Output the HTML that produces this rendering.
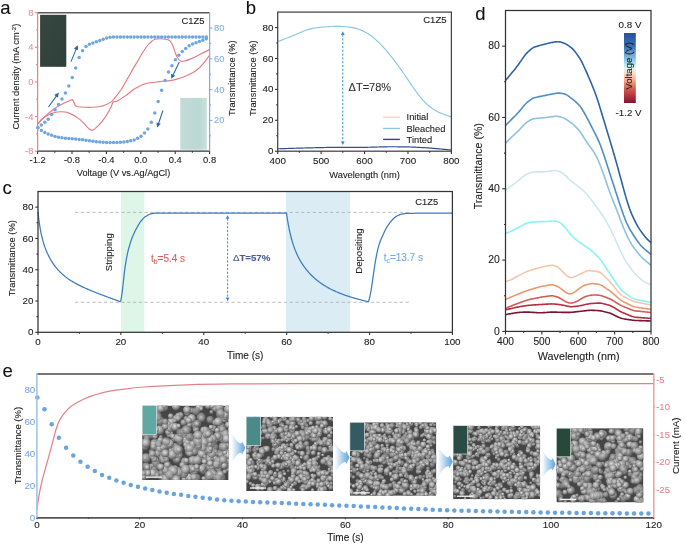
<!DOCTYPE html>
<html><head><meta charset="utf-8"><style>
html,body{margin:0;padding:0;background:#fff;}
svg{display:block;will-change:transform;}
text{font-family:"Liberation Sans",sans-serif;}
</style></head><body>
<svg width="685" height="545" viewBox="0 0 685 545" font-family="Liberation Sans, sans-serif">
<rect width="685" height="545" fill="#fff"/>
<defs><linearGradient id="ph1" x1="0" y1="0" x2="1" y2="1"><stop offset="0" stop-color="#36463f"/><stop offset="1" stop-color="#2f403c"/></linearGradient><linearGradient id="ph2" x1="0" y1="0" x2="1" y2="0"><stop offset="0" stop-color="#c2dcd8"/><stop offset="0.7" stop-color="#bcd8d4"/><stop offset="1" stop-color="#c8e0dc"/></linearGradient></defs>
<rect x="40.1" y="14.8" width="26.2" height="52" fill="url(#ph1)"/>
<rect x="180.3" y="97.9" width="26.5" height="51.8" fill="url(#ph2)"/>
<path d="M37.60,124.30 C38.70,123.10 41.35,119.73 44.20,117.10 C47.05,114.47 51.20,110.92 54.70,108.50 C58.20,106.08 62.57,103.97 65.20,102.60 C67.83,101.23 69.32,100.80 70.50,100.30 C71.68,99.80 71.78,99.40 72.30,99.60 C72.82,99.80 73.10,100.50 73.60,101.50 C74.10,102.50 74.57,104.72 75.30,105.60 C76.03,106.48 76.38,106.52 78.00,106.80 C79.62,107.08 82.53,107.22 85.00,107.30 C87.47,107.38 90.30,107.43 92.80,107.30 C95.30,107.17 97.95,106.88 100.00,106.50 C102.05,106.12 103.23,105.77 105.10,105.00 C106.97,104.23 109.52,103.17 111.20,101.90 C112.88,100.63 113.52,99.50 115.20,97.40 C116.88,95.30 119.12,92.67 121.30,89.30 C123.48,85.93 126.28,80.73 128.30,77.20 C130.32,73.67 131.72,70.97 133.40,68.10 C135.08,65.23 136.80,62.68 138.40,60.00 C140.00,57.32 141.40,54.50 143.00,52.00 C144.60,49.50 146.50,46.83 148.00,45.00 C149.50,43.17 150.83,41.97 152.00,41.00 C153.17,40.03 153.67,39.57 155.00,39.20 C156.33,38.83 158.17,38.78 160.00,38.80 C161.83,38.82 164.42,39.00 166.00,39.30 C167.58,39.60 168.58,39.98 169.50,40.60 C170.42,41.22 170.83,41.85 171.50,43.00 C172.17,44.15 172.83,45.75 173.50,47.50 C174.17,49.25 174.83,51.78 175.50,53.50 C176.17,55.22 176.75,56.62 177.50,57.80 C178.25,58.98 179.25,60.00 180.00,60.60 C180.75,61.20 181.17,61.33 182.00,61.40 C182.83,61.47 183.83,61.30 185.00,61.00 C186.17,60.70 187.33,60.27 189.00,59.60 C190.67,58.93 192.83,58.05 195.00,57.00 C197.17,55.95 199.57,54.53 202.00,53.30 C204.43,52.07 208.33,50.22 209.60,49.60" fill="none" stroke="#e47a82" stroke-width="1.15"/>
<path d="M37.60,124.30 C38.17,123.58 39.47,121.42 41.00,120.00 C42.53,118.58 44.80,116.97 46.80,115.80 C48.80,114.63 50.58,113.67 53.00,113.00 C55.42,112.33 58.60,111.78 61.30,111.80 C64.00,111.82 66.35,112.00 69.20,113.10 C72.05,114.20 75.93,116.68 78.40,118.40 C80.87,120.12 82.57,122.00 84.00,123.40 C85.43,124.80 86.08,125.82 87.00,126.80 C87.92,127.78 88.75,128.73 89.50,129.30 C90.25,129.87 90.83,130.13 91.50,130.20 C92.17,130.27 92.75,130.12 93.50,129.70 C94.25,129.28 95.08,128.52 96.00,127.70 C96.92,126.88 98.00,125.80 99.00,124.80 C100.00,123.80 100.50,123.70 102.00,121.70 C103.50,119.70 106.47,115.33 108.00,112.80 C109.53,110.27 110.33,108.30 111.20,106.50 C112.07,104.70 112.20,102.93 113.20,102.00 C114.20,101.07 115.18,101.92 117.20,100.90 C119.22,99.88 122.27,98.00 125.30,95.90 C128.33,93.80 132.12,90.33 135.40,88.30 C138.68,86.27 140.98,84.82 145.00,83.70 C149.02,82.58 155.33,82.12 159.50,81.60 C163.67,81.08 167.25,80.97 170.00,80.60 C172.75,80.23 173.67,80.03 176.00,79.40 C178.33,78.77 181.25,77.90 184.00,76.80 C186.75,75.70 190.17,74.10 192.50,72.80 C194.83,71.50 196.35,70.37 198.00,69.00 C199.65,67.63 201.07,66.07 202.40,64.60 C203.73,63.13 204.80,61.80 206.00,60.20 C207.20,58.60 209.00,55.87 209.60,55.00" fill="none" stroke="#e47a82" stroke-width="1.15"/>
<circle cx="37.90" cy="127.38" r="1.75" fill="#6ea6de"/>
<circle cx="37.90" cy="127.84" r="1.75" fill="#6ea6de"/>
<circle cx="41.34" cy="124.89" r="1.75" fill="#6ea6de"/>
<circle cx="41.34" cy="130.58" r="1.75" fill="#6ea6de"/>
<circle cx="44.77" cy="122.15" r="1.75" fill="#6ea6de"/>
<circle cx="44.77" cy="132.57" r="1.75" fill="#6ea6de"/>
<circle cx="48.21" cy="119.15" r="1.75" fill="#6ea6de"/>
<circle cx="48.21" cy="134.02" r="1.75" fill="#6ea6de"/>
<circle cx="51.65" cy="114.45" r="1.75" fill="#6ea6de"/>
<circle cx="51.65" cy="135.29" r="1.75" fill="#6ea6de"/>
<circle cx="55.08" cy="109.66" r="1.75" fill="#6ea6de"/>
<circle cx="55.08" cy="136.49" r="1.75" fill="#6ea6de"/>
<circle cx="58.52" cy="104.56" r="1.75" fill="#6ea6de"/>
<circle cx="58.52" cy="137.24" r="1.75" fill="#6ea6de"/>
<circle cx="61.96" cy="98.90" r="1.75" fill="#6ea6de"/>
<circle cx="61.96" cy="137.83" r="1.75" fill="#6ea6de"/>
<circle cx="65.40" cy="93.11" r="1.75" fill="#6ea6de"/>
<circle cx="65.40" cy="138.22" r="1.75" fill="#6ea6de"/>
<circle cx="68.83" cy="86.02" r="1.75" fill="#6ea6de"/>
<circle cx="68.83" cy="138.53" r="1.75" fill="#6ea6de"/>
<circle cx="72.27" cy="77.47" r="1.75" fill="#6ea6de"/>
<circle cx="72.27" cy="138.81" r="1.75" fill="#6ea6de"/>
<circle cx="75.71" cy="67.88" r="1.75" fill="#6ea6de"/>
<circle cx="75.71" cy="139.11" r="1.75" fill="#6ea6de"/>
<circle cx="79.14" cy="57.61" r="1.75" fill="#6ea6de"/>
<circle cx="79.14" cy="139.42" r="1.75" fill="#6ea6de"/>
<circle cx="82.58" cy="50.77" r="1.75" fill="#6ea6de"/>
<circle cx="82.58" cy="139.84" r="1.75" fill="#6ea6de"/>
<circle cx="86.02" cy="46.39" r="1.75" fill="#6ea6de"/>
<circle cx="86.02" cy="140.35" r="1.75" fill="#6ea6de"/>
<circle cx="89.45" cy="44.35" r="1.75" fill="#6ea6de"/>
<circle cx="89.45" cy="140.80" r="1.75" fill="#6ea6de"/>
<circle cx="92.89" cy="43.12" r="1.75" fill="#6ea6de"/>
<circle cx="92.89" cy="141.35" r="1.75" fill="#6ea6de"/>
<circle cx="96.33" cy="41.66" r="1.75" fill="#6ea6de"/>
<circle cx="96.33" cy="141.72" r="1.75" fill="#6ea6de"/>
<circle cx="99.77" cy="40.54" r="1.75" fill="#6ea6de"/>
<circle cx="99.77" cy="142.03" r="1.75" fill="#6ea6de"/>
<circle cx="103.20" cy="39.33" r="1.75" fill="#6ea6de"/>
<circle cx="103.20" cy="142.31" r="1.75" fill="#6ea6de"/>
<circle cx="106.64" cy="38.12" r="1.75" fill="#6ea6de"/>
<circle cx="106.64" cy="142.40" r="1.75" fill="#6ea6de"/>
<circle cx="110.08" cy="37.33" r="1.75" fill="#6ea6de"/>
<circle cx="110.08" cy="142.60" r="1.75" fill="#6ea6de"/>
<circle cx="113.51" cy="37.01" r="1.75" fill="#6ea6de"/>
<circle cx="113.51" cy="142.59" r="1.75" fill="#6ea6de"/>
<circle cx="116.95" cy="37.00" r="1.75" fill="#6ea6de"/>
<circle cx="116.95" cy="142.39" r="1.75" fill="#6ea6de"/>
<circle cx="120.39" cy="37.00" r="1.75" fill="#6ea6de"/>
<circle cx="120.39" cy="142.18" r="1.75" fill="#6ea6de"/>
<circle cx="123.82" cy="37.00" r="1.75" fill="#6ea6de"/>
<circle cx="123.82" cy="141.89" r="1.75" fill="#6ea6de"/>
<circle cx="127.26" cy="37.00" r="1.75" fill="#6ea6de"/>
<circle cx="127.26" cy="141.47" r="1.75" fill="#6ea6de"/>
<circle cx="130.70" cy="37.00" r="1.75" fill="#6ea6de"/>
<circle cx="130.70" cy="140.75" r="1.75" fill="#6ea6de"/>
<circle cx="134.14" cy="37.00" r="1.75" fill="#6ea6de"/>
<circle cx="134.14" cy="139.88" r="1.75" fill="#6ea6de"/>
<circle cx="137.57" cy="37.00" r="1.75" fill="#6ea6de"/>
<circle cx="137.57" cy="138.36" r="1.75" fill="#6ea6de"/>
<circle cx="141.01" cy="37.00" r="1.75" fill="#6ea6de"/>
<circle cx="141.01" cy="136.29" r="1.75" fill="#6ea6de"/>
<circle cx="144.45" cy="37.00" r="1.75" fill="#6ea6de"/>
<circle cx="144.45" cy="133.05" r="1.75" fill="#6ea6de"/>
<circle cx="147.88" cy="37.00" r="1.75" fill="#6ea6de"/>
<circle cx="147.88" cy="128.94" r="1.75" fill="#6ea6de"/>
<circle cx="151.32" cy="37.00" r="1.75" fill="#6ea6de"/>
<circle cx="151.32" cy="122.37" r="1.75" fill="#6ea6de"/>
<circle cx="154.76" cy="37.00" r="1.75" fill="#6ea6de"/>
<circle cx="154.76" cy="112.91" r="1.75" fill="#6ea6de"/>
<circle cx="158.19" cy="37.00" r="1.75" fill="#6ea6de"/>
<circle cx="158.19" cy="101.59" r="1.75" fill="#6ea6de"/>
<circle cx="161.63" cy="37.00" r="1.75" fill="#6ea6de"/>
<circle cx="161.63" cy="90.32" r="1.75" fill="#6ea6de"/>
<circle cx="165.07" cy="37.00" r="1.75" fill="#6ea6de"/>
<circle cx="165.07" cy="80.59" r="1.75" fill="#6ea6de"/>
<circle cx="168.51" cy="37.00" r="1.75" fill="#6ea6de"/>
<circle cx="168.51" cy="72.11" r="1.75" fill="#6ea6de"/>
<circle cx="171.94" cy="37.00" r="1.75" fill="#6ea6de"/>
<circle cx="171.94" cy="65.63" r="1.75" fill="#6ea6de"/>
<circle cx="175.38" cy="37.00" r="1.75" fill="#6ea6de"/>
<circle cx="175.38" cy="59.85" r="1.75" fill="#6ea6de"/>
<circle cx="178.82" cy="37.00" r="1.75" fill="#6ea6de"/>
<circle cx="178.82" cy="55.17" r="1.75" fill="#6ea6de"/>
<circle cx="182.25" cy="37.00" r="1.75" fill="#6ea6de"/>
<circle cx="182.25" cy="51.57" r="1.75" fill="#6ea6de"/>
<circle cx="185.69" cy="37.00" r="1.75" fill="#6ea6de"/>
<circle cx="185.69" cy="48.58" r="1.75" fill="#6ea6de"/>
<circle cx="189.13" cy="37.00" r="1.75" fill="#6ea6de"/>
<circle cx="189.13" cy="45.66" r="1.75" fill="#6ea6de"/>
<circle cx="192.56" cy="37.00" r="1.75" fill="#6ea6de"/>
<circle cx="192.56" cy="44.10" r="1.75" fill="#6ea6de"/>
<circle cx="196.00" cy="37.00" r="1.75" fill="#6ea6de"/>
<circle cx="196.00" cy="42.72" r="1.75" fill="#6ea6de"/>
<circle cx="199.44" cy="37.00" r="1.75" fill="#6ea6de"/>
<circle cx="199.44" cy="41.52" r="1.75" fill="#6ea6de"/>
<circle cx="202.88" cy="37.00" r="1.75" fill="#6ea6de"/>
<circle cx="202.88" cy="40.13" r="1.75" fill="#6ea6de"/>
<circle cx="206.31" cy="37.00" r="1.75" fill="#6ea6de"/>
<circle cx="206.31" cy="38.68" r="1.75" fill="#6ea6de"/>
<line x1="48.50" y1="107.00" x2="56.66" y2="95.59" stroke="#2a68a4" stroke-width="1.05" />
<path d="M58.80,92.60 L57.99,97.68 L54.25,95.00 Z" fill="#2a68a4"/>
<line x1="71.00" y1="61.60" x2="76.39" y2="48.60" stroke="#2a68a4" stroke-width="1.05" />
<path d="M77.80,45.20 L78.16,50.33 L73.91,48.57 Z" fill="#2a68a4"/>
<line x1="179.30" y1="62.00" x2="172.80" y2="75.49" stroke="#2a68a4" stroke-width="1.05" />
<path d="M171.20,78.80 L171.13,73.66 L175.27,75.66 Z" fill="#2a68a4"/>
<line x1="162.90" y1="110.50" x2="158.37" y2="124.01" stroke="#2a68a4" stroke-width="1.05" />
<path d="M157.20,127.50 L156.48,122.41 L160.84,123.87 Z" fill="#2a68a4"/>
<line x1="37.60" y1="12.70" x2="209.60" y2="12.70" stroke="#5a5a5a" stroke-width="1.5" />
<line x1="37.60" y1="151.20" x2="209.60" y2="151.20" stroke="#333" stroke-width="1.25" />
<line x1="37.60" y1="12.10" x2="37.60" y2="151.80" stroke="#e3848c" stroke-width="1.25" />
<line x1="209.60" y1="12.10" x2="209.60" y2="151.80" stroke="#7cb0e2" stroke-width="1.25" />
<line x1="37.60" y1="12.70" x2="34.90" y2="12.70" stroke="#e3848c" stroke-width="1.1" />
<text x="33.40" y="15.67" font-size="9.4" fill="#e8929a" stroke="#e8929a" stroke-width="0.1" text-anchor="end" >8</text>
<line x1="37.60" y1="47.33" x2="34.90" y2="47.33" stroke="#e3848c" stroke-width="1.1" />
<text x="33.40" y="50.29" font-size="9.4" fill="#e8929a" stroke="#e8929a" stroke-width="0.1" text-anchor="end" >4</text>
<line x1="37.60" y1="81.95" x2="34.90" y2="81.95" stroke="#e3848c" stroke-width="1.1" />
<text x="33.40" y="84.92" font-size="9.4" fill="#e8929a" stroke="#e8929a" stroke-width="0.1" text-anchor="end" >0</text>
<line x1="37.60" y1="116.57" x2="34.90" y2="116.57" stroke="#e3848c" stroke-width="1.1" />
<text x="33.40" y="119.54" font-size="9.4" fill="#e8929a" stroke="#e8929a" stroke-width="0.1" text-anchor="end" >-4</text>
<line x1="37.60" y1="151.20" x2="34.90" y2="151.20" stroke="#e3848c" stroke-width="1.1" />
<text x="33.40" y="154.16" font-size="9.4" fill="#e8929a" stroke="#e8929a" stroke-width="0.1" text-anchor="end" >-8</text>
<line x1="37.60" y1="30.01" x2="36.10" y2="30.01" stroke="#e3848c" stroke-width="1.1" />
<line x1="37.60" y1="64.64" x2="36.10" y2="64.64" stroke="#e3848c" stroke-width="1.1" />
<line x1="37.60" y1="99.26" x2="36.10" y2="99.26" stroke="#e3848c" stroke-width="1.1" />
<line x1="37.60" y1="133.89" x2="36.10" y2="133.89" stroke="#e3848c" stroke-width="1.1" />
<line x1="209.60" y1="120.42" x2="212.30" y2="120.42" stroke="#7cb0e2" stroke-width="1.1" />
<text x="214.00" y="123.39" font-size="9.4" fill="#84b2de" stroke="#84b2de" stroke-width="0.1" text-anchor="start" >20</text>
<line x1="209.60" y1="89.64" x2="212.30" y2="89.64" stroke="#7cb0e2" stroke-width="1.1" />
<text x="214.00" y="92.61" font-size="9.4" fill="#84b2de" stroke="#84b2de" stroke-width="0.1" text-anchor="start" >40</text>
<line x1="209.60" y1="58.86" x2="212.30" y2="58.86" stroke="#7cb0e2" stroke-width="1.1" />
<text x="214.00" y="61.83" font-size="9.4" fill="#84b2de" stroke="#84b2de" stroke-width="0.1" text-anchor="start" >60</text>
<line x1="209.60" y1="28.08" x2="212.30" y2="28.08" stroke="#7cb0e2" stroke-width="1.1" />
<text x="214.00" y="31.05" font-size="9.4" fill="#84b2de" stroke="#84b2de" stroke-width="0.1" text-anchor="start" >80</text>
<line x1="209.60" y1="135.81" x2="211.10" y2="135.81" stroke="#7cb0e2" stroke-width="1.1" />
<line x1="209.60" y1="105.03" x2="211.10" y2="105.03" stroke="#7cb0e2" stroke-width="1.1" />
<line x1="209.60" y1="74.25" x2="211.10" y2="74.25" stroke="#7cb0e2" stroke-width="1.1" />
<line x1="209.60" y1="43.47" x2="211.10" y2="43.47" stroke="#7cb0e2" stroke-width="1.1" />
<line x1="37.60" y1="151.20" x2="37.60" y2="153.90" stroke="#333" stroke-width="1.1" />
<text x="37.60" y="163.07" font-size="9.4" fill="#222" stroke="#222" stroke-width="0.1" text-anchor="middle" >-1.2</text>
<line x1="72.00" y1="151.20" x2="72.00" y2="153.90" stroke="#333" stroke-width="1.1" />
<text x="72.00" y="163.07" font-size="9.4" fill="#222" stroke="#222" stroke-width="0.1" text-anchor="middle" >-0.8</text>
<line x1="106.40" y1="151.20" x2="106.40" y2="153.90" stroke="#333" stroke-width="1.1" />
<text x="106.40" y="163.07" font-size="9.4" fill="#222" stroke="#222" stroke-width="0.1" text-anchor="middle" >-0.4</text>
<line x1="140.80" y1="151.20" x2="140.80" y2="153.90" stroke="#333" stroke-width="1.1" />
<text x="140.80" y="163.07" font-size="9.4" fill="#222" stroke="#222" stroke-width="0.1" text-anchor="middle" >0.0</text>
<line x1="175.20" y1="151.20" x2="175.20" y2="153.90" stroke="#333" stroke-width="1.1" />
<text x="175.20" y="163.07" font-size="9.4" fill="#222" stroke="#222" stroke-width="0.1" text-anchor="middle" >0.4</text>
<line x1="209.60" y1="151.20" x2="209.60" y2="153.90" stroke="#333" stroke-width="1.1" />
<text x="209.60" y="163.07" font-size="9.4" fill="#222" stroke="#222" stroke-width="0.1" text-anchor="middle" >0.8</text>
<line x1="54.80" y1="151.20" x2="54.80" y2="152.70" stroke="#333" stroke-width="1.1" />
<line x1="89.20" y1="151.20" x2="89.20" y2="152.70" stroke="#333" stroke-width="1.1" />
<line x1="123.60" y1="151.20" x2="123.60" y2="152.70" stroke="#333" stroke-width="1.1" />
<line x1="158.00" y1="151.20" x2="158.00" y2="152.70" stroke="#333" stroke-width="1.1" />
<line x1="192.40" y1="151.20" x2="192.40" y2="152.70" stroke="#333" stroke-width="1.1" />
<text x="123.50" y="175.60" font-size="9.2" fill="#222" stroke="#222" stroke-width="0.1" text-anchor="middle" >Voltage (V vs.Ag/AgCl)</text>
<text transform="translate(18.8,76.6) rotate(-90)" font-size="9.3" fill="#222" stroke="#222" stroke-width="0.1" text-anchor="middle">Current density (mA cm<tspan dy="-3.2" font-size="6.2">-2</tspan><tspan dy="3.2">)</tspan></text>
<text transform="translate(235.00,78.20) rotate(-90)" font-size="9.3" fill="#222" stroke="#222" stroke-width="0.1" text-anchor="middle">Transmittance (%)</text>
<text x="192.90" y="24.00" font-size="9.4" fill="#222" stroke="#222" stroke-width="0.1" text-anchor="middle" >C1Z5</text>
<text x="0.30" y="13.90" font-size="18.5" fill="#111" stroke="#111" stroke-width="0.1" text-anchor="start" >a</text>
<path d="M277.70,41.60 L278.70,41.22 L279.70,40.85 L280.70,40.47 L281.70,40.09 L282.70,39.72 L283.70,39.34 L284.70,38.96 L285.70,38.58 L286.70,38.20 L287.70,37.81 L288.70,37.41 L289.70,37.01 L290.70,36.61 L291.70,36.20 L292.70,35.79 L293.70,35.38 L294.70,34.96 L295.70,34.54 L296.70,34.12 L297.70,33.69 L298.70,33.25 L299.70,32.81 L300.70,32.36 L301.70,31.93 L302.70,31.50 L303.70,31.08 L304.70,30.69 L305.70,30.32 L306.70,29.97 L307.70,29.66 L308.70,29.36 L309.70,29.08 L310.70,28.82 L311.70,28.59 L312.70,28.38 L313.70,28.20 L314.70,28.04 L315.70,27.90 L316.70,27.77 L317.70,27.64 L318.70,27.52 L319.70,27.40 L320.70,27.28 L321.70,27.17 L322.70,27.06 L323.70,26.96 L324.70,26.87 L325.70,26.80 L326.70,26.74 L327.70,26.68 L328.70,26.64 L329.70,26.59 L330.70,26.55 L331.70,26.51 L332.70,26.47 L333.70,26.44 L334.70,26.41 L335.70,26.39 L336.70,26.38 L337.70,26.38 L338.70,26.39 L339.70,26.41 L340.70,26.44 L341.70,26.47 L342.70,26.51 L343.70,26.56 L344.70,26.62 L345.70,26.70 L346.70,26.79 L347.70,26.89 L348.70,27.01 L349.70,27.15 L350.70,27.31 L351.70,27.48 L352.70,27.68 L353.70,27.91 L354.70,28.15 L355.70,28.40 L356.70,28.67 L357.70,28.95 L358.70,29.26 L359.70,29.59 L360.70,29.97 L361.70,30.40 L362.70,30.86 L363.70,31.37 L364.70,31.90 L365.70,32.45 L366.70,33.01 L367.70,33.59 L368.70,34.19 L369.70,34.81 L370.70,35.49 L371.70,36.22 L372.70,37.00 L373.70,37.84 L374.70,38.72 L375.70,39.63 L376.70,40.55 L377.70,41.50 L378.70,42.45 L379.70,43.43 L380.70,44.43 L381.70,45.46 L382.70,46.50 L383.70,47.56 L384.70,48.65 L385.70,49.77 L386.70,50.91 L387.70,52.09 L388.70,53.30 L389.70,54.53 L390.70,55.78 L391.70,57.05 L392.70,58.34 L393.70,59.64 L394.70,60.96 L395.70,62.30 L396.70,63.64 L397.70,65.00 L398.70,66.37 L399.70,67.77 L400.70,69.17 L401.70,70.60 L402.70,72.04 L403.70,73.49 L404.70,74.95 L405.70,76.42 L406.70,77.90 L407.70,79.38 L408.70,80.88 L409.70,82.37 L410.70,83.86 L411.70,85.33 L412.70,86.79 L413.70,88.23 L414.70,89.65 L415.70,91.05 L416.70,92.42 L417.70,93.76 L418.70,95.06 L419.70,96.33 L420.70,97.55 L421.70,98.72 L422.70,99.86 L423.70,100.95 L424.70,102.00 L425.70,103.00 L426.70,103.96 L427.70,104.86 L428.70,105.71 L429.70,106.52 L430.70,107.29 L431.70,108.03 L432.70,108.72 L433.70,109.38 L434.70,109.99 L435.70,110.58 L436.70,111.13 L437.70,111.66 L438.70,112.15 L439.70,112.63 L440.70,113.07 L441.70,113.49 L442.70,113.89 L443.70,114.27 L444.70,114.64 L445.70,115.00 L446.70,115.35 L447.70,115.69 L448.70,116.02 L449.70,116.35 L450.70,116.67 L451.20,116.84" fill="none" stroke="#8cc6e4" stroke-width="1.15"/>
<path d="M277.70,148.80 L278.70,148.77 L279.70,148.74 L280.70,148.71 L281.70,148.67 L282.70,148.64 L283.70,148.61 L284.70,148.58 L285.70,148.55 L286.70,148.52 L287.70,148.49 L288.70,148.45 L289.70,148.42 L290.70,148.39 L291.70,148.36 L292.70,148.33 L293.70,148.30 L294.70,148.27 L295.70,148.24 L296.70,148.21 L297.70,148.18 L298.70,148.15 L299.70,148.12 L300.70,148.09 L301.70,148.07 L302.70,148.04 L303.70,148.01 L304.70,147.99 L305.70,147.96 L306.70,147.94 L307.70,147.91 L308.70,147.89 L309.70,147.86 L310.70,147.84 L311.70,147.82 L312.70,147.79 L313.70,147.77 L314.70,147.74 L315.70,147.72 L316.70,147.70 L317.70,147.67 L318.70,147.65 L319.70,147.62 L320.70,147.60 L321.70,147.57 L322.70,147.55 L323.70,147.53 L324.70,147.50 L325.70,147.48 L326.70,147.46 L327.70,147.43 L328.70,147.41 L329.70,147.39 L330.70,147.38 L331.70,147.36 L332.70,147.35 L333.70,147.35 L334.70,147.34 L335.70,147.34 L336.70,147.34 L337.70,147.34 L338.70,147.35 L339.70,147.35 L340.70,147.36 L341.70,147.36 L342.70,147.37 L343.70,147.38 L344.70,147.39 L345.70,147.39 L346.70,147.40 L347.70,147.41 L348.70,147.42 L349.70,147.42 L350.70,147.43 L351.70,147.44 L352.70,147.44 L353.70,147.45 L354.70,147.45 L355.70,147.46 L356.70,147.46 L357.70,147.46 L358.70,147.45 L359.70,147.45 L360.70,147.44 L361.70,147.42 L362.70,147.40 L363.70,147.38 L364.70,147.36 L365.70,147.34 L366.70,147.31 L367.70,147.29 L368.70,147.26 L369.70,147.23 L370.70,147.20 L371.70,147.18 L372.70,147.15 L373.70,147.12 L374.70,147.09 L375.70,147.07 L376.70,147.04 L377.70,147.01 L378.70,146.98 L379.70,146.96 L380.70,146.93 L381.70,146.90 L382.70,146.88 L383.70,146.85 L384.70,146.83 L385.70,146.81 L386.70,146.79 L387.70,146.77 L388.70,146.76 L389.70,146.75 L390.70,146.75 L391.70,146.75 L392.70,146.75 L393.70,146.75 L394.70,146.76 L395.70,146.77 L396.70,146.77 L397.70,146.78 L398.70,146.79 L399.70,146.80 L400.70,146.81 L401.70,146.82 L402.70,146.83 L403.70,146.84 L404.70,146.86 L405.70,146.87 L406.70,146.89 L407.70,146.91 L408.70,146.93 L409.70,146.96 L410.70,147.00 L411.70,147.03 L412.70,147.08 L413.70,147.12 L414.70,147.17 L415.70,147.22 L416.70,147.27 L417.70,147.33 L418.70,147.38 L419.70,147.43 L420.70,147.49 L421.70,147.54 L422.70,147.60 L423.70,147.66 L424.70,147.71 L425.70,147.77 L426.70,147.84 L427.70,147.90 L428.70,147.97 L429.70,148.04 L430.70,148.11 L431.70,148.19 L432.70,148.28 L433.70,148.36 L434.70,148.45 L435.70,148.54 L436.70,148.63 L437.70,148.72 L438.70,148.81 L439.70,148.91 L440.70,149.00 L441.70,149.09 L442.70,149.19 L443.70,149.28 L444.70,149.37 L445.70,149.47 L446.70,149.56 L447.70,149.65 L448.70,149.75 L449.70,149.84 L450.70,149.93 L451.20,149.98" fill="none" stroke="#30508f" stroke-width="1.2"/>
<line x1="342.80" y1="34.50" x2="342.80" y2="141.80" stroke="#3d8ad6" stroke-width="1.0" stroke-dasharray="2.2,1.6"/>
<path d="M342.80,31.30 L344.70,34.90 L340.90,34.90 Z" fill="#3d8ad6"/>
<path d="M342.80,145.00 L340.90,141.40 L344.70,141.40 Z" fill="#3d8ad6"/>
<text x="348.60" y="91.40" font-size="11" fill="#333" stroke="#333" stroke-width="0.1" text-anchor="start" >ΔT=78%</text>
<line x1="383.10" y1="117.20" x2="399.90" y2="117.20" stroke="#f3cbb6" stroke-width="1.2" />
<line x1="383.10" y1="128.40" x2="399.90" y2="128.40" stroke="#8cc6e4" stroke-width="1.2" />
<line x1="383.10" y1="139.40" x2="399.90" y2="139.40" stroke="#2a4a8e" stroke-width="1.4" />
<text x="406.60" y="120.30" font-size="9.3" fill="#222" stroke="#222" stroke-width="0.1" text-anchor="start" >Initial</text>
<text x="406.60" y="131.70" font-size="9.3" fill="#222" stroke="#222" stroke-width="0.1" text-anchor="start" >Bleached</text>
<text x="406.60" y="142.70" font-size="9.3" fill="#222" stroke="#222" stroke-width="0.1" text-anchor="start" >Tinted</text>
<text x="434.90" y="23.30" font-size="9.6" fill="#222" stroke="#222" stroke-width="0.1" text-anchor="middle" >C1Z5</text>
<rect x="277.7" y="12.1" width="173.7" height="139.1" fill="none" stroke="#444" stroke-width="1.25"/>
<line x1="277.70" y1="151.20" x2="275.00" y2="151.20" stroke="#333" stroke-width="1.1" />
<text x="273.40" y="154.31" font-size="9.8" fill="#222" stroke="#222" stroke-width="0.1" text-anchor="end" >0</text>
<line x1="277.70" y1="120.29" x2="275.00" y2="120.29" stroke="#333" stroke-width="1.1" />
<text x="273.40" y="123.40" font-size="9.8" fill="#222" stroke="#222" stroke-width="0.1" text-anchor="end" >20</text>
<line x1="277.70" y1="89.38" x2="275.00" y2="89.38" stroke="#333" stroke-width="1.1" />
<text x="273.40" y="92.49" font-size="9.8" fill="#222" stroke="#222" stroke-width="0.1" text-anchor="end" >40</text>
<line x1="277.70" y1="58.47" x2="275.00" y2="58.47" stroke="#333" stroke-width="1.1" />
<text x="273.40" y="61.58" font-size="9.8" fill="#222" stroke="#222" stroke-width="0.1" text-anchor="end" >60</text>
<line x1="277.70" y1="27.56" x2="275.00" y2="27.56" stroke="#333" stroke-width="1.1" />
<text x="273.40" y="30.66" font-size="9.8" fill="#222" stroke="#222" stroke-width="0.1" text-anchor="end" >80</text>
<line x1="277.70" y1="135.74" x2="276.20" y2="135.74" stroke="#333" stroke-width="1.1" />
<line x1="277.70" y1="104.83" x2="276.20" y2="104.83" stroke="#333" stroke-width="1.1" />
<line x1="277.70" y1="73.92" x2="276.20" y2="73.92" stroke="#333" stroke-width="1.1" />
<line x1="277.70" y1="43.01" x2="276.20" y2="43.01" stroke="#333" stroke-width="1.1" />
<line x1="277.70" y1="151.20" x2="277.70" y2="153.90" stroke="#333" stroke-width="1.1" />
<text x="277.70" y="163.81" font-size="9.8" fill="#222" stroke="#222" stroke-width="0.1" text-anchor="middle" >400</text>
<line x1="321.12" y1="151.20" x2="321.12" y2="153.90" stroke="#333" stroke-width="1.1" />
<text x="321.12" y="163.81" font-size="9.8" fill="#222" stroke="#222" stroke-width="0.1" text-anchor="middle" >500</text>
<line x1="364.55" y1="151.20" x2="364.55" y2="153.90" stroke="#333" stroke-width="1.1" />
<text x="364.55" y="163.81" font-size="9.8" fill="#222" stroke="#222" stroke-width="0.1" text-anchor="middle" >600</text>
<line x1="407.98" y1="151.20" x2="407.98" y2="153.90" stroke="#333" stroke-width="1.1" />
<text x="407.98" y="163.81" font-size="9.8" fill="#222" stroke="#222" stroke-width="0.1" text-anchor="middle" >700</text>
<line x1="451.40" y1="151.20" x2="451.40" y2="153.90" stroke="#333" stroke-width="1.1" />
<text x="451.40" y="163.81" font-size="9.8" fill="#222" stroke="#222" stroke-width="0.1" text-anchor="middle" >800</text>
<line x1="299.41" y1="151.20" x2="299.41" y2="152.70" stroke="#333" stroke-width="1.1" />
<line x1="342.84" y1="151.20" x2="342.84" y2="152.70" stroke="#333" stroke-width="1.1" />
<line x1="386.26" y1="151.20" x2="386.26" y2="152.70" stroke="#333" stroke-width="1.1" />
<line x1="429.69" y1="151.20" x2="429.69" y2="152.70" stroke="#333" stroke-width="1.1" />
<text x="364.60" y="178.10" font-size="9.3" fill="#222" stroke="#222" stroke-width="0.1" text-anchor="middle" >Wavelength (nm)</text>
<text transform="translate(255.60,78.20) rotate(-90)" font-size="9.3" fill="#222" stroke="#222" stroke-width="0.1" text-anchor="middle">Transmittance (%)</text>
<text x="245.80" y="14.00" font-size="18.5" fill="#111" stroke="#111" stroke-width="0.1" text-anchor="start" >b</text>
<rect x="121.0" y="191.5" width="23.3" height="140.8" fill="#ddf6e8"/>
<rect x="286.0" y="191.5" width="64.2" height="140.8" fill="#dcecf4"/>
<line x1="75.00" y1="212.40" x2="408.70" y2="212.40" stroke="#b4b4b4" stroke-width="0.9" stroke-dasharray="3.2,2.6"/>
<line x1="75.00" y1="302.30" x2="408.70" y2="302.30" stroke="#b4b4b4" stroke-width="0.9" stroke-dasharray="3.2,2.6"/>
<path d="M38.00,211.92 L38.50,216.51 L39.00,220.55 L39.50,224.12 L40.00,227.31 L40.50,230.18 L41.00,232.77 L41.50,235.13 L42.00,237.29 L42.50,239.28 L43.00,241.12 L43.50,242.84 L44.00,244.45 L44.50,245.96 L45.00,247.39 L45.50,248.74 L46.00,250.02 L46.50,251.24 L47.00,252.41 L47.50,253.53 L48.00,254.60 L48.50,255.63 L49.00,256.62 L49.50,257.57 L50.00,258.49 L50.50,259.38 L51.00,260.24 L51.50,261.07 L52.00,261.87 L52.50,262.64 L53.00,263.40 L53.50,264.13 L54.00,264.84 L54.50,265.52 L55.00,266.19 L55.50,266.84 L56.00,267.47 L56.50,268.08 L57.00,268.68 L57.50,269.26 L58.00,269.83 L58.50,270.38 L59.00,270.91 L59.50,271.43 L60.00,271.94 L60.50,272.44 L61.00,272.92 L61.50,273.40 L62.00,273.86 L62.50,274.31 L63.00,274.75 L63.50,275.18 L64.00,275.60 L64.50,276.01 L65.00,276.42 L65.50,276.81 L66.00,277.20 L66.50,277.57 L67.00,277.95 L67.50,278.31 L68.00,278.67 L68.50,279.01 L69.00,279.36 L69.50,279.69 L70.00,280.03 L70.50,280.35 L71.00,280.67 L71.50,280.98 L72.00,281.29 L72.50,281.60 L73.00,281.90 L73.50,282.19 L74.00,282.48 L74.50,282.77 L75.00,283.05 L75.50,283.33 L76.00,283.60 L76.50,283.87 L77.00,284.14 L77.50,284.40 L78.00,284.66 L78.50,284.92 L79.00,285.17 L79.50,285.43 L80.00,285.67 L80.50,285.92 L81.00,286.16 L81.50,286.40 L82.00,286.64 L82.50,286.88 L83.00,287.11 L83.50,287.34 L84.00,287.57 L84.50,287.80 L85.00,288.03 L85.50,288.25 L86.00,288.47 L86.50,288.69 L87.00,288.91 L87.50,289.13 L88.00,289.34 L88.50,289.56 L89.00,289.77 L89.50,289.98 L90.00,290.19 L90.50,290.40 L91.00,290.61 L91.50,290.82 L92.00,291.02 L92.50,291.23 L93.00,291.43 L93.50,291.63 L94.00,291.84 L94.50,292.04 L95.00,292.24 L95.50,292.43 L96.00,292.63 L96.50,292.83 L97.00,293.03 L97.50,293.22 L98.00,293.42 L98.50,293.61 L99.00,293.81 L99.50,294.00 L100.00,294.19 L100.50,294.38 L101.00,294.58 L101.50,294.77 L102.00,294.96 L102.50,295.15 L103.00,295.34 L103.50,295.53 L104.00,295.71 L104.50,295.90 L105.00,296.09 L105.50,296.28 L106.00,296.46 L106.50,296.65 L107.00,296.84 L107.50,297.02 L108.00,297.21 L108.50,297.39 L109.00,297.58 L109.50,297.76 L110.00,297.95 L110.50,298.13 L111.00,298.32 L111.50,298.50 L112.00,298.68 L112.50,298.87 L113.00,299.05 L113.50,299.23 L114.00,299.41 L114.50,299.60 L115.00,299.78 L115.50,299.96 L116.00,300.14 L116.50,300.32 L117.00,300.51 L117.50,300.69 L118.00,300.87 L118.50,301.05 L119.00,301.23 L119.50,301.41 L120.00,301.59 L120.50,301.77 L120.60,301.81" fill="none" stroke="#3b7cc0" stroke-width="1.25" stroke-linejoin="round"/>
<path d="M286.40,212.64 L286.90,216.10 L287.40,219.31 L287.90,222.30 L288.40,225.09 L288.90,227.70 L289.40,230.14 L289.90,232.43 L290.40,234.58 L290.90,236.60 L291.40,238.51 L291.90,240.32 L292.40,242.02 L292.90,243.64 L293.40,245.18 L293.90,246.64 L294.40,248.03 L294.90,249.36 L295.40,250.63 L295.90,251.85 L296.40,253.01 L296.90,254.13 L297.40,255.21 L297.90,256.25 L298.40,257.25 L298.90,258.21 L299.40,259.14 L299.90,260.04 L300.40,260.91 L300.90,261.76 L301.40,262.58 L301.90,263.38 L302.40,264.15 L302.90,264.90 L303.40,265.63 L303.90,266.34 L304.40,267.04 L304.90,267.71 L305.40,268.37 L305.90,269.02 L306.40,269.65 L306.90,270.26 L307.40,270.86 L307.90,271.45 L308.40,272.02 L308.90,272.58 L309.40,273.13 L309.90,273.67 L310.40,274.20 L310.90,274.71 L311.40,275.22 L311.90,275.71 L312.40,276.20 L312.90,276.67 L313.40,277.14 L313.90,277.60 L314.40,278.05 L314.90,278.49 L315.40,278.92 L315.90,279.34 L316.40,279.76 L316.90,280.17 L317.40,280.57 L317.90,280.96 L318.40,281.35 L318.90,281.73 L319.40,282.11 L319.90,282.47 L320.40,282.84 L320.90,283.19 L321.40,283.54 L321.90,283.88 L322.40,284.22 L322.90,284.55 L323.40,284.88 L323.90,285.20 L324.40,285.51 L324.90,285.82 L325.40,286.13 L325.90,286.43 L326.40,286.73 L326.90,287.02 L327.40,287.31 L327.90,287.59 L328.40,287.87 L328.90,288.14 L329.40,288.41 L329.90,288.67 L330.40,288.94 L330.90,289.19 L331.40,289.45 L331.90,289.70 L332.40,289.94 L332.90,290.19 L333.40,290.42 L333.90,290.66 L334.40,290.89 L334.90,291.12 L335.40,291.35 L335.90,291.57 L336.40,291.79 L336.90,292.01 L337.40,292.22 L337.90,292.43 L338.40,292.64 L338.90,292.85 L339.40,293.05 L339.90,293.25 L340.40,293.45 L340.90,293.64 L341.40,293.84 L341.90,294.03 L342.40,294.21 L342.90,294.40 L343.40,294.58 L343.90,294.76 L344.40,294.94 L344.90,295.12 L345.40,295.29 L345.90,295.47 L346.40,295.64 L346.90,295.81 L347.40,295.97 L347.90,296.14 L348.40,296.30 L348.90,296.46 L349.40,296.62 L349.90,296.78 L350.40,296.94 L350.90,297.09 L351.40,297.25 L351.90,297.40 L352.40,297.55 L352.90,297.70 L353.40,297.84 L353.90,297.99 L354.40,298.13 L354.90,298.28 L355.40,298.42 L355.90,298.56 L356.40,298.70 L356.90,298.84 L357.40,298.97 L357.90,299.11 L358.40,299.24 L358.90,299.38 L359.40,299.51 L359.90,299.64 L360.40,299.77 L360.90,299.90 L361.40,300.03 L361.90,300.15 L362.40,300.28 L362.90,300.40 L363.40,300.53 L363.90,300.65 L364.40,300.77 L364.90,300.89 L365.40,301.01 L365.90,301.13 L366.40,301.25 L366.90,301.37 L367.40,301.49 L367.90,301.60 L368.40,301.72" fill="none" stroke="#3b7cc0" stroke-width="1.25" stroke-linejoin="round"/>
<path d="M120.60,301.60 L121.10,299.01 L121.60,296.13 L122.10,292.69 L122.60,288.66 L123.10,284.20 L123.60,279.59 L124.10,275.06 L124.60,270.79 L125.10,266.94 L125.60,263.57 L126.10,260.61 L126.60,257.89 L127.10,255.33 L127.60,252.94 L128.10,250.77 L128.60,248.83 L129.10,247.04 L129.60,245.34 L130.10,243.68 L130.60,242.06 L131.10,240.51 L131.60,239.07 L132.10,237.77 L132.60,236.57 L133.10,235.42 L133.60,234.29 L134.10,233.18 L134.60,232.09 L135.10,231.05 L135.60,230.06 L136.10,229.12 L136.60,228.21 L137.10,227.31 L137.60,226.42 L138.10,225.53 L138.60,224.65 L139.10,223.80 L139.60,223.00 L140.10,222.27 L140.60,221.62 L141.10,221.01 L141.60,220.43 L142.10,219.85 L142.60,219.28 L143.10,218.71 L143.60,218.16 L144.10,217.65 L144.60,217.21 L145.10,216.84 L145.60,216.51 L146.10,216.21 L146.60,215.92 L147.10,215.63 L147.60,215.34 L148.10,215.05 L148.60,214.76 L149.10,214.49 L149.60,214.25 L150.10,214.06 L150.60,213.92 L151.10,213.81 L151.60,213.72 L152.10,213.64 L152.60,213.56 L153.10,213.48 L153.60,213.39 L154.10,213.32 L154.60,213.24 L155.10,213.18 L155.60,213.13 L156.10,213.11 L156.60,213.09 L157.10,213.08 L157.60,213.08 L158.10,213.07 L158.60,213.07 L159.10,213.06 L159.60,213.06 L160.10,213.05 L160.60,213.05 L161.10,213.04 L161.60,213.04 L162.10,213.03 L162.60,213.03 L163.10,213.02 L163.60,213.01 L164.10,213.01 L164.60,213.01 L165.10,213.00 L165.60,213.00 L166.10,213.00 L166.60,213.00 L167.10,213.00 L167.60,213.00 L168.10,213.00 L168.60,213.00 L169.10,213.00 L169.60,213.00 L170.10,213.00 L170.60,213.00 L171.10,213.01 L171.60,213.01 L172.10,213.01 L172.60,213.01 L173.10,213.01 L173.60,213.01 L174.10,213.01 L174.60,213.01 L175.10,213.01 L175.60,213.01 L176.10,213.01 L176.60,213.01 L177.10,213.01 L177.60,213.01 L178.10,213.01 L178.60,213.01 L179.10,213.01 L179.60,213.01 L180.10,213.01 L180.60,213.01 L181.10,213.01 L181.60,213.01 L182.10,213.01 L182.60,213.01 L183.10,213.01 L183.60,213.02 L184.10,213.02 L184.60,213.02 L185.10,213.02 L185.60,213.02 L186.10,213.02 L186.60,213.02 L187.10,213.02 L187.60,213.02 L188.10,213.02 L188.60,213.02 L189.10,213.02 L189.60,213.02 L190.10,213.02 L190.60,213.02 L191.10,213.02 L191.60,213.02 L192.10,213.02 L192.60,213.02 L193.10,213.02 L193.60,213.02 L194.10,213.02 L194.60,213.02 L195.10,213.02 L195.60,213.03 L196.10,213.03 L196.60,213.03 L197.10,213.03 L197.60,213.03 L198.10,213.03 L198.60,213.03 L199.10,213.03 L199.60,213.03 L200.10,213.03 L200.60,213.03 L201.10,213.03 L201.60,213.03 L202.10,213.03 L202.60,213.03 L203.10,213.03 L203.60,213.03 L204.10,213.03 L204.60,213.03 L205.10,213.03 L205.60,213.03 L206.10,213.03 L206.60,213.03 L207.10,213.03 L207.60,213.04 L208.10,213.04 L208.60,213.04 L209.10,213.04 L209.60,213.04 L210.10,213.04 L210.60,213.04 L211.10,213.04 L211.60,213.04 L212.10,213.04 L212.60,213.04 L213.10,213.04 L213.60,213.04 L214.10,213.04 L214.60,213.04 L215.10,213.04 L215.60,213.04 L216.10,213.04 L216.60,213.04 L217.10,213.04 L217.60,213.04 L218.10,213.04 L218.60,213.04 L219.10,213.04 L219.60,213.04 L220.10,213.05 L220.60,213.05 L221.10,213.05 L221.60,213.05 L222.10,213.05 L222.60,213.05 L223.10,213.05 L223.60,213.05 L224.10,213.05 L224.60,213.05 L225.10,213.05 L225.60,213.05 L226.10,213.05 L226.60,213.05 L227.10,213.05 L227.60,213.05 L228.10,213.05 L228.60,213.05 L229.10,213.05 L229.60,213.05 L230.10,213.05 L230.60,213.05 L231.10,213.05 L231.60,213.05 L232.10,213.06 L232.60,213.06 L233.10,213.06 L233.60,213.06 L234.10,213.06 L234.60,213.06 L235.10,213.06 L235.60,213.06 L236.10,213.06 L236.60,213.06 L237.10,213.06 L237.60,213.06 L238.10,213.06 L238.60,213.06 L239.10,213.06 L239.60,213.06 L240.10,213.06 L240.60,213.06 L241.10,213.06 L241.60,213.06 L242.10,213.06 L242.60,213.06 L243.10,213.06 L243.60,213.06 L244.10,213.07 L244.60,213.07 L245.10,213.07 L245.60,213.07 L246.10,213.07 L246.60,213.07 L247.10,213.07 L247.60,213.07 L248.10,213.07 L248.60,213.07 L249.10,213.07 L249.60,213.07 L250.10,213.07 L250.60,213.07 L251.10,213.07 L251.60,213.07 L252.10,213.07 L252.60,213.07 L253.10,213.07 L253.60,213.07 L254.10,213.07 L254.60,213.07 L255.10,213.07 L255.60,213.07 L256.10,213.08 L256.60,213.08 L257.10,213.08 L257.60,213.08 L258.10,213.08 L258.60,213.08 L259.10,213.08 L259.60,213.08 L260.10,213.08 L260.60,213.08 L261.10,213.08 L261.60,213.08 L262.10,213.08 L262.60,213.08 L263.10,213.08 L263.60,213.08 L264.10,213.08 L264.60,213.08 L265.10,213.08 L265.60,213.08 L266.10,213.08 L266.60,213.08 L267.10,213.08 L267.60,213.08 L268.10,213.08 L268.60,213.09 L269.10,213.09 L269.60,213.09 L270.10,213.09 L270.60,213.09 L271.10,213.09 L271.60,213.09 L272.10,213.09 L272.60,213.09 L273.10,213.09 L273.60,213.09 L274.10,213.09 L274.60,213.09 L275.10,213.09 L275.60,213.09 L276.10,213.09 L276.60,213.09 L277.10,213.09 L277.60,213.09 L278.10,213.09 L278.60,213.09 L279.10,213.09 L279.60,213.09 L280.10,213.09 L280.60,213.10 L281.10,213.10 L281.60,213.10 L282.10,213.10 L282.60,213.10 L283.10,213.10 L283.60,213.10 L284.10,213.10 L284.60,213.10 L285.10,213.10 L285.60,213.10 L286.10,213.10 L286.35,213.10" fill="none" stroke="#3b7cc0" stroke-width="1.25" stroke-linejoin="round"/>
<path d="M368.40,302.00 L368.90,300.30 L369.40,298.50 L369.90,296.49 L370.40,294.18 L370.90,291.48 L371.40,288.41 L371.90,285.06 L372.40,281.56 L372.90,278.04 L373.40,274.54 L373.90,271.10 L374.40,267.75 L374.90,264.52 L375.40,261.45 L375.90,258.57 L376.40,255.87 L376.90,253.35 L377.40,251.02 L377.90,248.93 L378.40,247.04 L378.90,245.30 L379.40,243.67 L379.90,242.18 L380.40,240.83 L380.90,239.62 L381.40,238.49 L381.90,237.39 L382.40,236.30 L382.90,235.21 L383.40,234.10 L383.90,232.99 L384.40,231.87 L384.90,230.77 L385.40,229.72 L385.90,228.75 L386.40,227.87 L386.90,227.06 L387.40,226.28 L387.90,225.52 L388.40,224.78 L388.90,224.06 L389.40,223.37 L389.90,222.71 L390.40,222.09 L390.90,221.48 L391.40,220.88 L391.90,220.30 L392.40,219.73 L392.90,219.21 L393.40,218.72 L393.90,218.27 L394.40,217.83 L394.90,217.41 L395.40,216.99 L395.90,216.61 L396.40,216.27 L396.90,215.99 L397.40,215.74 L397.90,215.51 L398.40,215.29 L398.90,215.08 L399.40,214.87 L399.90,214.66 L400.40,214.48 L400.90,214.32 L401.40,214.19 L401.90,214.08 L402.40,213.98 L402.90,213.89 L403.40,213.80 L403.90,213.71 L404.40,213.63 L404.90,213.56 L405.40,213.50 L405.90,213.47 L406.40,213.44 L406.90,213.41 L407.40,213.39 L407.90,213.37 L408.40,213.35 L408.90,213.33 L409.40,213.31 L409.90,213.30 L410.40,213.29 L410.90,213.29 L411.40,213.28 L411.90,213.28 L412.40,213.27 L412.90,213.27 L413.40,213.26 L413.90,213.26 L414.40,213.25 L414.90,213.25 L415.40,213.24 L415.90,213.24 L416.40,213.23 L416.90,213.23 L417.40,213.22 L417.90,213.22 L418.40,213.22 L418.90,213.21 L419.40,213.21 L419.90,213.20 L420.40,213.20 L420.90,213.20 L421.40,213.20 L421.90,213.20 L422.40,213.20 L422.90,213.20 L423.40,213.20 L423.90,213.20 L424.40,213.20 L424.90,213.20 L425.40,213.20 L425.90,213.20 L426.40,213.20 L426.90,213.20 L427.40,213.20 L427.90,213.20 L428.40,213.20 L428.90,213.20 L429.40,213.20 L429.90,213.20 L430.40,213.20 L430.90,213.20 L431.40,213.20 L431.90,213.20 L432.40,213.20 L432.90,213.20 L433.40,213.20 L433.90,213.20 L434.40,213.20 L434.90,213.20 L435.40,213.20 L435.90,213.20 L436.40,213.20 L436.90,213.20 L437.40,213.20 L437.90,213.20 L438.40,213.20 L438.90,213.20 L439.40,213.20 L439.90,213.20 L440.40,213.20 L440.90,213.20 L441.40,213.20 L441.90,213.20 L442.40,213.20 L442.90,213.20 L443.40,213.20 L443.90,213.20 L444.40,213.20 L444.90,213.20 L445.40,213.20 L445.90,213.20 L446.40,213.20 L446.90,213.20 L447.40,213.20 L447.90,213.20 L448.40,213.20 L448.90,213.20 L449.40,213.20 L449.90,213.20 L450.40,213.20 L450.90,213.20 L451.40,213.20 L451.90,213.20 L452.40,213.20" fill="none" stroke="#3b7cc0" stroke-width="1.25" stroke-linejoin="round"/>
<line x1="227.60" y1="218.50" x2="227.60" y2="298.00" stroke="#3d8ad6" stroke-width="1.0" stroke-dasharray="2.2,1.6"/>
<path d="M227.60,215.20 L229.50,218.80 L225.70,218.80 Z" fill="#3d8ad6"/>
<path d="M227.60,301.20 L225.70,297.60 L229.50,297.60 Z" fill="#3d8ad6"/>
<text transform="translate(111.80,252.20) rotate(-90)" font-size="9.6" fill="#222" stroke="#222" stroke-width="0.1" text-anchor="middle">Stripping</text>
<text transform="translate(362.00,251.10) rotate(-90)" font-size="9.6" fill="#222" stroke="#222" stroke-width="0.1" text-anchor="middle">Depositing</text>
<text x="151.0" y="261.6" font-size="10" fill="#d9605a" stroke="#d9605a" stroke-width="0.1">t<tspan dy="2.2" font-size="6.8">b</tspan><tspan dy="-2.2">=5.4 s</tspan></text>
<text x="232.9" y="260.9" font-size="9.7" fill="#4a5f90" stroke="#4a5f90" stroke-width="0.1"><tspan>Δ</tspan><tspan font-weight="bold">T=57%</tspan></text>
<text x="383.7" y="260.8" font-size="10" fill="#74a9e4" stroke="#74a9e4" stroke-width="0.1">t<tspan dy="2.2" font-size="6.8">c</tspan><tspan dy="-2.2">=13.7 s</tspan></text>
<text x="426.80" y="204.90" font-size="9.4" fill="#222" stroke="#222" stroke-width="0.1" text-anchor="middle" >C1Z5</text>
<rect x="38.0" y="191.5" width="414.4" height="140.8" fill="none" stroke="#333" stroke-width="1.25"/>
<line x1="38.00" y1="332.30" x2="35.30" y2="332.30" stroke="#333" stroke-width="1.1" />
<text x="33.50" y="335.41" font-size="9.8" fill="#222" stroke="#222" stroke-width="0.1" text-anchor="end" >0</text>
<line x1="38.00" y1="301.01" x2="35.30" y2="301.01" stroke="#333" stroke-width="1.1" />
<text x="33.50" y="304.12" font-size="9.8" fill="#222" stroke="#222" stroke-width="0.1" text-anchor="end" >20</text>
<line x1="38.00" y1="269.72" x2="35.30" y2="269.72" stroke="#333" stroke-width="1.1" />
<text x="33.50" y="272.83" font-size="9.8" fill="#222" stroke="#222" stroke-width="0.1" text-anchor="end" >40</text>
<line x1="38.00" y1="238.43" x2="35.30" y2="238.43" stroke="#333" stroke-width="1.1" />
<text x="33.50" y="241.54" font-size="9.8" fill="#222" stroke="#222" stroke-width="0.1" text-anchor="end" >60</text>
<line x1="38.00" y1="207.14" x2="35.30" y2="207.14" stroke="#333" stroke-width="1.1" />
<text x="33.50" y="210.25" font-size="9.8" fill="#222" stroke="#222" stroke-width="0.1" text-anchor="end" >80</text>
<line x1="38.00" y1="316.66" x2="36.50" y2="316.66" stroke="#333" stroke-width="1.1" />
<line x1="38.00" y1="285.37" x2="36.50" y2="285.37" stroke="#333" stroke-width="1.1" />
<line x1="38.00" y1="254.08" x2="36.50" y2="254.08" stroke="#333" stroke-width="1.1" />
<line x1="38.00" y1="222.79" x2="36.50" y2="222.79" stroke="#333" stroke-width="1.1" />
<line x1="38.00" y1="332.30" x2="38.00" y2="335.00" stroke="#333" stroke-width="1.1" />
<text x="38.00" y="345.41" font-size="9.8" fill="#222" stroke="#222" stroke-width="0.1" text-anchor="middle" >0</text>
<line x1="120.88" y1="332.30" x2="120.88" y2="335.00" stroke="#333" stroke-width="1.1" />
<text x="120.88" y="345.41" font-size="9.8" fill="#222" stroke="#222" stroke-width="0.1" text-anchor="middle" >20</text>
<line x1="203.76" y1="332.30" x2="203.76" y2="335.00" stroke="#333" stroke-width="1.1" />
<text x="203.76" y="345.41" font-size="9.8" fill="#222" stroke="#222" stroke-width="0.1" text-anchor="middle" >40</text>
<line x1="286.64" y1="332.30" x2="286.64" y2="335.00" stroke="#333" stroke-width="1.1" />
<text x="286.64" y="345.41" font-size="9.8" fill="#222" stroke="#222" stroke-width="0.1" text-anchor="middle" >60</text>
<line x1="369.52" y1="332.30" x2="369.52" y2="335.00" stroke="#333" stroke-width="1.1" />
<text x="369.52" y="345.41" font-size="9.8" fill="#222" stroke="#222" stroke-width="0.1" text-anchor="middle" >80</text>
<line x1="452.40" y1="332.30" x2="452.40" y2="335.00" stroke="#333" stroke-width="1.1" />
<text x="452.40" y="345.41" font-size="9.8" fill="#222" stroke="#222" stroke-width="0.1" text-anchor="middle" >100</text>
<line x1="79.44" y1="332.30" x2="79.44" y2="333.80" stroke="#333" stroke-width="1.1" />
<line x1="162.32" y1="332.30" x2="162.32" y2="333.80" stroke="#333" stroke-width="1.1" />
<line x1="245.20" y1="332.30" x2="245.20" y2="333.80" stroke="#333" stroke-width="1.1" />
<line x1="328.08" y1="332.30" x2="328.08" y2="333.80" stroke="#333" stroke-width="1.1" />
<line x1="410.96" y1="332.30" x2="410.96" y2="333.80" stroke="#333" stroke-width="1.1" />
<text x="245.20" y="359.30" font-size="10" fill="#222" stroke="#222" stroke-width="0.1" text-anchor="middle" >Time (s)</text>
<text transform="translate(14.60,258.20) rotate(-90)" font-size="9.4" fill="#222" stroke="#222" stroke-width="0.1" text-anchor="middle">Transmittance (%)</text>
<text x="2.60" y="193.90" font-size="18.5" fill="#111" stroke="#111" stroke-width="0.1" text-anchor="start" >c</text>
<path d="M505.50,314.60 L506.50,314.43 L507.50,314.26 L508.50,314.08 L509.50,313.91 L510.50,313.74 L511.50,313.57 L512.50,313.40 L513.50,313.23 L514.50,313.05 L515.50,312.89 L516.50,312.73 L517.50,312.59 L518.50,312.47 L519.50,312.38 L520.50,312.32 L521.50,312.26 L522.50,312.22 L523.50,312.17 L524.50,312.13 L525.50,312.10 L526.50,312.08 L527.50,312.08 L528.50,312.11 L529.50,312.15 L530.50,312.21 L531.50,312.28 L532.50,312.35 L533.50,312.42 L534.50,312.49 L535.50,312.56 L536.50,312.63 L537.50,312.69 L538.50,312.75 L539.50,312.79 L540.50,312.80 L541.50,312.77 L542.50,312.73 L543.50,312.66 L544.50,312.59 L545.50,312.51 L546.50,312.44 L547.50,312.36 L548.50,312.29 L549.50,312.22 L550.50,312.15 L551.50,312.11 L552.50,312.08 L553.50,312.08 L554.50,312.10 L555.50,312.13 L556.50,312.17 L557.50,312.21 L558.50,312.25 L559.50,312.28 L560.50,312.32 L561.50,312.35 L562.50,312.37 L563.50,312.39 L564.50,312.40 L565.50,312.40 L566.50,312.40 L567.50,312.40 L568.50,312.39 L569.50,312.37 L570.50,312.33 L571.50,312.26 L572.50,312.18 L573.50,312.08 L574.50,311.98 L575.50,311.87 L576.50,311.76 L577.50,311.65 L578.50,311.54 L579.50,311.42 L580.50,311.31 L581.50,311.19 L582.50,311.07 L583.50,310.96 L584.50,310.84 L585.50,310.72 L586.50,310.60 L587.50,310.50 L588.50,310.40 L589.50,310.34 L590.50,310.30 L591.50,310.31 L592.50,310.33 L593.50,310.38 L594.50,310.42 L595.50,310.47 L596.50,310.52 L597.50,310.57 L598.50,310.64 L599.50,310.74 L600.50,310.87 L601.50,311.04 L602.50,311.25 L603.50,311.48 L604.50,311.72 L605.50,311.96 L606.50,312.21 L607.50,312.46 L608.50,312.72 L609.50,313.01 L610.50,313.35 L611.50,313.75 L612.50,314.19 L613.50,314.67 L614.50,315.17 L615.50,315.67 L616.50,316.18 L617.50,316.68 L618.50,317.16 L619.50,317.62 L620.50,318.01 L621.50,318.34 L622.50,318.59 L623.50,318.79 L624.50,318.96 L625.50,319.12 L626.50,319.28 L627.50,319.43 L628.50,319.59 L629.50,319.74 L630.50,319.90 L631.50,320.04 L632.50,320.18 L633.50,320.29 L634.50,320.38 L635.50,320.44 L636.50,320.49 L637.50,320.53 L638.50,320.57 L639.50,320.60 L640.50,320.64 L641.50,320.67 L642.50,320.71 L643.50,320.74 L644.50,320.77 L645.50,320.81 L646.50,320.84 L647.50,320.88 L648.50,320.91 L649.50,320.95 L650.50,320.98 L651.00,321.00" fill="none" stroke="#7a1432" stroke-width="1.6" stroke-linejoin="round"/>
<path d="M505.50,309.80 L506.50,309.57 L507.50,309.35 L508.50,309.12 L509.50,308.89 L510.50,308.67 L511.50,308.44 L512.50,308.21 L513.50,307.99 L514.50,307.76 L515.50,307.54 L516.50,307.32 L517.50,307.11 L518.50,306.91 L519.50,306.72 L520.50,306.55 L521.50,306.38 L522.50,306.22 L523.50,306.05 L524.50,305.89 L525.50,305.74 L526.50,305.59 L527.50,305.47 L528.50,305.36 L529.50,305.27 L530.50,305.19 L531.50,305.12 L532.50,305.05 L533.50,304.98 L534.50,304.91 L535.50,304.84 L536.50,304.77 L537.50,304.70 L538.50,304.63 L539.50,304.57 L540.50,304.50 L541.50,304.44 L542.50,304.38 L543.50,304.32 L544.50,304.26 L545.50,304.20 L546.50,304.14 L547.50,304.08 L548.50,304.03 L549.50,303.97 L550.50,303.93 L551.50,303.91 L552.50,303.93 L553.50,303.98 L554.50,304.05 L555.50,304.15 L556.50,304.26 L557.50,304.37 L558.50,304.48 L559.50,304.61 L560.50,304.76 L561.50,304.94 L562.50,305.13 L563.50,305.34 L564.50,305.56 L565.50,305.78 L566.50,306.00 L567.50,306.21 L568.50,306.40 L569.50,306.56 L570.50,306.66 L571.50,306.69 L572.50,306.65 L573.50,306.57 L574.50,306.47 L575.50,306.37 L576.50,306.25 L577.50,306.13 L578.50,305.98 L579.50,305.82 L580.50,305.63 L581.50,305.43 L582.50,305.21 L583.50,305.00 L584.50,304.78 L585.50,304.56 L586.50,304.34 L587.50,304.13 L588.50,303.94 L589.50,303.77 L590.50,303.63 L591.50,303.52 L592.50,303.43 L593.50,303.36 L594.50,303.29 L595.50,303.22 L596.50,303.16 L597.50,303.10 L598.50,303.07 L599.50,303.08 L600.50,303.15 L601.50,303.29 L602.50,303.49 L603.50,303.72 L604.50,303.96 L605.50,304.21 L606.50,304.47 L607.50,304.73 L608.50,305.01 L609.50,305.33 L610.50,305.72 L611.50,306.19 L612.50,306.73 L613.50,307.32 L614.50,307.93 L615.50,308.54 L616.50,309.17 L617.50,309.78 L618.50,310.39 L619.50,310.98 L620.50,311.54 L621.50,312.05 L622.50,312.51 L623.50,312.94 L624.50,313.36 L625.50,313.77 L626.50,314.18 L627.50,314.58 L628.50,314.99 L629.50,315.39 L630.50,315.79 L631.50,316.17 L632.50,316.52 L633.50,316.81 L634.50,317.03 L635.50,317.19 L636.50,317.30 L637.50,317.38 L638.50,317.46 L639.50,317.54 L640.50,317.61 L641.50,317.69 L642.50,317.76 L643.50,317.84 L644.50,317.91 L645.50,317.99 L646.50,318.06 L647.50,318.14 L648.50,318.21 L649.50,318.29 L650.50,318.36 L651.00,318.40" fill="none" stroke="#b82c40" stroke-width="1.6" stroke-linejoin="round"/>
<path d="M505.50,308.30 L506.50,307.90 L507.50,307.50 L508.50,307.10 L509.50,306.71 L510.50,306.31 L511.50,305.91 L512.50,305.51 L513.50,305.11 L514.50,304.71 L515.50,304.32 L516.50,303.92 L517.50,303.53 L518.50,303.15 L519.50,302.78 L520.50,302.41 L521.50,302.05 L522.50,301.69 L523.50,301.34 L524.50,300.98 L525.50,300.64 L526.50,300.31 L527.50,300.01 L528.50,299.75 L529.50,299.52 L530.50,299.30 L531.50,299.09 L532.50,298.89 L533.50,298.69 L534.50,298.49 L535.50,298.29 L536.50,298.09 L537.50,297.89 L538.50,297.69 L539.50,297.50 L540.50,297.32 L541.50,297.15 L542.50,296.99 L543.50,296.83 L544.50,296.68 L545.50,296.53 L546.50,296.38 L547.50,296.23 L548.50,296.08 L549.50,295.94 L550.50,295.84 L551.50,295.79 L552.50,295.82 L553.50,295.95 L554.50,296.16 L555.50,296.42 L556.50,296.72 L557.50,297.06 L558.50,297.47 L559.50,297.95 L560.50,298.51 L561.50,299.11 L562.50,299.72 L563.50,300.33 L564.50,300.91 L565.50,301.43 L566.50,301.90 L567.50,302.32 L568.50,302.68 L569.50,302.94 L570.50,303.07 L571.50,303.03 L572.50,302.86 L573.50,302.59 L574.50,302.26 L575.50,301.89 L576.50,301.47 L577.50,300.99 L578.50,300.45 L579.50,299.87 L580.50,299.26 L581.50,298.64 L582.50,298.05 L583.50,297.50 L584.50,297.02 L585.50,296.62 L586.50,296.29 L587.50,296.01 L588.50,295.74 L589.50,295.50 L590.50,295.29 L591.50,295.14 L592.50,295.04 L593.50,295.01 L594.50,295.01 L595.50,295.04 L596.50,295.07 L597.50,295.12 L598.50,295.19 L599.50,295.30 L600.50,295.49 L601.50,295.75 L602.50,296.07 L603.50,296.42 L604.50,296.79 L605.50,297.17 L606.50,297.55 L607.50,297.93 L608.50,298.33 L609.50,298.76 L610.50,299.22 L611.50,299.74 L612.50,300.31 L613.50,300.91 L614.50,301.53 L615.50,302.14 L616.50,302.77 L617.50,303.38 L618.50,303.99 L619.50,304.58 L620.50,305.14 L621.50,305.65 L622.50,306.11 L623.50,306.54 L624.50,306.96 L625.50,307.37 L626.50,307.78 L627.50,308.18 L628.50,308.59 L629.50,308.99 L630.50,309.39 L631.50,309.78 L632.50,310.13 L633.50,310.43 L634.50,310.67 L635.50,310.84 L636.50,310.98 L637.50,311.09 L638.50,311.20 L639.50,311.30 L640.50,311.41 L641.50,311.51 L642.50,311.62 L643.50,311.72 L644.50,311.82 L645.50,311.93 L646.50,312.03 L647.50,312.14 L648.50,312.24 L649.50,312.34 L650.50,312.45 L651.00,312.50" fill="none" stroke="#d45a55" stroke-width="1.6" stroke-linejoin="round"/>
<path d="M505.50,299.50 L506.50,299.07 L507.50,298.64 L508.50,298.21 L509.50,297.78 L510.50,297.35 L511.50,296.92 L512.50,296.49 L513.50,296.06 L514.50,295.63 L515.50,295.20 L516.50,294.78 L517.50,294.36 L518.50,293.95 L519.50,293.54 L520.50,293.14 L521.50,292.75 L522.50,292.36 L523.50,291.97 L524.50,291.58 L525.50,291.19 L526.50,290.82 L527.50,290.47 L528.50,290.15 L529.50,289.84 L530.50,289.54 L531.50,289.25 L532.50,288.97 L533.50,288.68 L534.50,288.39 L535.50,288.11 L536.50,287.82 L537.50,287.54 L538.50,287.26 L539.50,286.99 L540.50,286.75 L541.50,286.53 L542.50,286.32 L543.50,286.13 L544.50,285.94 L545.50,285.76 L546.50,285.57 L547.50,285.39 L548.50,285.21 L549.50,285.04 L550.50,284.91 L551.50,284.85 L552.50,284.90 L553.50,285.06 L554.50,285.31 L555.50,285.63 L556.50,286.00 L557.50,286.43 L558.50,286.95 L559.50,287.59 L560.50,288.32 L561.50,289.12 L562.50,289.95 L563.50,290.76 L564.50,291.51 L565.50,292.19 L566.50,292.77 L567.50,293.27 L568.50,293.64 L569.50,293.84 L570.50,293.83 L571.50,293.60 L572.50,293.19 L573.50,292.67 L574.50,292.07 L575.50,291.41 L576.50,290.68 L577.50,289.91 L578.50,289.12 L579.50,288.33 L580.50,287.56 L581.50,286.85 L582.50,286.25 L583.50,285.76 L584.50,285.37 L585.50,285.06 L586.50,284.78 L587.50,284.51 L588.50,284.25 L589.50,284.02 L590.50,283.82 L591.50,283.69 L592.50,283.64 L593.50,283.67 L594.50,283.74 L595.50,283.85 L596.50,283.96 L597.50,284.10 L598.50,284.27 L599.50,284.52 L600.50,284.89 L601.50,285.37 L602.50,285.95 L603.50,286.59 L604.50,287.26 L605.50,287.93 L606.50,288.61 L607.50,289.30 L608.50,289.99 L609.50,290.71 L610.50,291.46 L611.50,292.25 L612.50,293.09 L613.50,293.94 L614.50,294.81 L615.50,295.68 L616.50,296.55 L617.50,297.42 L618.50,298.28 L619.50,299.09 L620.50,299.85 L621.50,300.53 L622.50,301.13 L623.50,301.68 L624.50,302.19 L625.50,302.70 L626.50,303.20 L627.50,303.70 L628.50,304.20 L629.50,304.70 L630.50,305.19 L631.50,305.67 L632.50,306.11 L633.50,306.48 L634.50,306.79 L635.50,307.02 L636.50,307.21 L637.50,307.37 L638.50,307.52 L639.50,307.67 L640.50,307.82 L641.50,307.97 L642.50,308.12 L643.50,308.27 L644.50,308.42 L645.50,308.57 L646.50,308.72 L647.50,308.87 L648.50,309.02 L649.50,309.17 L650.50,309.32 L651.00,309.40" fill="none" stroke="#e89a70" stroke-width="1.6" stroke-linejoin="round"/>
<path d="M505.50,281.50 L506.50,281.21 L507.50,280.91 L508.50,280.61 L509.50,280.28 L510.50,279.91 L511.50,279.47 L512.50,278.98 L513.50,278.44 L514.50,277.88 L515.50,277.31 L516.50,276.75 L517.50,276.19 L518.50,275.65 L519.50,275.12 L520.50,274.61 L521.50,274.10 L522.50,273.60 L523.50,273.10 L524.50,272.61 L525.50,272.12 L526.50,271.67 L527.50,271.25 L528.50,270.88 L529.50,270.55 L530.50,270.25 L531.50,269.95 L532.50,269.67 L533.50,269.38 L534.50,269.09 L535.50,268.81 L536.50,268.52 L537.50,268.23 L538.50,267.95 L539.50,267.68 L540.50,267.42 L541.50,267.18 L542.50,266.95 L543.50,266.72 L544.50,266.50 L545.50,266.29 L546.50,266.07 L547.50,265.85 L548.50,265.64 L549.50,265.44 L550.50,265.28 L551.50,265.20 L552.50,265.24 L553.50,265.41 L554.50,265.68 L555.50,266.03 L556.50,266.45 L557.50,266.96 L558.50,267.60 L559.50,268.41 L560.50,269.37 L561.50,270.42 L562.50,271.52 L563.50,272.59 L564.50,273.61 L565.50,274.54 L566.50,275.36 L567.50,276.09 L568.50,276.72 L569.50,277.21 L570.50,277.49 L571.50,277.54 L572.50,277.36 L573.50,277.05 L574.50,276.67 L575.50,276.25 L576.50,275.81 L577.50,275.36 L578.50,274.89 L579.50,274.41 L580.50,273.91 L581.50,273.42 L582.50,272.92 L583.50,272.43 L584.50,271.94 L585.50,271.48 L586.50,271.07 L587.50,270.76 L588.50,270.59 L589.50,270.55 L590.50,270.61 L591.50,270.72 L592.50,270.86 L593.50,271.00 L594.50,271.15 L595.50,271.30 L596.50,271.45 L597.50,271.63 L598.50,271.86 L599.50,272.21 L600.50,272.73 L601.50,273.43 L602.50,274.28 L603.50,275.22 L604.50,276.20 L605.50,277.20 L606.50,278.20 L607.50,279.21 L608.50,280.23 L609.50,281.27 L610.50,282.37 L611.50,283.52 L612.50,284.71 L613.50,285.94 L614.50,287.19 L615.50,288.44 L616.50,289.69 L617.50,290.93 L618.50,292.14 L619.50,293.28 L620.50,294.30 L621.50,295.16 L622.50,295.86 L623.50,296.46 L624.50,296.99 L625.50,297.50 L626.50,298.00 L627.50,298.50 L628.50,299.00 L629.50,299.50 L630.50,299.99 L631.50,300.47 L632.50,300.92 L633.50,301.31 L634.50,301.64 L635.50,301.91 L636.50,302.14 L637.50,302.34 L638.50,302.54 L639.50,302.74 L640.50,302.94 L641.50,303.13 L642.50,303.33 L643.50,303.53 L644.50,303.72 L645.50,303.92 L646.50,304.12 L647.50,304.31 L648.50,304.51 L649.50,304.71 L650.50,304.90 L651.00,305.00" fill="none" stroke="#f3c6ad" stroke-width="1.6" stroke-linejoin="round"/>
<path d="M505.50,233.50 L506.50,233.10 L507.50,232.70 L508.50,232.29 L509.50,231.88 L510.50,231.45 L511.50,230.99 L512.50,230.52 L513.50,230.03 L514.50,229.52 L515.50,229.02 L516.50,228.51 L517.50,228.00 L518.50,227.48 L519.50,226.95 L520.50,226.43 L521.50,225.89 L522.50,225.36 L523.50,224.83 L524.50,224.31 L525.50,223.81 L526.50,223.37 L527.50,223.00 L528.50,222.73 L529.50,222.53 L530.50,222.39 L531.50,222.27 L532.50,222.16 L533.50,222.05 L534.50,221.95 L535.50,221.86 L536.50,221.78 L537.50,221.73 L538.50,221.69 L539.50,221.67 L540.50,221.66 L541.50,221.65 L542.50,221.64 L543.50,221.62 L544.50,221.60 L545.50,221.56 L546.50,221.51 L547.50,221.45 L548.50,221.37 L549.50,221.28 L550.50,221.20 L551.50,221.11 L552.50,221.05 L553.50,221.02 L554.50,221.05 L555.50,221.18 L556.50,221.40 L557.50,221.70 L558.50,222.07 L559.50,222.54 L560.50,223.16 L561.50,223.93 L562.50,224.84 L563.50,225.85 L564.50,226.93 L565.50,228.05 L566.50,229.20 L567.50,230.40 L568.50,231.62 L569.50,232.85 L570.50,234.08 L571.50,235.27 L572.50,236.41 L573.50,237.45 L574.50,238.38 L575.50,239.23 L576.50,240.02 L577.50,240.78 L578.50,241.53 L579.50,242.27 L580.50,243.00 L581.50,243.71 L582.50,244.40 L583.50,245.08 L584.50,245.76 L585.50,246.43 L586.50,247.10 L587.50,247.78 L588.50,248.46 L589.50,249.15 L590.50,249.88 L591.50,250.67 L592.50,251.53 L593.50,252.45 L594.50,253.41 L595.50,254.40 L596.50,255.41 L597.50,256.42 L598.50,257.47 L599.50,258.59 L600.50,259.81 L601.50,261.13 L602.50,262.54 L603.50,264.00 L604.50,265.48 L605.50,266.97 L606.50,268.47 L607.50,269.97 L608.50,271.46 L609.50,272.96 L610.50,274.46 L611.50,275.96 L612.50,277.46 L613.50,278.96 L614.50,280.47 L615.50,281.97 L616.50,283.48 L617.50,284.97 L618.50,286.43 L619.50,287.82 L620.50,289.07 L621.50,290.16 L622.50,291.08 L623.50,291.88 L624.50,292.62 L625.50,293.33 L626.50,294.04 L627.50,294.74 L628.50,295.44 L629.50,296.14 L630.50,296.84 L631.50,297.50 L632.50,298.12 L633.50,298.64 L634.50,299.05 L635.50,299.37 L636.50,299.61 L637.50,299.82 L638.50,300.01 L639.50,300.21 L640.50,300.40 L641.50,300.59 L642.50,300.78 L643.50,300.97 L644.50,301.16 L645.50,301.35 L646.50,301.54 L647.50,301.73 L648.50,301.92 L649.50,302.11 L650.50,302.30 L651.00,302.40" fill="none" stroke="#8af4f4" stroke-width="1.6" stroke-linejoin="round"/>
<path d="M505.50,189.90 L506.50,189.23 L507.50,188.55 L508.50,187.88 L509.50,187.19 L510.50,186.50 L511.50,185.78 L512.50,185.05 L513.50,184.31 L514.50,183.56 L515.50,182.80 L516.50,182.04 L517.50,181.26 L518.50,180.46 L519.50,179.63 L520.50,178.79 L521.50,177.93 L522.50,177.08 L523.50,176.25 L524.50,175.48 L525.50,174.81 L526.50,174.24 L527.50,173.79 L528.50,173.40 L529.50,173.06 L530.50,172.74 L531.50,172.46 L532.50,172.22 L533.50,172.06 L534.50,171.97 L535.50,171.92 L536.50,171.90 L537.50,171.90 L538.50,171.90 L539.50,171.90 L540.50,171.90 L541.50,171.89 L542.50,171.87 L543.50,171.83 L544.50,171.77 L545.50,171.67 L546.50,171.56 L547.50,171.43 L548.50,171.29 L549.50,171.15 L550.50,171.00 L551.50,170.85 L552.50,170.70 L553.50,170.56 L554.50,170.47 L555.50,170.46 L556.50,170.58 L557.50,170.81 L558.50,171.15 L559.50,171.56 L560.50,172.02 L561.50,172.57 L562.50,173.22 L563.50,173.97 L564.50,174.81 L565.50,175.69 L566.50,176.61 L567.50,177.56 L568.50,178.52 L569.50,179.49 L570.50,180.45 L571.50,181.36 L572.50,182.21 L573.50,182.99 L574.50,183.72 L575.50,184.42 L576.50,185.11 L577.50,185.82 L578.50,186.57 L579.50,187.34 L580.50,188.15 L581.50,188.99 L582.50,189.85 L583.50,190.76 L584.50,191.74 L585.50,192.79 L586.50,193.89 L587.50,195.04 L588.50,196.22 L589.50,197.43 L590.50,198.69 L591.50,200.00 L592.50,201.35 L593.50,202.72 L594.50,204.09 L595.50,205.46 L596.50,206.82 L597.50,208.17 L598.50,209.53 L599.50,210.91 L600.50,212.32 L601.50,213.77 L602.50,215.25 L603.50,216.76 L604.50,218.33 L605.50,219.97 L606.50,221.70 L607.50,223.49 L608.50,225.35 L609.50,227.26 L610.50,229.22 L611.50,231.25 L612.50,233.34 L613.50,235.49 L614.50,237.68 L615.50,239.88 L616.50,242.11 L617.50,244.34 L618.50,246.58 L619.50,248.80 L620.50,251.00 L621.50,253.15 L622.50,255.24 L623.50,257.23 L624.50,259.10 L625.50,260.81 L626.50,262.36 L627.50,263.79 L628.50,265.17 L629.50,266.52 L630.50,267.86 L631.50,269.18 L632.50,270.49 L633.50,271.77 L634.50,273.00 L635.50,274.16 L636.50,275.24 L637.50,276.23 L638.50,277.15 L639.50,278.02 L640.50,278.86 L641.50,279.65 L642.50,280.40 L643.50,281.09 L644.50,281.74 L645.50,282.35 L646.50,282.89 L647.50,283.38 L648.50,283.83 L649.50,284.27 L650.50,284.69 L651.00,284.90" fill="none" stroke="#cfe6f1" stroke-width="1.6" stroke-linejoin="round"/>
<path d="M505.50,143.10 L506.50,142.10 L507.50,141.10 L508.50,140.11 L509.50,139.12 L510.50,138.15 L511.50,137.19 L512.50,136.26 L513.50,135.35 L514.50,134.44 L515.50,133.52 L516.50,132.60 L517.50,131.64 L518.50,130.65 L519.50,129.62 L520.50,128.54 L521.50,127.45 L522.50,126.36 L523.50,125.29 L524.50,124.27 L525.50,123.35 L526.50,122.55 L527.50,121.84 L528.50,121.21 L529.50,120.63 L530.50,120.07 L531.50,119.56 L532.50,119.13 L533.50,118.81 L534.50,118.59 L535.50,118.45 L536.50,118.35 L537.50,118.27 L538.50,118.20 L539.50,118.13 L540.50,118.05 L541.50,117.98 L542.50,117.90 L543.50,117.80 L544.50,117.70 L545.50,117.58 L546.50,117.45 L547.50,117.31 L548.50,117.17 L549.50,117.03 L550.50,116.89 L551.50,116.75 L552.50,116.62 L553.50,116.48 L554.50,116.36 L555.50,116.28 L556.50,116.27 L557.50,116.34 L558.50,116.49 L559.50,116.70 L560.50,116.95 L561.50,117.22 L562.50,117.53 L563.50,117.91 L564.50,118.37 L565.50,118.93 L566.50,119.56 L567.50,120.24 L568.50,120.94 L569.50,121.65 L570.50,122.36 L571.50,123.10 L572.50,123.89 L573.50,124.74 L574.50,125.66 L575.50,126.65 L576.50,127.68 L577.50,128.74 L578.50,129.84 L579.50,131.01 L580.50,132.29 L581.50,133.72 L582.50,135.27 L583.50,136.90 L584.50,138.55 L585.50,140.17 L586.50,141.73 L587.50,143.21 L588.50,144.63 L589.50,146.00 L590.50,147.35 L591.50,148.72 L592.50,150.11 L593.50,151.56 L594.50,153.11 L595.50,154.81 L596.50,156.68 L597.50,158.75 L598.50,161.00 L599.50,163.44 L600.50,166.00 L601.50,168.66 L602.50,171.37 L603.50,174.13 L604.50,176.97 L605.50,179.87 L606.50,182.81 L607.50,185.75 L608.50,188.66 L609.50,191.47 L610.50,194.18 L611.50,196.80 L612.50,199.35 L613.50,201.87 L614.50,204.37 L615.50,206.86 L616.50,209.36 L617.50,211.91 L618.50,214.53 L619.50,217.22 L620.50,219.92 L621.50,222.58 L622.50,225.15 L623.50,227.61 L624.50,230.00 L625.50,232.31 L626.50,234.55 L627.50,236.69 L628.50,238.72 L629.50,240.64 L630.50,242.45 L631.50,244.15 L632.50,245.74 L633.50,247.23 L634.50,248.64 L635.50,249.99 L636.50,251.29 L637.50,252.53 L638.50,253.73 L639.50,254.89 L640.50,256.01 L641.50,257.06 L642.50,258.05 L643.50,258.97 L644.50,259.84 L645.50,260.69 L646.50,261.53 L647.50,262.37 L648.50,263.21 L649.50,264.04 L650.50,264.88 L651.00,265.30" fill="none" stroke="#8dc3df" stroke-width="1.6" stroke-linejoin="round"/>
<path d="M505.50,125.60 L506.50,124.56 L507.50,123.53 L508.50,122.49 L509.50,121.46 L510.50,120.44 L511.50,119.43 L512.50,118.43 L513.50,117.44 L514.50,116.45 L515.50,115.45 L516.50,114.44 L517.50,113.38 L518.50,112.28 L519.50,111.12 L520.50,109.91 L521.50,108.67 L522.50,107.43 L523.50,106.21 L524.50,105.04 L525.50,103.96 L526.50,102.99 L527.50,102.12 L528.50,101.31 L529.50,100.55 L530.50,99.82 L531.50,99.14 L532.50,98.55 L533.50,98.07 L534.50,97.71 L535.50,97.44 L536.50,97.21 L537.50,97.00 L538.50,96.80 L539.50,96.60 L540.50,96.40 L541.50,96.20 L542.50,96.00 L543.50,95.80 L544.50,95.60 L545.50,95.40 L546.50,95.19 L547.50,94.99 L548.50,94.79 L549.50,94.59 L550.50,94.39 L551.50,94.19 L552.50,93.99 L553.50,93.80 L554.50,93.61 L555.50,93.42 L556.50,93.26 L557.50,93.13 L558.50,93.08 L559.50,93.10 L560.50,93.20 L561.50,93.36 L562.50,93.54 L563.50,93.76 L564.50,94.02 L565.50,94.37 L566.50,94.84 L567.50,95.42 L568.50,96.09 L569.50,96.81 L570.50,97.55 L571.50,98.31 L572.50,99.10 L573.50,99.92 L574.50,100.78 L575.50,101.68 L576.50,102.60 L577.50,103.54 L578.50,104.53 L579.50,105.61 L580.50,106.84 L581.50,108.25 L582.50,109.82 L583.50,111.52 L584.50,113.27 L585.50,115.08 L586.50,116.91 L587.50,118.78 L588.50,120.69 L589.50,122.62 L590.50,124.57 L591.50,126.53 L592.50,128.51 L593.50,130.49 L594.50,132.47 L595.50,134.44 L596.50,136.42 L597.50,138.45 L598.50,140.59 L599.50,142.92 L600.50,145.45 L601.50,148.17 L602.50,151.02 L603.50,153.96 L604.50,156.97 L605.50,160.03 L606.50,163.11 L607.50,166.21 L608.50,169.32 L609.50,172.44 L610.50,175.55 L611.50,178.65 L612.50,181.74 L613.50,184.80 L614.50,187.85 L615.50,190.90 L616.50,193.97 L617.50,197.05 L618.50,200.14 L619.50,203.22 L620.50,206.26 L621.50,209.24 L622.50,212.13 L623.50,214.92 L624.50,217.59 L625.50,220.14 L626.50,222.53 L627.50,224.73 L628.50,226.74 L629.50,228.59 L630.50,230.34 L631.50,232.03 L632.50,233.66 L633.50,235.24 L634.50,236.79 L635.50,238.29 L636.50,239.75 L637.50,241.17 L638.50,242.53 L639.50,243.82 L640.50,245.03 L641.50,246.13 L642.50,247.14 L643.50,248.08 L644.50,248.99 L645.50,249.87 L646.50,250.73 L647.50,251.57 L648.50,252.37 L649.50,253.15 L650.50,253.92 L651.00,254.30" fill="none" stroke="#4f8fc2" stroke-width="1.6" stroke-linejoin="round"/>
<path d="M505.50,80.50 L506.50,79.32 L507.50,78.14 L508.50,76.95 L509.50,75.76 L510.50,74.56 L511.50,73.35 L512.50,72.12 L513.50,70.88 L514.50,69.63 L515.50,68.38 L516.50,67.11 L517.50,65.80 L518.50,64.45 L519.50,63.05 L520.50,61.61 L521.50,60.14 L522.50,58.67 L523.50,57.23 L524.50,55.85 L525.50,54.57 L526.50,53.42 L527.50,52.39 L528.50,51.43 L529.50,50.53 L530.50,49.67 L531.50,48.86 L532.50,48.14 L533.50,47.56 L534.50,47.10 L535.50,46.73 L536.50,46.42 L537.50,46.13 L538.50,45.85 L539.50,45.57 L540.50,45.29 L541.50,45.01 L542.50,44.73 L543.50,44.46 L544.50,44.20 L545.50,43.94 L546.50,43.69 L547.50,43.45 L548.50,43.21 L549.50,42.97 L550.50,42.75 L551.50,42.55 L552.50,42.36 L553.50,42.19 L554.50,42.04 L555.50,41.89 L556.50,41.78 L557.50,41.71 L558.50,41.73 L559.50,41.85 L560.50,42.06 L561.50,42.34 L562.50,42.66 L563.50,43.00 L564.50,43.39 L565.50,43.84 L566.50,44.37 L567.50,45.00 L568.50,45.68 L569.50,46.41 L570.50,47.17 L571.50,47.97 L572.50,48.86 L573.50,49.86 L574.50,51.01 L575.50,52.27 L576.50,53.61 L577.50,55.00 L578.50,56.43 L579.50,57.95 L580.50,59.61 L581.50,61.44 L582.50,63.43 L583.50,65.53 L584.50,67.71 L585.50,69.92 L586.50,72.16 L587.50,74.43 L588.50,76.72 L589.50,79.04 L590.50,81.39 L591.50,83.78 L592.50,86.22 L593.50,88.74 L594.50,91.33 L595.50,93.99 L596.50,96.75 L597.50,99.65 L598.50,102.72 L599.50,105.93 L600.50,109.24 L601.50,112.58 L602.50,115.92 L603.50,119.24 L604.50,122.55 L605.50,125.85 L606.50,129.15 L607.50,132.44 L608.50,135.74 L609.50,139.05 L610.50,142.36 L611.50,145.69 L612.50,149.05 L613.50,152.45 L614.50,155.91 L615.50,159.42 L616.50,162.99 L617.50,166.60 L618.50,170.25 L619.50,173.93 L620.50,177.62 L621.50,181.30 L622.50,184.97 L623.50,188.62 L624.50,192.21 L625.50,195.73 L626.50,199.14 L627.50,202.41 L628.50,205.52 L629.50,208.43 L630.50,211.13 L631.50,213.61 L632.50,215.92 L633.50,218.11 L634.50,220.20 L635.50,222.20 L636.50,224.11 L637.50,225.92 L638.50,227.60 L639.50,229.16 L640.50,230.64 L641.50,232.05 L642.50,233.41 L643.50,234.72 L644.50,235.99 L645.50,237.20 L646.50,238.35 L647.50,239.42 L648.50,240.40 L649.50,241.31 L650.50,242.17 L651.00,242.60" fill="none" stroke="#2e62a8" stroke-width="1.6" stroke-linejoin="round"/>
<defs><linearGradient id="cb" x1="0" y1="0" x2="0" y2="1"><stop offset="0" stop-color="#27519a"/><stop offset="0.2" stop-color="#3b74b8"/><stop offset="0.35" stop-color="#7db8e0"/><stop offset="0.45" stop-color="#ace9f2"/><stop offset="0.5" stop-color="#def7f4"/><stop offset="0.58" stop-color="#f6dcc8"/><stop offset="0.68" stop-color="#f0a888"/><stop offset="0.8" stop-color="#d45a50"/><stop offset="0.92" stop-color="#b02a3a"/><stop offset="1" stop-color="#7c1530"/></linearGradient></defs>
<rect x="624.0" y="33.0" width="11.8" height="70.0" fill="url(#cb)"/>
<text transform="translate(632.40,65.90) rotate(-90)" font-size="9.6" fill="#222" stroke="#222" stroke-width="0.1" text-anchor="middle">Voltage (V)</text>
<text x="630.00" y="27.80" font-size="9.8" fill="#222" stroke="#222" stroke-width="0.1" text-anchor="middle" >0.8 V</text>
<text x="628.60" y="115.70" font-size="9.8" fill="#222" stroke="#222" stroke-width="0.1" text-anchor="middle" >-1.2 V</text>
<rect x="505.5" y="10.5" width="145.5" height="320.9" fill="none" stroke="#333" stroke-width="1.25"/>
<line x1="505.50" y1="331.40" x2="502.20" y2="331.40" stroke="#333" stroke-width="1.1" />
<text x="499.90" y="334.72" font-size="10.4" fill="#222" stroke="#222" stroke-width="0.1" text-anchor="end" >0</text>
<line x1="505.50" y1="260.09" x2="502.20" y2="260.09" stroke="#333" stroke-width="1.1" />
<text x="499.90" y="263.41" font-size="10.4" fill="#222" stroke="#222" stroke-width="0.1" text-anchor="end" >20</text>
<line x1="505.50" y1="188.78" x2="502.20" y2="188.78" stroke="#333" stroke-width="1.1" />
<text x="499.90" y="192.10" font-size="10.4" fill="#222" stroke="#222" stroke-width="0.1" text-anchor="end" >40</text>
<line x1="505.50" y1="117.47" x2="502.20" y2="117.47" stroke="#333" stroke-width="1.1" />
<text x="499.90" y="120.79" font-size="10.4" fill="#222" stroke="#222" stroke-width="0.1" text-anchor="end" >60</text>
<line x1="505.50" y1="46.16" x2="502.20" y2="46.16" stroke="#333" stroke-width="1.1" />
<text x="499.90" y="49.48" font-size="10.4" fill="#222" stroke="#222" stroke-width="0.1" text-anchor="end" >80</text>
<line x1="505.50" y1="295.74" x2="504.00" y2="295.74" stroke="#333" stroke-width="1.1" />
<line x1="505.50" y1="224.43" x2="504.00" y2="224.43" stroke="#333" stroke-width="1.1" />
<line x1="505.50" y1="153.12" x2="504.00" y2="153.12" stroke="#333" stroke-width="1.1" />
<line x1="505.50" y1="81.81" x2="504.00" y2="81.81" stroke="#333" stroke-width="1.1" />
<line x1="505.50" y1="331.40" x2="505.50" y2="334.40" stroke="#333" stroke-width="1.1" />
<text x="505.50" y="345.05" font-size="10.2" fill="#222" stroke="#222" stroke-width="0.1" text-anchor="middle" >400</text>
<line x1="541.88" y1="331.40" x2="541.88" y2="334.40" stroke="#333" stroke-width="1.1" />
<text x="541.88" y="345.05" font-size="10.2" fill="#222" stroke="#222" stroke-width="0.1" text-anchor="middle" >500</text>
<line x1="578.25" y1="331.40" x2="578.25" y2="334.40" stroke="#333" stroke-width="1.1" />
<text x="578.25" y="345.05" font-size="10.2" fill="#222" stroke="#222" stroke-width="0.1" text-anchor="middle" >600</text>
<line x1="614.62" y1="331.40" x2="614.62" y2="334.40" stroke="#333" stroke-width="1.1" />
<text x="614.62" y="345.05" font-size="10.2" fill="#222" stroke="#222" stroke-width="0.1" text-anchor="middle" >700</text>
<line x1="651.00" y1="331.40" x2="651.00" y2="334.40" stroke="#333" stroke-width="1.1" />
<text x="651.00" y="345.05" font-size="10.2" fill="#222" stroke="#222" stroke-width="0.1" text-anchor="middle" >800</text>
<line x1="523.69" y1="331.40" x2="523.69" y2="332.90" stroke="#333" stroke-width="1.1" />
<line x1="560.06" y1="331.40" x2="560.06" y2="332.90" stroke="#333" stroke-width="1.1" />
<line x1="596.44" y1="331.40" x2="596.44" y2="332.90" stroke="#333" stroke-width="1.1" />
<line x1="632.81" y1="331.40" x2="632.81" y2="332.90" stroke="#333" stroke-width="1.1" />
<text x="578.60" y="360.40" font-size="10.8" fill="#222" stroke="#222" stroke-width="0.1" text-anchor="middle" >Wavelength (nm)</text>
<text transform="translate(481.70,166.20) rotate(-90)" font-size="10.6" fill="#222" stroke="#222" stroke-width="0.1" text-anchor="middle">Transmittance (%)</text>
<text x="475.20" y="19.80" font-size="18.5" fill="#111" stroke="#111" stroke-width="0.1" text-anchor="start" >d</text>
<defs><radialGradient id="gr" cx="0.42" cy="0.38" r="0.62"><stop offset="0" stop-color="#e2e2e2"/><stop offset="0.55" stop-color="#a2a2a2"/><stop offset="1" stop-color="#5a5a5a"/></radialGradient><linearGradient id="chev" x1="0" y1="0" x2="1" y2="0"><stop offset="0" stop-color="#ffffff"/><stop offset="1" stop-color="#5aa2da"/></linearGradient></defs>
<clipPath id="clip1"><rect x="142.20" y="405.60" width="86.40" height="74.50"/></clipPath>
<g clip-path="url(#clip1)"><rect x="142.20" y="405.60" width="86.40" height="74.50" fill="#454545"/>
<circle cx="153.8" cy="468.7" r="4.1" fill="url(#gr)" opacity="0.66"/>
<circle cx="185.0" cy="439.1" r="3.8" fill="url(#gr)" opacity="0.90"/>
<circle cx="150.3" cy="407.7" r="4.3" fill="url(#gr)" opacity="0.74"/>
<circle cx="208.1" cy="405.8" r="3.2" fill="url(#gr)" opacity="0.87"/>
<circle cx="162.0" cy="476.0" r="4.5" fill="url(#gr)" opacity="0.56"/>
<circle cx="144.4" cy="445.9" r="4.6" fill="url(#gr)" opacity="0.72"/>
<circle cx="160.9" cy="437.0" r="2.1" fill="url(#gr)" opacity="0.65"/>
<circle cx="180.0" cy="442.5" r="2.7" fill="url(#gr)" opacity="0.65"/>
<circle cx="161.1" cy="439.8" r="2.8" fill="url(#gr)" opacity="0.56"/>
<circle cx="214.6" cy="447.1" r="3.8" fill="url(#gr)" opacity="0.63"/>
<circle cx="228.0" cy="469.7" r="2.3" fill="url(#gr)" opacity="0.70"/>
<circle cx="204.5" cy="458.6" r="4.6" fill="url(#gr)" opacity="0.74"/>
<circle cx="213.9" cy="455.5" r="2.8" fill="url(#gr)" opacity="0.81"/>
<circle cx="218.4" cy="468.6" r="3.4" fill="url(#gr)" opacity="0.82"/>
<circle cx="145.2" cy="423.7" r="4.2" fill="url(#gr)" opacity="0.74"/>
<circle cx="157.1" cy="446.5" r="4.0" fill="url(#gr)" opacity="0.85"/>
<circle cx="174.6" cy="438.3" r="3.4" fill="url(#gr)" opacity="0.90"/>
<circle cx="187.2" cy="434.9" r="3.4" fill="url(#gr)" opacity="0.56"/>
<circle cx="146.0" cy="458.0" r="4.8" fill="url(#gr)" opacity="0.82"/>
<circle cx="176.2" cy="418.3" r="3.4" fill="url(#gr)" opacity="0.99"/>
<circle cx="208.8" cy="445.8" r="4.4" fill="url(#gr)" opacity="0.65"/>
<circle cx="186.6" cy="476.6" r="3.6" fill="url(#gr)" opacity="0.76"/>
<circle cx="165.5" cy="446.4" r="4.7" fill="url(#gr)" opacity="0.55"/>
<circle cx="209.9" cy="466.7" r="4.5" fill="url(#gr)" opacity="0.88"/>
<circle cx="212.1" cy="444.2" r="3.6" fill="url(#gr)" opacity="0.74"/>
<circle cx="147.0" cy="470.4" r="3.6" fill="url(#gr)" opacity="0.64"/>
<circle cx="185.8" cy="441.7" r="3.0" fill="url(#gr)" opacity="0.71"/>
<circle cx="188.7" cy="452.0" r="3.7" fill="url(#gr)" opacity="0.76"/>
<circle cx="144.6" cy="422.7" r="2.5" fill="url(#gr)" opacity="0.81"/>
<circle cx="216.6" cy="465.1" r="4.2" fill="url(#gr)" opacity="0.92"/>
<circle cx="164.3" cy="468.3" r="3.9" fill="url(#gr)" opacity="0.59"/>
<circle cx="143.6" cy="406.7" r="4.1" fill="url(#gr)" opacity="0.66"/>
<circle cx="151.7" cy="452.1" r="3.0" fill="url(#gr)" opacity="0.58"/>
<circle cx="156.0" cy="444.9" r="2.5" fill="url(#gr)" opacity="0.67"/>
<circle cx="203.7" cy="439.5" r="2.9" fill="url(#gr)" opacity="0.76"/>
<circle cx="144.2" cy="434.4" r="3.2" fill="url(#gr)" opacity="0.63"/>
<circle cx="151.6" cy="472.6" r="3.4" fill="url(#gr)" opacity="0.64"/>
<circle cx="194.5" cy="466.5" r="2.1" fill="url(#gr)" opacity="0.56"/>
<circle cx="154.9" cy="459.2" r="2.4" fill="url(#gr)" opacity="0.87"/>
<circle cx="200.8" cy="446.2" r="2.6" fill="url(#gr)" opacity="0.99"/>
<circle cx="211.1" cy="444.1" r="2.6" fill="url(#gr)" opacity="0.84"/>
<circle cx="176.3" cy="448.5" r="2.9" fill="url(#gr)" opacity="0.83"/>
<circle cx="147.3" cy="427.8" r="4.7" fill="url(#gr)" opacity="0.94"/>
<circle cx="168.7" cy="469.6" r="2.9" fill="url(#gr)" opacity="0.97"/>
<circle cx="206.5" cy="436.6" r="2.7" fill="url(#gr)" opacity="0.55"/>
<circle cx="218.1" cy="408.4" r="4.3" fill="url(#gr)" opacity="0.98"/>
<circle cx="191.5" cy="418.4" r="4.4" fill="url(#gr)" opacity="0.99"/>
<circle cx="203.0" cy="443.5" r="3.1" fill="url(#gr)" opacity="0.71"/>
<circle cx="160.0" cy="455.8" r="3.2" fill="url(#gr)" opacity="0.64"/>
<circle cx="151.2" cy="455.2" r="2.8" fill="url(#gr)" opacity="0.77"/>
<circle cx="170.3" cy="470.5" r="4.5" fill="url(#gr)" opacity="0.56"/>
<circle cx="159.6" cy="430.0" r="4.8" fill="url(#gr)" opacity="0.90"/>
<circle cx="171.5" cy="421.5" r="3.9" fill="url(#gr)" opacity="0.93"/>
<circle cx="222.7" cy="431.2" r="4.5" fill="url(#gr)" opacity="0.86"/>
<circle cx="184.1" cy="479.0" r="2.7" fill="url(#gr)" opacity="0.88"/>
<circle cx="149.5" cy="418.2" r="4.6" fill="url(#gr)" opacity="0.65"/>
<circle cx="207.8" cy="450.3" r="4.4" fill="url(#gr)" opacity="0.72"/>
<circle cx="171.6" cy="427.3" r="4.4" fill="url(#gr)" opacity="0.82"/>
<circle cx="224.7" cy="471.7" r="2.4" fill="url(#gr)" opacity="0.80"/>
<circle cx="151.2" cy="408.5" r="2.2" fill="url(#gr)" opacity="0.94"/>
<circle cx="210.3" cy="467.3" r="3.0" fill="url(#gr)" opacity="0.83"/>
<circle cx="209.8" cy="433.8" r="3.6" fill="url(#gr)" opacity="0.65"/>
<circle cx="149.3" cy="425.5" r="4.5" fill="url(#gr)" opacity="0.80"/>
<circle cx="222.1" cy="439.7" r="2.8" fill="url(#gr)" opacity="0.90"/>
<circle cx="213.7" cy="406.5" r="3.9" fill="url(#gr)" opacity="0.59"/>
<circle cx="152.1" cy="471.5" r="2.1" fill="url(#gr)" opacity="0.66"/>
<circle cx="227.6" cy="437.0" r="2.3" fill="url(#gr)" opacity="0.63"/>
<circle cx="163.1" cy="461.0" r="2.3" fill="url(#gr)" opacity="0.96"/>
<circle cx="174.9" cy="477.9" r="4.5" fill="url(#gr)" opacity="0.68"/>
<circle cx="164.1" cy="441.1" r="2.3" fill="url(#gr)" opacity="0.84"/>
<circle cx="145.6" cy="406.4" r="4.8" fill="url(#gr)" opacity="0.68"/>
<circle cx="193.7" cy="439.1" r="2.9" fill="url(#gr)" opacity="0.58"/>
<circle cx="221.1" cy="477.9" r="4.7" fill="url(#gr)" opacity="0.60"/>
<circle cx="160.8" cy="451.6" r="4.7" fill="url(#gr)" opacity="0.79"/>
<circle cx="201.7" cy="454.9" r="2.7" fill="url(#gr)" opacity="0.79"/>
<circle cx="168.8" cy="424.0" r="2.2" fill="url(#gr)" opacity="0.68"/>
<circle cx="227.2" cy="439.0" r="3.8" fill="url(#gr)" opacity="0.84"/>
<circle cx="223.5" cy="434.7" r="2.9" fill="url(#gr)" opacity="0.70"/>
<circle cx="169.6" cy="468.7" r="4.5" fill="url(#gr)" opacity="0.69"/>
<circle cx="171.1" cy="446.1" r="3.6" fill="url(#gr)" opacity="0.82"/>
<circle cx="163.4" cy="407.1" r="2.7" fill="url(#gr)" opacity="0.58"/>
<circle cx="189.8" cy="410.9" r="2.2" fill="url(#gr)" opacity="0.84"/>
<circle cx="167.3" cy="464.6" r="3.4" fill="url(#gr)" opacity="0.94"/>
<circle cx="155.5" cy="443.0" r="4.2" fill="url(#gr)" opacity="0.58"/>
<circle cx="224.2" cy="418.5" r="4.2" fill="url(#gr)" opacity="0.99"/>
<circle cx="213.2" cy="429.4" r="2.3" fill="url(#gr)" opacity="0.78"/>
<circle cx="221.6" cy="427.5" r="4.5" fill="url(#gr)" opacity="0.61"/>
<circle cx="220.9" cy="408.0" r="2.9" fill="url(#gr)" opacity="0.96"/>
<circle cx="211.7" cy="473.2" r="4.4" fill="url(#gr)" opacity="0.89"/>
<circle cx="201.8" cy="418.9" r="3.2" fill="url(#gr)" opacity="0.62"/>
<circle cx="204.0" cy="455.3" r="2.7" fill="url(#gr)" opacity="0.58"/>
<circle cx="225.4" cy="465.8" r="3.5" fill="url(#gr)" opacity="0.79"/>
<circle cx="215.8" cy="439.4" r="3.1" fill="url(#gr)" opacity="0.70"/>
<circle cx="164.5" cy="407.4" r="3.8" fill="url(#gr)" opacity="0.74"/>
<circle cx="191.5" cy="410.2" r="3.0" fill="url(#gr)" opacity="0.61"/>
<circle cx="153.0" cy="424.9" r="4.3" fill="url(#gr)" opacity="0.73"/>
<circle cx="176.9" cy="451.2" r="2.7" fill="url(#gr)" opacity="0.55"/>
<circle cx="187.9" cy="442.9" r="3.8" fill="url(#gr)" opacity="0.75"/>
<circle cx="201.5" cy="460.1" r="2.7" fill="url(#gr)" opacity="0.77"/>
<circle cx="183.6" cy="422.4" r="3.2" fill="url(#gr)" opacity="0.80"/>
<circle cx="220.6" cy="474.0" r="2.8" fill="url(#gr)" opacity="0.84"/>
<circle cx="146.4" cy="410.9" r="3.4" fill="url(#gr)" opacity="0.94"/>
<circle cx="156.0" cy="462.7" r="4.5" fill="url(#gr)" opacity="0.69"/>
<circle cx="202.0" cy="468.8" r="3.0" fill="url(#gr)" opacity="0.87"/>
<circle cx="205.8" cy="449.9" r="4.4" fill="url(#gr)" opacity="0.95"/>
<circle cx="225.2" cy="448.2" r="2.5" fill="url(#gr)" opacity="0.66"/>
<circle cx="161.0" cy="448.0" r="4.1" fill="url(#gr)" opacity="0.57"/>
<circle cx="201.1" cy="459.0" r="3.0" fill="url(#gr)" opacity="0.78"/>
<circle cx="156.4" cy="460.0" r="2.1" fill="url(#gr)" opacity="0.99"/>
<circle cx="212.0" cy="452.4" r="2.7" fill="url(#gr)" opacity="0.96"/>
<circle cx="225.1" cy="416.0" r="4.2" fill="url(#gr)" opacity="0.93"/>
<circle cx="199.2" cy="457.8" r="3.2" fill="url(#gr)" opacity="0.97"/>
<circle cx="226.1" cy="434.1" r="4.2" fill="url(#gr)" opacity="0.74"/>
<circle cx="156.4" cy="429.8" r="2.4" fill="url(#gr)" opacity="0.96"/>
<circle cx="225.1" cy="414.5" r="3.7" fill="url(#gr)" opacity="0.73"/>
<circle cx="152.4" cy="427.6" r="2.7" fill="url(#gr)" opacity="0.89"/>
<circle cx="142.5" cy="419.7" r="3.2" fill="url(#gr)" opacity="0.56"/>
<circle cx="196.4" cy="450.7" r="4.3" fill="url(#gr)" opacity="0.64"/>
<circle cx="166.8" cy="446.0" r="2.8" fill="url(#gr)" opacity="0.81"/>
<circle cx="163.9" cy="456.5" r="4.2" fill="url(#gr)" opacity="0.91"/>
<circle cx="226.3" cy="446.2" r="3.4" fill="url(#gr)" opacity="0.94"/>
<circle cx="208.6" cy="448.1" r="3.1" fill="url(#gr)" opacity="0.68"/>
<circle cx="151.5" cy="465.8" r="2.3" fill="url(#gr)" opacity="0.89"/>
<circle cx="189.3" cy="477.5" r="4.1" fill="url(#gr)" opacity="0.99"/>
<circle cx="154.0" cy="442.9" r="3.6" fill="url(#gr)" opacity="0.69"/>
<circle cx="185.7" cy="432.2" r="3.5" fill="url(#gr)" opacity="0.55"/>
<circle cx="180.4" cy="439.1" r="2.9" fill="url(#gr)" opacity="0.73"/>
<circle cx="209.9" cy="456.5" r="3.4" fill="url(#gr)" opacity="0.84"/>
<circle cx="174.8" cy="420.8" r="2.0" fill="url(#gr)" opacity="0.67"/>
<circle cx="193.9" cy="471.3" r="4.3" fill="url(#gr)" opacity="0.78"/>
<circle cx="227.5" cy="440.0" r="4.3" fill="url(#gr)" opacity="0.73"/>
<circle cx="206.5" cy="479.2" r="2.9" fill="url(#gr)" opacity="0.63"/>
<circle cx="195.8" cy="445.2" r="3.0" fill="url(#gr)" opacity="0.55"/>
<circle cx="175.8" cy="437.3" r="3.1" fill="url(#gr)" opacity="0.94"/>
<circle cx="192.7" cy="460.3" r="4.5" fill="url(#gr)" opacity="0.89"/>
<circle cx="184.8" cy="461.2" r="3.8" fill="url(#gr)" opacity="0.84"/>
<circle cx="196.6" cy="435.9" r="3.8" fill="url(#gr)" opacity="0.84"/>
<circle cx="223.2" cy="463.9" r="4.4" fill="url(#gr)" opacity="0.90"/>
<circle cx="212.6" cy="450.7" r="3.0" fill="url(#gr)" opacity="0.67"/>
<circle cx="203.4" cy="470.7" r="3.5" fill="url(#gr)" opacity="0.62"/>
<circle cx="214.2" cy="441.7" r="3.3" fill="url(#gr)" opacity="0.57"/>
<circle cx="186.3" cy="461.1" r="3.2" fill="url(#gr)" opacity="0.71"/>
<circle cx="199.0" cy="407.1" r="3.4" fill="url(#gr)" opacity="0.98"/>
<circle cx="201.9" cy="435.5" r="3.9" fill="url(#gr)" opacity="0.82"/>
<circle cx="160.2" cy="421.1" r="4.5" fill="url(#gr)" opacity="0.67"/>
<circle cx="148.7" cy="467.5" r="3.5" fill="url(#gr)" opacity="0.72"/>
<circle cx="186.4" cy="460.5" r="2.5" fill="url(#gr)" opacity="0.84"/>
<circle cx="203.8" cy="466.3" r="2.8" fill="url(#gr)" opacity="0.82"/>
<circle cx="162.3" cy="447.4" r="2.5" fill="url(#gr)" opacity="0.91"/>
<circle cx="217.1" cy="430.2" r="2.6" fill="url(#gr)" opacity="0.98"/>
<circle cx="203.3" cy="468.5" r="2.1" fill="url(#gr)" opacity="0.95"/>
<circle cx="196.0" cy="429.2" r="3.2" fill="url(#gr)" opacity="0.89"/>
<circle cx="210.1" cy="419.7" r="3.8" fill="url(#gr)" opacity="0.62"/>
<circle cx="226.3" cy="438.6" r="4.6" fill="url(#gr)" opacity="0.88"/>
<circle cx="194.6" cy="425.1" r="3.5" fill="url(#gr)" opacity="0.61"/>
<circle cx="154.1" cy="458.9" r="3.0" fill="url(#gr)" opacity="0.89"/>
<circle cx="163.0" cy="459.1" r="4.0" fill="url(#gr)" opacity="0.69"/>
<circle cx="151.4" cy="435.2" r="3.4" fill="url(#gr)" opacity="0.59"/>
<circle cx="158.3" cy="409.7" r="3.7" fill="url(#gr)" opacity="0.95"/>
<circle cx="160.9" cy="408.2" r="4.0" fill="url(#gr)" opacity="0.92"/>
<circle cx="225.5" cy="451.3" r="3.0" fill="url(#gr)" opacity="0.93"/>
<circle cx="152.4" cy="457.2" r="2.3" fill="url(#gr)" opacity="0.73"/>
<circle cx="185.0" cy="433.8" r="2.5" fill="url(#gr)" opacity="0.65"/>
<circle cx="213.1" cy="440.1" r="3.6" fill="url(#gr)" opacity="0.65"/>
<circle cx="204.0" cy="430.2" r="3.7" fill="url(#gr)" opacity="0.96"/>
<circle cx="228.1" cy="409.0" r="4.2" fill="url(#gr)" opacity="0.94"/>
<circle cx="169.8" cy="434.1" r="3.6" fill="url(#gr)" opacity="0.96"/>
<circle cx="176.8" cy="471.2" r="4.1" fill="url(#gr)" opacity="0.62"/>
<circle cx="221.1" cy="406.7" r="2.4" fill="url(#gr)" opacity="0.85"/>
<circle cx="147.1" cy="433.9" r="2.4" fill="url(#gr)" opacity="0.76"/>
<circle cx="214.8" cy="473.1" r="2.1" fill="url(#gr)" opacity="0.58"/>
<circle cx="214.8" cy="408.8" r="2.8" fill="url(#gr)" opacity="0.60"/>
<circle cx="150.1" cy="407.7" r="3.8" fill="url(#gr)" opacity="0.89"/>
<circle cx="201.5" cy="468.6" r="3.9" fill="url(#gr)" opacity="0.73"/>
<circle cx="196.7" cy="477.8" r="3.8" fill="url(#gr)" opacity="0.66"/>
<circle cx="147.4" cy="475.3" r="3.7" fill="url(#gr)" opacity="0.71"/>
<circle cx="194.5" cy="447.3" r="3.5" fill="url(#gr)" opacity="0.58"/>
<circle cx="172.7" cy="436.3" r="2.6" fill="url(#gr)" opacity="0.95"/>
<circle cx="178.8" cy="454.9" r="4.0" fill="url(#gr)" opacity="0.88"/>
<circle cx="204.5" cy="461.6" r="2.7" fill="url(#gr)" opacity="0.99"/>
<circle cx="155.2" cy="474.0" r="4.4" fill="url(#gr)" opacity="0.93"/>
<circle cx="146.8" cy="412.4" r="4.3" fill="url(#gr)" opacity="0.76"/>
<circle cx="174.2" cy="479.0" r="2.1" fill="url(#gr)" opacity="0.79"/>
<circle cx="180.5" cy="415.2" r="3.1" fill="url(#gr)" opacity="0.87"/>
<circle cx="218.4" cy="407.4" r="3.5" fill="url(#gr)" opacity="0.59"/>
<circle cx="211.4" cy="412.0" r="2.1" fill="url(#gr)" opacity="0.72"/>
<circle cx="205.5" cy="428.9" r="2.4" fill="url(#gr)" opacity="0.91"/>
<circle cx="211.9" cy="469.4" r="2.9" fill="url(#gr)" opacity="0.74"/>
<circle cx="163.4" cy="447.1" r="2.9" fill="url(#gr)" opacity="0.70"/>
<circle cx="209.9" cy="476.8" r="3.6" fill="url(#gr)" opacity="0.60"/>
<circle cx="198.6" cy="439.0" r="4.8" fill="url(#gr)" opacity="0.87"/>
<circle cx="214.3" cy="457.8" r="3.5" fill="url(#gr)" opacity="0.95"/>
<circle cx="214.1" cy="427.3" r="2.4" fill="url(#gr)" opacity="0.72"/>
<circle cx="187.2" cy="412.9" r="3.0" fill="url(#gr)" opacity="0.81"/>
<circle cx="146.0" cy="466.3" r="3.8" fill="url(#gr)" opacity="0.69"/>
<circle cx="168.0" cy="431.9" r="2.9" fill="url(#gr)" opacity="0.89"/>
<circle cx="185.5" cy="444.8" r="2.4" fill="url(#gr)" opacity="0.96"/>
<circle cx="170.3" cy="430.0" r="2.2" fill="url(#gr)" opacity="0.99"/>
<circle cx="183.6" cy="473.6" r="4.6" fill="url(#gr)" opacity="0.99"/>
<circle cx="212.7" cy="474.5" r="4.6" fill="url(#gr)" opacity="0.91"/>
<circle cx="153.8" cy="444.6" r="3.6" fill="url(#gr)" opacity="1.00"/>
<circle cx="209.9" cy="458.0" r="4.1" fill="url(#gr)" opacity="0.71"/>
<circle cx="223.6" cy="453.5" r="3.1" fill="url(#gr)" opacity="0.76"/>
<circle cx="226.9" cy="445.2" r="2.5" fill="url(#gr)" opacity="0.62"/>
<circle cx="201.6" cy="447.5" r="4.5" fill="url(#gr)" opacity="0.63"/>
<circle cx="177.7" cy="459.8" r="2.1" fill="url(#gr)" opacity="0.59"/>
<circle cx="189.3" cy="425.4" r="2.3" fill="url(#gr)" opacity="0.67"/>
<circle cx="196.8" cy="444.8" r="2.2" fill="url(#gr)" opacity="0.58"/>
<circle cx="215.7" cy="453.5" r="2.5" fill="url(#gr)" opacity="0.94"/>
<circle cx="144.1" cy="433.0" r="4.4" fill="url(#gr)" opacity="0.87"/>
<circle cx="166.7" cy="472.0" r="3.7" fill="url(#gr)" opacity="0.94"/>
<circle cx="219.3" cy="437.3" r="3.9" fill="url(#gr)" opacity="0.80"/>
<circle cx="223.8" cy="465.1" r="4.0" fill="url(#gr)" opacity="0.92"/>
<circle cx="228.4" cy="424.7" r="2.6" fill="url(#gr)" opacity="0.89"/>
<circle cx="208.8" cy="443.9" r="3.4" fill="url(#gr)" opacity="0.73"/>
<circle cx="218.5" cy="464.9" r="3.6" fill="url(#gr)" opacity="0.57"/>
<circle cx="215.7" cy="439.8" r="2.5" fill="url(#gr)" opacity="0.68"/>
<circle cx="201.9" cy="406.0" r="2.3" fill="url(#gr)" opacity="0.69"/>
<circle cx="218.9" cy="461.2" r="4.7" fill="url(#gr)" opacity="0.79"/>
<circle cx="191.6" cy="446.7" r="3.5" fill="url(#gr)" opacity="0.79"/>
<circle cx="212.9" cy="476.6" r="3.1" fill="url(#gr)" opacity="0.83"/>
<circle cx="168.8" cy="428.1" r="3.4" fill="url(#gr)" opacity="0.81"/>
<circle cx="189.7" cy="478.4" r="2.5" fill="url(#gr)" opacity="0.84"/>
<circle cx="228.1" cy="460.4" r="3.6" fill="url(#gr)" opacity="0.72"/>
<circle cx="176.9" cy="475.4" r="4.5" fill="url(#gr)" opacity="0.85"/>
<circle cx="219.9" cy="474.5" r="4.4" fill="url(#gr)" opacity="0.72"/>
<circle cx="182.3" cy="464.9" r="3.0" fill="url(#gr)" opacity="0.89"/>
<circle cx="183.8" cy="430.7" r="3.3" fill="url(#gr)" opacity="0.60"/>
<circle cx="172.8" cy="436.5" r="2.1" fill="url(#gr)" opacity="0.63"/>
<circle cx="164.7" cy="469.5" r="3.7" fill="url(#gr)" opacity="0.68"/>
<circle cx="228.4" cy="424.8" r="3.4" fill="url(#gr)" opacity="0.88"/>
<circle cx="201.9" cy="437.9" r="4.2" fill="url(#gr)" opacity="0.77"/>
<circle cx="204.0" cy="442.2" r="4.7" fill="url(#gr)" opacity="0.87"/>
<circle cx="150.1" cy="415.2" r="4.7" fill="url(#gr)" opacity="0.65"/>
<circle cx="144.5" cy="424.5" r="3.3" fill="url(#gr)" opacity="0.98"/>
<circle cx="176.7" cy="459.5" r="4.3" fill="url(#gr)" opacity="0.59"/>
<circle cx="195.1" cy="479.8" r="3.5" fill="url(#gr)" opacity="0.79"/>
<circle cx="172.2" cy="476.1" r="4.7" fill="url(#gr)" opacity="0.60"/>
<circle cx="190.0" cy="436.9" r="3.9" fill="url(#gr)" opacity="0.60"/>
<circle cx="165.1" cy="426.4" r="3.3" fill="url(#gr)" opacity="0.91"/>
<circle cx="216.3" cy="464.2" r="3.9" fill="url(#gr)" opacity="0.59"/>
<circle cx="175.9" cy="455.4" r="2.8" fill="url(#gr)" opacity="0.78"/>
<circle cx="220.4" cy="414.3" r="4.4" fill="url(#gr)" opacity="0.60"/>
<circle cx="175.6" cy="473.1" r="2.6" fill="url(#gr)" opacity="0.78"/>
<circle cx="178.2" cy="471.8" r="4.8" fill="url(#gr)" opacity="0.68"/>
<circle cx="184.7" cy="472.3" r="3.5" fill="url(#gr)" opacity="0.65"/>
<circle cx="207.8" cy="430.7" r="3.4" fill="url(#gr)" opacity="0.55"/>
<circle cx="227.6" cy="454.6" r="4.6" fill="url(#gr)" opacity="0.99"/>
<circle cx="165.3" cy="445.9" r="3.2" fill="url(#gr)" opacity="0.89"/>
<circle cx="215.0" cy="422.6" r="2.8" fill="url(#gr)" opacity="0.87"/>
<circle cx="177.8" cy="415.3" r="2.5" fill="url(#gr)" opacity="0.80"/>
<circle cx="193.9" cy="477.1" r="3.5" fill="url(#gr)" opacity="0.82"/>
<circle cx="155.1" cy="436.4" r="2.8" fill="url(#gr)" opacity="0.86"/>
<circle cx="165.3" cy="421.6" r="3.0" fill="url(#gr)" opacity="0.76"/>
<circle cx="171.4" cy="450.7" r="2.5" fill="url(#gr)" opacity="0.95"/>
<circle cx="202.2" cy="445.4" r="2.2" fill="url(#gr)" opacity="0.70"/>
<circle cx="201.8" cy="453.7" r="4.3" fill="url(#gr)" opacity="0.95"/>
<circle cx="169.4" cy="442.4" r="2.9" fill="url(#gr)" opacity="0.61"/>
<circle cx="154.3" cy="424.7" r="2.2" fill="url(#gr)" opacity="0.79"/>
<circle cx="202.9" cy="447.5" r="3.9" fill="url(#gr)" opacity="0.65"/>
<circle cx="159.4" cy="447.9" r="4.5" fill="url(#gr)" opacity="0.74"/>
<circle cx="142.6" cy="407.1" r="2.9" fill="url(#gr)" opacity="0.83"/>
<circle cx="149.5" cy="422.3" r="3.9" fill="url(#gr)" opacity="0.99"/>
<circle cx="171.7" cy="450.4" r="3.5" fill="url(#gr)" opacity="0.56"/>
<circle cx="170.7" cy="416.0" r="2.7" fill="url(#gr)" opacity="0.90"/>
<circle cx="201.1" cy="408.7" r="2.2" fill="url(#gr)" opacity="0.88"/>
<circle cx="151.1" cy="429.2" r="2.8" fill="url(#gr)" opacity="0.57"/>
<circle cx="144.9" cy="416.0" r="3.1" fill="url(#gr)" opacity="0.97"/>
<circle cx="197.4" cy="423.6" r="3.9" fill="url(#gr)" opacity="0.67"/>
<circle cx="186.7" cy="429.6" r="4.7" fill="url(#gr)" opacity="0.71"/>
<circle cx="211.6" cy="453.4" r="4.4" fill="url(#gr)" opacity="0.82"/>
<circle cx="217.4" cy="435.8" r="3.9" fill="url(#gr)" opacity="0.83"/>
<circle cx="187.8" cy="447.7" r="3.5" fill="url(#gr)" opacity="0.73"/>
<circle cx="219.8" cy="452.7" r="3.5" fill="url(#gr)" opacity="0.57"/>
<circle cx="186.1" cy="418.6" r="2.6" fill="url(#gr)" opacity="0.75"/>
<circle cx="189.4" cy="424.3" r="2.8" fill="url(#gr)" opacity="0.79"/>
<circle cx="183.1" cy="435.6" r="2.3" fill="url(#gr)" opacity="0.72"/>
<circle cx="198.7" cy="446.1" r="3.5" fill="url(#gr)" opacity="0.93"/>
<circle cx="204.7" cy="456.6" r="2.1" fill="url(#gr)" opacity="0.69"/>
<circle cx="201.2" cy="417.2" r="4.6" fill="url(#gr)" opacity="0.61"/>
<circle cx="218.2" cy="421.7" r="4.4" fill="url(#gr)" opacity="0.93"/>
<circle cx="171.2" cy="471.8" r="2.4" fill="url(#gr)" opacity="0.93"/>
<circle cx="175.2" cy="438.4" r="2.3" fill="url(#gr)" opacity="0.82"/>
<circle cx="165.5" cy="455.3" r="4.2" fill="url(#gr)" opacity="0.82"/>
<circle cx="142.9" cy="476.5" r="4.6" fill="url(#gr)" opacity="0.84"/>
<circle cx="175.0" cy="447.5" r="4.5" fill="url(#gr)" opacity="0.76"/>
<circle cx="209.5" cy="450.2" r="3.2" fill="url(#gr)" opacity="0.97"/>
<circle cx="177.5" cy="450.7" r="2.1" fill="url(#gr)" opacity="0.76"/>
<circle cx="145.4" cy="458.1" r="2.0" fill="url(#gr)" opacity="0.57"/>
<circle cx="151.8" cy="416.0" r="3.4" fill="url(#gr)" opacity="0.71"/>
<circle cx="165.6" cy="478.9" r="4.5" fill="url(#gr)" opacity="0.84"/>
<circle cx="211.5" cy="466.7" r="2.7" fill="url(#gr)" opacity="0.91"/>
<circle cx="162.9" cy="447.5" r="3.0" fill="url(#gr)" opacity="0.62"/>
<circle cx="209.3" cy="473.9" r="2.9" fill="url(#gr)" opacity="0.95"/>
<circle cx="172.1" cy="454.6" r="4.8" fill="url(#gr)" opacity="0.90"/>
<circle cx="147.0" cy="438.0" r="3.1" fill="url(#gr)" opacity="0.68"/>
<circle cx="212.7" cy="438.5" r="4.0" fill="url(#gr)" opacity="0.84"/>
<circle cx="187.0" cy="409.8" r="3.9" fill="url(#gr)" opacity="0.95"/>
<circle cx="157.1" cy="453.5" r="3.4" fill="url(#gr)" opacity="0.70"/>
<circle cx="203.6" cy="478.3" r="2.1" fill="url(#gr)" opacity="0.95"/>
<circle cx="175.3" cy="467.7" r="2.5" fill="url(#gr)" opacity="0.87"/>
<circle cx="150.8" cy="430.6" r="4.7" fill="url(#gr)" opacity="0.85"/>
<circle cx="210.0" cy="440.0" r="3.3" fill="url(#gr)" opacity="0.77"/>
<circle cx="209.0" cy="459.5" r="2.5" fill="url(#gr)" opacity="0.75"/>
<circle cx="189.0" cy="448.2" r="4.6" fill="url(#gr)" opacity="0.93"/>
<circle cx="155.1" cy="433.6" r="2.3" fill="url(#gr)" opacity="0.56"/>
<circle cx="148.6" cy="419.2" r="4.1" fill="url(#gr)" opacity="0.85"/>
<circle cx="211.1" cy="427.1" r="2.4" fill="url(#gr)" opacity="0.99"/>
<circle cx="213.6" cy="476.1" r="2.1" fill="url(#gr)" opacity="0.73"/>
<circle cx="197.0" cy="460.4" r="4.6" fill="url(#gr)" opacity="0.79"/>
<circle cx="176.0" cy="406.0" r="4.3" fill="url(#gr)" opacity="0.99"/>
<circle cx="220.6" cy="454.9" r="3.0" fill="url(#gr)" opacity="0.66"/>
<circle cx="209.2" cy="475.3" r="4.7" fill="url(#gr)" opacity="0.63"/>
<circle cx="192.8" cy="443.8" r="3.2" fill="url(#gr)" opacity="0.91"/>
<circle cx="223.1" cy="459.6" r="4.0" fill="url(#gr)" opacity="0.86"/>
<circle cx="198.7" cy="445.6" r="2.7" fill="url(#gr)" opacity="0.90"/>
<circle cx="152.5" cy="453.6" r="3.1" fill="url(#gr)" opacity="0.80"/>
<circle cx="197.6" cy="441.3" r="4.7" fill="url(#gr)" opacity="0.66"/>
<circle cx="143.3" cy="476.8" r="2.9" fill="url(#gr)" opacity="0.68"/>
<circle cx="178.1" cy="449.9" r="4.8" fill="url(#gr)" opacity="0.87"/>
<circle cx="169.7" cy="445.4" r="3.3" fill="url(#gr)" opacity="0.78"/>
<circle cx="178.3" cy="418.1" r="3.1" fill="url(#gr)" opacity="0.73"/>
<circle cx="159.5" cy="466.5" r="3.0" fill="url(#gr)" opacity="0.62"/>
<circle cx="191.2" cy="468.5" r="4.2" fill="url(#gr)" opacity="0.83"/>
<circle cx="205.4" cy="430.6" r="2.4" fill="url(#gr)" opacity="0.66"/>
<circle cx="172.4" cy="426.4" r="3.3" fill="url(#gr)" opacity="0.62"/>
<circle cx="153.5" cy="424.4" r="2.6" fill="url(#gr)" opacity="0.91"/>
<circle cx="188.6" cy="420.4" r="3.2" fill="url(#gr)" opacity="0.94"/>
<circle cx="192.1" cy="446.9" r="3.1" fill="url(#gr)" opacity="0.64"/>
<circle cx="196.2" cy="411.3" r="4.2" fill="url(#gr)" opacity="0.58"/>
<circle cx="206.7" cy="434.1" r="3.9" fill="url(#gr)" opacity="0.82"/>
<circle cx="153.4" cy="445.7" r="2.2" fill="url(#gr)" opacity="0.66"/>
<circle cx="175.2" cy="426.9" r="3.9" fill="url(#gr)" opacity="0.99"/>
<circle cx="173.0" cy="468.1" r="2.6" fill="url(#gr)" opacity="0.87"/>
<circle cx="172.2" cy="445.5" r="2.2" fill="url(#gr)" opacity="0.92"/>
<circle cx="160.2" cy="440.1" r="2.8" fill="url(#gr)" opacity="0.91"/>
<circle cx="193.4" cy="451.4" r="4.1" fill="url(#gr)" opacity="0.66"/>
<circle cx="147.2" cy="467.3" r="2.9" fill="url(#gr)" opacity="0.92"/>
<circle cx="224.9" cy="452.5" r="2.3" fill="url(#gr)" opacity="0.93"/>
<circle cx="196.9" cy="423.9" r="2.6" fill="url(#gr)" opacity="0.78"/>
<circle cx="152.7" cy="473.1" r="4.0" fill="url(#gr)" opacity="0.92"/>
<circle cx="175.4" cy="474.4" r="2.4" fill="url(#gr)" opacity="0.87"/>
<circle cx="164.2" cy="405.9" r="2.3" fill="url(#gr)" opacity="0.64"/>
<circle cx="208.2" cy="433.8" r="3.3" fill="url(#gr)" opacity="0.83"/>
<circle cx="165.3" cy="453.2" r="3.9" fill="url(#gr)" opacity="0.96"/>
<circle cx="185.6" cy="469.3" r="4.7" fill="url(#gr)" opacity="0.90"/>
<circle cx="178.6" cy="425.9" r="2.3" fill="url(#gr)" opacity="0.92"/>
<circle cx="153.4" cy="447.3" r="3.3" fill="url(#gr)" opacity="0.57"/>
<circle cx="160.7" cy="466.9" r="3.5" fill="url(#gr)" opacity="0.97"/>
<circle cx="220.6" cy="412.6" r="3.9" fill="url(#gr)" opacity="0.57"/>
<circle cx="178.7" cy="438.5" r="4.7" fill="url(#gr)" opacity="0.82"/>
<circle cx="158.6" cy="443.6" r="3.5" fill="url(#gr)" opacity="0.64"/>
<circle cx="173.3" cy="471.0" r="4.7" fill="url(#gr)" opacity="0.90"/>
<circle cx="147.8" cy="473.1" r="3.3" fill="url(#gr)" opacity="0.93"/>
<circle cx="157.5" cy="416.6" r="4.5" fill="url(#gr)" opacity="0.68"/>
<circle cx="145.9" cy="442.9" r="4.8" fill="url(#gr)" opacity="0.93"/>
<circle cx="176.4" cy="479.6" r="4.2" fill="url(#gr)" opacity="0.93"/>
<circle cx="198.0" cy="435.0" r="4.5" fill="url(#gr)" opacity="0.76"/>
<circle cx="223.0" cy="446.7" r="4.5" fill="url(#gr)" opacity="0.76"/>
<circle cx="179.1" cy="449.5" r="2.9" fill="url(#gr)" opacity="0.62"/>
<circle cx="193.1" cy="469.0" r="2.8" fill="url(#gr)" opacity="0.94"/>
<circle cx="210.2" cy="463.4" r="3.2" fill="url(#gr)" opacity="1.00"/>
<circle cx="210.5" cy="448.5" r="2.3" fill="url(#gr)" opacity="0.81"/>
<circle cx="143.4" cy="472.8" r="2.9" fill="url(#gr)" opacity="0.72"/>
<circle cx="189.8" cy="453.1" r="3.6" fill="url(#gr)" opacity="0.77"/>
<circle cx="197.0" cy="468.7" r="3.2" fill="url(#gr)" opacity="0.78"/>
<circle cx="212.2" cy="405.9" r="2.4" fill="url(#gr)" opacity="0.70"/>
<circle cx="160.7" cy="472.4" r="2.4" fill="url(#gr)" opacity="0.60"/>
<circle cx="169.6" cy="443.5" r="4.3" fill="url(#gr)" opacity="1.00"/>
<circle cx="215.8" cy="451.0" r="2.1" fill="url(#gr)" opacity="0.58"/>
<circle cx="196.7" cy="466.7" r="2.7" fill="url(#gr)" opacity="0.99"/>
<circle cx="189.8" cy="448.3" r="3.7" fill="url(#gr)" opacity="0.58"/>
<circle cx="156.9" cy="475.3" r="2.7" fill="url(#gr)" opacity="0.59"/>
<circle cx="166.6" cy="459.7" r="2.7" fill="url(#gr)" opacity="0.64"/>
<circle cx="166.1" cy="441.4" r="4.1" fill="url(#gr)" opacity="0.69"/>
<circle cx="217.7" cy="478.3" r="4.3" fill="url(#gr)" opacity="0.58"/>
<circle cx="169.5" cy="474.6" r="4.4" fill="url(#gr)" opacity="0.61"/>
<circle cx="180.4" cy="432.7" r="4.1" fill="url(#gr)" opacity="0.56"/>
</g>
<rect x="142.20" y="405.60" width="14.10" height="28.90" fill="#5fa8a3" stroke="#e8eef0" stroke-width="0.6"/>
<rect x="146.00" y="476.50" width="16" height="1.3" fill="#f4f4f4"/>
<clipPath id="clip2"><rect x="246.20" y="416.80" width="86.80" height="74.20"/></clipPath>
<g clip-path="url(#clip2)"><rect x="246.20" y="416.80" width="86.80" height="74.20" fill="#454545"/>
<circle cx="329.2" cy="487.1" r="1.5" fill="url(#gr)" opacity="0.59"/>
<circle cx="318.7" cy="471.4" r="2.6" fill="url(#gr)" opacity="0.69"/>
<circle cx="298.8" cy="461.8" r="2.4" fill="url(#gr)" opacity="0.62"/>
<circle cx="283.6" cy="446.0" r="2.7" fill="url(#gr)" opacity="1.00"/>
<circle cx="328.6" cy="457.2" r="2.2" fill="url(#gr)" opacity="0.67"/>
<circle cx="249.3" cy="418.8" r="2.2" fill="url(#gr)" opacity="0.69"/>
<circle cx="279.2" cy="483.0" r="2.3" fill="url(#gr)" opacity="0.80"/>
<circle cx="266.7" cy="418.6" r="2.0" fill="url(#gr)" opacity="0.61"/>
<circle cx="290.5" cy="490.9" r="2.6" fill="url(#gr)" opacity="0.63"/>
<circle cx="323.8" cy="475.9" r="2.7" fill="url(#gr)" opacity="0.96"/>
<circle cx="312.4" cy="475.4" r="2.0" fill="url(#gr)" opacity="0.99"/>
<circle cx="329.7" cy="428.8" r="2.8" fill="url(#gr)" opacity="0.87"/>
<circle cx="286.3" cy="456.2" r="2.3" fill="url(#gr)" opacity="0.97"/>
<circle cx="289.7" cy="478.5" r="2.0" fill="url(#gr)" opacity="0.95"/>
<circle cx="324.3" cy="451.0" r="2.4" fill="url(#gr)" opacity="0.96"/>
<circle cx="309.0" cy="452.9" r="1.8" fill="url(#gr)" opacity="0.70"/>
<circle cx="306.9" cy="429.1" r="3.0" fill="url(#gr)" opacity="0.67"/>
<circle cx="325.3" cy="439.8" r="3.1" fill="url(#gr)" opacity="0.87"/>
<circle cx="290.0" cy="455.2" r="2.6" fill="url(#gr)" opacity="0.81"/>
<circle cx="273.3" cy="432.2" r="2.3" fill="url(#gr)" opacity="0.97"/>
<circle cx="300.3" cy="422.4" r="2.9" fill="url(#gr)" opacity="0.88"/>
<circle cx="325.0" cy="431.0" r="2.7" fill="url(#gr)" opacity="0.58"/>
<circle cx="302.9" cy="437.1" r="1.8" fill="url(#gr)" opacity="0.94"/>
<circle cx="255.4" cy="455.6" r="2.9" fill="url(#gr)" opacity="0.66"/>
<circle cx="264.5" cy="482.1" r="2.2" fill="url(#gr)" opacity="0.87"/>
<circle cx="249.0" cy="443.7" r="1.7" fill="url(#gr)" opacity="0.85"/>
<circle cx="253.4" cy="487.6" r="1.4" fill="url(#gr)" opacity="0.88"/>
<circle cx="248.0" cy="435.8" r="2.9" fill="url(#gr)" opacity="0.62"/>
<circle cx="262.1" cy="468.1" r="2.1" fill="url(#gr)" opacity="0.57"/>
<circle cx="332.1" cy="428.0" r="1.5" fill="url(#gr)" opacity="0.70"/>
<circle cx="299.6" cy="471.9" r="1.6" fill="url(#gr)" opacity="0.70"/>
<circle cx="248.9" cy="450.1" r="2.8" fill="url(#gr)" opacity="0.88"/>
<circle cx="324.5" cy="472.9" r="3.0" fill="url(#gr)" opacity="0.87"/>
<circle cx="287.2" cy="433.5" r="2.6" fill="url(#gr)" opacity="0.69"/>
<circle cx="255.1" cy="450.0" r="3.0" fill="url(#gr)" opacity="0.61"/>
<circle cx="297.0" cy="446.0" r="2.3" fill="url(#gr)" opacity="0.61"/>
<circle cx="329.5" cy="436.0" r="2.5" fill="url(#gr)" opacity="0.74"/>
<circle cx="247.8" cy="458.2" r="1.7" fill="url(#gr)" opacity="0.58"/>
<circle cx="249.1" cy="428.8" r="1.6" fill="url(#gr)" opacity="0.84"/>
<circle cx="290.3" cy="489.8" r="3.1" fill="url(#gr)" opacity="1.00"/>
<circle cx="266.4" cy="449.8" r="1.9" fill="url(#gr)" opacity="0.82"/>
<circle cx="300.4" cy="476.2" r="2.7" fill="url(#gr)" opacity="0.67"/>
<circle cx="282.9" cy="455.8" r="1.4" fill="url(#gr)" opacity="0.57"/>
<circle cx="281.7" cy="425.0" r="2.7" fill="url(#gr)" opacity="0.66"/>
<circle cx="254.9" cy="430.3" r="1.8" fill="url(#gr)" opacity="0.65"/>
<circle cx="291.4" cy="451.3" r="2.0" fill="url(#gr)" opacity="0.84"/>
<circle cx="264.6" cy="484.1" r="3.1" fill="url(#gr)" opacity="0.88"/>
<circle cx="283.8" cy="454.8" r="2.4" fill="url(#gr)" opacity="0.57"/>
<circle cx="282.5" cy="455.8" r="1.7" fill="url(#gr)" opacity="0.59"/>
<circle cx="315.9" cy="444.0" r="2.3" fill="url(#gr)" opacity="0.96"/>
<circle cx="299.2" cy="438.3" r="3.2" fill="url(#gr)" opacity="0.72"/>
<circle cx="247.9" cy="467.7" r="1.6" fill="url(#gr)" opacity="0.69"/>
<circle cx="319.2" cy="466.7" r="1.4" fill="url(#gr)" opacity="0.75"/>
<circle cx="281.8" cy="452.9" r="1.8" fill="url(#gr)" opacity="0.81"/>
<circle cx="252.6" cy="437.9" r="2.1" fill="url(#gr)" opacity="0.97"/>
<circle cx="252.8" cy="472.8" r="1.7" fill="url(#gr)" opacity="0.81"/>
<circle cx="280.2" cy="451.2" r="2.8" fill="url(#gr)" opacity="0.73"/>
<circle cx="256.8" cy="425.8" r="1.5" fill="url(#gr)" opacity="0.93"/>
<circle cx="301.8" cy="488.0" r="2.6" fill="url(#gr)" opacity="0.56"/>
<circle cx="303.4" cy="474.5" r="2.7" fill="url(#gr)" opacity="0.77"/>
<circle cx="277.2" cy="450.7" r="2.8" fill="url(#gr)" opacity="0.67"/>
<circle cx="291.9" cy="452.2" r="3.1" fill="url(#gr)" opacity="0.91"/>
<circle cx="327.1" cy="478.8" r="1.9" fill="url(#gr)" opacity="0.65"/>
<circle cx="288.6" cy="436.0" r="2.2" fill="url(#gr)" opacity="0.86"/>
<circle cx="325.9" cy="460.3" r="2.9" fill="url(#gr)" opacity="0.59"/>
<circle cx="277.1" cy="490.8" r="1.7" fill="url(#gr)" opacity="0.74"/>
<circle cx="252.0" cy="423.2" r="3.0" fill="url(#gr)" opacity="0.99"/>
<circle cx="302.5" cy="426.3" r="1.9" fill="url(#gr)" opacity="0.65"/>
<circle cx="304.4" cy="467.3" r="2.2" fill="url(#gr)" opacity="0.79"/>
<circle cx="255.9" cy="456.9" r="3.1" fill="url(#gr)" opacity="0.89"/>
<circle cx="254.5" cy="455.1" r="2.7" fill="url(#gr)" opacity="0.67"/>
<circle cx="323.9" cy="451.0" r="2.7" fill="url(#gr)" opacity="0.73"/>
<circle cx="332.6" cy="474.9" r="2.4" fill="url(#gr)" opacity="0.62"/>
<circle cx="284.5" cy="419.0" r="2.5" fill="url(#gr)" opacity="0.95"/>
<circle cx="261.9" cy="454.7" r="2.3" fill="url(#gr)" opacity="0.73"/>
<circle cx="307.9" cy="486.3" r="2.7" fill="url(#gr)" opacity="0.76"/>
<circle cx="329.7" cy="441.3" r="2.7" fill="url(#gr)" opacity="0.85"/>
<circle cx="312.3" cy="480.0" r="1.8" fill="url(#gr)" opacity="0.83"/>
<circle cx="281.2" cy="466.3" r="3.2" fill="url(#gr)" opacity="0.84"/>
<circle cx="247.2" cy="451.3" r="2.7" fill="url(#gr)" opacity="0.95"/>
<circle cx="302.6" cy="477.4" r="1.4" fill="url(#gr)" opacity="0.97"/>
<circle cx="309.5" cy="461.8" r="3.0" fill="url(#gr)" opacity="0.95"/>
<circle cx="254.9" cy="477.3" r="2.8" fill="url(#gr)" opacity="0.64"/>
<circle cx="310.8" cy="460.3" r="1.7" fill="url(#gr)" opacity="0.91"/>
<circle cx="258.2" cy="462.2" r="2.2" fill="url(#gr)" opacity="0.66"/>
<circle cx="295.3" cy="451.5" r="1.8" fill="url(#gr)" opacity="0.99"/>
<circle cx="252.5" cy="417.0" r="2.3" fill="url(#gr)" opacity="0.93"/>
<circle cx="303.3" cy="472.8" r="2.3" fill="url(#gr)" opacity="0.85"/>
<circle cx="275.3" cy="436.6" r="2.3" fill="url(#gr)" opacity="0.56"/>
<circle cx="253.1" cy="472.7" r="1.7" fill="url(#gr)" opacity="0.89"/>
<circle cx="314.3" cy="446.8" r="2.6" fill="url(#gr)" opacity="0.90"/>
<circle cx="321.2" cy="426.8" r="1.7" fill="url(#gr)" opacity="0.72"/>
<circle cx="286.5" cy="438.7" r="1.4" fill="url(#gr)" opacity="0.80"/>
<circle cx="330.1" cy="444.0" r="2.4" fill="url(#gr)" opacity="0.72"/>
<circle cx="284.6" cy="481.4" r="2.0" fill="url(#gr)" opacity="0.84"/>
<circle cx="288.2" cy="456.8" r="3.0" fill="url(#gr)" opacity="0.58"/>
<circle cx="317.8" cy="439.4" r="2.6" fill="url(#gr)" opacity="0.91"/>
<circle cx="302.9" cy="446.0" r="2.9" fill="url(#gr)" opacity="0.59"/>
<circle cx="301.2" cy="445.8" r="2.4" fill="url(#gr)" opacity="0.93"/>
<circle cx="315.5" cy="463.5" r="2.0" fill="url(#gr)" opacity="0.65"/>
<circle cx="285.9" cy="434.0" r="1.9" fill="url(#gr)" opacity="0.98"/>
<circle cx="255.9" cy="477.5" r="2.1" fill="url(#gr)" opacity="0.71"/>
<circle cx="273.8" cy="422.5" r="2.2" fill="url(#gr)" opacity="0.62"/>
<circle cx="284.6" cy="438.5" r="3.0" fill="url(#gr)" opacity="0.96"/>
<circle cx="284.6" cy="464.3" r="3.1" fill="url(#gr)" opacity="0.70"/>
<circle cx="254.8" cy="434.4" r="1.7" fill="url(#gr)" opacity="0.86"/>
<circle cx="278.6" cy="443.2" r="2.8" fill="url(#gr)" opacity="0.65"/>
<circle cx="316.4" cy="463.8" r="2.1" fill="url(#gr)" opacity="0.92"/>
<circle cx="275.9" cy="482.0" r="3.1" fill="url(#gr)" opacity="0.78"/>
<circle cx="306.1" cy="487.2" r="2.7" fill="url(#gr)" opacity="0.89"/>
<circle cx="321.7" cy="486.2" r="2.8" fill="url(#gr)" opacity="0.99"/>
<circle cx="271.5" cy="463.0" r="2.6" fill="url(#gr)" opacity="0.72"/>
<circle cx="280.5" cy="429.8" r="3.1" fill="url(#gr)" opacity="0.71"/>
<circle cx="287.6" cy="483.1" r="1.7" fill="url(#gr)" opacity="0.98"/>
<circle cx="257.2" cy="418.9" r="2.0" fill="url(#gr)" opacity="0.71"/>
<circle cx="325.9" cy="482.3" r="2.8" fill="url(#gr)" opacity="0.75"/>
<circle cx="293.3" cy="434.4" r="2.9" fill="url(#gr)" opacity="0.73"/>
<circle cx="270.9" cy="464.1" r="1.7" fill="url(#gr)" opacity="0.69"/>
<circle cx="326.6" cy="423.9" r="1.7" fill="url(#gr)" opacity="0.64"/>
<circle cx="268.0" cy="448.0" r="1.9" fill="url(#gr)" opacity="0.70"/>
<circle cx="267.6" cy="434.6" r="2.5" fill="url(#gr)" opacity="0.70"/>
<circle cx="278.6" cy="473.8" r="1.5" fill="url(#gr)" opacity="0.61"/>
<circle cx="320.1" cy="448.7" r="2.8" fill="url(#gr)" opacity="0.61"/>
<circle cx="291.6" cy="479.5" r="2.0" fill="url(#gr)" opacity="0.90"/>
<circle cx="299.2" cy="446.1" r="3.2" fill="url(#gr)" opacity="0.73"/>
<circle cx="287.3" cy="462.8" r="2.0" fill="url(#gr)" opacity="0.93"/>
<circle cx="298.1" cy="460.4" r="2.4" fill="url(#gr)" opacity="0.99"/>
<circle cx="332.0" cy="479.2" r="2.2" fill="url(#gr)" opacity="0.74"/>
<circle cx="291.7" cy="420.2" r="1.6" fill="url(#gr)" opacity="1.00"/>
<circle cx="257.3" cy="486.4" r="2.6" fill="url(#gr)" opacity="0.96"/>
<circle cx="252.9" cy="439.5" r="2.8" fill="url(#gr)" opacity="0.55"/>
<circle cx="255.4" cy="442.8" r="1.7" fill="url(#gr)" opacity="0.62"/>
<circle cx="304.3" cy="423.6" r="3.1" fill="url(#gr)" opacity="0.84"/>
<circle cx="250.5" cy="483.5" r="1.8" fill="url(#gr)" opacity="0.77"/>
<circle cx="294.7" cy="427.1" r="2.3" fill="url(#gr)" opacity="0.58"/>
<circle cx="263.5" cy="485.0" r="2.9" fill="url(#gr)" opacity="0.79"/>
<circle cx="305.4" cy="481.8" r="1.7" fill="url(#gr)" opacity="0.77"/>
<circle cx="257.6" cy="425.4" r="1.6" fill="url(#gr)" opacity="0.65"/>
<circle cx="250.8" cy="432.8" r="2.1" fill="url(#gr)" opacity="0.83"/>
<circle cx="320.7" cy="483.9" r="2.7" fill="url(#gr)" opacity="0.78"/>
<circle cx="325.8" cy="428.9" r="1.6" fill="url(#gr)" opacity="0.92"/>
<circle cx="300.6" cy="432.4" r="2.1" fill="url(#gr)" opacity="0.68"/>
<circle cx="283.6" cy="448.5" r="2.1" fill="url(#gr)" opacity="0.91"/>
<circle cx="316.6" cy="458.5" r="2.3" fill="url(#gr)" opacity="0.68"/>
<circle cx="312.6" cy="490.0" r="1.8" fill="url(#gr)" opacity="0.87"/>
<circle cx="306.9" cy="465.6" r="1.5" fill="url(#gr)" opacity="0.80"/>
<circle cx="263.7" cy="431.2" r="2.4" fill="url(#gr)" opacity="0.84"/>
<circle cx="300.5" cy="471.9" r="2.7" fill="url(#gr)" opacity="0.76"/>
<circle cx="250.3" cy="474.1" r="2.9" fill="url(#gr)" opacity="0.93"/>
<circle cx="298.1" cy="419.6" r="1.8" fill="url(#gr)" opacity="0.60"/>
<circle cx="301.4" cy="457.2" r="1.7" fill="url(#gr)" opacity="0.98"/>
<circle cx="331.1" cy="483.5" r="2.2" fill="url(#gr)" opacity="0.68"/>
<circle cx="264.3" cy="477.9" r="2.7" fill="url(#gr)" opacity="0.67"/>
<circle cx="324.5" cy="459.0" r="2.1" fill="url(#gr)" opacity="0.74"/>
<circle cx="308.7" cy="450.6" r="2.6" fill="url(#gr)" opacity="0.60"/>
<circle cx="307.2" cy="437.0" r="3.0" fill="url(#gr)" opacity="0.65"/>
<circle cx="275.1" cy="456.7" r="2.1" fill="url(#gr)" opacity="0.79"/>
<circle cx="326.4" cy="431.7" r="2.8" fill="url(#gr)" opacity="0.86"/>
<circle cx="314.4" cy="450.0" r="2.2" fill="url(#gr)" opacity="0.71"/>
<circle cx="287.3" cy="435.7" r="1.7" fill="url(#gr)" opacity="0.76"/>
<circle cx="262.9" cy="451.6" r="2.4" fill="url(#gr)" opacity="0.69"/>
<circle cx="261.0" cy="461.7" r="2.9" fill="url(#gr)" opacity="0.65"/>
<circle cx="299.6" cy="465.7" r="3.0" fill="url(#gr)" opacity="0.86"/>
<circle cx="272.9" cy="432.2" r="2.9" fill="url(#gr)" opacity="0.68"/>
<circle cx="247.3" cy="481.4" r="1.8" fill="url(#gr)" opacity="0.69"/>
<circle cx="273.9" cy="435.8" r="2.7" fill="url(#gr)" opacity="0.70"/>
<circle cx="284.4" cy="447.9" r="2.9" fill="url(#gr)" opacity="0.56"/>
<circle cx="296.5" cy="426.6" r="1.7" fill="url(#gr)" opacity="0.82"/>
<circle cx="278.8" cy="421.6" r="2.5" fill="url(#gr)" opacity="0.96"/>
<circle cx="302.2" cy="453.6" r="2.8" fill="url(#gr)" opacity="0.96"/>
<circle cx="259.3" cy="439.0" r="3.1" fill="url(#gr)" opacity="0.97"/>
<circle cx="263.8" cy="469.0" r="3.0" fill="url(#gr)" opacity="0.82"/>
<circle cx="307.2" cy="455.7" r="1.8" fill="url(#gr)" opacity="0.65"/>
<circle cx="251.6" cy="466.2" r="1.6" fill="url(#gr)" opacity="0.83"/>
<circle cx="280.2" cy="449.2" r="3.1" fill="url(#gr)" opacity="0.73"/>
<circle cx="287.4" cy="445.0" r="1.8" fill="url(#gr)" opacity="0.65"/>
<circle cx="292.4" cy="477.5" r="1.6" fill="url(#gr)" opacity="0.98"/>
<circle cx="304.7" cy="420.8" r="2.7" fill="url(#gr)" opacity="0.73"/>
<circle cx="290.9" cy="424.3" r="2.3" fill="url(#gr)" opacity="0.78"/>
<circle cx="314.1" cy="459.9" r="2.7" fill="url(#gr)" opacity="0.88"/>
<circle cx="265.4" cy="418.6" r="2.3" fill="url(#gr)" opacity="0.61"/>
<circle cx="258.5" cy="440.7" r="2.4" fill="url(#gr)" opacity="0.83"/>
<circle cx="302.3" cy="486.7" r="1.6" fill="url(#gr)" opacity="0.80"/>
<circle cx="253.7" cy="466.5" r="2.2" fill="url(#gr)" opacity="0.61"/>
<circle cx="273.2" cy="465.8" r="2.3" fill="url(#gr)" opacity="0.97"/>
<circle cx="277.0" cy="442.0" r="3.1" fill="url(#gr)" opacity="0.82"/>
<circle cx="255.5" cy="475.0" r="2.1" fill="url(#gr)" opacity="0.98"/>
<circle cx="301.4" cy="476.5" r="3.0" fill="url(#gr)" opacity="0.78"/>
<circle cx="330.2" cy="418.7" r="2.0" fill="url(#gr)" opacity="0.93"/>
<circle cx="246.9" cy="466.7" r="3.2" fill="url(#gr)" opacity="0.87"/>
<circle cx="321.0" cy="422.5" r="2.4" fill="url(#gr)" opacity="0.82"/>
<circle cx="284.0" cy="447.9" r="2.8" fill="url(#gr)" opacity="0.62"/>
<circle cx="250.1" cy="460.8" r="3.1" fill="url(#gr)" opacity="0.92"/>
<circle cx="304.6" cy="438.7" r="3.0" fill="url(#gr)" opacity="0.57"/>
<circle cx="267.6" cy="475.3" r="3.0" fill="url(#gr)" opacity="0.73"/>
<circle cx="325.1" cy="425.0" r="2.5" fill="url(#gr)" opacity="0.58"/>
<circle cx="266.5" cy="430.9" r="1.4" fill="url(#gr)" opacity="0.73"/>
<circle cx="289.6" cy="437.7" r="2.6" fill="url(#gr)" opacity="0.57"/>
<circle cx="291.1" cy="456.0" r="2.1" fill="url(#gr)" opacity="0.96"/>
<circle cx="257.2" cy="448.5" r="2.2" fill="url(#gr)" opacity="0.72"/>
<circle cx="330.7" cy="459.2" r="2.3" fill="url(#gr)" opacity="0.75"/>
<circle cx="284.2" cy="487.4" r="2.8" fill="url(#gr)" opacity="0.84"/>
<circle cx="260.3" cy="460.9" r="1.6" fill="url(#gr)" opacity="0.71"/>
<circle cx="248.2" cy="469.1" r="3.2" fill="url(#gr)" opacity="0.84"/>
<circle cx="295.7" cy="435.4" r="2.2" fill="url(#gr)" opacity="0.76"/>
<circle cx="282.9" cy="436.8" r="1.8" fill="url(#gr)" opacity="0.89"/>
<circle cx="328.9" cy="477.7" r="2.5" fill="url(#gr)" opacity="0.56"/>
<circle cx="272.4" cy="479.1" r="3.2" fill="url(#gr)" opacity="0.80"/>
<circle cx="295.6" cy="467.7" r="1.8" fill="url(#gr)" opacity="0.87"/>
<circle cx="277.9" cy="479.7" r="2.2" fill="url(#gr)" opacity="0.85"/>
<circle cx="294.5" cy="456.5" r="2.2" fill="url(#gr)" opacity="0.98"/>
<circle cx="311.7" cy="448.0" r="2.3" fill="url(#gr)" opacity="0.95"/>
<circle cx="311.0" cy="465.3" r="3.1" fill="url(#gr)" opacity="0.60"/>
<circle cx="298.1" cy="463.1" r="2.2" fill="url(#gr)" opacity="0.98"/>
<circle cx="330.2" cy="445.8" r="2.5" fill="url(#gr)" opacity="0.89"/>
<circle cx="306.6" cy="443.7" r="2.8" fill="url(#gr)" opacity="0.71"/>
<circle cx="259.0" cy="466.1" r="2.6" fill="url(#gr)" opacity="0.73"/>
<circle cx="289.5" cy="490.1" r="2.9" fill="url(#gr)" opacity="0.73"/>
<circle cx="325.3" cy="459.1" r="2.1" fill="url(#gr)" opacity="0.84"/>
<circle cx="314.2" cy="483.3" r="2.6" fill="url(#gr)" opacity="0.85"/>
<circle cx="281.0" cy="419.8" r="2.2" fill="url(#gr)" opacity="0.60"/>
<circle cx="328.0" cy="443.7" r="2.5" fill="url(#gr)" opacity="0.88"/>
<circle cx="261.7" cy="478.6" r="2.0" fill="url(#gr)" opacity="0.59"/>
<circle cx="298.3" cy="446.7" r="3.1" fill="url(#gr)" opacity="0.75"/>
<circle cx="254.4" cy="418.2" r="1.5" fill="url(#gr)" opacity="0.77"/>
<circle cx="308.2" cy="420.6" r="2.0" fill="url(#gr)" opacity="0.77"/>
<circle cx="324.1" cy="488.8" r="3.0" fill="url(#gr)" opacity="0.84"/>
<circle cx="296.1" cy="433.3" r="2.5" fill="url(#gr)" opacity="0.62"/>
<circle cx="272.5" cy="478.4" r="2.4" fill="url(#gr)" opacity="0.88"/>
<circle cx="286.6" cy="437.5" r="2.3" fill="url(#gr)" opacity="0.81"/>
<circle cx="267.2" cy="479.5" r="3.2" fill="url(#gr)" opacity="0.63"/>
<circle cx="267.2" cy="477.0" r="2.7" fill="url(#gr)" opacity="0.65"/>
<circle cx="297.1" cy="434.5" r="3.0" fill="url(#gr)" opacity="0.81"/>
<circle cx="290.5" cy="428.8" r="2.1" fill="url(#gr)" opacity="0.76"/>
<circle cx="277.6" cy="430.1" r="1.8" fill="url(#gr)" opacity="0.87"/>
<circle cx="326.5" cy="479.4" r="2.5" fill="url(#gr)" opacity="0.91"/>
<circle cx="257.8" cy="432.4" r="2.7" fill="url(#gr)" opacity="0.55"/>
<circle cx="253.5" cy="474.6" r="1.8" fill="url(#gr)" opacity="0.63"/>
<circle cx="280.5" cy="478.9" r="1.4" fill="url(#gr)" opacity="0.94"/>
<circle cx="272.7" cy="459.2" r="2.3" fill="url(#gr)" opacity="0.60"/>
<circle cx="329.4" cy="429.8" r="2.8" fill="url(#gr)" opacity="0.95"/>
<circle cx="285.6" cy="488.0" r="1.5" fill="url(#gr)" opacity="0.62"/>
<circle cx="288.2" cy="422.3" r="2.9" fill="url(#gr)" opacity="0.79"/>
<circle cx="315.5" cy="438.1" r="1.4" fill="url(#gr)" opacity="0.95"/>
<circle cx="264.3" cy="447.7" r="1.6" fill="url(#gr)" opacity="0.81"/>
<circle cx="286.5" cy="431.5" r="1.5" fill="url(#gr)" opacity="0.70"/>
<circle cx="314.2" cy="428.2" r="1.8" fill="url(#gr)" opacity="0.83"/>
<circle cx="301.3" cy="476.5" r="2.6" fill="url(#gr)" opacity="0.93"/>
<circle cx="259.7" cy="485.2" r="1.5" fill="url(#gr)" opacity="0.60"/>
<circle cx="255.2" cy="474.3" r="2.3" fill="url(#gr)" opacity="0.96"/>
<circle cx="330.8" cy="487.5" r="2.5" fill="url(#gr)" opacity="0.71"/>
<circle cx="329.3" cy="471.2" r="1.8" fill="url(#gr)" opacity="0.80"/>
<circle cx="248.0" cy="418.1" r="2.5" fill="url(#gr)" opacity="0.87"/>
<circle cx="320.9" cy="472.7" r="1.6" fill="url(#gr)" opacity="0.88"/>
<circle cx="331.4" cy="467.0" r="2.3" fill="url(#gr)" opacity="0.68"/>
<circle cx="251.7" cy="463.2" r="3.1" fill="url(#gr)" opacity="0.60"/>
<circle cx="317.5" cy="483.4" r="2.0" fill="url(#gr)" opacity="0.93"/>
<circle cx="259.7" cy="439.1" r="2.4" fill="url(#gr)" opacity="0.95"/>
<circle cx="292.7" cy="423.4" r="3.1" fill="url(#gr)" opacity="0.81"/>
<circle cx="313.8" cy="433.9" r="2.0" fill="url(#gr)" opacity="0.59"/>
<circle cx="262.4" cy="449.2" r="2.1" fill="url(#gr)" opacity="0.85"/>
<circle cx="318.6" cy="441.6" r="3.1" fill="url(#gr)" opacity="0.84"/>
<circle cx="276.1" cy="430.5" r="3.1" fill="url(#gr)" opacity="0.85"/>
<circle cx="249.9" cy="467.6" r="2.1" fill="url(#gr)" opacity="0.74"/>
<circle cx="312.7" cy="433.4" r="1.9" fill="url(#gr)" opacity="0.79"/>
<circle cx="324.7" cy="423.2" r="2.9" fill="url(#gr)" opacity="0.87"/>
<circle cx="261.6" cy="465.9" r="2.5" fill="url(#gr)" opacity="0.87"/>
<circle cx="292.8" cy="440.1" r="2.3" fill="url(#gr)" opacity="0.66"/>
<circle cx="285.7" cy="446.9" r="1.6" fill="url(#gr)" opacity="0.65"/>
<circle cx="276.1" cy="446.0" r="2.4" fill="url(#gr)" opacity="0.89"/>
<circle cx="268.7" cy="458.0" r="2.0" fill="url(#gr)" opacity="0.65"/>
<circle cx="258.3" cy="488.0" r="3.1" fill="url(#gr)" opacity="0.92"/>
<circle cx="261.1" cy="428.0" r="1.6" fill="url(#gr)" opacity="0.69"/>
<circle cx="283.2" cy="417.3" r="2.2" fill="url(#gr)" opacity="0.86"/>
<circle cx="318.6" cy="430.9" r="1.4" fill="url(#gr)" opacity="0.91"/>
<circle cx="279.2" cy="440.1" r="1.7" fill="url(#gr)" opacity="0.67"/>
<circle cx="269.3" cy="435.9" r="1.8" fill="url(#gr)" opacity="0.78"/>
<circle cx="316.8" cy="439.7" r="2.1" fill="url(#gr)" opacity="0.77"/>
<circle cx="319.3" cy="473.7" r="3.2" fill="url(#gr)" opacity="0.63"/>
<circle cx="316.1" cy="438.7" r="2.4" fill="url(#gr)" opacity="0.79"/>
<circle cx="296.1" cy="440.7" r="1.5" fill="url(#gr)" opacity="0.55"/>
<circle cx="326.7" cy="482.6" r="2.2" fill="url(#gr)" opacity="0.59"/>
<circle cx="318.9" cy="454.0" r="2.2" fill="url(#gr)" opacity="0.84"/>
<circle cx="259.9" cy="433.0" r="2.9" fill="url(#gr)" opacity="0.88"/>
<circle cx="331.6" cy="449.0" r="3.1" fill="url(#gr)" opacity="0.95"/>
<circle cx="290.3" cy="483.0" r="1.7" fill="url(#gr)" opacity="0.58"/>
<circle cx="316.9" cy="427.3" r="2.3" fill="url(#gr)" opacity="0.88"/>
<circle cx="305.2" cy="433.1" r="2.8" fill="url(#gr)" opacity="0.57"/>
<circle cx="295.0" cy="483.4" r="2.4" fill="url(#gr)" opacity="0.69"/>
<circle cx="332.8" cy="470.7" r="2.8" fill="url(#gr)" opacity="0.95"/>
<circle cx="327.4" cy="459.4" r="2.9" fill="url(#gr)" opacity="0.78"/>
<circle cx="268.3" cy="437.4" r="1.9" fill="url(#gr)" opacity="0.56"/>
<circle cx="300.0" cy="446.5" r="3.0" fill="url(#gr)" opacity="0.57"/>
<circle cx="314.2" cy="431.3" r="2.0" fill="url(#gr)" opacity="0.68"/>
<circle cx="329.3" cy="464.7" r="2.2" fill="url(#gr)" opacity="0.63"/>
<circle cx="250.3" cy="444.1" r="3.2" fill="url(#gr)" opacity="0.75"/>
<circle cx="304.8" cy="482.1" r="1.5" fill="url(#gr)" opacity="0.69"/>
<circle cx="282.5" cy="433.6" r="2.1" fill="url(#gr)" opacity="0.86"/>
<circle cx="257.9" cy="468.3" r="1.9" fill="url(#gr)" opacity="0.85"/>
<circle cx="261.3" cy="475.4" r="2.2" fill="url(#gr)" opacity="0.92"/>
<circle cx="330.2" cy="459.9" r="1.4" fill="url(#gr)" opacity="0.71"/>
<circle cx="330.9" cy="465.2" r="2.8" fill="url(#gr)" opacity="0.76"/>
<circle cx="327.8" cy="484.1" r="2.5" fill="url(#gr)" opacity="0.82"/>
<circle cx="255.2" cy="417.3" r="1.8" fill="url(#gr)" opacity="0.87"/>
<circle cx="319.7" cy="473.9" r="3.0" fill="url(#gr)" opacity="0.56"/>
<circle cx="248.7" cy="435.7" r="1.4" fill="url(#gr)" opacity="0.81"/>
<circle cx="326.9" cy="483.5" r="1.6" fill="url(#gr)" opacity="0.85"/>
<circle cx="304.4" cy="465.6" r="2.1" fill="url(#gr)" opacity="0.66"/>
<circle cx="323.1" cy="483.9" r="2.7" fill="url(#gr)" opacity="0.79"/>
<circle cx="249.1" cy="437.3" r="1.8" fill="url(#gr)" opacity="0.66"/>
<circle cx="265.0" cy="466.4" r="2.6" fill="url(#gr)" opacity="0.63"/>
<circle cx="324.5" cy="416.8" r="3.1" fill="url(#gr)" opacity="0.81"/>
<circle cx="302.2" cy="437.7" r="2.6" fill="url(#gr)" opacity="0.94"/>
<circle cx="264.0" cy="426.6" r="2.8" fill="url(#gr)" opacity="0.66"/>
<circle cx="255.4" cy="453.3" r="1.7" fill="url(#gr)" opacity="0.65"/>
<circle cx="270.8" cy="423.1" r="2.9" fill="url(#gr)" opacity="0.80"/>
<circle cx="302.9" cy="438.5" r="2.8" fill="url(#gr)" opacity="0.98"/>
<circle cx="333.0" cy="420.0" r="2.0" fill="url(#gr)" opacity="0.59"/>
<circle cx="287.4" cy="465.6" r="2.5" fill="url(#gr)" opacity="0.71"/>
<circle cx="329.8" cy="463.1" r="3.2" fill="url(#gr)" opacity="0.74"/>
<circle cx="302.2" cy="424.2" r="2.4" fill="url(#gr)" opacity="0.84"/>
<circle cx="266.4" cy="463.1" r="1.6" fill="url(#gr)" opacity="0.76"/>
<circle cx="298.9" cy="452.4" r="1.7" fill="url(#gr)" opacity="0.64"/>
<circle cx="278.7" cy="465.2" r="2.2" fill="url(#gr)" opacity="0.64"/>
<circle cx="275.5" cy="439.7" r="1.6" fill="url(#gr)" opacity="0.82"/>
<circle cx="287.1" cy="441.0" r="1.4" fill="url(#gr)" opacity="0.96"/>
<circle cx="250.1" cy="425.3" r="1.9" fill="url(#gr)" opacity="0.91"/>
<circle cx="327.5" cy="473.1" r="1.8" fill="url(#gr)" opacity="0.93"/>
<circle cx="249.0" cy="425.1" r="1.6" fill="url(#gr)" opacity="0.80"/>
<circle cx="297.7" cy="463.3" r="3.1" fill="url(#gr)" opacity="0.89"/>
<circle cx="310.8" cy="429.6" r="3.0" fill="url(#gr)" opacity="0.96"/>
<circle cx="318.1" cy="422.8" r="2.7" fill="url(#gr)" opacity="0.78"/>
<circle cx="292.8" cy="436.7" r="2.8" fill="url(#gr)" opacity="0.91"/>
<circle cx="313.0" cy="439.2" r="2.7" fill="url(#gr)" opacity="0.59"/>
<circle cx="305.3" cy="419.1" r="1.4" fill="url(#gr)" opacity="0.60"/>
<circle cx="302.9" cy="489.8" r="2.2" fill="url(#gr)" opacity="0.84"/>
<circle cx="297.1" cy="479.2" r="3.1" fill="url(#gr)" opacity="0.92"/>
<circle cx="275.0" cy="422.1" r="3.0" fill="url(#gr)" opacity="0.68"/>
<circle cx="312.1" cy="481.0" r="1.7" fill="url(#gr)" opacity="0.64"/>
<circle cx="282.9" cy="479.4" r="2.9" fill="url(#gr)" opacity="1.00"/>
<circle cx="269.9" cy="463.0" r="3.0" fill="url(#gr)" opacity="0.72"/>
<circle cx="297.2" cy="433.5" r="2.9" fill="url(#gr)" opacity="0.75"/>
<circle cx="288.4" cy="465.5" r="2.0" fill="url(#gr)" opacity="0.92"/>
<circle cx="286.1" cy="448.7" r="2.7" fill="url(#gr)" opacity="0.85"/>
<circle cx="307.8" cy="481.7" r="2.9" fill="url(#gr)" opacity="0.73"/>
<circle cx="302.1" cy="480.9" r="1.5" fill="url(#gr)" opacity="0.85"/>
<circle cx="292.0" cy="446.7" r="1.6" fill="url(#gr)" opacity="0.68"/>
<circle cx="311.3" cy="482.4" r="3.2" fill="url(#gr)" opacity="0.89"/>
<circle cx="322.6" cy="478.1" r="1.7" fill="url(#gr)" opacity="0.86"/>
<circle cx="321.6" cy="472.6" r="1.9" fill="url(#gr)" opacity="0.87"/>
<circle cx="280.0" cy="448.9" r="2.7" fill="url(#gr)" opacity="0.85"/>
<circle cx="258.0" cy="464.3" r="1.5" fill="url(#gr)" opacity="0.64"/>
<circle cx="317.8" cy="484.5" r="1.9" fill="url(#gr)" opacity="0.89"/>
<circle cx="262.0" cy="453.8" r="2.0" fill="url(#gr)" opacity="0.59"/>
<circle cx="283.8" cy="457.8" r="2.9" fill="url(#gr)" opacity="0.60"/>
<circle cx="271.2" cy="417.1" r="1.8" fill="url(#gr)" opacity="0.67"/>
<circle cx="317.4" cy="486.5" r="1.8" fill="url(#gr)" opacity="0.77"/>
<circle cx="291.7" cy="453.2" r="3.1" fill="url(#gr)" opacity="0.98"/>
<circle cx="249.5" cy="447.1" r="2.4" fill="url(#gr)" opacity="0.84"/>
<circle cx="292.2" cy="477.7" r="1.6" fill="url(#gr)" opacity="0.76"/>
<circle cx="318.3" cy="429.5" r="1.7" fill="url(#gr)" opacity="0.83"/>
<circle cx="258.8" cy="457.3" r="1.6" fill="url(#gr)" opacity="0.63"/>
<circle cx="275.2" cy="474.9" r="2.5" fill="url(#gr)" opacity="0.82"/>
<circle cx="300.7" cy="446.2" r="3.2" fill="url(#gr)" opacity="0.82"/>
<circle cx="300.8" cy="421.8" r="1.8" fill="url(#gr)" opacity="0.81"/>
<circle cx="329.2" cy="469.0" r="1.5" fill="url(#gr)" opacity="0.91"/>
<circle cx="264.6" cy="461.0" r="1.7" fill="url(#gr)" opacity="0.58"/>
<circle cx="313.3" cy="452.9" r="2.5" fill="url(#gr)" opacity="0.87"/>
<circle cx="297.7" cy="447.7" r="2.0" fill="url(#gr)" opacity="0.79"/>
<circle cx="267.6" cy="436.3" r="2.9" fill="url(#gr)" opacity="0.70"/>
<circle cx="308.8" cy="467.2" r="2.2" fill="url(#gr)" opacity="0.90"/>
<circle cx="274.9" cy="417.1" r="2.9" fill="url(#gr)" opacity="0.89"/>
<circle cx="310.3" cy="485.1" r="2.1" fill="url(#gr)" opacity="0.74"/>
<circle cx="299.4" cy="481.5" r="1.9" fill="url(#gr)" opacity="0.89"/>
<circle cx="329.3" cy="435.7" r="1.4" fill="url(#gr)" opacity="0.62"/>
<circle cx="302.2" cy="432.8" r="3.1" fill="url(#gr)" opacity="0.59"/>
<circle cx="323.9" cy="443.1" r="3.1" fill="url(#gr)" opacity="0.70"/>
<circle cx="255.8" cy="466.9" r="1.9" fill="url(#gr)" opacity="0.97"/>
<circle cx="317.6" cy="435.8" r="2.3" fill="url(#gr)" opacity="0.80"/>
<circle cx="313.3" cy="436.4" r="2.4" fill="url(#gr)" opacity="0.78"/>
<circle cx="297.2" cy="458.0" r="2.2" fill="url(#gr)" opacity="0.72"/>
<circle cx="280.5" cy="490.6" r="2.3" fill="url(#gr)" opacity="0.60"/>
<circle cx="280.4" cy="473.6" r="2.6" fill="url(#gr)" opacity="0.59"/>
<circle cx="282.1" cy="450.3" r="2.9" fill="url(#gr)" opacity="0.67"/>
<circle cx="325.7" cy="477.2" r="1.4" fill="url(#gr)" opacity="0.77"/>
<circle cx="292.4" cy="463.6" r="3.0" fill="url(#gr)" opacity="0.64"/>
<circle cx="318.1" cy="417.5" r="2.9" fill="url(#gr)" opacity="0.67"/>
<circle cx="248.5" cy="477.1" r="3.1" fill="url(#gr)" opacity="0.85"/>
<circle cx="313.7" cy="446.3" r="1.8" fill="url(#gr)" opacity="0.85"/>
<circle cx="316.4" cy="436.7" r="2.1" fill="url(#gr)" opacity="0.67"/>
<circle cx="269.2" cy="481.1" r="1.4" fill="url(#gr)" opacity="0.56"/>
<circle cx="262.2" cy="475.0" r="2.4" fill="url(#gr)" opacity="0.89"/>
<circle cx="306.6" cy="482.7" r="2.5" fill="url(#gr)" opacity="0.56"/>
<circle cx="255.1" cy="447.4" r="1.6" fill="url(#gr)" opacity="0.69"/>
<circle cx="270.0" cy="489.8" r="3.1" fill="url(#gr)" opacity="0.85"/>
<circle cx="282.8" cy="447.4" r="1.5" fill="url(#gr)" opacity="0.75"/>
<circle cx="258.6" cy="456.3" r="2.9" fill="url(#gr)" opacity="0.73"/>
<circle cx="307.5" cy="477.2" r="3.0" fill="url(#gr)" opacity="0.74"/>
<circle cx="266.8" cy="482.8" r="2.3" fill="url(#gr)" opacity="0.67"/>
<circle cx="305.5" cy="480.9" r="3.2" fill="url(#gr)" opacity="0.72"/>
<circle cx="269.2" cy="435.4" r="1.9" fill="url(#gr)" opacity="0.65"/>
<circle cx="326.0" cy="463.9" r="1.5" fill="url(#gr)" opacity="0.59"/>
<circle cx="262.3" cy="488.7" r="2.0" fill="url(#gr)" opacity="0.91"/>
<circle cx="265.7" cy="431.3" r="3.1" fill="url(#gr)" opacity="0.58"/>
<circle cx="289.7" cy="456.1" r="2.0" fill="url(#gr)" opacity="0.89"/>
<circle cx="320.3" cy="433.8" r="1.9" fill="url(#gr)" opacity="0.77"/>
<circle cx="287.8" cy="463.7" r="2.8" fill="url(#gr)" opacity="0.70"/>
<circle cx="327.8" cy="450.7" r="1.5" fill="url(#gr)" opacity="0.74"/>
<circle cx="292.2" cy="430.4" r="3.0" fill="url(#gr)" opacity="0.82"/>
<circle cx="291.3" cy="437.9" r="1.6" fill="url(#gr)" opacity="0.67"/>
<circle cx="301.9" cy="467.5" r="2.6" fill="url(#gr)" opacity="0.56"/>
<circle cx="313.7" cy="468.4" r="2.6" fill="url(#gr)" opacity="0.79"/>
<circle cx="320.3" cy="488.2" r="2.5" fill="url(#gr)" opacity="0.74"/>
<circle cx="293.2" cy="476.2" r="2.6" fill="url(#gr)" opacity="0.90"/>
<circle cx="273.0" cy="461.5" r="1.8" fill="url(#gr)" opacity="0.81"/>
<circle cx="247.5" cy="456.4" r="2.7" fill="url(#gr)" opacity="0.96"/>
<circle cx="288.3" cy="481.5" r="1.8" fill="url(#gr)" opacity="0.56"/>
<circle cx="294.2" cy="442.3" r="2.1" fill="url(#gr)" opacity="0.82"/>
<circle cx="311.8" cy="480.8" r="2.0" fill="url(#gr)" opacity="0.81"/>
<circle cx="300.9" cy="467.6" r="2.5" fill="url(#gr)" opacity="0.76"/>
<circle cx="316.5" cy="418.3" r="2.8" fill="url(#gr)" opacity="0.63"/>
<circle cx="262.0" cy="466.6" r="2.2" fill="url(#gr)" opacity="0.70"/>
<circle cx="253.0" cy="420.6" r="1.9" fill="url(#gr)" opacity="0.59"/>
<circle cx="306.7" cy="431.7" r="2.1" fill="url(#gr)" opacity="0.74"/>
<circle cx="307.4" cy="477.4" r="2.5" fill="url(#gr)" opacity="0.65"/>
<circle cx="258.1" cy="458.3" r="2.1" fill="url(#gr)" opacity="0.88"/>
<circle cx="264.9" cy="468.0" r="2.0" fill="url(#gr)" opacity="0.68"/>
<circle cx="261.9" cy="472.8" r="2.3" fill="url(#gr)" opacity="0.79"/>
<circle cx="318.4" cy="418.8" r="2.4" fill="url(#gr)" opacity="0.70"/>
<circle cx="267.4" cy="478.3" r="1.8" fill="url(#gr)" opacity="0.73"/>
<circle cx="283.9" cy="427.0" r="2.0" fill="url(#gr)" opacity="0.55"/>
<circle cx="289.6" cy="463.4" r="3.2" fill="url(#gr)" opacity="0.98"/>
<circle cx="275.0" cy="488.3" r="1.6" fill="url(#gr)" opacity="0.62"/>
<circle cx="292.2" cy="467.5" r="2.5" fill="url(#gr)" opacity="0.57"/>
<circle cx="281.6" cy="453.3" r="2.1" fill="url(#gr)" opacity="0.89"/>
<circle cx="310.8" cy="423.2" r="2.2" fill="url(#gr)" opacity="0.86"/>
<circle cx="314.6" cy="466.0" r="3.2" fill="url(#gr)" opacity="0.88"/>
<circle cx="280.4" cy="478.8" r="2.5" fill="url(#gr)" opacity="0.82"/>
<circle cx="297.7" cy="472.6" r="2.7" fill="url(#gr)" opacity="0.76"/>
<circle cx="314.5" cy="448.0" r="2.7" fill="url(#gr)" opacity="0.96"/>
<circle cx="292.2" cy="427.8" r="3.0" fill="url(#gr)" opacity="0.65"/>
<circle cx="264.5" cy="420.2" r="2.2" fill="url(#gr)" opacity="0.73"/>
<circle cx="317.2" cy="429.6" r="2.1" fill="url(#gr)" opacity="0.90"/>
<circle cx="248.3" cy="447.4" r="1.7" fill="url(#gr)" opacity="0.90"/>
<circle cx="272.2" cy="427.3" r="1.6" fill="url(#gr)" opacity="0.64"/>
<circle cx="307.2" cy="425.4" r="1.5" fill="url(#gr)" opacity="0.66"/>
<circle cx="249.8" cy="471.0" r="2.8" fill="url(#gr)" opacity="0.79"/>
<circle cx="275.2" cy="419.7" r="2.7" fill="url(#gr)" opacity="0.66"/>
<circle cx="293.9" cy="490.1" r="1.8" fill="url(#gr)" opacity="0.86"/>
<circle cx="284.2" cy="456.4" r="2.1" fill="url(#gr)" opacity="0.87"/>
<circle cx="291.4" cy="419.2" r="2.9" fill="url(#gr)" opacity="0.66"/>
<circle cx="276.7" cy="452.4" r="2.5" fill="url(#gr)" opacity="0.89"/>
<circle cx="256.5" cy="445.2" r="2.5" fill="url(#gr)" opacity="0.76"/>
<circle cx="267.3" cy="475.9" r="3.1" fill="url(#gr)" opacity="0.84"/>
<circle cx="292.6" cy="428.3" r="2.3" fill="url(#gr)" opacity="0.90"/>
<circle cx="273.6" cy="449.3" r="2.2" fill="url(#gr)" opacity="0.69"/>
<circle cx="299.7" cy="438.8" r="3.1" fill="url(#gr)" opacity="0.93"/>
<circle cx="272.9" cy="421.7" r="1.4" fill="url(#gr)" opacity="0.92"/>
<circle cx="282.9" cy="425.7" r="1.5" fill="url(#gr)" opacity="0.90"/>
<circle cx="264.1" cy="485.1" r="2.0" fill="url(#gr)" opacity="0.83"/>
<circle cx="276.3" cy="465.4" r="1.7" fill="url(#gr)" opacity="0.67"/>
<circle cx="256.8" cy="421.5" r="2.4" fill="url(#gr)" opacity="1.00"/>
<circle cx="246.8" cy="482.0" r="1.9" fill="url(#gr)" opacity="0.62"/>
<circle cx="248.9" cy="442.8" r="1.6" fill="url(#gr)" opacity="0.77"/>
<circle cx="286.0" cy="429.2" r="3.0" fill="url(#gr)" opacity="0.81"/>
<circle cx="312.1" cy="434.6" r="2.7" fill="url(#gr)" opacity="0.86"/>
<circle cx="313.4" cy="430.6" r="3.1" fill="url(#gr)" opacity="0.76"/>
<circle cx="253.2" cy="485.2" r="2.0" fill="url(#gr)" opacity="0.95"/>
<circle cx="264.2" cy="422.2" r="2.3" fill="url(#gr)" opacity="0.80"/>
<circle cx="304.7" cy="464.4" r="2.1" fill="url(#gr)" opacity="0.89"/>
<circle cx="290.9" cy="427.5" r="2.5" fill="url(#gr)" opacity="0.71"/>
<circle cx="293.5" cy="428.5" r="1.9" fill="url(#gr)" opacity="0.67"/>
<circle cx="303.8" cy="418.5" r="2.1" fill="url(#gr)" opacity="0.73"/>
<circle cx="322.0" cy="425.9" r="2.3" fill="url(#gr)" opacity="0.91"/>
<circle cx="281.6" cy="487.7" r="1.9" fill="url(#gr)" opacity="0.77"/>
<circle cx="272.7" cy="437.7" r="1.5" fill="url(#gr)" opacity="0.90"/>
<circle cx="303.0" cy="478.9" r="2.3" fill="url(#gr)" opacity="0.63"/>
<circle cx="303.5" cy="486.1" r="2.4" fill="url(#gr)" opacity="0.67"/>
<circle cx="291.6" cy="480.1" r="2.9" fill="url(#gr)" opacity="0.83"/>
<circle cx="310.6" cy="419.2" r="1.6" fill="url(#gr)" opacity="0.55"/>
<circle cx="285.3" cy="453.1" r="1.4" fill="url(#gr)" opacity="0.92"/>
<circle cx="293.7" cy="471.1" r="3.1" fill="url(#gr)" opacity="0.89"/>
<circle cx="311.0" cy="464.2" r="2.3" fill="url(#gr)" opacity="0.90"/>
<circle cx="314.1" cy="439.0" r="2.8" fill="url(#gr)" opacity="0.62"/>
<circle cx="292.4" cy="485.1" r="1.8" fill="url(#gr)" opacity="0.95"/>
<circle cx="288.2" cy="470.9" r="1.7" fill="url(#gr)" opacity="0.57"/>
<circle cx="268.0" cy="461.0" r="3.0" fill="url(#gr)" opacity="0.80"/>
<circle cx="291.5" cy="445.0" r="2.3" fill="url(#gr)" opacity="0.87"/>
<circle cx="321.5" cy="442.5" r="2.6" fill="url(#gr)" opacity="0.71"/>
<circle cx="268.2" cy="420.9" r="2.1" fill="url(#gr)" opacity="0.82"/>
<circle cx="290.4" cy="450.1" r="2.8" fill="url(#gr)" opacity="0.75"/>
<circle cx="306.2" cy="458.0" r="3.1" fill="url(#gr)" opacity="0.70"/>
<circle cx="284.6" cy="473.8" r="1.9" fill="url(#gr)" opacity="0.91"/>
<circle cx="274.4" cy="428.2" r="2.4" fill="url(#gr)" opacity="0.80"/>
<circle cx="272.7" cy="437.1" r="3.2" fill="url(#gr)" opacity="0.78"/>
<circle cx="307.8" cy="448.0" r="2.4" fill="url(#gr)" opacity="0.68"/>
<circle cx="260.9" cy="478.6" r="2.6" fill="url(#gr)" opacity="0.69"/>
<circle cx="281.5" cy="458.3" r="1.5" fill="url(#gr)" opacity="0.83"/>
<circle cx="332.6" cy="467.6" r="2.2" fill="url(#gr)" opacity="0.60"/>
<circle cx="293.0" cy="460.0" r="2.7" fill="url(#gr)" opacity="0.95"/>
<circle cx="269.6" cy="424.6" r="3.1" fill="url(#gr)" opacity="0.79"/>
<circle cx="323.2" cy="461.6" r="3.0" fill="url(#gr)" opacity="0.82"/>
<circle cx="309.2" cy="463.9" r="3.1" fill="url(#gr)" opacity="0.89"/>
<circle cx="330.7" cy="447.7" r="1.8" fill="url(#gr)" opacity="0.64"/>
<circle cx="285.8" cy="458.1" r="2.6" fill="url(#gr)" opacity="0.76"/>
<circle cx="329.9" cy="446.9" r="1.4" fill="url(#gr)" opacity="0.79"/>
<circle cx="303.3" cy="434.8" r="2.7" fill="url(#gr)" opacity="0.64"/>
<circle cx="324.7" cy="449.9" r="3.1" fill="url(#gr)" opacity="0.83"/>
<circle cx="309.0" cy="432.1" r="3.0" fill="url(#gr)" opacity="1.00"/>
<circle cx="259.2" cy="459.8" r="1.7" fill="url(#gr)" opacity="0.95"/>
<circle cx="321.3" cy="484.4" r="2.8" fill="url(#gr)" opacity="0.72"/>
<circle cx="301.0" cy="421.2" r="1.6" fill="url(#gr)" opacity="0.80"/>
<circle cx="310.5" cy="438.6" r="1.4" fill="url(#gr)" opacity="0.57"/>
<circle cx="274.8" cy="444.4" r="3.0" fill="url(#gr)" opacity="0.86"/>
<circle cx="322.8" cy="472.9" r="2.7" fill="url(#gr)" opacity="0.89"/>
<circle cx="265.4" cy="473.1" r="2.4" fill="url(#gr)" opacity="0.84"/>
<circle cx="289.2" cy="450.0" r="2.9" fill="url(#gr)" opacity="0.91"/>
<circle cx="262.9" cy="480.6" r="2.4" fill="url(#gr)" opacity="0.58"/>
<circle cx="314.8" cy="482.1" r="2.2" fill="url(#gr)" opacity="0.74"/>
<circle cx="269.7" cy="431.2" r="2.4" fill="url(#gr)" opacity="0.75"/>
<circle cx="302.9" cy="465.6" r="1.7" fill="url(#gr)" opacity="0.90"/>
<circle cx="285.3" cy="447.0" r="1.7" fill="url(#gr)" opacity="0.82"/>
<circle cx="305.2" cy="474.8" r="2.9" fill="url(#gr)" opacity="0.71"/>
<circle cx="293.6" cy="462.4" r="2.1" fill="url(#gr)" opacity="0.55"/>
<circle cx="309.5" cy="483.5" r="2.3" fill="url(#gr)" opacity="0.96"/>
<circle cx="250.7" cy="460.1" r="2.1" fill="url(#gr)" opacity="0.84"/>
<circle cx="277.5" cy="470.1" r="1.8" fill="url(#gr)" opacity="0.68"/>
<circle cx="282.0" cy="447.8" r="2.1" fill="url(#gr)" opacity="0.97"/>
<circle cx="290.8" cy="458.4" r="1.6" fill="url(#gr)" opacity="0.79"/>
<circle cx="312.2" cy="469.0" r="3.1" fill="url(#gr)" opacity="0.82"/>
<circle cx="278.4" cy="481.4" r="3.2" fill="url(#gr)" opacity="0.99"/>
<circle cx="256.2" cy="467.0" r="1.7" fill="url(#gr)" opacity="0.67"/>
<circle cx="313.6" cy="481.6" r="2.5" fill="url(#gr)" opacity="0.69"/>
<circle cx="288.4" cy="439.7" r="1.9" fill="url(#gr)" opacity="0.64"/>
<circle cx="328.6" cy="486.0" r="1.7" fill="url(#gr)" opacity="0.93"/>
<circle cx="311.2" cy="470.6" r="1.9" fill="url(#gr)" opacity="0.79"/>
<circle cx="317.0" cy="468.8" r="3.1" fill="url(#gr)" opacity="0.57"/>
<circle cx="274.9" cy="444.3" r="2.1" fill="url(#gr)" opacity="0.99"/>
<circle cx="330.2" cy="478.5" r="2.6" fill="url(#gr)" opacity="0.90"/>
<circle cx="319.9" cy="432.7" r="2.5" fill="url(#gr)" opacity="0.99"/>
<circle cx="260.6" cy="449.8" r="2.1" fill="url(#gr)" opacity="0.93"/>
<circle cx="286.4" cy="427.0" r="2.1" fill="url(#gr)" opacity="0.84"/>
<circle cx="293.5" cy="418.8" r="2.9" fill="url(#gr)" opacity="0.68"/>
<circle cx="249.3" cy="463.2" r="2.6" fill="url(#gr)" opacity="0.82"/>
<circle cx="254.2" cy="418.3" r="2.7" fill="url(#gr)" opacity="0.78"/>
<circle cx="247.2" cy="458.3" r="1.6" fill="url(#gr)" opacity="0.76"/>
<circle cx="307.8" cy="433.5" r="2.1" fill="url(#gr)" opacity="0.87"/>
<circle cx="270.1" cy="462.9" r="1.5" fill="url(#gr)" opacity="0.87"/>
<circle cx="266.7" cy="448.9" r="3.2" fill="url(#gr)" opacity="0.90"/>
<circle cx="262.2" cy="476.0" r="2.1" fill="url(#gr)" opacity="0.77"/>
<circle cx="270.5" cy="429.7" r="3.2" fill="url(#gr)" opacity="0.73"/>
<circle cx="264.1" cy="476.3" r="1.6" fill="url(#gr)" opacity="0.74"/>
<circle cx="256.2" cy="419.4" r="3.2" fill="url(#gr)" opacity="0.77"/>
<circle cx="302.9" cy="427.7" r="2.1" fill="url(#gr)" opacity="0.58"/>
<circle cx="319.4" cy="417.4" r="3.1" fill="url(#gr)" opacity="0.98"/>
<circle cx="263.4" cy="438.1" r="1.7" fill="url(#gr)" opacity="0.56"/>
<circle cx="287.5" cy="455.8" r="3.0" fill="url(#gr)" opacity="0.77"/>
<circle cx="261.3" cy="448.6" r="1.7" fill="url(#gr)" opacity="0.57"/>
<circle cx="279.8" cy="478.6" r="1.5" fill="url(#gr)" opacity="0.99"/>
<circle cx="319.2" cy="490.6" r="2.5" fill="url(#gr)" opacity="0.69"/>
<circle cx="313.1" cy="427.8" r="2.3" fill="url(#gr)" opacity="0.92"/>
<circle cx="292.8" cy="473.6" r="1.7" fill="url(#gr)" opacity="0.94"/>
<circle cx="259.3" cy="441.5" r="2.5" fill="url(#gr)" opacity="0.96"/>
<circle cx="256.6" cy="437.5" r="2.8" fill="url(#gr)" opacity="0.66"/>
<circle cx="280.4" cy="430.2" r="3.2" fill="url(#gr)" opacity="0.90"/>
<circle cx="279.1" cy="490.6" r="3.0" fill="url(#gr)" opacity="0.69"/>
<circle cx="252.7" cy="470.0" r="2.5" fill="url(#gr)" opacity="0.67"/>
<circle cx="247.0" cy="438.0" r="3.1" fill="url(#gr)" opacity="0.86"/>
<circle cx="304.3" cy="468.5" r="1.9" fill="url(#gr)" opacity="0.95"/>
<circle cx="287.2" cy="485.6" r="2.5" fill="url(#gr)" opacity="0.86"/>
<circle cx="321.9" cy="489.6" r="2.7" fill="url(#gr)" opacity="0.97"/>
<circle cx="282.0" cy="440.2" r="1.9" fill="url(#gr)" opacity="0.72"/>
<circle cx="323.9" cy="441.1" r="1.8" fill="url(#gr)" opacity="0.59"/>
<circle cx="308.7" cy="486.0" r="2.2" fill="url(#gr)" opacity="0.62"/>
<circle cx="312.4" cy="479.8" r="2.1" fill="url(#gr)" opacity="0.76"/>
<circle cx="278.7" cy="456.5" r="2.6" fill="url(#gr)" opacity="0.97"/>
<circle cx="275.2" cy="488.3" r="2.5" fill="url(#gr)" opacity="0.76"/>
<circle cx="319.4" cy="434.5" r="2.4" fill="url(#gr)" opacity="0.96"/>
<circle cx="318.6" cy="480.7" r="2.4" fill="url(#gr)" opacity="0.84"/>
<circle cx="314.0" cy="435.0" r="3.1" fill="url(#gr)" opacity="0.91"/>
<circle cx="288.6" cy="461.2" r="3.1" fill="url(#gr)" opacity="0.56"/>
<circle cx="270.0" cy="481.9" r="1.5" fill="url(#gr)" opacity="0.86"/>
<circle cx="272.1" cy="434.9" r="1.5" fill="url(#gr)" opacity="0.68"/>
<circle cx="278.0" cy="465.3" r="2.9" fill="url(#gr)" opacity="0.82"/>
<circle cx="259.5" cy="455.7" r="3.1" fill="url(#gr)" opacity="0.66"/>
<circle cx="306.8" cy="433.2" r="1.9" fill="url(#gr)" opacity="0.79"/>
<circle cx="318.5" cy="456.7" r="1.7" fill="url(#gr)" opacity="0.81"/>
<circle cx="250.8" cy="471.1" r="2.4" fill="url(#gr)" opacity="0.70"/>
<circle cx="300.6" cy="443.3" r="2.3" fill="url(#gr)" opacity="0.81"/>
<circle cx="315.6" cy="431.0" r="3.1" fill="url(#gr)" opacity="0.93"/>
<circle cx="262.6" cy="484.4" r="1.9" fill="url(#gr)" opacity="0.93"/>
<circle cx="264.7" cy="480.7" r="3.0" fill="url(#gr)" opacity="0.80"/>
<circle cx="305.2" cy="472.8" r="2.5" fill="url(#gr)" opacity="0.70"/>
<circle cx="313.0" cy="483.8" r="2.4" fill="url(#gr)" opacity="0.94"/>
<circle cx="277.6" cy="450.0" r="2.6" fill="url(#gr)" opacity="0.69"/>
<circle cx="314.7" cy="475.9" r="1.8" fill="url(#gr)" opacity="0.73"/>
<circle cx="322.7" cy="455.1" r="1.5" fill="url(#gr)" opacity="0.91"/>
<circle cx="262.1" cy="451.5" r="3.0" fill="url(#gr)" opacity="0.89"/>
<circle cx="310.8" cy="418.1" r="1.8" fill="url(#gr)" opacity="0.60"/>
<circle cx="331.3" cy="432.7" r="1.7" fill="url(#gr)" opacity="0.87"/>
<circle cx="314.0" cy="470.0" r="2.4" fill="url(#gr)" opacity="0.95"/>
<circle cx="298.3" cy="419.6" r="2.9" fill="url(#gr)" opacity="0.55"/>
<circle cx="332.5" cy="459.9" r="2.5" fill="url(#gr)" opacity="0.66"/>
<circle cx="321.0" cy="443.6" r="2.4" fill="url(#gr)" opacity="0.58"/>
<circle cx="304.7" cy="479.3" r="2.5" fill="url(#gr)" opacity="0.91"/>
<circle cx="295.6" cy="458.0" r="2.9" fill="url(#gr)" opacity="0.63"/>
<circle cx="280.3" cy="476.4" r="2.7" fill="url(#gr)" opacity="0.96"/>
<circle cx="309.5" cy="466.6" r="2.5" fill="url(#gr)" opacity="0.65"/>
<circle cx="313.4" cy="477.5" r="1.8" fill="url(#gr)" opacity="0.72"/>
<circle cx="283.7" cy="471.3" r="1.5" fill="url(#gr)" opacity="0.61"/>
<circle cx="326.4" cy="473.8" r="2.1" fill="url(#gr)" opacity="0.63"/>
<circle cx="246.5" cy="428.1" r="3.0" fill="url(#gr)" opacity="0.59"/>
<circle cx="320.0" cy="430.1" r="2.8" fill="url(#gr)" opacity="0.65"/>
<circle cx="307.4" cy="474.0" r="2.3" fill="url(#gr)" opacity="0.66"/>
<circle cx="289.2" cy="435.0" r="3.1" fill="url(#gr)" opacity="0.76"/>
<circle cx="295.9" cy="440.6" r="2.2" fill="url(#gr)" opacity="0.95"/>
<circle cx="323.3" cy="478.3" r="3.1" fill="url(#gr)" opacity="1.00"/>
<circle cx="247.5" cy="438.3" r="1.6" fill="url(#gr)" opacity="0.93"/>
<circle cx="258.8" cy="475.6" r="1.7" fill="url(#gr)" opacity="0.64"/>
<circle cx="274.4" cy="483.1" r="1.8" fill="url(#gr)" opacity="0.64"/>
<circle cx="314.1" cy="436.0" r="2.4" fill="url(#gr)" opacity="0.76"/>
<circle cx="307.6" cy="453.5" r="1.8" fill="url(#gr)" opacity="0.61"/>
<circle cx="319.2" cy="433.6" r="1.9" fill="url(#gr)" opacity="0.81"/>
<circle cx="328.5" cy="443.7" r="2.0" fill="url(#gr)" opacity="0.70"/>
<circle cx="285.8" cy="484.7" r="2.4" fill="url(#gr)" opacity="0.80"/>
<circle cx="273.5" cy="442.0" r="2.2" fill="url(#gr)" opacity="0.91"/>
<circle cx="324.5" cy="477.3" r="1.8" fill="url(#gr)" opacity="0.97"/>
<circle cx="272.5" cy="441.0" r="2.3" fill="url(#gr)" opacity="0.60"/>
<circle cx="291.0" cy="487.1" r="1.6" fill="url(#gr)" opacity="0.99"/>
<circle cx="281.7" cy="435.4" r="2.4" fill="url(#gr)" opacity="0.59"/>
<circle cx="275.2" cy="473.4" r="1.9" fill="url(#gr)" opacity="0.88"/>
<circle cx="270.7" cy="472.6" r="2.7" fill="url(#gr)" opacity="0.81"/>
<circle cx="286.2" cy="433.5" r="1.6" fill="url(#gr)" opacity="0.78"/>
<circle cx="276.1" cy="479.4" r="1.6" fill="url(#gr)" opacity="0.59"/>
<circle cx="275.2" cy="457.5" r="2.7" fill="url(#gr)" opacity="0.83"/>
<circle cx="268.4" cy="422.6" r="2.6" fill="url(#gr)" opacity="0.60"/>
<circle cx="314.4" cy="463.1" r="3.0" fill="url(#gr)" opacity="0.75"/>
<circle cx="286.1" cy="464.3" r="1.6" fill="url(#gr)" opacity="0.93"/>
<circle cx="297.8" cy="468.0" r="1.5" fill="url(#gr)" opacity="0.68"/>
<circle cx="259.2" cy="441.0" r="2.1" fill="url(#gr)" opacity="0.97"/>
<circle cx="286.9" cy="458.6" r="2.2" fill="url(#gr)" opacity="0.74"/>
<circle cx="252.2" cy="467.1" r="2.3" fill="url(#gr)" opacity="0.64"/>
<circle cx="311.6" cy="418.3" r="3.0" fill="url(#gr)" opacity="0.79"/>
<circle cx="318.8" cy="453.9" r="1.6" fill="url(#gr)" opacity="0.77"/>
</g>
<rect x="246.20" y="416.80" width="14.50" height="28.60" fill="#4a8b89" stroke="#e8eef0" stroke-width="0.6"/>
<rect x="250.00" y="487.40" width="16" height="1.3" fill="#f4f4f4"/>
<clipPath id="clip3"><rect x="349.90" y="422.30" width="86.40" height="73.50"/></clipPath>
<g clip-path="url(#clip3)"><rect x="349.90" y="422.30" width="86.40" height="73.50" fill="#454545"/>
<circle cx="370.5" cy="462.3" r="2.1" fill="url(#gr)" opacity="0.82"/>
<circle cx="404.0" cy="427.1" r="1.4" fill="url(#gr)" opacity="0.93"/>
<circle cx="372.3" cy="439.5" r="3.2" fill="url(#gr)" opacity="0.76"/>
<circle cx="422.2" cy="457.3" r="2.6" fill="url(#gr)" opacity="0.62"/>
<circle cx="404.8" cy="486.1" r="2.3" fill="url(#gr)" opacity="0.88"/>
<circle cx="407.9" cy="427.0" r="2.8" fill="url(#gr)" opacity="0.82"/>
<circle cx="375.9" cy="424.6" r="3.0" fill="url(#gr)" opacity="0.76"/>
<circle cx="412.0" cy="486.9" r="2.7" fill="url(#gr)" opacity="0.96"/>
<circle cx="384.0" cy="481.2" r="2.2" fill="url(#gr)" opacity="0.97"/>
<circle cx="425.8" cy="429.5" r="1.6" fill="url(#gr)" opacity="0.65"/>
<circle cx="433.3" cy="454.4" r="2.5" fill="url(#gr)" opacity="0.69"/>
<circle cx="393.7" cy="450.7" r="2.0" fill="url(#gr)" opacity="0.81"/>
<circle cx="400.4" cy="488.8" r="2.6" fill="url(#gr)" opacity="0.97"/>
<circle cx="423.9" cy="495.1" r="2.6" fill="url(#gr)" opacity="0.62"/>
<circle cx="424.3" cy="493.2" r="3.0" fill="url(#gr)" opacity="0.81"/>
<circle cx="411.6" cy="437.8" r="2.9" fill="url(#gr)" opacity="0.81"/>
<circle cx="374.5" cy="427.0" r="2.9" fill="url(#gr)" opacity="1.00"/>
<circle cx="357.5" cy="481.1" r="2.1" fill="url(#gr)" opacity="0.62"/>
<circle cx="375.3" cy="478.8" r="3.0" fill="url(#gr)" opacity="0.57"/>
<circle cx="403.0" cy="425.6" r="2.7" fill="url(#gr)" opacity="0.70"/>
<circle cx="426.0" cy="494.4" r="2.3" fill="url(#gr)" opacity="1.00"/>
<circle cx="376.7" cy="428.0" r="2.5" fill="url(#gr)" opacity="0.56"/>
<circle cx="367.0" cy="452.3" r="2.5" fill="url(#gr)" opacity="0.62"/>
<circle cx="353.6" cy="486.1" r="2.0" fill="url(#gr)" opacity="0.98"/>
<circle cx="427.4" cy="450.1" r="2.2" fill="url(#gr)" opacity="0.78"/>
<circle cx="405.5" cy="466.1" r="2.4" fill="url(#gr)" opacity="0.83"/>
<circle cx="431.2" cy="459.6" r="2.2" fill="url(#gr)" opacity="0.87"/>
<circle cx="370.4" cy="444.4" r="3.2" fill="url(#gr)" opacity="0.78"/>
<circle cx="397.3" cy="423.1" r="2.1" fill="url(#gr)" opacity="0.81"/>
<circle cx="351.6" cy="467.6" r="2.5" fill="url(#gr)" opacity="0.58"/>
<circle cx="404.1" cy="456.6" r="2.6" fill="url(#gr)" opacity="0.71"/>
<circle cx="411.0" cy="476.5" r="1.4" fill="url(#gr)" opacity="0.58"/>
<circle cx="408.3" cy="493.1" r="1.9" fill="url(#gr)" opacity="0.76"/>
<circle cx="401.1" cy="445.8" r="2.1" fill="url(#gr)" opacity="0.69"/>
<circle cx="381.8" cy="466.1" r="1.9" fill="url(#gr)" opacity="0.72"/>
<circle cx="416.6" cy="424.3" r="2.4" fill="url(#gr)" opacity="0.88"/>
<circle cx="376.7" cy="438.7" r="2.8" fill="url(#gr)" opacity="0.66"/>
<circle cx="366.1" cy="454.3" r="2.7" fill="url(#gr)" opacity="0.60"/>
<circle cx="377.7" cy="446.8" r="2.9" fill="url(#gr)" opacity="0.75"/>
<circle cx="423.8" cy="434.7" r="2.0" fill="url(#gr)" opacity="0.84"/>
<circle cx="426.4" cy="455.5" r="1.8" fill="url(#gr)" opacity="0.60"/>
<circle cx="395.7" cy="436.3" r="2.9" fill="url(#gr)" opacity="0.93"/>
<circle cx="365.8" cy="442.8" r="2.9" fill="url(#gr)" opacity="0.84"/>
<circle cx="419.6" cy="447.7" r="1.6" fill="url(#gr)" opacity="0.68"/>
<circle cx="418.5" cy="442.2" r="2.0" fill="url(#gr)" opacity="0.74"/>
<circle cx="386.2" cy="452.4" r="3.1" fill="url(#gr)" opacity="0.62"/>
<circle cx="350.3" cy="491.6" r="3.0" fill="url(#gr)" opacity="0.99"/>
<circle cx="387.4" cy="492.1" r="3.1" fill="url(#gr)" opacity="0.65"/>
<circle cx="414.3" cy="483.8" r="2.6" fill="url(#gr)" opacity="0.78"/>
<circle cx="374.9" cy="447.4" r="1.8" fill="url(#gr)" opacity="0.58"/>
<circle cx="400.8" cy="443.4" r="2.9" fill="url(#gr)" opacity="0.57"/>
<circle cx="428.0" cy="473.3" r="3.1" fill="url(#gr)" opacity="0.95"/>
<circle cx="427.6" cy="464.7" r="1.4" fill="url(#gr)" opacity="0.89"/>
<circle cx="364.7" cy="444.3" r="2.6" fill="url(#gr)" opacity="0.79"/>
<circle cx="385.6" cy="491.3" r="2.5" fill="url(#gr)" opacity="0.70"/>
<circle cx="371.7" cy="485.6" r="2.3" fill="url(#gr)" opacity="0.90"/>
<circle cx="380.3" cy="436.8" r="2.4" fill="url(#gr)" opacity="0.92"/>
<circle cx="364.7" cy="480.5" r="3.1" fill="url(#gr)" opacity="0.91"/>
<circle cx="421.1" cy="422.9" r="2.5" fill="url(#gr)" opacity="0.94"/>
<circle cx="354.2" cy="442.2" r="1.9" fill="url(#gr)" opacity="0.79"/>
<circle cx="386.4" cy="457.1" r="2.8" fill="url(#gr)" opacity="0.55"/>
<circle cx="354.6" cy="431.6" r="1.6" fill="url(#gr)" opacity="0.58"/>
<circle cx="434.1" cy="485.1" r="1.6" fill="url(#gr)" opacity="0.78"/>
<circle cx="377.2" cy="445.4" r="2.0" fill="url(#gr)" opacity="0.84"/>
<circle cx="400.6" cy="448.8" r="1.7" fill="url(#gr)" opacity="0.70"/>
<circle cx="360.6" cy="463.1" r="2.7" fill="url(#gr)" opacity="0.72"/>
<circle cx="356.8" cy="435.4" r="2.1" fill="url(#gr)" opacity="0.82"/>
<circle cx="417.5" cy="450.2" r="2.8" fill="url(#gr)" opacity="0.83"/>
<circle cx="387.2" cy="449.7" r="2.3" fill="url(#gr)" opacity="0.87"/>
<circle cx="386.2" cy="473.3" r="2.2" fill="url(#gr)" opacity="0.66"/>
<circle cx="396.2" cy="473.4" r="1.5" fill="url(#gr)" opacity="0.74"/>
<circle cx="386.7" cy="487.0" r="3.1" fill="url(#gr)" opacity="0.72"/>
<circle cx="427.5" cy="480.4" r="1.9" fill="url(#gr)" opacity="0.76"/>
<circle cx="360.5" cy="482.1" r="2.6" fill="url(#gr)" opacity="0.95"/>
<circle cx="418.4" cy="471.4" r="2.7" fill="url(#gr)" opacity="0.80"/>
<circle cx="358.8" cy="465.5" r="1.4" fill="url(#gr)" opacity="0.61"/>
<circle cx="416.8" cy="425.6" r="1.6" fill="url(#gr)" opacity="0.59"/>
<circle cx="426.0" cy="435.5" r="1.4" fill="url(#gr)" opacity="0.93"/>
<circle cx="360.4" cy="484.3" r="2.6" fill="url(#gr)" opacity="0.93"/>
<circle cx="432.2" cy="464.9" r="2.8" fill="url(#gr)" opacity="0.57"/>
<circle cx="416.2" cy="459.9" r="2.7" fill="url(#gr)" opacity="0.60"/>
<circle cx="414.6" cy="491.0" r="1.5" fill="url(#gr)" opacity="0.70"/>
<circle cx="398.6" cy="483.2" r="1.8" fill="url(#gr)" opacity="0.63"/>
<circle cx="371.5" cy="467.6" r="2.8" fill="url(#gr)" opacity="0.73"/>
<circle cx="381.6" cy="451.5" r="2.0" fill="url(#gr)" opacity="0.74"/>
<circle cx="357.1" cy="459.1" r="3.2" fill="url(#gr)" opacity="0.74"/>
<circle cx="414.5" cy="434.1" r="2.6" fill="url(#gr)" opacity="0.89"/>
<circle cx="408.1" cy="460.3" r="2.3" fill="url(#gr)" opacity="0.84"/>
<circle cx="427.4" cy="433.3" r="1.6" fill="url(#gr)" opacity="0.89"/>
<circle cx="429.1" cy="460.3" r="2.2" fill="url(#gr)" opacity="0.87"/>
<circle cx="366.0" cy="442.0" r="1.8" fill="url(#gr)" opacity="0.81"/>
<circle cx="377.1" cy="439.4" r="2.6" fill="url(#gr)" opacity="0.98"/>
<circle cx="375.5" cy="474.1" r="2.1" fill="url(#gr)" opacity="0.93"/>
<circle cx="400.4" cy="441.9" r="1.8" fill="url(#gr)" opacity="0.56"/>
<circle cx="391.3" cy="450.4" r="1.7" fill="url(#gr)" opacity="0.71"/>
<circle cx="377.7" cy="479.2" r="1.7" fill="url(#gr)" opacity="1.00"/>
<circle cx="391.3" cy="466.3" r="2.2" fill="url(#gr)" opacity="0.93"/>
<circle cx="420.9" cy="463.2" r="2.3" fill="url(#gr)" opacity="0.87"/>
<circle cx="423.9" cy="451.7" r="2.7" fill="url(#gr)" opacity="0.98"/>
<circle cx="390.3" cy="439.2" r="1.8" fill="url(#gr)" opacity="0.87"/>
<circle cx="408.3" cy="492.8" r="2.9" fill="url(#gr)" opacity="0.66"/>
<circle cx="366.3" cy="441.3" r="1.7" fill="url(#gr)" opacity="0.87"/>
<circle cx="424.1" cy="488.4" r="1.9" fill="url(#gr)" opacity="0.94"/>
<circle cx="377.0" cy="453.4" r="2.7" fill="url(#gr)" opacity="0.59"/>
<circle cx="357.9" cy="483.6" r="1.9" fill="url(#gr)" opacity="0.71"/>
<circle cx="400.0" cy="471.9" r="1.4" fill="url(#gr)" opacity="0.70"/>
<circle cx="387.6" cy="458.0" r="1.8" fill="url(#gr)" opacity="0.81"/>
<circle cx="432.4" cy="451.0" r="2.4" fill="url(#gr)" opacity="0.60"/>
<circle cx="373.6" cy="471.2" r="1.6" fill="url(#gr)" opacity="0.95"/>
<circle cx="428.4" cy="429.4" r="3.1" fill="url(#gr)" opacity="0.72"/>
<circle cx="416.6" cy="478.0" r="1.9" fill="url(#gr)" opacity="0.85"/>
<circle cx="406.4" cy="481.5" r="1.9" fill="url(#gr)" opacity="0.89"/>
<circle cx="433.0" cy="471.8" r="2.4" fill="url(#gr)" opacity="0.60"/>
<circle cx="392.6" cy="448.2" r="2.7" fill="url(#gr)" opacity="0.86"/>
<circle cx="398.8" cy="435.7" r="2.6" fill="url(#gr)" opacity="0.83"/>
<circle cx="365.4" cy="487.7" r="2.6" fill="url(#gr)" opacity="0.61"/>
<circle cx="430.4" cy="432.7" r="2.0" fill="url(#gr)" opacity="0.87"/>
<circle cx="401.5" cy="463.1" r="2.6" fill="url(#gr)" opacity="0.76"/>
<circle cx="376.9" cy="435.3" r="1.5" fill="url(#gr)" opacity="0.87"/>
<circle cx="415.1" cy="462.2" r="2.7" fill="url(#gr)" opacity="0.71"/>
<circle cx="372.9" cy="450.5" r="3.0" fill="url(#gr)" opacity="0.57"/>
<circle cx="393.5" cy="440.5" r="2.8" fill="url(#gr)" opacity="0.71"/>
<circle cx="378.7" cy="451.9" r="2.4" fill="url(#gr)" opacity="0.90"/>
<circle cx="380.4" cy="484.5" r="1.6" fill="url(#gr)" opacity="0.67"/>
<circle cx="358.5" cy="430.6" r="2.8" fill="url(#gr)" opacity="0.88"/>
<circle cx="365.9" cy="436.2" r="2.1" fill="url(#gr)" opacity="0.88"/>
<circle cx="420.4" cy="477.3" r="2.5" fill="url(#gr)" opacity="0.62"/>
<circle cx="384.3" cy="436.5" r="2.3" fill="url(#gr)" opacity="0.81"/>
<circle cx="367.4" cy="440.7" r="2.8" fill="url(#gr)" opacity="0.56"/>
<circle cx="419.3" cy="487.8" r="3.1" fill="url(#gr)" opacity="0.72"/>
<circle cx="397.6" cy="465.2" r="2.5" fill="url(#gr)" opacity="0.99"/>
<circle cx="409.2" cy="444.3" r="2.9" fill="url(#gr)" opacity="0.77"/>
<circle cx="401.9" cy="475.7" r="1.4" fill="url(#gr)" opacity="0.90"/>
<circle cx="407.1" cy="458.5" r="2.3" fill="url(#gr)" opacity="0.76"/>
<circle cx="366.6" cy="461.2" r="1.5" fill="url(#gr)" opacity="0.78"/>
<circle cx="405.7" cy="455.0" r="2.4" fill="url(#gr)" opacity="0.98"/>
<circle cx="427.0" cy="432.3" r="2.8" fill="url(#gr)" opacity="0.83"/>
<circle cx="354.3" cy="448.8" r="1.8" fill="url(#gr)" opacity="0.59"/>
<circle cx="396.5" cy="490.6" r="2.0" fill="url(#gr)" opacity="0.94"/>
<circle cx="409.9" cy="432.2" r="2.9" fill="url(#gr)" opacity="0.82"/>
<circle cx="430.0" cy="474.9" r="2.7" fill="url(#gr)" opacity="0.70"/>
<circle cx="419.6" cy="490.8" r="3.0" fill="url(#gr)" opacity="0.75"/>
<circle cx="415.3" cy="457.9" r="1.6" fill="url(#gr)" opacity="0.57"/>
<circle cx="356.6" cy="437.0" r="1.7" fill="url(#gr)" opacity="0.77"/>
<circle cx="410.3" cy="461.8" r="2.2" fill="url(#gr)" opacity="0.84"/>
<circle cx="376.2" cy="456.4" r="2.8" fill="url(#gr)" opacity="0.73"/>
<circle cx="365.5" cy="488.4" r="2.7" fill="url(#gr)" opacity="0.72"/>
<circle cx="382.0" cy="461.2" r="2.5" fill="url(#gr)" opacity="0.65"/>
<circle cx="350.1" cy="437.7" r="2.8" fill="url(#gr)" opacity="0.61"/>
<circle cx="389.6" cy="436.7" r="1.8" fill="url(#gr)" opacity="0.63"/>
<circle cx="384.8" cy="434.7" r="1.4" fill="url(#gr)" opacity="0.60"/>
<circle cx="364.4" cy="458.3" r="1.5" fill="url(#gr)" opacity="0.56"/>
<circle cx="388.6" cy="452.3" r="2.7" fill="url(#gr)" opacity="0.57"/>
<circle cx="384.7" cy="451.5" r="1.4" fill="url(#gr)" opacity="0.98"/>
<circle cx="368.8" cy="429.2" r="2.3" fill="url(#gr)" opacity="0.62"/>
<circle cx="403.7" cy="447.8" r="1.6" fill="url(#gr)" opacity="0.57"/>
<circle cx="412.8" cy="442.5" r="2.8" fill="url(#gr)" opacity="0.76"/>
<circle cx="430.5" cy="444.4" r="1.8" fill="url(#gr)" opacity="0.67"/>
<circle cx="420.3" cy="468.5" r="2.0" fill="url(#gr)" opacity="0.59"/>
<circle cx="408.9" cy="493.5" r="2.5" fill="url(#gr)" opacity="0.55"/>
<circle cx="352.5" cy="429.0" r="1.7" fill="url(#gr)" opacity="0.57"/>
<circle cx="354.6" cy="470.4" r="3.0" fill="url(#gr)" opacity="0.64"/>
<circle cx="434.0" cy="457.4" r="2.8" fill="url(#gr)" opacity="0.96"/>
<circle cx="431.1" cy="424.8" r="1.9" fill="url(#gr)" opacity="0.82"/>
<circle cx="431.7" cy="428.8" r="1.9" fill="url(#gr)" opacity="0.93"/>
<circle cx="359.8" cy="451.0" r="2.0" fill="url(#gr)" opacity="0.86"/>
<circle cx="430.1" cy="435.1" r="2.7" fill="url(#gr)" opacity="0.88"/>
<circle cx="422.1" cy="463.0" r="3.1" fill="url(#gr)" opacity="0.71"/>
<circle cx="385.7" cy="439.2" r="2.8" fill="url(#gr)" opacity="0.77"/>
<circle cx="373.2" cy="434.8" r="2.7" fill="url(#gr)" opacity="0.82"/>
<circle cx="411.3" cy="450.7" r="2.3" fill="url(#gr)" opacity="0.62"/>
<circle cx="411.3" cy="424.0" r="2.2" fill="url(#gr)" opacity="0.89"/>
<circle cx="408.4" cy="429.4" r="1.8" fill="url(#gr)" opacity="0.93"/>
<circle cx="405.4" cy="486.9" r="3.0" fill="url(#gr)" opacity="0.75"/>
<circle cx="427.4" cy="476.2" r="2.0" fill="url(#gr)" opacity="0.72"/>
<circle cx="356.1" cy="451.7" r="3.1" fill="url(#gr)" opacity="0.60"/>
<circle cx="399.1" cy="430.4" r="1.5" fill="url(#gr)" opacity="0.84"/>
<circle cx="370.7" cy="425.9" r="1.7" fill="url(#gr)" opacity="0.84"/>
<circle cx="400.5" cy="423.2" r="1.8" fill="url(#gr)" opacity="0.99"/>
<circle cx="368.9" cy="463.6" r="2.2" fill="url(#gr)" opacity="0.90"/>
<circle cx="402.1" cy="480.3" r="2.4" fill="url(#gr)" opacity="0.63"/>
<circle cx="365.2" cy="428.1" r="2.9" fill="url(#gr)" opacity="0.60"/>
<circle cx="352.0" cy="493.3" r="1.8" fill="url(#gr)" opacity="0.95"/>
<circle cx="357.3" cy="456.5" r="1.8" fill="url(#gr)" opacity="0.92"/>
<circle cx="403.1" cy="469.5" r="2.8" fill="url(#gr)" opacity="0.94"/>
<circle cx="379.8" cy="466.6" r="2.2" fill="url(#gr)" opacity="0.60"/>
<circle cx="422.1" cy="466.0" r="2.9" fill="url(#gr)" opacity="0.64"/>
<circle cx="396.5" cy="456.4" r="2.7" fill="url(#gr)" opacity="0.58"/>
<circle cx="379.8" cy="457.9" r="1.5" fill="url(#gr)" opacity="0.80"/>
<circle cx="413.4" cy="453.4" r="2.6" fill="url(#gr)" opacity="0.82"/>
<circle cx="368.4" cy="448.1" r="3.2" fill="url(#gr)" opacity="0.70"/>
<circle cx="387.1" cy="428.5" r="1.8" fill="url(#gr)" opacity="0.62"/>
<circle cx="430.3" cy="475.7" r="3.0" fill="url(#gr)" opacity="0.99"/>
<circle cx="402.8" cy="490.8" r="2.4" fill="url(#gr)" opacity="0.74"/>
<circle cx="431.8" cy="488.7" r="3.1" fill="url(#gr)" opacity="0.77"/>
<circle cx="416.7" cy="452.2" r="3.2" fill="url(#gr)" opacity="0.96"/>
<circle cx="375.1" cy="491.0" r="1.7" fill="url(#gr)" opacity="0.59"/>
<circle cx="412.3" cy="443.9" r="2.3" fill="url(#gr)" opacity="0.84"/>
<circle cx="353.4" cy="477.1" r="1.9" fill="url(#gr)" opacity="0.74"/>
<circle cx="379.7" cy="476.8" r="2.7" fill="url(#gr)" opacity="0.68"/>
<circle cx="358.8" cy="444.3" r="2.1" fill="url(#gr)" opacity="0.58"/>
<circle cx="363.1" cy="478.4" r="2.7" fill="url(#gr)" opacity="0.99"/>
<circle cx="434.5" cy="486.7" r="2.1" fill="url(#gr)" opacity="0.62"/>
<circle cx="376.9" cy="456.3" r="2.3" fill="url(#gr)" opacity="0.79"/>
<circle cx="381.0" cy="485.0" r="1.9" fill="url(#gr)" opacity="0.76"/>
<circle cx="426.5" cy="481.6" r="1.9" fill="url(#gr)" opacity="0.66"/>
<circle cx="419.6" cy="423.0" r="1.6" fill="url(#gr)" opacity="0.79"/>
<circle cx="396.2" cy="434.5" r="1.5" fill="url(#gr)" opacity="0.64"/>
<circle cx="416.4" cy="456.5" r="3.2" fill="url(#gr)" opacity="0.90"/>
<circle cx="434.5" cy="424.9" r="1.7" fill="url(#gr)" opacity="0.56"/>
<circle cx="387.3" cy="447.2" r="1.5" fill="url(#gr)" opacity="0.80"/>
<circle cx="358.0" cy="445.2" r="1.8" fill="url(#gr)" opacity="0.91"/>
<circle cx="386.0" cy="441.4" r="1.5" fill="url(#gr)" opacity="0.74"/>
<circle cx="404.1" cy="471.9" r="3.0" fill="url(#gr)" opacity="0.91"/>
<circle cx="371.3" cy="432.3" r="2.8" fill="url(#gr)" opacity="0.91"/>
<circle cx="393.9" cy="483.4" r="2.4" fill="url(#gr)" opacity="0.68"/>
<circle cx="364.5" cy="423.6" r="2.6" fill="url(#gr)" opacity="0.95"/>
<circle cx="428.2" cy="456.7" r="2.6" fill="url(#gr)" opacity="0.97"/>
<circle cx="420.2" cy="466.6" r="2.1" fill="url(#gr)" opacity="0.78"/>
<circle cx="364.7" cy="435.7" r="2.6" fill="url(#gr)" opacity="1.00"/>
<circle cx="397.2" cy="452.3" r="2.0" fill="url(#gr)" opacity="0.75"/>
<circle cx="419.3" cy="455.6" r="3.1" fill="url(#gr)" opacity="0.62"/>
<circle cx="377.1" cy="460.7" r="2.1" fill="url(#gr)" opacity="0.93"/>
<circle cx="421.4" cy="490.8" r="2.5" fill="url(#gr)" opacity="0.56"/>
<circle cx="399.5" cy="462.7" r="2.3" fill="url(#gr)" opacity="0.68"/>
<circle cx="411.2" cy="489.3" r="1.6" fill="url(#gr)" opacity="0.85"/>
<circle cx="382.0" cy="460.1" r="3.0" fill="url(#gr)" opacity="0.98"/>
<circle cx="405.5" cy="436.6" r="3.1" fill="url(#gr)" opacity="0.63"/>
<circle cx="383.0" cy="483.2" r="2.0" fill="url(#gr)" opacity="0.67"/>
<circle cx="432.0" cy="491.7" r="2.0" fill="url(#gr)" opacity="0.73"/>
<circle cx="374.3" cy="432.0" r="1.9" fill="url(#gr)" opacity="0.99"/>
<circle cx="356.7" cy="439.2" r="1.8" fill="url(#gr)" opacity="0.59"/>
<circle cx="395.4" cy="476.9" r="2.9" fill="url(#gr)" opacity="0.83"/>
<circle cx="420.6" cy="422.7" r="1.9" fill="url(#gr)" opacity="0.98"/>
<circle cx="355.9" cy="442.0" r="2.3" fill="url(#gr)" opacity="0.67"/>
<circle cx="397.1" cy="425.8" r="1.8" fill="url(#gr)" opacity="0.98"/>
<circle cx="362.4" cy="488.9" r="1.7" fill="url(#gr)" opacity="1.00"/>
<circle cx="408.2" cy="469.8" r="1.7" fill="url(#gr)" opacity="0.57"/>
<circle cx="415.5" cy="435.2" r="1.7" fill="url(#gr)" opacity="0.92"/>
<circle cx="425.5" cy="425.9" r="3.1" fill="url(#gr)" opacity="0.79"/>
<circle cx="382.9" cy="430.2" r="2.1" fill="url(#gr)" opacity="0.99"/>
<circle cx="374.2" cy="432.0" r="1.7" fill="url(#gr)" opacity="0.61"/>
<circle cx="380.3" cy="489.5" r="1.5" fill="url(#gr)" opacity="0.64"/>
<circle cx="431.1" cy="495.6" r="3.2" fill="url(#gr)" opacity="0.66"/>
<circle cx="380.5" cy="492.2" r="2.3" fill="url(#gr)" opacity="0.87"/>
<circle cx="377.0" cy="423.9" r="2.0" fill="url(#gr)" opacity="0.89"/>
<circle cx="417.5" cy="464.1" r="2.2" fill="url(#gr)" opacity="0.79"/>
<circle cx="388.1" cy="461.6" r="2.9" fill="url(#gr)" opacity="0.64"/>
<circle cx="401.2" cy="490.9" r="2.9" fill="url(#gr)" opacity="0.63"/>
<circle cx="433.1" cy="484.0" r="1.7" fill="url(#gr)" opacity="0.67"/>
<circle cx="367.4" cy="426.2" r="3.2" fill="url(#gr)" opacity="0.73"/>
<circle cx="425.3" cy="430.7" r="1.4" fill="url(#gr)" opacity="0.94"/>
<circle cx="418.5" cy="495.2" r="2.6" fill="url(#gr)" opacity="0.79"/>
<circle cx="416.1" cy="429.1" r="2.4" fill="url(#gr)" opacity="0.75"/>
<circle cx="362.5" cy="466.4" r="2.0" fill="url(#gr)" opacity="0.78"/>
<circle cx="382.2" cy="445.7" r="2.0" fill="url(#gr)" opacity="0.82"/>
<circle cx="434.6" cy="491.1" r="3.0" fill="url(#gr)" opacity="0.93"/>
<circle cx="374.7" cy="494.1" r="1.9" fill="url(#gr)" opacity="0.61"/>
<circle cx="393.2" cy="476.1" r="2.0" fill="url(#gr)" opacity="0.84"/>
<circle cx="374.3" cy="493.4" r="2.2" fill="url(#gr)" opacity="0.77"/>
<circle cx="395.8" cy="486.6" r="3.2" fill="url(#gr)" opacity="0.79"/>
<circle cx="388.1" cy="467.7" r="1.5" fill="url(#gr)" opacity="0.74"/>
<circle cx="423.1" cy="479.4" r="1.5" fill="url(#gr)" opacity="0.93"/>
<circle cx="383.1" cy="494.4" r="2.1" fill="url(#gr)" opacity="0.65"/>
<circle cx="397.3" cy="487.3" r="2.2" fill="url(#gr)" opacity="0.94"/>
<circle cx="411.4" cy="448.9" r="1.9" fill="url(#gr)" opacity="0.78"/>
<circle cx="384.4" cy="449.7" r="2.6" fill="url(#gr)" opacity="0.94"/>
<circle cx="400.4" cy="433.0" r="1.8" fill="url(#gr)" opacity="0.72"/>
<circle cx="403.0" cy="432.6" r="1.5" fill="url(#gr)" opacity="0.69"/>
<circle cx="374.3" cy="424.5" r="2.4" fill="url(#gr)" opacity="0.96"/>
<circle cx="396.1" cy="476.5" r="2.9" fill="url(#gr)" opacity="0.93"/>
<circle cx="428.8" cy="454.7" r="2.6" fill="url(#gr)" opacity="0.60"/>
<circle cx="425.9" cy="450.1" r="2.3" fill="url(#gr)" opacity="0.95"/>
<circle cx="374.7" cy="436.3" r="2.9" fill="url(#gr)" opacity="0.82"/>
<circle cx="357.2" cy="424.4" r="2.0" fill="url(#gr)" opacity="0.55"/>
<circle cx="421.8" cy="435.8" r="1.9" fill="url(#gr)" opacity="0.72"/>
<circle cx="394.1" cy="454.1" r="2.5" fill="url(#gr)" opacity="0.85"/>
<circle cx="387.6" cy="429.4" r="3.2" fill="url(#gr)" opacity="0.86"/>
<circle cx="357.1" cy="454.8" r="2.8" fill="url(#gr)" opacity="1.00"/>
<circle cx="355.6" cy="423.0" r="2.3" fill="url(#gr)" opacity="0.74"/>
<circle cx="427.2" cy="483.0" r="2.0" fill="url(#gr)" opacity="0.74"/>
<circle cx="400.3" cy="487.3" r="1.8" fill="url(#gr)" opacity="0.73"/>
<circle cx="357.5" cy="469.4" r="1.4" fill="url(#gr)" opacity="0.97"/>
<circle cx="395.1" cy="464.5" r="1.6" fill="url(#gr)" opacity="0.65"/>
<circle cx="390.4" cy="485.3" r="2.4" fill="url(#gr)" opacity="0.68"/>
<circle cx="434.8" cy="470.9" r="2.4" fill="url(#gr)" opacity="0.64"/>
<circle cx="375.7" cy="488.4" r="1.6" fill="url(#gr)" opacity="0.79"/>
<circle cx="403.5" cy="448.4" r="2.8" fill="url(#gr)" opacity="0.96"/>
<circle cx="424.0" cy="476.5" r="1.8" fill="url(#gr)" opacity="0.58"/>
<circle cx="387.3" cy="445.2" r="1.7" fill="url(#gr)" opacity="0.94"/>
<circle cx="368.6" cy="482.8" r="3.1" fill="url(#gr)" opacity="0.60"/>
<circle cx="428.8" cy="451.5" r="1.8" fill="url(#gr)" opacity="0.63"/>
<circle cx="353.2" cy="459.0" r="2.1" fill="url(#gr)" opacity="0.93"/>
<circle cx="421.9" cy="426.5" r="2.1" fill="url(#gr)" opacity="0.73"/>
<circle cx="365.2" cy="440.7" r="1.9" fill="url(#gr)" opacity="0.86"/>
<circle cx="379.3" cy="430.5" r="1.8" fill="url(#gr)" opacity="0.75"/>
<circle cx="398.7" cy="440.3" r="2.7" fill="url(#gr)" opacity="0.65"/>
<circle cx="407.9" cy="467.1" r="1.7" fill="url(#gr)" opacity="0.89"/>
<circle cx="384.0" cy="462.0" r="2.5" fill="url(#gr)" opacity="0.83"/>
<circle cx="388.1" cy="426.4" r="2.8" fill="url(#gr)" opacity="0.94"/>
<circle cx="392.3" cy="464.9" r="1.9" fill="url(#gr)" opacity="0.95"/>
<circle cx="409.1" cy="438.6" r="2.9" fill="url(#gr)" opacity="0.99"/>
<circle cx="379.8" cy="495.5" r="2.3" fill="url(#gr)" opacity="0.63"/>
<circle cx="411.8" cy="447.2" r="2.7" fill="url(#gr)" opacity="0.81"/>
<circle cx="359.2" cy="461.1" r="2.9" fill="url(#gr)" opacity="0.77"/>
<circle cx="396.5" cy="485.7" r="2.2" fill="url(#gr)" opacity="0.77"/>
<circle cx="400.3" cy="482.9" r="1.8" fill="url(#gr)" opacity="0.59"/>
<circle cx="415.7" cy="462.9" r="1.9" fill="url(#gr)" opacity="0.95"/>
<circle cx="426.3" cy="462.1" r="3.2" fill="url(#gr)" opacity="0.93"/>
<circle cx="414.5" cy="443.7" r="1.4" fill="url(#gr)" opacity="0.86"/>
<circle cx="413.4" cy="448.1" r="2.3" fill="url(#gr)" opacity="0.81"/>
<circle cx="371.5" cy="473.6" r="2.4" fill="url(#gr)" opacity="0.72"/>
<circle cx="359.4" cy="463.0" r="2.0" fill="url(#gr)" opacity="0.88"/>
<circle cx="364.8" cy="451.3" r="1.8" fill="url(#gr)" opacity="0.73"/>
<circle cx="399.7" cy="430.2" r="1.5" fill="url(#gr)" opacity="0.77"/>
<circle cx="367.3" cy="459.4" r="1.7" fill="url(#gr)" opacity="0.60"/>
<circle cx="396.3" cy="490.2" r="3.0" fill="url(#gr)" opacity="0.78"/>
<circle cx="384.2" cy="427.2" r="1.9" fill="url(#gr)" opacity="0.69"/>
<circle cx="431.2" cy="430.9" r="3.1" fill="url(#gr)" opacity="0.76"/>
<circle cx="387.4" cy="441.6" r="3.1" fill="url(#gr)" opacity="0.63"/>
<circle cx="399.3" cy="459.8" r="1.8" fill="url(#gr)" opacity="0.65"/>
<circle cx="435.0" cy="480.4" r="2.7" fill="url(#gr)" opacity="0.96"/>
<circle cx="358.4" cy="474.0" r="2.8" fill="url(#gr)" opacity="0.65"/>
<circle cx="389.4" cy="493.9" r="2.0" fill="url(#gr)" opacity="0.89"/>
<circle cx="364.2" cy="471.3" r="1.9" fill="url(#gr)" opacity="0.78"/>
<circle cx="382.1" cy="486.3" r="2.7" fill="url(#gr)" opacity="0.78"/>
<circle cx="409.3" cy="453.7" r="2.8" fill="url(#gr)" opacity="0.67"/>
<circle cx="396.9" cy="465.3" r="2.1" fill="url(#gr)" opacity="0.57"/>
<circle cx="364.6" cy="469.4" r="1.8" fill="url(#gr)" opacity="0.89"/>
<circle cx="393.5" cy="492.4" r="2.9" fill="url(#gr)" opacity="0.88"/>
<circle cx="382.1" cy="425.5" r="2.4" fill="url(#gr)" opacity="0.89"/>
<circle cx="429.5" cy="437.2" r="1.7" fill="url(#gr)" opacity="0.99"/>
<circle cx="413.8" cy="457.9" r="2.7" fill="url(#gr)" opacity="0.62"/>
<circle cx="396.9" cy="471.4" r="2.5" fill="url(#gr)" opacity="0.62"/>
<circle cx="361.7" cy="468.2" r="3.0" fill="url(#gr)" opacity="0.61"/>
<circle cx="350.5" cy="428.4" r="2.8" fill="url(#gr)" opacity="0.73"/>
<circle cx="389.3" cy="495.4" r="2.5" fill="url(#gr)" opacity="0.67"/>
<circle cx="410.5" cy="422.4" r="1.9" fill="url(#gr)" opacity="0.86"/>
<circle cx="364.7" cy="424.7" r="2.3" fill="url(#gr)" opacity="0.70"/>
<circle cx="433.8" cy="429.8" r="2.8" fill="url(#gr)" opacity="0.72"/>
<circle cx="419.5" cy="455.0" r="2.6" fill="url(#gr)" opacity="0.70"/>
<circle cx="369.3" cy="455.6" r="2.8" fill="url(#gr)" opacity="0.71"/>
<circle cx="369.8" cy="452.9" r="1.6" fill="url(#gr)" opacity="0.69"/>
<circle cx="399.4" cy="462.4" r="2.5" fill="url(#gr)" opacity="0.68"/>
<circle cx="352.0" cy="424.2" r="2.0" fill="url(#gr)" opacity="0.64"/>
<circle cx="399.1" cy="441.8" r="2.8" fill="url(#gr)" opacity="0.82"/>
<circle cx="407.1" cy="476.4" r="2.3" fill="url(#gr)" opacity="0.74"/>
<circle cx="376.5" cy="426.9" r="2.8" fill="url(#gr)" opacity="0.78"/>
<circle cx="358.5" cy="490.4" r="2.4" fill="url(#gr)" opacity="0.83"/>
<circle cx="387.8" cy="431.6" r="3.2" fill="url(#gr)" opacity="0.63"/>
<circle cx="381.5" cy="495.8" r="1.6" fill="url(#gr)" opacity="0.77"/>
<circle cx="391.3" cy="440.5" r="3.1" fill="url(#gr)" opacity="0.74"/>
<circle cx="350.9" cy="457.1" r="1.4" fill="url(#gr)" opacity="0.87"/>
<circle cx="425.0" cy="488.9" r="1.5" fill="url(#gr)" opacity="0.85"/>
<circle cx="376.2" cy="457.0" r="1.9" fill="url(#gr)" opacity="0.69"/>
<circle cx="361.4" cy="468.3" r="1.6" fill="url(#gr)" opacity="0.98"/>
<circle cx="353.7" cy="493.2" r="1.7" fill="url(#gr)" opacity="0.59"/>
<circle cx="414.3" cy="461.3" r="2.8" fill="url(#gr)" opacity="0.78"/>
<circle cx="404.4" cy="428.4" r="2.6" fill="url(#gr)" opacity="0.78"/>
<circle cx="433.0" cy="422.8" r="1.5" fill="url(#gr)" opacity="0.85"/>
<circle cx="429.9" cy="453.3" r="2.7" fill="url(#gr)" opacity="0.80"/>
<circle cx="383.7" cy="456.5" r="2.5" fill="url(#gr)" opacity="0.56"/>
<circle cx="376.3" cy="476.5" r="1.9" fill="url(#gr)" opacity="0.76"/>
<circle cx="372.1" cy="448.6" r="2.6" fill="url(#gr)" opacity="0.88"/>
<circle cx="432.6" cy="457.3" r="1.8" fill="url(#gr)" opacity="0.70"/>
<circle cx="355.0" cy="439.9" r="2.5" fill="url(#gr)" opacity="0.82"/>
<circle cx="370.8" cy="435.6" r="1.6" fill="url(#gr)" opacity="0.63"/>
<circle cx="393.2" cy="441.1" r="3.0" fill="url(#gr)" opacity="0.80"/>
<circle cx="379.3" cy="454.0" r="1.5" fill="url(#gr)" opacity="0.88"/>
<circle cx="414.8" cy="449.0" r="2.7" fill="url(#gr)" opacity="0.67"/>
<circle cx="368.9" cy="439.1" r="1.8" fill="url(#gr)" opacity="0.82"/>
<circle cx="405.4" cy="475.8" r="1.6" fill="url(#gr)" opacity="0.89"/>
<circle cx="391.2" cy="450.1" r="2.3" fill="url(#gr)" opacity="0.74"/>
<circle cx="367.2" cy="451.3" r="2.6" fill="url(#gr)" opacity="0.87"/>
<circle cx="429.0" cy="436.6" r="3.0" fill="url(#gr)" opacity="0.91"/>
<circle cx="411.5" cy="494.3" r="1.6" fill="url(#gr)" opacity="0.90"/>
<circle cx="427.6" cy="431.3" r="2.5" fill="url(#gr)" opacity="0.98"/>
<circle cx="375.2" cy="485.2" r="3.0" fill="url(#gr)" opacity="0.75"/>
<circle cx="362.4" cy="438.1" r="2.9" fill="url(#gr)" opacity="0.74"/>
<circle cx="377.2" cy="454.9" r="3.1" fill="url(#gr)" opacity="0.66"/>
<circle cx="351.5" cy="492.1" r="2.0" fill="url(#gr)" opacity="0.72"/>
<circle cx="434.2" cy="443.0" r="1.6" fill="url(#gr)" opacity="0.95"/>
<circle cx="371.0" cy="438.6" r="3.1" fill="url(#gr)" opacity="0.65"/>
<circle cx="427.8" cy="446.8" r="1.9" fill="url(#gr)" opacity="0.65"/>
<circle cx="396.8" cy="463.5" r="2.1" fill="url(#gr)" opacity="0.78"/>
<circle cx="375.7" cy="483.9" r="3.1" fill="url(#gr)" opacity="0.89"/>
<circle cx="420.7" cy="427.5" r="1.9" fill="url(#gr)" opacity="0.64"/>
<circle cx="363.3" cy="493.5" r="3.0" fill="url(#gr)" opacity="0.96"/>
<circle cx="398.1" cy="430.9" r="2.2" fill="url(#gr)" opacity="0.58"/>
<circle cx="428.1" cy="441.8" r="1.9" fill="url(#gr)" opacity="0.98"/>
<circle cx="367.2" cy="490.1" r="2.0" fill="url(#gr)" opacity="0.85"/>
<circle cx="359.1" cy="488.3" r="2.1" fill="url(#gr)" opacity="0.71"/>
<circle cx="406.4" cy="465.9" r="1.9" fill="url(#gr)" opacity="0.61"/>
<circle cx="399.6" cy="424.1" r="3.0" fill="url(#gr)" opacity="0.70"/>
<circle cx="364.6" cy="446.4" r="1.6" fill="url(#gr)" opacity="0.69"/>
<circle cx="396.8" cy="452.2" r="2.0" fill="url(#gr)" opacity="0.68"/>
<circle cx="391.9" cy="479.5" r="2.2" fill="url(#gr)" opacity="0.90"/>
<circle cx="391.6" cy="431.1" r="1.7" fill="url(#gr)" opacity="0.93"/>
<circle cx="391.3" cy="450.4" r="2.3" fill="url(#gr)" opacity="0.93"/>
<circle cx="382.3" cy="448.9" r="2.1" fill="url(#gr)" opacity="0.55"/>
<circle cx="397.0" cy="457.5" r="2.3" fill="url(#gr)" opacity="0.75"/>
<circle cx="390.7" cy="474.9" r="1.7" fill="url(#gr)" opacity="0.99"/>
<circle cx="359.8" cy="486.0" r="1.7" fill="url(#gr)" opacity="0.91"/>
<circle cx="372.4" cy="428.1" r="2.4" fill="url(#gr)" opacity="0.93"/>
<circle cx="423.0" cy="486.8" r="3.2" fill="url(#gr)" opacity="0.57"/>
<circle cx="382.6" cy="430.2" r="2.8" fill="url(#gr)" opacity="0.75"/>
<circle cx="414.2" cy="480.8" r="3.2" fill="url(#gr)" opacity="0.85"/>
<circle cx="425.5" cy="462.6" r="1.5" fill="url(#gr)" opacity="0.95"/>
<circle cx="357.8" cy="428.6" r="2.9" fill="url(#gr)" opacity="0.68"/>
<circle cx="407.1" cy="424.4" r="1.8" fill="url(#gr)" opacity="0.87"/>
<circle cx="353.2" cy="459.8" r="3.1" fill="url(#gr)" opacity="0.65"/>
<circle cx="410.8" cy="477.0" r="2.5" fill="url(#gr)" opacity="0.89"/>
<circle cx="410.2" cy="423.3" r="1.7" fill="url(#gr)" opacity="0.79"/>
<circle cx="433.7" cy="438.2" r="2.5" fill="url(#gr)" opacity="0.61"/>
<circle cx="423.1" cy="455.0" r="2.3" fill="url(#gr)" opacity="0.85"/>
<circle cx="361.7" cy="475.9" r="2.8" fill="url(#gr)" opacity="0.94"/>
<circle cx="374.2" cy="439.5" r="1.7" fill="url(#gr)" opacity="0.95"/>
<circle cx="387.7" cy="451.0" r="2.3" fill="url(#gr)" opacity="0.86"/>
<circle cx="377.4" cy="447.0" r="2.8" fill="url(#gr)" opacity="0.90"/>
<circle cx="375.5" cy="427.7" r="3.1" fill="url(#gr)" opacity="0.88"/>
<circle cx="401.2" cy="452.0" r="3.1" fill="url(#gr)" opacity="0.74"/>
<circle cx="368.6" cy="429.7" r="2.0" fill="url(#gr)" opacity="0.82"/>
<circle cx="381.4" cy="491.9" r="2.6" fill="url(#gr)" opacity="0.76"/>
<circle cx="406.9" cy="466.5" r="2.5" fill="url(#gr)" opacity="0.77"/>
<circle cx="395.1" cy="458.4" r="2.9" fill="url(#gr)" opacity="0.64"/>
<circle cx="417.8" cy="444.2" r="2.9" fill="url(#gr)" opacity="0.58"/>
<circle cx="391.8" cy="454.9" r="2.7" fill="url(#gr)" opacity="0.64"/>
<circle cx="372.6" cy="432.1" r="2.4" fill="url(#gr)" opacity="0.81"/>
<circle cx="349.9" cy="435.4" r="1.8" fill="url(#gr)" opacity="0.98"/>
<circle cx="389.2" cy="463.9" r="1.9" fill="url(#gr)" opacity="0.85"/>
<circle cx="420.1" cy="471.6" r="1.4" fill="url(#gr)" opacity="0.75"/>
<circle cx="392.1" cy="425.6" r="2.8" fill="url(#gr)" opacity="0.69"/>
<circle cx="375.2" cy="468.3" r="2.5" fill="url(#gr)" opacity="0.77"/>
<circle cx="424.1" cy="460.4" r="2.0" fill="url(#gr)" opacity="0.58"/>
<circle cx="397.7" cy="449.0" r="2.4" fill="url(#gr)" opacity="0.71"/>
<circle cx="350.5" cy="425.1" r="1.7" fill="url(#gr)" opacity="0.59"/>
<circle cx="423.5" cy="465.0" r="1.8" fill="url(#gr)" opacity="0.87"/>
<circle cx="404.7" cy="426.9" r="2.8" fill="url(#gr)" opacity="0.65"/>
<circle cx="436.1" cy="432.7" r="1.9" fill="url(#gr)" opacity="0.66"/>
<circle cx="424.4" cy="482.5" r="2.4" fill="url(#gr)" opacity="0.62"/>
<circle cx="386.9" cy="473.9" r="1.5" fill="url(#gr)" opacity="0.96"/>
<circle cx="422.6" cy="490.8" r="2.7" fill="url(#gr)" opacity="0.83"/>
<circle cx="434.1" cy="441.9" r="1.9" fill="url(#gr)" opacity="0.61"/>
<circle cx="365.5" cy="481.0" r="1.6" fill="url(#gr)" opacity="0.88"/>
<circle cx="384.1" cy="486.8" r="2.8" fill="url(#gr)" opacity="0.86"/>
<circle cx="422.9" cy="425.4" r="1.9" fill="url(#gr)" opacity="0.72"/>
<circle cx="387.0" cy="471.6" r="3.0" fill="url(#gr)" opacity="0.88"/>
<circle cx="430.1" cy="473.5" r="2.0" fill="url(#gr)" opacity="0.78"/>
<circle cx="414.6" cy="482.2" r="2.1" fill="url(#gr)" opacity="0.71"/>
<circle cx="403.0" cy="439.1" r="3.0" fill="url(#gr)" opacity="0.55"/>
<circle cx="405.9" cy="458.0" r="1.8" fill="url(#gr)" opacity="0.81"/>
<circle cx="390.9" cy="493.0" r="3.0" fill="url(#gr)" opacity="0.81"/>
<circle cx="425.2" cy="487.2" r="1.7" fill="url(#gr)" opacity="0.92"/>
<circle cx="421.9" cy="495.1" r="2.8" fill="url(#gr)" opacity="0.73"/>
<circle cx="367.7" cy="470.3" r="1.8" fill="url(#gr)" opacity="0.89"/>
<circle cx="399.5" cy="483.0" r="2.0" fill="url(#gr)" opacity="0.69"/>
<circle cx="428.0" cy="471.0" r="2.1" fill="url(#gr)" opacity="0.80"/>
<circle cx="387.5" cy="469.6" r="2.3" fill="url(#gr)" opacity="0.68"/>
<circle cx="434.5" cy="487.4" r="2.8" fill="url(#gr)" opacity="0.68"/>
<circle cx="366.7" cy="476.0" r="2.9" fill="url(#gr)" opacity="0.84"/>
<circle cx="368.3" cy="475.2" r="2.3" fill="url(#gr)" opacity="0.72"/>
<circle cx="400.8" cy="455.3" r="2.6" fill="url(#gr)" opacity="0.89"/>
<circle cx="434.8" cy="430.5" r="2.4" fill="url(#gr)" opacity="0.98"/>
<circle cx="406.7" cy="464.9" r="2.9" fill="url(#gr)" opacity="0.56"/>
<circle cx="418.4" cy="468.1" r="2.5" fill="url(#gr)" opacity="0.69"/>
<circle cx="403.4" cy="431.5" r="2.3" fill="url(#gr)" opacity="0.67"/>
<circle cx="430.4" cy="481.4" r="2.3" fill="url(#gr)" opacity="0.89"/>
<circle cx="383.1" cy="460.8" r="1.7" fill="url(#gr)" opacity="0.94"/>
<circle cx="415.9" cy="478.2" r="1.5" fill="url(#gr)" opacity="0.92"/>
<circle cx="350.9" cy="463.8" r="2.3" fill="url(#gr)" opacity="0.58"/>
<circle cx="386.3" cy="487.5" r="2.5" fill="url(#gr)" opacity="0.69"/>
<circle cx="420.3" cy="448.4" r="3.0" fill="url(#gr)" opacity="0.73"/>
<circle cx="356.6" cy="493.7" r="1.5" fill="url(#gr)" opacity="0.66"/>
<circle cx="416.5" cy="430.8" r="2.4" fill="url(#gr)" opacity="0.94"/>
<circle cx="400.9" cy="447.9" r="2.8" fill="url(#gr)" opacity="0.92"/>
<circle cx="400.0" cy="468.4" r="2.0" fill="url(#gr)" opacity="0.73"/>
<circle cx="435.6" cy="493.7" r="1.4" fill="url(#gr)" opacity="0.64"/>
<circle cx="369.4" cy="480.6" r="1.8" fill="url(#gr)" opacity="0.63"/>
<circle cx="416.1" cy="434.7" r="3.2" fill="url(#gr)" opacity="0.75"/>
<circle cx="427.5" cy="482.5" r="1.8" fill="url(#gr)" opacity="0.90"/>
<circle cx="385.7" cy="438.6" r="1.5" fill="url(#gr)" opacity="0.87"/>
<circle cx="398.4" cy="444.6" r="2.9" fill="url(#gr)" opacity="0.64"/>
<circle cx="388.3" cy="428.7" r="2.0" fill="url(#gr)" opacity="0.95"/>
<circle cx="393.1" cy="433.6" r="1.8" fill="url(#gr)" opacity="0.84"/>
<circle cx="373.9" cy="487.5" r="1.5" fill="url(#gr)" opacity="0.94"/>
<circle cx="403.6" cy="482.7" r="2.0" fill="url(#gr)" opacity="0.58"/>
<circle cx="364.8" cy="468.4" r="1.4" fill="url(#gr)" opacity="0.60"/>
<circle cx="417.5" cy="486.8" r="2.9" fill="url(#gr)" opacity="0.93"/>
<circle cx="397.9" cy="486.6" r="2.7" fill="url(#gr)" opacity="0.80"/>
<circle cx="386.7" cy="424.1" r="1.6" fill="url(#gr)" opacity="0.66"/>
<circle cx="389.7" cy="431.2" r="3.1" fill="url(#gr)" opacity="0.81"/>
<circle cx="413.9" cy="487.9" r="1.8" fill="url(#gr)" opacity="0.95"/>
<circle cx="432.7" cy="442.0" r="1.6" fill="url(#gr)" opacity="0.91"/>
<circle cx="426.8" cy="481.0" r="2.1" fill="url(#gr)" opacity="0.82"/>
<circle cx="359.7" cy="439.5" r="2.2" fill="url(#gr)" opacity="0.89"/>
<circle cx="357.6" cy="490.5" r="1.5" fill="url(#gr)" opacity="0.99"/>
<circle cx="370.4" cy="482.5" r="2.9" fill="url(#gr)" opacity="0.98"/>
<circle cx="390.5" cy="473.7" r="1.9" fill="url(#gr)" opacity="0.92"/>
<circle cx="359.3" cy="487.3" r="2.5" fill="url(#gr)" opacity="0.58"/>
<circle cx="431.2" cy="445.5" r="1.5" fill="url(#gr)" opacity="0.67"/>
<circle cx="352.3" cy="443.0" r="2.7" fill="url(#gr)" opacity="0.99"/>
<circle cx="404.4" cy="485.1" r="2.9" fill="url(#gr)" opacity="0.87"/>
<circle cx="383.1" cy="440.8" r="1.7" fill="url(#gr)" opacity="0.80"/>
<circle cx="367.5" cy="476.7" r="2.0" fill="url(#gr)" opacity="0.81"/>
<circle cx="397.1" cy="468.5" r="1.7" fill="url(#gr)" opacity="0.67"/>
<circle cx="409.4" cy="438.0" r="2.6" fill="url(#gr)" opacity="0.98"/>
<circle cx="383.5" cy="493.0" r="2.5" fill="url(#gr)" opacity="0.97"/>
<circle cx="395.4" cy="477.6" r="2.6" fill="url(#gr)" opacity="0.64"/>
<circle cx="394.6" cy="465.0" r="2.2" fill="url(#gr)" opacity="0.85"/>
<circle cx="428.4" cy="480.7" r="2.9" fill="url(#gr)" opacity="0.61"/>
<circle cx="410.7" cy="468.4" r="3.1" fill="url(#gr)" opacity="0.55"/>
<circle cx="364.8" cy="494.0" r="2.1" fill="url(#gr)" opacity="0.87"/>
<circle cx="401.0" cy="451.6" r="2.2" fill="url(#gr)" opacity="0.80"/>
<circle cx="435.0" cy="461.5" r="2.8" fill="url(#gr)" opacity="0.69"/>
<circle cx="411.4" cy="466.7" r="2.7" fill="url(#gr)" opacity="0.95"/>
<circle cx="356.8" cy="493.4" r="2.5" fill="url(#gr)" opacity="0.67"/>
<circle cx="390.0" cy="429.4" r="1.8" fill="url(#gr)" opacity="0.93"/>
<circle cx="411.3" cy="486.0" r="1.7" fill="url(#gr)" opacity="0.60"/>
<circle cx="382.7" cy="458.7" r="2.7" fill="url(#gr)" opacity="0.68"/>
<circle cx="413.6" cy="465.2" r="1.9" fill="url(#gr)" opacity="0.90"/>
<circle cx="356.3" cy="465.8" r="1.7" fill="url(#gr)" opacity="0.57"/>
<circle cx="391.2" cy="460.5" r="2.5" fill="url(#gr)" opacity="0.72"/>
<circle cx="430.2" cy="479.9" r="1.7" fill="url(#gr)" opacity="0.55"/>
<circle cx="432.9" cy="452.5" r="1.6" fill="url(#gr)" opacity="0.63"/>
<circle cx="410.4" cy="435.3" r="2.1" fill="url(#gr)" opacity="0.85"/>
<circle cx="380.3" cy="470.3" r="3.1" fill="url(#gr)" opacity="0.91"/>
<circle cx="404.2" cy="468.3" r="2.0" fill="url(#gr)" opacity="0.84"/>
<circle cx="406.0" cy="465.4" r="2.3" fill="url(#gr)" opacity="0.89"/>
<circle cx="367.6" cy="474.7" r="3.2" fill="url(#gr)" opacity="0.57"/>
<circle cx="371.7" cy="494.8" r="1.5" fill="url(#gr)" opacity="0.92"/>
<circle cx="400.1" cy="427.4" r="2.5" fill="url(#gr)" opacity="0.55"/>
<circle cx="423.3" cy="444.5" r="3.1" fill="url(#gr)" opacity="0.95"/>
<circle cx="361.7" cy="451.9" r="1.7" fill="url(#gr)" opacity="0.89"/>
<circle cx="358.1" cy="427.7" r="1.6" fill="url(#gr)" opacity="0.94"/>
<circle cx="371.2" cy="446.0" r="2.2" fill="url(#gr)" opacity="0.80"/>
<circle cx="385.6" cy="491.9" r="2.0" fill="url(#gr)" opacity="0.76"/>
<circle cx="424.4" cy="440.2" r="1.7" fill="url(#gr)" opacity="0.93"/>
<circle cx="377.2" cy="487.9" r="2.9" fill="url(#gr)" opacity="0.72"/>
<circle cx="378.7" cy="429.8" r="3.0" fill="url(#gr)" opacity="0.75"/>
<circle cx="379.5" cy="435.3" r="1.8" fill="url(#gr)" opacity="0.94"/>
<circle cx="361.2" cy="463.1" r="2.5" fill="url(#gr)" opacity="0.78"/>
<circle cx="393.3" cy="451.5" r="1.7" fill="url(#gr)" opacity="0.92"/>
<circle cx="427.4" cy="463.7" r="1.9" fill="url(#gr)" opacity="0.96"/>
<circle cx="367.3" cy="434.9" r="2.5" fill="url(#gr)" opacity="0.92"/>
<circle cx="399.3" cy="430.4" r="3.2" fill="url(#gr)" opacity="0.62"/>
<circle cx="379.6" cy="494.9" r="2.8" fill="url(#gr)" opacity="0.89"/>
<circle cx="356.4" cy="484.9" r="2.1" fill="url(#gr)" opacity="0.55"/>
<circle cx="418.1" cy="490.7" r="1.5" fill="url(#gr)" opacity="0.75"/>
<circle cx="427.8" cy="446.7" r="1.9" fill="url(#gr)" opacity="0.90"/>
<circle cx="388.0" cy="495.7" r="2.9" fill="url(#gr)" opacity="0.94"/>
<circle cx="411.0" cy="436.6" r="2.6" fill="url(#gr)" opacity="0.81"/>
<circle cx="391.6" cy="463.9" r="1.9" fill="url(#gr)" opacity="0.64"/>
<circle cx="428.7" cy="449.3" r="1.6" fill="url(#gr)" opacity="0.99"/>
<circle cx="394.0" cy="472.0" r="2.0" fill="url(#gr)" opacity="0.62"/>
<circle cx="378.6" cy="483.6" r="1.9" fill="url(#gr)" opacity="0.96"/>
<circle cx="376.2" cy="488.2" r="1.7" fill="url(#gr)" opacity="0.75"/>
<circle cx="361.0" cy="433.2" r="2.3" fill="url(#gr)" opacity="0.71"/>
<circle cx="396.3" cy="438.2" r="2.0" fill="url(#gr)" opacity="0.69"/>
<circle cx="427.5" cy="428.2" r="2.1" fill="url(#gr)" opacity="0.93"/>
<circle cx="399.3" cy="441.1" r="3.2" fill="url(#gr)" opacity="0.60"/>
<circle cx="361.7" cy="423.5" r="2.2" fill="url(#gr)" opacity="0.94"/>
<circle cx="374.3" cy="443.3" r="2.8" fill="url(#gr)" opacity="0.58"/>
<circle cx="351.4" cy="471.1" r="1.6" fill="url(#gr)" opacity="0.79"/>
<circle cx="362.4" cy="466.5" r="2.9" fill="url(#gr)" opacity="0.75"/>
<circle cx="373.5" cy="468.1" r="2.7" fill="url(#gr)" opacity="0.58"/>
<circle cx="370.6" cy="450.0" r="2.3" fill="url(#gr)" opacity="0.67"/>
<circle cx="406.8" cy="441.1" r="3.0" fill="url(#gr)" opacity="0.71"/>
<circle cx="369.0" cy="428.1" r="1.6" fill="url(#gr)" opacity="0.65"/>
<circle cx="426.2" cy="452.9" r="2.2" fill="url(#gr)" opacity="0.98"/>
<circle cx="433.4" cy="478.6" r="1.8" fill="url(#gr)" opacity="0.70"/>
<circle cx="393.5" cy="441.3" r="2.0" fill="url(#gr)" opacity="0.65"/>
<circle cx="370.7" cy="477.4" r="2.5" fill="url(#gr)" opacity="0.75"/>
<circle cx="390.7" cy="467.4" r="2.6" fill="url(#gr)" opacity="0.56"/>
<circle cx="422.8" cy="456.3" r="2.0" fill="url(#gr)" opacity="0.98"/>
<circle cx="415.3" cy="448.1" r="1.4" fill="url(#gr)" opacity="0.75"/>
<circle cx="387.9" cy="449.8" r="1.6" fill="url(#gr)" opacity="0.81"/>
<circle cx="371.9" cy="478.3" r="2.4" fill="url(#gr)" opacity="0.68"/>
<circle cx="421.3" cy="455.2" r="1.6" fill="url(#gr)" opacity="0.68"/>
<circle cx="354.5" cy="453.9" r="3.0" fill="url(#gr)" opacity="0.97"/>
<circle cx="406.2" cy="433.6" r="1.8" fill="url(#gr)" opacity="0.64"/>
<circle cx="382.1" cy="469.2" r="1.4" fill="url(#gr)" opacity="0.77"/>
<circle cx="386.7" cy="470.9" r="2.9" fill="url(#gr)" opacity="0.73"/>
<circle cx="402.0" cy="442.3" r="2.2" fill="url(#gr)" opacity="0.84"/>
<circle cx="354.4" cy="460.1" r="2.3" fill="url(#gr)" opacity="0.63"/>
<circle cx="371.4" cy="482.9" r="2.0" fill="url(#gr)" opacity="0.64"/>
<circle cx="374.5" cy="460.6" r="2.1" fill="url(#gr)" opacity="0.71"/>
<circle cx="377.8" cy="438.2" r="2.3" fill="url(#gr)" opacity="0.82"/>
<circle cx="357.6" cy="465.7" r="2.0" fill="url(#gr)" opacity="0.99"/>
<circle cx="430.9" cy="431.9" r="2.7" fill="url(#gr)" opacity="0.71"/>
<circle cx="359.5" cy="486.7" r="3.0" fill="url(#gr)" opacity="0.90"/>
<circle cx="404.9" cy="494.2" r="2.4" fill="url(#gr)" opacity="0.85"/>
<circle cx="406.3" cy="485.5" r="2.9" fill="url(#gr)" opacity="0.69"/>
<circle cx="367.9" cy="462.4" r="2.5" fill="url(#gr)" opacity="0.71"/>
<circle cx="424.3" cy="484.7" r="2.6" fill="url(#gr)" opacity="0.79"/>
<circle cx="410.0" cy="436.6" r="2.9" fill="url(#gr)" opacity="0.61"/>
<circle cx="428.0" cy="468.3" r="1.9" fill="url(#gr)" opacity="0.64"/>
<circle cx="401.7" cy="456.4" r="2.7" fill="url(#gr)" opacity="0.59"/>
<circle cx="425.5" cy="453.8" r="2.2" fill="url(#gr)" opacity="0.88"/>
<circle cx="402.3" cy="455.0" r="1.9" fill="url(#gr)" opacity="0.76"/>
<circle cx="352.6" cy="441.1" r="2.9" fill="url(#gr)" opacity="0.60"/>
<circle cx="357.3" cy="484.6" r="2.1" fill="url(#gr)" opacity="0.79"/>
<circle cx="400.7" cy="475.1" r="2.0" fill="url(#gr)" opacity="0.90"/>
<circle cx="350.0" cy="484.6" r="2.0" fill="url(#gr)" opacity="0.83"/>
<circle cx="376.1" cy="477.4" r="2.1" fill="url(#gr)" opacity="0.82"/>
<circle cx="377.6" cy="483.5" r="2.8" fill="url(#gr)" opacity="0.64"/>
<circle cx="415.2" cy="491.6" r="1.8" fill="url(#gr)" opacity="0.64"/>
<circle cx="430.3" cy="493.1" r="1.6" fill="url(#gr)" opacity="0.90"/>
<circle cx="430.3" cy="441.7" r="2.8" fill="url(#gr)" opacity="0.68"/>
<circle cx="417.9" cy="459.7" r="2.3" fill="url(#gr)" opacity="0.61"/>
<circle cx="406.3" cy="473.8" r="1.9" fill="url(#gr)" opacity="0.57"/>
<circle cx="357.7" cy="441.4" r="3.2" fill="url(#gr)" opacity="0.88"/>
<circle cx="427.3" cy="477.4" r="1.6" fill="url(#gr)" opacity="0.72"/>
<circle cx="432.0" cy="484.9" r="3.2" fill="url(#gr)" opacity="0.92"/>
<circle cx="411.3" cy="478.4" r="3.0" fill="url(#gr)" opacity="0.74"/>
<circle cx="352.8" cy="445.3" r="1.4" fill="url(#gr)" opacity="0.67"/>
<circle cx="400.9" cy="442.5" r="1.8" fill="url(#gr)" opacity="0.59"/>
<circle cx="380.8" cy="460.2" r="2.5" fill="url(#gr)" opacity="0.97"/>
<circle cx="356.0" cy="441.1" r="1.5" fill="url(#gr)" opacity="0.97"/>
<circle cx="404.5" cy="470.6" r="2.9" fill="url(#gr)" opacity="0.55"/>
<circle cx="428.0" cy="446.7" r="2.5" fill="url(#gr)" opacity="0.73"/>
<circle cx="414.3" cy="444.5" r="1.9" fill="url(#gr)" opacity="0.66"/>
<circle cx="412.5" cy="455.8" r="1.7" fill="url(#gr)" opacity="0.71"/>
<circle cx="399.0" cy="449.7" r="2.5" fill="url(#gr)" opacity="0.93"/>
<circle cx="405.2" cy="481.2" r="1.9" fill="url(#gr)" opacity="0.94"/>
<circle cx="431.2" cy="461.2" r="1.4" fill="url(#gr)" opacity="0.59"/>
<circle cx="415.3" cy="486.1" r="2.7" fill="url(#gr)" opacity="0.78"/>
<circle cx="396.6" cy="430.8" r="2.5" fill="url(#gr)" opacity="1.00"/>
<circle cx="367.7" cy="467.2" r="2.9" fill="url(#gr)" opacity="0.84"/>
<circle cx="380.2" cy="439.8" r="2.7" fill="url(#gr)" opacity="0.97"/>
<circle cx="425.7" cy="451.8" r="2.7" fill="url(#gr)" opacity="0.92"/>
<circle cx="382.3" cy="477.8" r="2.1" fill="url(#gr)" opacity="0.64"/>
<circle cx="349.9" cy="475.6" r="2.8" fill="url(#gr)" opacity="0.57"/>
<circle cx="355.3" cy="445.7" r="1.8" fill="url(#gr)" opacity="0.88"/>
<circle cx="366.3" cy="465.3" r="2.4" fill="url(#gr)" opacity="0.71"/>
<circle cx="423.7" cy="454.4" r="2.3" fill="url(#gr)" opacity="0.85"/>
</g>
<rect x="349.90" y="422.30" width="14.60" height="28.50" fill="#345a62" stroke="#e8eef0" stroke-width="0.6"/>
<rect x="353.70" y="492.20" width="16" height="1.3" fill="#f4f4f4"/>
<clipPath id="clip4"><rect x="453.10" y="425.70" width="87.00" height="73.50"/></clipPath>
<g clip-path="url(#clip4)"><rect x="453.10" y="425.70" width="87.00" height="73.50" fill="#454545"/>
<circle cx="473.6" cy="433.3" r="2.0" fill="url(#gr)" opacity="0.62"/>
<circle cx="458.9" cy="455.2" r="2.9" fill="url(#gr)" opacity="0.91"/>
<circle cx="519.7" cy="442.0" r="2.2" fill="url(#gr)" opacity="0.67"/>
<circle cx="468.1" cy="433.5" r="1.7" fill="url(#gr)" opacity="0.97"/>
<circle cx="525.2" cy="485.0" r="2.7" fill="url(#gr)" opacity="0.64"/>
<circle cx="480.1" cy="471.8" r="2.5" fill="url(#gr)" opacity="0.93"/>
<circle cx="529.7" cy="432.1" r="2.3" fill="url(#gr)" opacity="0.85"/>
<circle cx="497.1" cy="438.8" r="2.1" fill="url(#gr)" opacity="0.59"/>
<circle cx="534.4" cy="489.3" r="2.2" fill="url(#gr)" opacity="0.69"/>
<circle cx="532.2" cy="467.8" r="2.8" fill="url(#gr)" opacity="0.93"/>
<circle cx="497.3" cy="456.1" r="2.3" fill="url(#gr)" opacity="0.74"/>
<circle cx="467.1" cy="448.1" r="2.7" fill="url(#gr)" opacity="0.57"/>
<circle cx="457.1" cy="471.7" r="1.8" fill="url(#gr)" opacity="0.79"/>
<circle cx="494.1" cy="450.9" r="3.0" fill="url(#gr)" opacity="0.64"/>
<circle cx="489.0" cy="440.6" r="2.4" fill="url(#gr)" opacity="0.67"/>
<circle cx="484.1" cy="480.6" r="1.8" fill="url(#gr)" opacity="0.80"/>
<circle cx="531.8" cy="433.1" r="1.4" fill="url(#gr)" opacity="0.65"/>
<circle cx="519.7" cy="470.9" r="1.7" fill="url(#gr)" opacity="0.70"/>
<circle cx="468.5" cy="459.4" r="1.4" fill="url(#gr)" opacity="0.86"/>
<circle cx="531.0" cy="495.9" r="2.5" fill="url(#gr)" opacity="0.98"/>
<circle cx="454.7" cy="446.9" r="2.9" fill="url(#gr)" opacity="0.90"/>
<circle cx="488.8" cy="495.0" r="2.4" fill="url(#gr)" opacity="0.92"/>
<circle cx="478.6" cy="439.8" r="2.1" fill="url(#gr)" opacity="0.61"/>
<circle cx="486.3" cy="496.4" r="1.9" fill="url(#gr)" opacity="0.55"/>
<circle cx="457.0" cy="438.2" r="2.6" fill="url(#gr)" opacity="0.71"/>
<circle cx="478.4" cy="432.8" r="3.0" fill="url(#gr)" opacity="0.74"/>
<circle cx="471.2" cy="430.1" r="1.4" fill="url(#gr)" opacity="0.63"/>
<circle cx="512.0" cy="436.7" r="1.4" fill="url(#gr)" opacity="0.77"/>
<circle cx="474.8" cy="499.0" r="1.5" fill="url(#gr)" opacity="0.79"/>
<circle cx="520.4" cy="455.8" r="3.0" fill="url(#gr)" opacity="0.76"/>
<circle cx="474.1" cy="455.9" r="1.4" fill="url(#gr)" opacity="0.74"/>
<circle cx="474.7" cy="491.1" r="2.7" fill="url(#gr)" opacity="0.77"/>
<circle cx="455.9" cy="444.4" r="1.7" fill="url(#gr)" opacity="0.64"/>
<circle cx="473.2" cy="489.6" r="1.5" fill="url(#gr)" opacity="0.57"/>
<circle cx="533.8" cy="467.3" r="3.0" fill="url(#gr)" opacity="0.73"/>
<circle cx="531.5" cy="473.8" r="2.6" fill="url(#gr)" opacity="0.89"/>
<circle cx="496.1" cy="432.5" r="1.7" fill="url(#gr)" opacity="0.94"/>
<circle cx="531.4" cy="493.7" r="1.9" fill="url(#gr)" opacity="0.85"/>
<circle cx="522.7" cy="472.9" r="2.7" fill="url(#gr)" opacity="0.79"/>
<circle cx="510.1" cy="476.1" r="1.8" fill="url(#gr)" opacity="0.97"/>
<circle cx="536.3" cy="431.2" r="3.0" fill="url(#gr)" opacity="0.98"/>
<circle cx="511.2" cy="429.0" r="2.8" fill="url(#gr)" opacity="0.61"/>
<circle cx="537.4" cy="474.7" r="1.4" fill="url(#gr)" opacity="0.63"/>
<circle cx="508.4" cy="467.5" r="2.6" fill="url(#gr)" opacity="0.97"/>
<circle cx="472.1" cy="425.9" r="2.9" fill="url(#gr)" opacity="0.56"/>
<circle cx="529.3" cy="434.2" r="2.7" fill="url(#gr)" opacity="0.90"/>
<circle cx="529.5" cy="466.2" r="2.8" fill="url(#gr)" opacity="0.64"/>
<circle cx="511.5" cy="450.0" r="2.8" fill="url(#gr)" opacity="0.90"/>
<circle cx="494.1" cy="464.4" r="1.3" fill="url(#gr)" opacity="0.57"/>
<circle cx="504.8" cy="461.6" r="2.8" fill="url(#gr)" opacity="0.82"/>
<circle cx="465.2" cy="452.3" r="2.6" fill="url(#gr)" opacity="0.79"/>
<circle cx="454.0" cy="487.3" r="2.7" fill="url(#gr)" opacity="0.59"/>
<circle cx="500.4" cy="453.7" r="2.6" fill="url(#gr)" opacity="0.69"/>
<circle cx="473.4" cy="461.5" r="2.9" fill="url(#gr)" opacity="0.59"/>
<circle cx="463.1" cy="471.3" r="2.8" fill="url(#gr)" opacity="0.78"/>
<circle cx="490.9" cy="488.8" r="2.6" fill="url(#gr)" opacity="0.58"/>
<circle cx="529.8" cy="440.1" r="1.8" fill="url(#gr)" opacity="0.93"/>
<circle cx="489.9" cy="484.4" r="1.6" fill="url(#gr)" opacity="0.94"/>
<circle cx="468.4" cy="436.7" r="2.1" fill="url(#gr)" opacity="0.70"/>
<circle cx="500.2" cy="492.1" r="2.5" fill="url(#gr)" opacity="0.55"/>
<circle cx="480.2" cy="465.8" r="2.1" fill="url(#gr)" opacity="0.87"/>
<circle cx="495.2" cy="431.3" r="1.7" fill="url(#gr)" opacity="0.93"/>
<circle cx="484.1" cy="482.1" r="3.0" fill="url(#gr)" opacity="0.83"/>
<circle cx="512.0" cy="470.5" r="1.8" fill="url(#gr)" opacity="0.96"/>
<circle cx="493.7" cy="492.7" r="1.8" fill="url(#gr)" opacity="0.94"/>
<circle cx="521.6" cy="470.8" r="2.1" fill="url(#gr)" opacity="0.61"/>
<circle cx="520.2" cy="452.3" r="2.4" fill="url(#gr)" opacity="0.61"/>
<circle cx="460.3" cy="436.3" r="2.7" fill="url(#gr)" opacity="0.63"/>
<circle cx="531.6" cy="453.0" r="2.3" fill="url(#gr)" opacity="0.71"/>
<circle cx="507.1" cy="432.6" r="2.0" fill="url(#gr)" opacity="0.97"/>
<circle cx="468.7" cy="473.8" r="1.9" fill="url(#gr)" opacity="0.69"/>
<circle cx="455.1" cy="427.2" r="2.9" fill="url(#gr)" opacity="0.92"/>
<circle cx="522.8" cy="485.0" r="2.9" fill="url(#gr)" opacity="0.62"/>
<circle cx="503.9" cy="462.1" r="2.3" fill="url(#gr)" opacity="0.97"/>
<circle cx="519.2" cy="496.9" r="1.5" fill="url(#gr)" opacity="0.84"/>
<circle cx="511.9" cy="480.5" r="2.4" fill="url(#gr)" opacity="0.92"/>
<circle cx="479.4" cy="493.9" r="2.0" fill="url(#gr)" opacity="0.82"/>
<circle cx="531.1" cy="477.4" r="1.8" fill="url(#gr)" opacity="0.65"/>
<circle cx="481.5" cy="471.8" r="3.0" fill="url(#gr)" opacity="0.95"/>
<circle cx="487.9" cy="455.1" r="2.7" fill="url(#gr)" opacity="0.68"/>
<circle cx="488.9" cy="426.7" r="1.6" fill="url(#gr)" opacity="0.79"/>
<circle cx="513.4" cy="470.9" r="1.9" fill="url(#gr)" opacity="0.98"/>
<circle cx="507.3" cy="437.2" r="1.4" fill="url(#gr)" opacity="0.99"/>
<circle cx="539.0" cy="493.3" r="2.3" fill="url(#gr)" opacity="0.69"/>
<circle cx="461.0" cy="444.7" r="1.7" fill="url(#gr)" opacity="0.97"/>
<circle cx="530.8" cy="482.9" r="1.6" fill="url(#gr)" opacity="0.66"/>
<circle cx="479.1" cy="495.4" r="1.6" fill="url(#gr)" opacity="0.91"/>
<circle cx="512.3" cy="465.9" r="2.9" fill="url(#gr)" opacity="0.67"/>
<circle cx="498.7" cy="437.3" r="1.5" fill="url(#gr)" opacity="0.56"/>
<circle cx="480.6" cy="434.7" r="1.4" fill="url(#gr)" opacity="1.00"/>
<circle cx="478.2" cy="491.1" r="2.5" fill="url(#gr)" opacity="0.88"/>
<circle cx="510.1" cy="495.7" r="2.8" fill="url(#gr)" opacity="0.87"/>
<circle cx="501.8" cy="476.7" r="2.5" fill="url(#gr)" opacity="0.80"/>
<circle cx="496.8" cy="437.0" r="2.7" fill="url(#gr)" opacity="0.77"/>
<circle cx="459.0" cy="438.1" r="2.8" fill="url(#gr)" opacity="0.67"/>
<circle cx="487.1" cy="475.8" r="2.8" fill="url(#gr)" opacity="0.70"/>
<circle cx="486.8" cy="456.8" r="1.3" fill="url(#gr)" opacity="0.94"/>
<circle cx="454.8" cy="496.3" r="1.6" fill="url(#gr)" opacity="0.62"/>
<circle cx="526.9" cy="486.2" r="1.7" fill="url(#gr)" opacity="0.80"/>
<circle cx="494.6" cy="478.5" r="1.6" fill="url(#gr)" opacity="0.92"/>
<circle cx="539.8" cy="477.6" r="2.9" fill="url(#gr)" opacity="0.97"/>
<circle cx="486.1" cy="488.0" r="2.7" fill="url(#gr)" opacity="0.81"/>
<circle cx="462.4" cy="471.2" r="2.8" fill="url(#gr)" opacity="0.69"/>
<circle cx="509.4" cy="491.6" r="2.3" fill="url(#gr)" opacity="0.57"/>
<circle cx="508.1" cy="444.5" r="2.8" fill="url(#gr)" opacity="0.85"/>
<circle cx="479.8" cy="491.5" r="2.4" fill="url(#gr)" opacity="0.70"/>
<circle cx="525.7" cy="491.2" r="2.8" fill="url(#gr)" opacity="0.95"/>
<circle cx="510.4" cy="477.1" r="2.3" fill="url(#gr)" opacity="0.79"/>
<circle cx="539.0" cy="451.6" r="1.4" fill="url(#gr)" opacity="0.87"/>
<circle cx="496.4" cy="465.8" r="2.3" fill="url(#gr)" opacity="0.66"/>
<circle cx="470.6" cy="430.9" r="2.6" fill="url(#gr)" opacity="0.96"/>
<circle cx="513.7" cy="434.3" r="3.0" fill="url(#gr)" opacity="0.92"/>
<circle cx="497.4" cy="425.8" r="2.7" fill="url(#gr)" opacity="0.83"/>
<circle cx="507.2" cy="427.0" r="2.5" fill="url(#gr)" opacity="0.57"/>
<circle cx="494.7" cy="436.3" r="1.9" fill="url(#gr)" opacity="0.95"/>
<circle cx="518.2" cy="485.7" r="1.8" fill="url(#gr)" opacity="0.72"/>
<circle cx="505.7" cy="428.2" r="2.0" fill="url(#gr)" opacity="0.99"/>
<circle cx="518.7" cy="489.1" r="1.8" fill="url(#gr)" opacity="0.86"/>
<circle cx="521.7" cy="477.5" r="2.0" fill="url(#gr)" opacity="0.63"/>
<circle cx="454.7" cy="490.9" r="2.9" fill="url(#gr)" opacity="0.67"/>
<circle cx="518.9" cy="455.6" r="2.4" fill="url(#gr)" opacity="0.93"/>
<circle cx="481.0" cy="471.3" r="1.7" fill="url(#gr)" opacity="0.78"/>
<circle cx="455.7" cy="445.1" r="1.8" fill="url(#gr)" opacity="0.96"/>
<circle cx="464.6" cy="481.4" r="1.4" fill="url(#gr)" opacity="0.99"/>
<circle cx="467.5" cy="432.5" r="1.7" fill="url(#gr)" opacity="0.97"/>
<circle cx="511.3" cy="491.2" r="2.1" fill="url(#gr)" opacity="0.60"/>
<circle cx="482.7" cy="459.2" r="3.0" fill="url(#gr)" opacity="0.62"/>
<circle cx="474.3" cy="487.7" r="1.5" fill="url(#gr)" opacity="0.99"/>
<circle cx="478.9" cy="467.4" r="2.4" fill="url(#gr)" opacity="0.96"/>
<circle cx="459.7" cy="487.9" r="1.6" fill="url(#gr)" opacity="0.87"/>
<circle cx="455.5" cy="482.0" r="1.6" fill="url(#gr)" opacity="0.64"/>
<circle cx="456.1" cy="449.5" r="1.9" fill="url(#gr)" opacity="0.99"/>
<circle cx="505.9" cy="452.5" r="3.0" fill="url(#gr)" opacity="0.63"/>
<circle cx="471.8" cy="496.0" r="2.9" fill="url(#gr)" opacity="0.86"/>
<circle cx="538.2" cy="429.9" r="2.8" fill="url(#gr)" opacity="0.87"/>
<circle cx="511.2" cy="487.7" r="1.5" fill="url(#gr)" opacity="0.64"/>
<circle cx="465.1" cy="460.9" r="2.2" fill="url(#gr)" opacity="0.79"/>
<circle cx="484.6" cy="480.4" r="2.7" fill="url(#gr)" opacity="0.89"/>
<circle cx="456.4" cy="436.9" r="1.7" fill="url(#gr)" opacity="0.66"/>
<circle cx="503.0" cy="440.0" r="2.4" fill="url(#gr)" opacity="0.70"/>
<circle cx="484.7" cy="477.7" r="2.9" fill="url(#gr)" opacity="0.64"/>
<circle cx="483.4" cy="497.8" r="1.7" fill="url(#gr)" opacity="0.56"/>
<circle cx="469.7" cy="486.4" r="2.5" fill="url(#gr)" opacity="0.97"/>
<circle cx="496.4" cy="428.7" r="1.8" fill="url(#gr)" opacity="0.87"/>
<circle cx="487.3" cy="436.0" r="1.9" fill="url(#gr)" opacity="0.76"/>
<circle cx="484.1" cy="458.5" r="1.5" fill="url(#gr)" opacity="0.56"/>
<circle cx="521.3" cy="479.5" r="2.0" fill="url(#gr)" opacity="0.60"/>
<circle cx="478.8" cy="466.7" r="2.8" fill="url(#gr)" opacity="0.77"/>
<circle cx="537.8" cy="464.4" r="1.6" fill="url(#gr)" opacity="0.83"/>
<circle cx="505.3" cy="469.7" r="2.5" fill="url(#gr)" opacity="0.56"/>
<circle cx="491.1" cy="484.5" r="1.5" fill="url(#gr)" opacity="0.57"/>
<circle cx="469.0" cy="446.7" r="2.0" fill="url(#gr)" opacity="0.69"/>
<circle cx="508.3" cy="438.2" r="1.9" fill="url(#gr)" opacity="0.85"/>
<circle cx="500.5" cy="496.2" r="2.9" fill="url(#gr)" opacity="0.67"/>
<circle cx="482.3" cy="465.2" r="2.2" fill="url(#gr)" opacity="0.71"/>
<circle cx="528.2" cy="440.2" r="2.1" fill="url(#gr)" opacity="0.60"/>
<circle cx="529.9" cy="469.5" r="3.0" fill="url(#gr)" opacity="0.61"/>
<circle cx="515.0" cy="469.6" r="1.4" fill="url(#gr)" opacity="0.92"/>
<circle cx="529.2" cy="431.6" r="2.9" fill="url(#gr)" opacity="0.90"/>
<circle cx="505.7" cy="465.7" r="1.7" fill="url(#gr)" opacity="0.58"/>
<circle cx="494.5" cy="489.3" r="1.7" fill="url(#gr)" opacity="0.76"/>
<circle cx="477.7" cy="476.5" r="2.9" fill="url(#gr)" opacity="0.95"/>
<circle cx="478.1" cy="456.3" r="1.3" fill="url(#gr)" opacity="0.79"/>
<circle cx="527.4" cy="487.8" r="1.4" fill="url(#gr)" opacity="0.75"/>
<circle cx="460.1" cy="456.9" r="2.9" fill="url(#gr)" opacity="0.68"/>
<circle cx="526.7" cy="495.9" r="2.7" fill="url(#gr)" opacity="0.64"/>
<circle cx="533.0" cy="493.5" r="3.0" fill="url(#gr)" opacity="0.55"/>
<circle cx="453.4" cy="447.1" r="2.2" fill="url(#gr)" opacity="0.74"/>
<circle cx="461.1" cy="472.8" r="2.4" fill="url(#gr)" opacity="0.83"/>
<circle cx="497.5" cy="466.1" r="2.5" fill="url(#gr)" opacity="0.58"/>
<circle cx="491.1" cy="435.7" r="1.5" fill="url(#gr)" opacity="0.89"/>
<circle cx="481.3" cy="450.6" r="1.8" fill="url(#gr)" opacity="0.81"/>
<circle cx="463.4" cy="472.8" r="1.4" fill="url(#gr)" opacity="0.98"/>
<circle cx="466.8" cy="482.1" r="2.2" fill="url(#gr)" opacity="0.74"/>
<circle cx="479.6" cy="452.1" r="2.6" fill="url(#gr)" opacity="0.79"/>
<circle cx="499.8" cy="443.9" r="2.4" fill="url(#gr)" opacity="0.63"/>
<circle cx="495.1" cy="473.6" r="2.2" fill="url(#gr)" opacity="0.81"/>
<circle cx="502.7" cy="440.0" r="2.9" fill="url(#gr)" opacity="0.86"/>
<circle cx="516.2" cy="495.9" r="2.1" fill="url(#gr)" opacity="0.70"/>
<circle cx="479.6" cy="448.9" r="1.8" fill="url(#gr)" opacity="0.69"/>
<circle cx="471.3" cy="461.3" r="1.8" fill="url(#gr)" opacity="0.72"/>
<circle cx="510.8" cy="448.9" r="2.8" fill="url(#gr)" opacity="0.91"/>
<circle cx="481.7" cy="487.0" r="1.6" fill="url(#gr)" opacity="0.59"/>
<circle cx="539.7" cy="428.1" r="1.3" fill="url(#gr)" opacity="0.94"/>
<circle cx="453.3" cy="473.9" r="2.2" fill="url(#gr)" opacity="0.65"/>
<circle cx="474.5" cy="496.8" r="2.0" fill="url(#gr)" opacity="0.66"/>
<circle cx="491.5" cy="479.5" r="1.8" fill="url(#gr)" opacity="0.59"/>
<circle cx="521.9" cy="432.8" r="1.4" fill="url(#gr)" opacity="0.55"/>
<circle cx="539.5" cy="457.6" r="2.6" fill="url(#gr)" opacity="0.80"/>
<circle cx="537.9" cy="450.9" r="1.9" fill="url(#gr)" opacity="0.86"/>
<circle cx="453.1" cy="452.4" r="2.6" fill="url(#gr)" opacity="0.81"/>
<circle cx="495.7" cy="494.6" r="2.0" fill="url(#gr)" opacity="0.88"/>
<circle cx="487.2" cy="432.1" r="2.0" fill="url(#gr)" opacity="0.64"/>
<circle cx="455.5" cy="446.7" r="1.5" fill="url(#gr)" opacity="0.76"/>
<circle cx="517.3" cy="481.4" r="2.8" fill="url(#gr)" opacity="0.69"/>
<circle cx="511.3" cy="491.1" r="2.0" fill="url(#gr)" opacity="0.96"/>
<circle cx="462.1" cy="493.4" r="2.8" fill="url(#gr)" opacity="0.99"/>
<circle cx="525.4" cy="477.9" r="2.0" fill="url(#gr)" opacity="0.87"/>
<circle cx="529.5" cy="468.0" r="2.4" fill="url(#gr)" opacity="0.97"/>
<circle cx="477.9" cy="450.3" r="1.4" fill="url(#gr)" opacity="0.95"/>
<circle cx="507.9" cy="475.1" r="1.7" fill="url(#gr)" opacity="0.63"/>
<circle cx="494.7" cy="490.2" r="1.9" fill="url(#gr)" opacity="0.74"/>
<circle cx="489.5" cy="487.8" r="1.5" fill="url(#gr)" opacity="0.94"/>
<circle cx="454.1" cy="477.1" r="2.6" fill="url(#gr)" opacity="0.76"/>
<circle cx="517.6" cy="446.3" r="1.5" fill="url(#gr)" opacity="0.71"/>
<circle cx="476.2" cy="478.4" r="2.3" fill="url(#gr)" opacity="0.85"/>
<circle cx="538.0" cy="482.5" r="2.6" fill="url(#gr)" opacity="0.99"/>
<circle cx="533.9" cy="480.2" r="1.9" fill="url(#gr)" opacity="0.78"/>
<circle cx="518.8" cy="483.5" r="2.8" fill="url(#gr)" opacity="0.88"/>
<circle cx="511.3" cy="444.4" r="2.4" fill="url(#gr)" opacity="0.63"/>
<circle cx="509.4" cy="438.6" r="1.3" fill="url(#gr)" opacity="0.98"/>
<circle cx="528.8" cy="448.1" r="1.4" fill="url(#gr)" opacity="0.92"/>
<circle cx="520.2" cy="437.1" r="2.7" fill="url(#gr)" opacity="0.93"/>
<circle cx="503.1" cy="445.8" r="1.4" fill="url(#gr)" opacity="0.58"/>
<circle cx="491.5" cy="478.7" r="2.4" fill="url(#gr)" opacity="0.65"/>
<circle cx="522.5" cy="430.3" r="2.3" fill="url(#gr)" opacity="0.63"/>
<circle cx="453.6" cy="439.9" r="2.7" fill="url(#gr)" opacity="0.65"/>
<circle cx="454.3" cy="461.2" r="1.9" fill="url(#gr)" opacity="0.81"/>
<circle cx="503.3" cy="477.7" r="2.9" fill="url(#gr)" opacity="0.70"/>
<circle cx="508.3" cy="434.4" r="1.7" fill="url(#gr)" opacity="0.59"/>
<circle cx="528.1" cy="450.5" r="2.5" fill="url(#gr)" opacity="0.94"/>
<circle cx="486.6" cy="440.9" r="1.7" fill="url(#gr)" opacity="0.77"/>
<circle cx="486.8" cy="430.9" r="2.7" fill="url(#gr)" opacity="0.84"/>
<circle cx="529.0" cy="487.8" r="2.5" fill="url(#gr)" opacity="0.92"/>
<circle cx="514.3" cy="457.2" r="2.7" fill="url(#gr)" opacity="0.96"/>
<circle cx="462.5" cy="436.3" r="1.6" fill="url(#gr)" opacity="0.76"/>
<circle cx="528.3" cy="464.4" r="2.8" fill="url(#gr)" opacity="0.71"/>
<circle cx="502.3" cy="443.9" r="2.4" fill="url(#gr)" opacity="0.67"/>
<circle cx="453.7" cy="455.0" r="2.3" fill="url(#gr)" opacity="0.95"/>
<circle cx="478.0" cy="493.8" r="2.7" fill="url(#gr)" opacity="0.62"/>
<circle cx="520.8" cy="494.5" r="2.9" fill="url(#gr)" opacity="0.86"/>
<circle cx="487.1" cy="465.7" r="2.4" fill="url(#gr)" opacity="0.83"/>
<circle cx="469.6" cy="490.7" r="2.2" fill="url(#gr)" opacity="0.58"/>
<circle cx="479.7" cy="431.6" r="2.1" fill="url(#gr)" opacity="0.59"/>
<circle cx="499.2" cy="446.2" r="2.7" fill="url(#gr)" opacity="0.90"/>
<circle cx="469.4" cy="485.3" r="2.3" fill="url(#gr)" opacity="0.67"/>
<circle cx="532.4" cy="426.2" r="2.0" fill="url(#gr)" opacity="0.82"/>
<circle cx="467.2" cy="461.8" r="2.8" fill="url(#gr)" opacity="0.70"/>
<circle cx="514.8" cy="439.7" r="3.0" fill="url(#gr)" opacity="0.98"/>
<circle cx="467.4" cy="481.9" r="1.9" fill="url(#gr)" opacity="0.56"/>
<circle cx="471.5" cy="479.3" r="2.1" fill="url(#gr)" opacity="0.79"/>
<circle cx="464.2" cy="438.3" r="1.9" fill="url(#gr)" opacity="0.78"/>
<circle cx="524.5" cy="458.7" r="1.9" fill="url(#gr)" opacity="0.96"/>
<circle cx="513.2" cy="481.3" r="2.7" fill="url(#gr)" opacity="0.77"/>
<circle cx="475.7" cy="433.9" r="2.4" fill="url(#gr)" opacity="0.89"/>
<circle cx="531.6" cy="493.3" r="2.2" fill="url(#gr)" opacity="0.77"/>
<circle cx="537.0" cy="432.0" r="1.9" fill="url(#gr)" opacity="0.80"/>
<circle cx="505.4" cy="470.6" r="1.6" fill="url(#gr)" opacity="0.78"/>
<circle cx="468.4" cy="453.9" r="1.6" fill="url(#gr)" opacity="0.69"/>
<circle cx="507.6" cy="455.0" r="1.6" fill="url(#gr)" opacity="0.76"/>
<circle cx="511.4" cy="447.8" r="1.8" fill="url(#gr)" opacity="0.75"/>
<circle cx="513.6" cy="428.4" r="2.4" fill="url(#gr)" opacity="0.57"/>
<circle cx="530.5" cy="439.8" r="2.7" fill="url(#gr)" opacity="0.57"/>
<circle cx="496.0" cy="444.6" r="2.6" fill="url(#gr)" opacity="0.90"/>
<circle cx="464.1" cy="429.5" r="2.5" fill="url(#gr)" opacity="0.74"/>
<circle cx="485.5" cy="451.3" r="1.9" fill="url(#gr)" opacity="0.81"/>
<circle cx="486.9" cy="435.2" r="2.1" fill="url(#gr)" opacity="0.99"/>
<circle cx="519.8" cy="478.5" r="2.9" fill="url(#gr)" opacity="0.75"/>
<circle cx="484.6" cy="484.0" r="1.5" fill="url(#gr)" opacity="0.89"/>
<circle cx="466.0" cy="471.5" r="2.2" fill="url(#gr)" opacity="0.90"/>
<circle cx="458.6" cy="475.1" r="2.7" fill="url(#gr)" opacity="0.57"/>
<circle cx="512.6" cy="446.3" r="2.6" fill="url(#gr)" opacity="0.99"/>
<circle cx="453.3" cy="455.6" r="2.1" fill="url(#gr)" opacity="0.99"/>
<circle cx="533.5" cy="427.8" r="1.5" fill="url(#gr)" opacity="0.73"/>
<circle cx="523.1" cy="483.7" r="2.2" fill="url(#gr)" opacity="0.96"/>
<circle cx="524.5" cy="490.2" r="2.4" fill="url(#gr)" opacity="0.67"/>
<circle cx="517.0" cy="478.4" r="2.9" fill="url(#gr)" opacity="0.63"/>
<circle cx="455.0" cy="450.8" r="1.7" fill="url(#gr)" opacity="0.72"/>
<circle cx="458.3" cy="470.6" r="2.0" fill="url(#gr)" opacity="0.67"/>
<circle cx="461.9" cy="467.9" r="1.5" fill="url(#gr)" opacity="0.94"/>
<circle cx="477.2" cy="491.7" r="1.5" fill="url(#gr)" opacity="0.73"/>
<circle cx="520.8" cy="464.0" r="2.1" fill="url(#gr)" opacity="0.95"/>
<circle cx="467.4" cy="488.3" r="2.2" fill="url(#gr)" opacity="0.68"/>
<circle cx="483.5" cy="446.2" r="2.4" fill="url(#gr)" opacity="0.75"/>
<circle cx="498.2" cy="473.4" r="2.8" fill="url(#gr)" opacity="0.86"/>
<circle cx="478.8" cy="474.6" r="2.5" fill="url(#gr)" opacity="0.96"/>
<circle cx="486.7" cy="464.8" r="2.6" fill="url(#gr)" opacity="0.70"/>
<circle cx="481.5" cy="471.3" r="1.9" fill="url(#gr)" opacity="0.93"/>
<circle cx="483.3" cy="441.9" r="2.3" fill="url(#gr)" opacity="0.82"/>
<circle cx="539.3" cy="495.0" r="2.0" fill="url(#gr)" opacity="0.75"/>
<circle cx="509.8" cy="462.8" r="2.3" fill="url(#gr)" opacity="0.73"/>
<circle cx="527.9" cy="491.3" r="2.6" fill="url(#gr)" opacity="0.89"/>
<circle cx="530.3" cy="444.5" r="2.9" fill="url(#gr)" opacity="0.64"/>
<circle cx="461.9" cy="462.1" r="1.6" fill="url(#gr)" opacity="0.67"/>
<circle cx="505.8" cy="436.6" r="2.0" fill="url(#gr)" opacity="0.71"/>
<circle cx="535.2" cy="431.5" r="2.2" fill="url(#gr)" opacity="0.76"/>
<circle cx="467.2" cy="451.2" r="1.9" fill="url(#gr)" opacity="0.71"/>
<circle cx="501.6" cy="466.6" r="2.1" fill="url(#gr)" opacity="0.75"/>
<circle cx="506.1" cy="461.3" r="1.5" fill="url(#gr)" opacity="0.85"/>
<circle cx="488.7" cy="488.4" r="1.5" fill="url(#gr)" opacity="0.80"/>
<circle cx="479.2" cy="472.2" r="2.7" fill="url(#gr)" opacity="0.84"/>
<circle cx="502.8" cy="494.2" r="1.7" fill="url(#gr)" opacity="1.00"/>
<circle cx="491.3" cy="472.2" r="1.5" fill="url(#gr)" opacity="0.56"/>
<circle cx="466.9" cy="465.6" r="1.7" fill="url(#gr)" opacity="0.91"/>
<circle cx="466.6" cy="474.4" r="2.8" fill="url(#gr)" opacity="0.86"/>
<circle cx="533.4" cy="486.2" r="2.8" fill="url(#gr)" opacity="0.57"/>
<circle cx="497.5" cy="447.7" r="2.0" fill="url(#gr)" opacity="0.88"/>
<circle cx="516.7" cy="440.7" r="1.6" fill="url(#gr)" opacity="0.58"/>
<circle cx="517.4" cy="486.2" r="1.5" fill="url(#gr)" opacity="0.61"/>
<circle cx="465.1" cy="498.5" r="1.4" fill="url(#gr)" opacity="0.81"/>
<circle cx="529.3" cy="438.2" r="2.5" fill="url(#gr)" opacity="0.70"/>
<circle cx="508.9" cy="460.1" r="1.6" fill="url(#gr)" opacity="0.95"/>
<circle cx="496.6" cy="497.9" r="2.3" fill="url(#gr)" opacity="0.98"/>
<circle cx="510.1" cy="429.9" r="1.3" fill="url(#gr)" opacity="1.00"/>
<circle cx="511.0" cy="483.9" r="2.7" fill="url(#gr)" opacity="0.71"/>
<circle cx="514.5" cy="473.3" r="1.4" fill="url(#gr)" opacity="0.79"/>
<circle cx="534.0" cy="466.6" r="2.6" fill="url(#gr)" opacity="0.58"/>
<circle cx="489.2" cy="462.9" r="2.2" fill="url(#gr)" opacity="0.93"/>
<circle cx="495.8" cy="467.3" r="2.2" fill="url(#gr)" opacity="0.85"/>
<circle cx="503.5" cy="454.8" r="1.8" fill="url(#gr)" opacity="0.94"/>
<circle cx="483.9" cy="478.1" r="1.8" fill="url(#gr)" opacity="0.99"/>
<circle cx="471.9" cy="456.6" r="1.9" fill="url(#gr)" opacity="0.94"/>
<circle cx="516.8" cy="445.0" r="1.7" fill="url(#gr)" opacity="0.88"/>
<circle cx="492.0" cy="438.9" r="1.5" fill="url(#gr)" opacity="0.87"/>
<circle cx="510.6" cy="485.0" r="1.4" fill="url(#gr)" opacity="0.77"/>
<circle cx="465.7" cy="467.6" r="1.7" fill="url(#gr)" opacity="0.65"/>
<circle cx="501.9" cy="437.8" r="2.7" fill="url(#gr)" opacity="0.63"/>
<circle cx="476.3" cy="481.2" r="1.7" fill="url(#gr)" opacity="0.68"/>
<circle cx="521.3" cy="467.1" r="2.7" fill="url(#gr)" opacity="0.94"/>
<circle cx="536.9" cy="432.1" r="2.0" fill="url(#gr)" opacity="0.75"/>
<circle cx="478.0" cy="489.5" r="2.0" fill="url(#gr)" opacity="0.97"/>
<circle cx="459.2" cy="458.3" r="2.4" fill="url(#gr)" opacity="0.90"/>
<circle cx="495.1" cy="491.8" r="1.8" fill="url(#gr)" opacity="0.71"/>
<circle cx="469.9" cy="439.6" r="2.1" fill="url(#gr)" opacity="0.88"/>
<circle cx="469.8" cy="461.6" r="2.0" fill="url(#gr)" opacity="0.99"/>
<circle cx="496.0" cy="485.2" r="1.7" fill="url(#gr)" opacity="0.95"/>
<circle cx="455.2" cy="436.8" r="2.4" fill="url(#gr)" opacity="0.79"/>
<circle cx="499.0" cy="471.4" r="1.9" fill="url(#gr)" opacity="0.85"/>
<circle cx="487.6" cy="468.7" r="2.5" fill="url(#gr)" opacity="0.69"/>
<circle cx="519.3" cy="486.3" r="3.0" fill="url(#gr)" opacity="0.58"/>
<circle cx="490.2" cy="437.8" r="1.6" fill="url(#gr)" opacity="0.76"/>
<circle cx="520.8" cy="434.9" r="2.7" fill="url(#gr)" opacity="0.93"/>
<circle cx="537.3" cy="481.3" r="1.7" fill="url(#gr)" opacity="0.87"/>
<circle cx="503.1" cy="445.8" r="2.6" fill="url(#gr)" opacity="0.70"/>
<circle cx="526.2" cy="490.4" r="2.0" fill="url(#gr)" opacity="0.61"/>
<circle cx="524.1" cy="437.3" r="1.5" fill="url(#gr)" opacity="0.94"/>
<circle cx="473.7" cy="444.9" r="2.0" fill="url(#gr)" opacity="0.88"/>
<circle cx="470.0" cy="448.9" r="1.4" fill="url(#gr)" opacity="0.67"/>
<circle cx="518.0" cy="472.7" r="2.3" fill="url(#gr)" opacity="0.95"/>
<circle cx="455.8" cy="446.4" r="2.4" fill="url(#gr)" opacity="0.71"/>
<circle cx="538.1" cy="442.1" r="2.9" fill="url(#gr)" opacity="0.88"/>
<circle cx="512.0" cy="494.9" r="2.0" fill="url(#gr)" opacity="0.70"/>
<circle cx="491.1" cy="479.7" r="2.7" fill="url(#gr)" opacity="0.83"/>
<circle cx="522.0" cy="474.6" r="2.6" fill="url(#gr)" opacity="0.61"/>
<circle cx="525.3" cy="464.9" r="1.9" fill="url(#gr)" opacity="0.61"/>
<circle cx="505.9" cy="441.9" r="1.9" fill="url(#gr)" opacity="0.80"/>
<circle cx="471.3" cy="442.7" r="1.4" fill="url(#gr)" opacity="0.71"/>
<circle cx="525.1" cy="443.7" r="1.8" fill="url(#gr)" opacity="0.61"/>
<circle cx="505.9" cy="480.2" r="1.6" fill="url(#gr)" opacity="0.92"/>
<circle cx="454.0" cy="434.3" r="1.5" fill="url(#gr)" opacity="0.90"/>
<circle cx="460.3" cy="479.4" r="1.7" fill="url(#gr)" opacity="0.68"/>
<circle cx="461.8" cy="485.3" r="1.9" fill="url(#gr)" opacity="0.97"/>
<circle cx="513.5" cy="467.1" r="2.1" fill="url(#gr)" opacity="0.80"/>
<circle cx="503.6" cy="497.0" r="1.7" fill="url(#gr)" opacity="0.63"/>
<circle cx="540.0" cy="476.3" r="2.4" fill="url(#gr)" opacity="0.76"/>
<circle cx="454.2" cy="442.1" r="2.7" fill="url(#gr)" opacity="0.67"/>
<circle cx="505.7" cy="461.6" r="1.6" fill="url(#gr)" opacity="0.58"/>
<circle cx="458.8" cy="478.1" r="1.7" fill="url(#gr)" opacity="0.78"/>
<circle cx="503.3" cy="481.6" r="1.6" fill="url(#gr)" opacity="0.74"/>
<circle cx="518.8" cy="474.6" r="2.1" fill="url(#gr)" opacity="0.84"/>
<circle cx="521.6" cy="490.1" r="2.2" fill="url(#gr)" opacity="0.60"/>
<circle cx="464.4" cy="474.6" r="2.5" fill="url(#gr)" opacity="0.75"/>
<circle cx="513.7" cy="441.7" r="2.0" fill="url(#gr)" opacity="0.72"/>
<circle cx="518.3" cy="496.7" r="1.8" fill="url(#gr)" opacity="0.59"/>
<circle cx="485.2" cy="489.4" r="3.0" fill="url(#gr)" opacity="0.58"/>
<circle cx="482.4" cy="460.7" r="2.8" fill="url(#gr)" opacity="0.81"/>
<circle cx="490.3" cy="497.3" r="2.5" fill="url(#gr)" opacity="0.95"/>
<circle cx="523.6" cy="497.9" r="2.5" fill="url(#gr)" opacity="0.90"/>
<circle cx="496.9" cy="475.6" r="2.9" fill="url(#gr)" opacity="0.98"/>
<circle cx="531.4" cy="475.4" r="2.1" fill="url(#gr)" opacity="0.74"/>
<circle cx="487.2" cy="495.7" r="2.4" fill="url(#gr)" opacity="0.91"/>
<circle cx="511.1" cy="433.1" r="2.1" fill="url(#gr)" opacity="0.71"/>
<circle cx="537.4" cy="476.3" r="1.9" fill="url(#gr)" opacity="0.78"/>
<circle cx="530.8" cy="464.5" r="2.5" fill="url(#gr)" opacity="0.71"/>
<circle cx="490.2" cy="482.0" r="1.6" fill="url(#gr)" opacity="0.85"/>
<circle cx="526.3" cy="498.8" r="2.2" fill="url(#gr)" opacity="0.83"/>
<circle cx="539.6" cy="484.0" r="2.8" fill="url(#gr)" opacity="0.79"/>
<circle cx="464.6" cy="486.5" r="1.5" fill="url(#gr)" opacity="0.87"/>
<circle cx="478.5" cy="485.1" r="2.4" fill="url(#gr)" opacity="0.78"/>
<circle cx="494.8" cy="447.7" r="3.0" fill="url(#gr)" opacity="0.80"/>
<circle cx="536.6" cy="434.5" r="1.3" fill="url(#gr)" opacity="0.63"/>
<circle cx="480.9" cy="498.1" r="1.5" fill="url(#gr)" opacity="0.78"/>
<circle cx="527.6" cy="448.1" r="1.8" fill="url(#gr)" opacity="0.65"/>
<circle cx="457.8" cy="468.5" r="2.3" fill="url(#gr)" opacity="0.65"/>
<circle cx="501.9" cy="462.6" r="2.5" fill="url(#gr)" opacity="0.66"/>
<circle cx="472.9" cy="490.1" r="2.5" fill="url(#gr)" opacity="0.89"/>
<circle cx="483.0" cy="468.6" r="1.9" fill="url(#gr)" opacity="0.86"/>
<circle cx="536.3" cy="461.5" r="2.1" fill="url(#gr)" opacity="0.87"/>
<circle cx="496.3" cy="452.7" r="1.3" fill="url(#gr)" opacity="0.92"/>
<circle cx="497.4" cy="488.0" r="1.9" fill="url(#gr)" opacity="0.95"/>
<circle cx="523.3" cy="442.9" r="2.6" fill="url(#gr)" opacity="0.57"/>
<circle cx="509.2" cy="483.0" r="2.5" fill="url(#gr)" opacity="0.68"/>
<circle cx="483.7" cy="439.1" r="2.8" fill="url(#gr)" opacity="0.82"/>
<circle cx="521.1" cy="461.7" r="2.0" fill="url(#gr)" opacity="0.97"/>
<circle cx="534.5" cy="480.2" r="2.4" fill="url(#gr)" opacity="0.95"/>
<circle cx="481.2" cy="449.2" r="2.6" fill="url(#gr)" opacity="0.85"/>
<circle cx="519.6" cy="478.2" r="2.0" fill="url(#gr)" opacity="0.60"/>
<circle cx="520.4" cy="489.7" r="2.2" fill="url(#gr)" opacity="0.69"/>
<circle cx="526.7" cy="439.6" r="1.6" fill="url(#gr)" opacity="0.81"/>
<circle cx="494.8" cy="481.5" r="1.3" fill="url(#gr)" opacity="0.97"/>
<circle cx="477.5" cy="462.3" r="1.3" fill="url(#gr)" opacity="0.72"/>
<circle cx="497.1" cy="495.2" r="1.6" fill="url(#gr)" opacity="0.61"/>
<circle cx="528.4" cy="493.4" r="2.1" fill="url(#gr)" opacity="0.78"/>
<circle cx="529.7" cy="459.6" r="2.1" fill="url(#gr)" opacity="0.74"/>
<circle cx="474.2" cy="445.9" r="1.9" fill="url(#gr)" opacity="0.58"/>
<circle cx="493.4" cy="483.0" r="2.8" fill="url(#gr)" opacity="0.61"/>
<circle cx="484.8" cy="489.6" r="2.9" fill="url(#gr)" opacity="0.69"/>
<circle cx="468.6" cy="487.4" r="1.8" fill="url(#gr)" opacity="0.85"/>
<circle cx="533.6" cy="444.2" r="1.8" fill="url(#gr)" opacity="0.81"/>
<circle cx="460.4" cy="462.9" r="2.3" fill="url(#gr)" opacity="0.74"/>
<circle cx="517.5" cy="474.7" r="2.3" fill="url(#gr)" opacity="0.92"/>
<circle cx="465.5" cy="438.8" r="1.8" fill="url(#gr)" opacity="0.63"/>
<circle cx="531.2" cy="488.2" r="2.8" fill="url(#gr)" opacity="0.73"/>
<circle cx="527.1" cy="494.4" r="2.6" fill="url(#gr)" opacity="0.93"/>
<circle cx="512.7" cy="426.6" r="1.9" fill="url(#gr)" opacity="0.67"/>
<circle cx="499.2" cy="467.1" r="2.9" fill="url(#gr)" opacity="0.67"/>
<circle cx="538.1" cy="436.9" r="2.6" fill="url(#gr)" opacity="0.69"/>
<circle cx="502.1" cy="471.1" r="1.4" fill="url(#gr)" opacity="0.81"/>
<circle cx="510.5" cy="444.8" r="1.5" fill="url(#gr)" opacity="0.82"/>
<circle cx="475.7" cy="438.7" r="1.7" fill="url(#gr)" opacity="0.81"/>
<circle cx="493.9" cy="453.9" r="1.5" fill="url(#gr)" opacity="0.65"/>
<circle cx="506.5" cy="455.1" r="1.6" fill="url(#gr)" opacity="0.92"/>
<circle cx="500.7" cy="451.1" r="3.0" fill="url(#gr)" opacity="0.79"/>
<circle cx="466.4" cy="460.9" r="1.8" fill="url(#gr)" opacity="0.93"/>
<circle cx="520.9" cy="431.2" r="1.5" fill="url(#gr)" opacity="0.85"/>
<circle cx="496.9" cy="448.6" r="2.1" fill="url(#gr)" opacity="0.61"/>
<circle cx="493.9" cy="467.4" r="2.9" fill="url(#gr)" opacity="0.83"/>
<circle cx="503.2" cy="428.5" r="2.2" fill="url(#gr)" opacity="0.80"/>
<circle cx="510.9" cy="448.7" r="2.9" fill="url(#gr)" opacity="0.87"/>
<circle cx="515.9" cy="497.6" r="2.9" fill="url(#gr)" opacity="0.61"/>
<circle cx="531.3" cy="464.7" r="2.3" fill="url(#gr)" opacity="0.56"/>
<circle cx="458.9" cy="484.2" r="1.9" fill="url(#gr)" opacity="0.99"/>
<circle cx="535.4" cy="465.4" r="2.3" fill="url(#gr)" opacity="0.82"/>
<circle cx="500.0" cy="485.3" r="3.0" fill="url(#gr)" opacity="0.70"/>
<circle cx="489.3" cy="454.5" r="1.4" fill="url(#gr)" opacity="0.62"/>
<circle cx="468.9" cy="480.4" r="1.6" fill="url(#gr)" opacity="0.82"/>
<circle cx="538.1" cy="455.7" r="3.0" fill="url(#gr)" opacity="0.66"/>
<circle cx="484.0" cy="436.2" r="1.6" fill="url(#gr)" opacity="0.73"/>
<circle cx="520.5" cy="473.8" r="1.7" fill="url(#gr)" opacity="0.58"/>
<circle cx="459.7" cy="450.0" r="2.2" fill="url(#gr)" opacity="0.55"/>
<circle cx="462.2" cy="474.7" r="1.7" fill="url(#gr)" opacity="0.57"/>
<circle cx="523.6" cy="431.2" r="2.6" fill="url(#gr)" opacity="0.57"/>
<circle cx="528.0" cy="460.4" r="1.9" fill="url(#gr)" opacity="0.65"/>
<circle cx="524.5" cy="456.3" r="2.2" fill="url(#gr)" opacity="0.69"/>
<circle cx="468.7" cy="448.4" r="1.7" fill="url(#gr)" opacity="0.88"/>
<circle cx="524.7" cy="482.7" r="1.8" fill="url(#gr)" opacity="0.70"/>
<circle cx="535.2" cy="459.6" r="2.3" fill="url(#gr)" opacity="0.57"/>
<circle cx="520.6" cy="458.3" r="1.7" fill="url(#gr)" opacity="0.76"/>
<circle cx="470.6" cy="451.6" r="1.9" fill="url(#gr)" opacity="0.75"/>
<circle cx="482.6" cy="438.1" r="2.7" fill="url(#gr)" opacity="0.79"/>
<circle cx="486.0" cy="471.9" r="1.5" fill="url(#gr)" opacity="0.68"/>
<circle cx="484.1" cy="461.2" r="2.8" fill="url(#gr)" opacity="0.75"/>
<circle cx="488.6" cy="469.9" r="2.6" fill="url(#gr)" opacity="0.69"/>
<circle cx="512.2" cy="452.4" r="1.3" fill="url(#gr)" opacity="0.58"/>
<circle cx="457.5" cy="454.5" r="1.7" fill="url(#gr)" opacity="0.80"/>
<circle cx="517.1" cy="458.9" r="2.5" fill="url(#gr)" opacity="0.69"/>
<circle cx="469.5" cy="486.3" r="2.2" fill="url(#gr)" opacity="0.65"/>
<circle cx="484.3" cy="490.7" r="1.4" fill="url(#gr)" opacity="0.93"/>
<circle cx="463.0" cy="490.2" r="2.2" fill="url(#gr)" opacity="0.61"/>
<circle cx="477.1" cy="454.6" r="2.3" fill="url(#gr)" opacity="0.91"/>
<circle cx="526.5" cy="441.9" r="2.3" fill="url(#gr)" opacity="0.90"/>
<circle cx="469.7" cy="485.2" r="1.7" fill="url(#gr)" opacity="0.82"/>
<circle cx="496.5" cy="465.0" r="2.7" fill="url(#gr)" opacity="0.61"/>
<circle cx="475.8" cy="496.6" r="2.4" fill="url(#gr)" opacity="0.96"/>
<circle cx="473.1" cy="449.2" r="2.3" fill="url(#gr)" opacity="0.90"/>
<circle cx="497.5" cy="431.2" r="2.1" fill="url(#gr)" opacity="0.90"/>
<circle cx="529.8" cy="432.3" r="2.0" fill="url(#gr)" opacity="0.96"/>
<circle cx="517.0" cy="471.0" r="1.6" fill="url(#gr)" opacity="0.77"/>
<circle cx="489.5" cy="462.6" r="2.1" fill="url(#gr)" opacity="0.59"/>
<circle cx="523.7" cy="458.0" r="1.6" fill="url(#gr)" opacity="0.83"/>
<circle cx="481.2" cy="435.1" r="2.3" fill="url(#gr)" opacity="0.56"/>
<circle cx="532.9" cy="467.6" r="1.8" fill="url(#gr)" opacity="0.97"/>
<circle cx="503.7" cy="426.7" r="2.5" fill="url(#gr)" opacity="0.57"/>
<circle cx="477.2" cy="467.6" r="2.4" fill="url(#gr)" opacity="0.98"/>
<circle cx="524.2" cy="438.8" r="2.2" fill="url(#gr)" opacity="0.60"/>
<circle cx="514.3" cy="457.1" r="2.4" fill="url(#gr)" opacity="0.58"/>
<circle cx="496.1" cy="457.8" r="1.4" fill="url(#gr)" opacity="0.85"/>
<circle cx="538.3" cy="480.6" r="2.9" fill="url(#gr)" opacity="0.59"/>
<circle cx="508.7" cy="468.5" r="2.1" fill="url(#gr)" opacity="0.91"/>
<circle cx="489.0" cy="432.1" r="2.4" fill="url(#gr)" opacity="0.93"/>
<circle cx="485.3" cy="471.9" r="1.6" fill="url(#gr)" opacity="0.99"/>
<circle cx="538.2" cy="426.8" r="2.4" fill="url(#gr)" opacity="0.97"/>
<circle cx="497.8" cy="431.6" r="2.5" fill="url(#gr)" opacity="0.78"/>
<circle cx="482.8" cy="430.0" r="1.7" fill="url(#gr)" opacity="0.92"/>
<circle cx="494.0" cy="464.8" r="2.4" fill="url(#gr)" opacity="0.72"/>
<circle cx="519.2" cy="478.9" r="1.3" fill="url(#gr)" opacity="0.84"/>
<circle cx="455.4" cy="462.9" r="2.9" fill="url(#gr)" opacity="0.92"/>
<circle cx="479.5" cy="494.2" r="1.6" fill="url(#gr)" opacity="0.87"/>
<circle cx="519.6" cy="428.6" r="1.7" fill="url(#gr)" opacity="0.79"/>
<circle cx="539.8" cy="437.9" r="2.1" fill="url(#gr)" opacity="0.95"/>
<circle cx="468.1" cy="487.0" r="2.6" fill="url(#gr)" opacity="0.91"/>
<circle cx="482.9" cy="470.1" r="1.6" fill="url(#gr)" opacity="0.68"/>
<circle cx="523.5" cy="434.0" r="2.2" fill="url(#gr)" opacity="0.59"/>
<circle cx="523.3" cy="472.9" r="1.5" fill="url(#gr)" opacity="0.95"/>
<circle cx="509.8" cy="473.0" r="1.4" fill="url(#gr)" opacity="0.92"/>
<circle cx="513.9" cy="453.9" r="1.4" fill="url(#gr)" opacity="0.90"/>
<circle cx="472.3" cy="483.7" r="2.3" fill="url(#gr)" opacity="0.72"/>
<circle cx="492.1" cy="446.4" r="2.2" fill="url(#gr)" opacity="0.95"/>
<circle cx="502.1" cy="454.2" r="2.5" fill="url(#gr)" opacity="0.99"/>
<circle cx="469.1" cy="466.9" r="2.8" fill="url(#gr)" opacity="0.80"/>
<circle cx="473.7" cy="439.4" r="2.5" fill="url(#gr)" opacity="0.81"/>
<circle cx="459.9" cy="433.5" r="1.8" fill="url(#gr)" opacity="0.80"/>
<circle cx="491.3" cy="447.3" r="1.7" fill="url(#gr)" opacity="0.82"/>
<circle cx="521.5" cy="453.3" r="2.1" fill="url(#gr)" opacity="0.86"/>
<circle cx="484.9" cy="482.6" r="1.3" fill="url(#gr)" opacity="0.67"/>
<circle cx="503.3" cy="434.1" r="1.4" fill="url(#gr)" opacity="0.83"/>
<circle cx="501.9" cy="473.6" r="2.7" fill="url(#gr)" opacity="0.69"/>
<circle cx="532.0" cy="488.8" r="2.9" fill="url(#gr)" opacity="0.69"/>
<circle cx="458.7" cy="482.9" r="1.6" fill="url(#gr)" opacity="0.58"/>
<circle cx="516.0" cy="476.9" r="2.4" fill="url(#gr)" opacity="0.60"/>
<circle cx="515.2" cy="443.7" r="2.1" fill="url(#gr)" opacity="0.85"/>
<circle cx="483.6" cy="452.0" r="2.7" fill="url(#gr)" opacity="0.84"/>
<circle cx="525.5" cy="429.4" r="2.6" fill="url(#gr)" opacity="0.63"/>
<circle cx="481.2" cy="473.4" r="2.6" fill="url(#gr)" opacity="0.84"/>
<circle cx="497.1" cy="465.2" r="2.3" fill="url(#gr)" opacity="0.65"/>
<circle cx="485.4" cy="457.4" r="1.5" fill="url(#gr)" opacity="0.74"/>
<circle cx="513.2" cy="426.3" r="1.9" fill="url(#gr)" opacity="0.97"/>
<circle cx="531.9" cy="434.9" r="2.8" fill="url(#gr)" opacity="0.96"/>
<circle cx="508.0" cy="441.3" r="2.1" fill="url(#gr)" opacity="0.62"/>
<circle cx="500.9" cy="433.0" r="2.0" fill="url(#gr)" opacity="0.61"/>
<circle cx="512.1" cy="451.4" r="2.7" fill="url(#gr)" opacity="0.92"/>
<circle cx="466.7" cy="479.4" r="2.6" fill="url(#gr)" opacity="0.67"/>
<circle cx="525.0" cy="430.1" r="1.8" fill="url(#gr)" opacity="0.86"/>
<circle cx="523.2" cy="495.2" r="2.2" fill="url(#gr)" opacity="0.88"/>
<circle cx="535.7" cy="494.4" r="1.9" fill="url(#gr)" opacity="0.75"/>
<circle cx="520.2" cy="464.1" r="1.4" fill="url(#gr)" opacity="0.96"/>
<circle cx="486.8" cy="437.3" r="1.9" fill="url(#gr)" opacity="0.56"/>
<circle cx="532.6" cy="436.0" r="1.3" fill="url(#gr)" opacity="0.98"/>
<circle cx="479.9" cy="471.5" r="1.9" fill="url(#gr)" opacity="0.70"/>
<circle cx="533.6" cy="479.5" r="1.9" fill="url(#gr)" opacity="0.92"/>
<circle cx="520.1" cy="489.4" r="2.0" fill="url(#gr)" opacity="0.74"/>
<circle cx="531.5" cy="459.7" r="1.9" fill="url(#gr)" opacity="0.83"/>
<circle cx="513.8" cy="463.9" r="1.4" fill="url(#gr)" opacity="1.00"/>
<circle cx="468.9" cy="468.7" r="1.9" fill="url(#gr)" opacity="0.57"/>
<circle cx="473.4" cy="455.9" r="1.4" fill="url(#gr)" opacity="0.59"/>
<circle cx="498.1" cy="455.4" r="1.4" fill="url(#gr)" opacity="0.69"/>
<circle cx="472.7" cy="488.7" r="2.9" fill="url(#gr)" opacity="0.94"/>
<circle cx="531.0" cy="460.9" r="1.7" fill="url(#gr)" opacity="0.83"/>
<circle cx="472.5" cy="493.5" r="1.7" fill="url(#gr)" opacity="0.81"/>
<circle cx="506.6" cy="433.0" r="2.5" fill="url(#gr)" opacity="0.77"/>
<circle cx="513.7" cy="465.5" r="2.6" fill="url(#gr)" opacity="0.60"/>
<circle cx="472.3" cy="475.7" r="1.5" fill="url(#gr)" opacity="0.73"/>
<circle cx="514.9" cy="435.9" r="2.0" fill="url(#gr)" opacity="0.87"/>
<circle cx="471.0" cy="448.4" r="2.2" fill="url(#gr)" opacity="0.93"/>
<circle cx="498.4" cy="488.3" r="2.1" fill="url(#gr)" opacity="0.60"/>
<circle cx="530.9" cy="457.8" r="1.5" fill="url(#gr)" opacity="0.80"/>
<circle cx="491.2" cy="425.9" r="1.8" fill="url(#gr)" opacity="0.61"/>
<circle cx="487.7" cy="449.3" r="2.9" fill="url(#gr)" opacity="0.57"/>
<circle cx="479.0" cy="427.7" r="1.9" fill="url(#gr)" opacity="0.71"/>
<circle cx="481.1" cy="439.5" r="1.8" fill="url(#gr)" opacity="0.93"/>
<circle cx="531.7" cy="464.4" r="2.3" fill="url(#gr)" opacity="0.66"/>
<circle cx="535.9" cy="427.3" r="2.2" fill="url(#gr)" opacity="0.79"/>
<circle cx="497.4" cy="494.0" r="2.3" fill="url(#gr)" opacity="0.60"/>
<circle cx="462.5" cy="469.3" r="1.3" fill="url(#gr)" opacity="0.72"/>
<circle cx="520.9" cy="459.9" r="3.0" fill="url(#gr)" opacity="0.76"/>
<circle cx="482.7" cy="432.2" r="2.1" fill="url(#gr)" opacity="0.74"/>
<circle cx="515.5" cy="468.6" r="2.8" fill="url(#gr)" opacity="0.76"/>
<circle cx="489.7" cy="433.5" r="2.6" fill="url(#gr)" opacity="0.70"/>
<circle cx="493.5" cy="474.3" r="2.2" fill="url(#gr)" opacity="0.63"/>
<circle cx="511.2" cy="436.7" r="2.8" fill="url(#gr)" opacity="1.00"/>
<circle cx="538.9" cy="461.1" r="1.9" fill="url(#gr)" opacity="0.80"/>
<circle cx="519.6" cy="442.2" r="2.4" fill="url(#gr)" opacity="0.70"/>
<circle cx="486.0" cy="430.7" r="2.5" fill="url(#gr)" opacity="0.70"/>
<circle cx="501.7" cy="464.8" r="2.8" fill="url(#gr)" opacity="0.88"/>
<circle cx="517.5" cy="494.3" r="2.7" fill="url(#gr)" opacity="0.62"/>
<circle cx="528.6" cy="490.2" r="1.6" fill="url(#gr)" opacity="0.68"/>
<circle cx="519.6" cy="490.8" r="1.4" fill="url(#gr)" opacity="0.90"/>
<circle cx="528.9" cy="458.7" r="1.7" fill="url(#gr)" opacity="0.66"/>
<circle cx="473.8" cy="488.3" r="2.6" fill="url(#gr)" opacity="0.67"/>
<circle cx="517.9" cy="485.8" r="1.7" fill="url(#gr)" opacity="0.95"/>
<circle cx="506.6" cy="430.4" r="2.0" fill="url(#gr)" opacity="0.70"/>
<circle cx="470.1" cy="471.8" r="2.0" fill="url(#gr)" opacity="0.98"/>
<circle cx="492.2" cy="467.5" r="2.8" fill="url(#gr)" opacity="0.55"/>
<circle cx="480.3" cy="492.2" r="2.4" fill="url(#gr)" opacity="0.93"/>
<circle cx="458.9" cy="483.9" r="1.7" fill="url(#gr)" opacity="0.69"/>
<circle cx="484.0" cy="464.4" r="2.7" fill="url(#gr)" opacity="0.85"/>
<circle cx="513.4" cy="442.5" r="2.5" fill="url(#gr)" opacity="0.72"/>
<circle cx="525.5" cy="470.5" r="1.6" fill="url(#gr)" opacity="0.73"/>
<circle cx="510.9" cy="473.3" r="1.7" fill="url(#gr)" opacity="0.64"/>
<circle cx="517.5" cy="432.4" r="2.2" fill="url(#gr)" opacity="0.90"/>
<circle cx="470.8" cy="427.5" r="2.9" fill="url(#gr)" opacity="0.92"/>
<circle cx="515.2" cy="480.5" r="2.7" fill="url(#gr)" opacity="0.76"/>
<circle cx="532.5" cy="496.1" r="2.5" fill="url(#gr)" opacity="0.88"/>
<circle cx="457.6" cy="438.8" r="2.2" fill="url(#gr)" opacity="0.90"/>
<circle cx="456.1" cy="491.3" r="2.8" fill="url(#gr)" opacity="0.57"/>
<circle cx="515.9" cy="478.0" r="1.8" fill="url(#gr)" opacity="0.80"/>
<circle cx="468.7" cy="457.1" r="2.8" fill="url(#gr)" opacity="0.74"/>
<circle cx="495.9" cy="449.8" r="2.5" fill="url(#gr)" opacity="0.78"/>
<circle cx="486.6" cy="464.7" r="2.4" fill="url(#gr)" opacity="0.97"/>
<circle cx="479.4" cy="439.5" r="1.7" fill="url(#gr)" opacity="0.66"/>
<circle cx="499.6" cy="434.5" r="1.6" fill="url(#gr)" opacity="0.75"/>
<circle cx="453.8" cy="454.1" r="2.8" fill="url(#gr)" opacity="0.68"/>
<circle cx="504.2" cy="475.3" r="2.5" fill="url(#gr)" opacity="0.98"/>
<circle cx="497.6" cy="440.3" r="2.5" fill="url(#gr)" opacity="0.61"/>
<circle cx="490.5" cy="429.7" r="1.7" fill="url(#gr)" opacity="0.68"/>
<circle cx="505.7" cy="491.0" r="1.4" fill="url(#gr)" opacity="0.98"/>
<circle cx="480.7" cy="446.8" r="1.4" fill="url(#gr)" opacity="0.68"/>
<circle cx="453.2" cy="452.7" r="2.5" fill="url(#gr)" opacity="0.79"/>
<circle cx="473.9" cy="496.5" r="2.8" fill="url(#gr)" opacity="0.83"/>
<circle cx="476.5" cy="453.8" r="1.4" fill="url(#gr)" opacity="0.89"/>
<circle cx="508.2" cy="476.4" r="2.4" fill="url(#gr)" opacity="0.76"/>
<circle cx="496.6" cy="452.7" r="1.8" fill="url(#gr)" opacity="0.58"/>
<circle cx="504.8" cy="467.2" r="2.9" fill="url(#gr)" opacity="0.74"/>
<circle cx="539.1" cy="431.1" r="2.1" fill="url(#gr)" opacity="0.77"/>
<circle cx="504.3" cy="489.9" r="2.3" fill="url(#gr)" opacity="0.85"/>
<circle cx="527.0" cy="497.5" r="1.5" fill="url(#gr)" opacity="0.92"/>
<circle cx="487.3" cy="478.2" r="2.7" fill="url(#gr)" opacity="0.59"/>
<circle cx="457.7" cy="491.3" r="2.2" fill="url(#gr)" opacity="0.92"/>
<circle cx="464.3" cy="464.5" r="2.3" fill="url(#gr)" opacity="0.59"/>
<circle cx="509.3" cy="444.8" r="2.4" fill="url(#gr)" opacity="0.62"/>
<circle cx="513.2" cy="467.8" r="2.6" fill="url(#gr)" opacity="0.84"/>
<circle cx="521.6" cy="426.0" r="1.5" fill="url(#gr)" opacity="0.73"/>
<circle cx="488.6" cy="461.8" r="2.3" fill="url(#gr)" opacity="0.70"/>
<circle cx="478.3" cy="446.6" r="1.9" fill="url(#gr)" opacity="0.78"/>
<circle cx="532.5" cy="440.7" r="2.7" fill="url(#gr)" opacity="0.86"/>
<circle cx="490.0" cy="469.6" r="2.4" fill="url(#gr)" opacity="0.93"/>
<circle cx="458.2" cy="467.6" r="2.1" fill="url(#gr)" opacity="0.68"/>
<circle cx="529.2" cy="445.9" r="2.4" fill="url(#gr)" opacity="0.89"/>
<circle cx="525.7" cy="436.0" r="2.3" fill="url(#gr)" opacity="0.64"/>
<circle cx="522.0" cy="426.7" r="2.0" fill="url(#gr)" opacity="0.95"/>
<circle cx="456.2" cy="446.0" r="2.4" fill="url(#gr)" opacity="0.65"/>
<circle cx="537.1" cy="447.5" r="2.1" fill="url(#gr)" opacity="0.73"/>
<circle cx="504.7" cy="433.0" r="2.3" fill="url(#gr)" opacity="0.79"/>
<circle cx="464.0" cy="441.9" r="1.4" fill="url(#gr)" opacity="0.77"/>
<circle cx="473.9" cy="463.7" r="2.3" fill="url(#gr)" opacity="0.81"/>
<circle cx="473.7" cy="467.9" r="2.4" fill="url(#gr)" opacity="0.80"/>
<circle cx="454.3" cy="426.1" r="1.8" fill="url(#gr)" opacity="0.82"/>
<circle cx="476.9" cy="480.8" r="2.8" fill="url(#gr)" opacity="0.87"/>
<circle cx="460.4" cy="469.9" r="2.7" fill="url(#gr)" opacity="0.96"/>
<circle cx="458.6" cy="467.9" r="1.7" fill="url(#gr)" opacity="0.78"/>
<circle cx="488.2" cy="490.1" r="1.5" fill="url(#gr)" opacity="0.63"/>
<circle cx="515.8" cy="484.9" r="1.8" fill="url(#gr)" opacity="0.99"/>
<circle cx="508.4" cy="479.8" r="1.4" fill="url(#gr)" opacity="0.88"/>
<circle cx="501.1" cy="431.8" r="1.6" fill="url(#gr)" opacity="0.67"/>
<circle cx="539.5" cy="447.6" r="2.3" fill="url(#gr)" opacity="0.67"/>
<circle cx="489.6" cy="460.3" r="1.3" fill="url(#gr)" opacity="0.57"/>
<circle cx="501.2" cy="438.6" r="2.0" fill="url(#gr)" opacity="0.56"/>
<circle cx="499.4" cy="444.4" r="2.4" fill="url(#gr)" opacity="0.89"/>
<circle cx="536.5" cy="490.6" r="2.3" fill="url(#gr)" opacity="0.84"/>
<circle cx="538.2" cy="462.4" r="2.1" fill="url(#gr)" opacity="0.71"/>
<circle cx="481.6" cy="431.1" r="2.6" fill="url(#gr)" opacity="0.82"/>
<circle cx="539.0" cy="442.9" r="1.7" fill="url(#gr)" opacity="0.68"/>
<circle cx="480.6" cy="437.3" r="2.4" fill="url(#gr)" opacity="0.72"/>
<circle cx="458.6" cy="450.5" r="2.2" fill="url(#gr)" opacity="0.57"/>
<circle cx="507.6" cy="491.7" r="2.3" fill="url(#gr)" opacity="0.89"/>
<circle cx="457.9" cy="429.4" r="2.6" fill="url(#gr)" opacity="0.91"/>
<circle cx="468.0" cy="442.9" r="1.7" fill="url(#gr)" opacity="0.85"/>
<circle cx="474.4" cy="489.9" r="2.6" fill="url(#gr)" opacity="0.69"/>
<circle cx="501.5" cy="486.6" r="1.7" fill="url(#gr)" opacity="0.64"/>
<circle cx="504.8" cy="499.0" r="1.6" fill="url(#gr)" opacity="0.76"/>
<circle cx="454.7" cy="439.4" r="2.7" fill="url(#gr)" opacity="0.97"/>
<circle cx="476.2" cy="447.0" r="1.5" fill="url(#gr)" opacity="0.84"/>
<circle cx="488.9" cy="483.6" r="1.8" fill="url(#gr)" opacity="0.77"/>
<circle cx="521.7" cy="432.2" r="1.7" fill="url(#gr)" opacity="0.92"/>
<circle cx="532.4" cy="494.7" r="2.8" fill="url(#gr)" opacity="0.64"/>
<circle cx="475.8" cy="448.5" r="1.5" fill="url(#gr)" opacity="0.81"/>
<circle cx="484.1" cy="432.5" r="2.6" fill="url(#gr)" opacity="0.67"/>
<circle cx="485.6" cy="458.2" r="2.4" fill="url(#gr)" opacity="0.94"/>
<circle cx="535.1" cy="454.2" r="2.7" fill="url(#gr)" opacity="0.90"/>
<circle cx="505.3" cy="456.2" r="1.3" fill="url(#gr)" opacity="0.73"/>
<circle cx="538.7" cy="446.3" r="3.0" fill="url(#gr)" opacity="0.92"/>
<circle cx="521.7" cy="493.1" r="2.2" fill="url(#gr)" opacity="0.94"/>
<circle cx="503.8" cy="481.8" r="1.4" fill="url(#gr)" opacity="0.58"/>
<circle cx="517.1" cy="434.8" r="1.9" fill="url(#gr)" opacity="0.57"/>
<circle cx="533.1" cy="487.7" r="2.9" fill="url(#gr)" opacity="0.98"/>
<circle cx="496.9" cy="452.6" r="1.8" fill="url(#gr)" opacity="0.76"/>
<circle cx="481.1" cy="478.8" r="1.7" fill="url(#gr)" opacity="0.97"/>
<circle cx="499.0" cy="434.5" r="1.8" fill="url(#gr)" opacity="0.63"/>
<circle cx="505.0" cy="478.5" r="1.9" fill="url(#gr)" opacity="0.91"/>
<circle cx="464.9" cy="469.1" r="1.4" fill="url(#gr)" opacity="0.69"/>
<circle cx="507.6" cy="475.1" r="2.1" fill="url(#gr)" opacity="0.90"/>
<circle cx="488.7" cy="468.5" r="1.5" fill="url(#gr)" opacity="0.87"/>
<circle cx="486.3" cy="468.4" r="2.1" fill="url(#gr)" opacity="0.65"/>
<circle cx="524.2" cy="469.7" r="2.1" fill="url(#gr)" opacity="0.56"/>
<circle cx="460.0" cy="483.5" r="2.1" fill="url(#gr)" opacity="0.66"/>
<circle cx="524.5" cy="429.8" r="1.9" fill="url(#gr)" opacity="0.64"/>
<circle cx="536.5" cy="454.4" r="2.5" fill="url(#gr)" opacity="0.59"/>
<circle cx="492.6" cy="431.6" r="2.3" fill="url(#gr)" opacity="0.91"/>
<circle cx="508.7" cy="464.4" r="2.6" fill="url(#gr)" opacity="0.81"/>
<circle cx="457.7" cy="473.9" r="2.6" fill="url(#gr)" opacity="0.83"/>
<circle cx="500.9" cy="497.7" r="1.9" fill="url(#gr)" opacity="0.91"/>
<circle cx="498.7" cy="459.6" r="2.0" fill="url(#gr)" opacity="0.59"/>
<circle cx="512.7" cy="467.2" r="2.6" fill="url(#gr)" opacity="0.97"/>
<circle cx="539.4" cy="458.8" r="1.8" fill="url(#gr)" opacity="0.59"/>
<circle cx="517.1" cy="470.2" r="2.6" fill="url(#gr)" opacity="0.98"/>
<circle cx="474.6" cy="437.5" r="1.5" fill="url(#gr)" opacity="0.62"/>
<circle cx="530.7" cy="439.8" r="1.8" fill="url(#gr)" opacity="0.80"/>
<circle cx="454.9" cy="472.1" r="2.4" fill="url(#gr)" opacity="0.55"/>
<circle cx="462.9" cy="463.6" r="2.9" fill="url(#gr)" opacity="0.76"/>
<circle cx="467.1" cy="434.0" r="1.5" fill="url(#gr)" opacity="0.64"/>
<circle cx="457.1" cy="479.1" r="2.6" fill="url(#gr)" opacity="0.81"/>
<circle cx="461.1" cy="473.4" r="2.0" fill="url(#gr)" opacity="0.71"/>
<circle cx="510.8" cy="454.6" r="1.3" fill="url(#gr)" opacity="0.57"/>
<circle cx="537.8" cy="492.4" r="2.5" fill="url(#gr)" opacity="0.93"/>
<circle cx="510.0" cy="449.4" r="2.3" fill="url(#gr)" opacity="0.74"/>
<circle cx="465.6" cy="436.1" r="2.8" fill="url(#gr)" opacity="0.78"/>
<circle cx="511.8" cy="444.2" r="1.7" fill="url(#gr)" opacity="0.58"/>
<circle cx="493.6" cy="493.7" r="2.8" fill="url(#gr)" opacity="0.82"/>
<circle cx="525.8" cy="461.1" r="2.5" fill="url(#gr)" opacity="0.82"/>
<circle cx="496.2" cy="437.0" r="2.2" fill="url(#gr)" opacity="0.68"/>
<circle cx="524.0" cy="484.9" r="2.5" fill="url(#gr)" opacity="0.72"/>
<circle cx="469.8" cy="426.8" r="1.6" fill="url(#gr)" opacity="0.64"/>
<circle cx="490.0" cy="425.7" r="1.4" fill="url(#gr)" opacity="0.57"/>
<circle cx="495.0" cy="474.3" r="2.6" fill="url(#gr)" opacity="0.94"/>
<circle cx="455.6" cy="462.1" r="2.2" fill="url(#gr)" opacity="0.77"/>
<circle cx="461.5" cy="438.5" r="2.7" fill="url(#gr)" opacity="0.82"/>
<circle cx="475.6" cy="462.8" r="2.7" fill="url(#gr)" opacity="0.79"/>
<circle cx="469.6" cy="454.0" r="2.9" fill="url(#gr)" opacity="0.94"/>
<circle cx="506.4" cy="465.5" r="1.5" fill="url(#gr)" opacity="0.91"/>
<circle cx="473.9" cy="482.0" r="2.2" fill="url(#gr)" opacity="0.91"/>
</g>
<rect x="453.10" y="425.70" width="14.50" height="28.30" fill="#2a4c45" stroke="#e8eef0" stroke-width="0.6"/>
<rect x="456.90" y="495.60" width="16" height="1.3" fill="#f4f4f4"/>
<clipPath id="clip5"><rect x="556.40" y="428.20" width="87.00" height="74.20"/></clipPath>
<g clip-path="url(#clip5)"><rect x="556.40" y="428.20" width="87.00" height="74.20" fill="#454545"/>
<circle cx="610.6" cy="483.2" r="3.7" fill="url(#gr)" opacity="0.97"/>
<circle cx="620.8" cy="496.6" r="1.9" fill="url(#gr)" opacity="0.76"/>
<circle cx="638.5" cy="476.4" r="4.0" fill="url(#gr)" opacity="0.60"/>
<circle cx="597.2" cy="446.5" r="3.1" fill="url(#gr)" opacity="0.81"/>
<circle cx="557.5" cy="444.3" r="2.5" fill="url(#gr)" opacity="0.96"/>
<circle cx="623.0" cy="440.0" r="3.7" fill="url(#gr)" opacity="0.61"/>
<circle cx="610.1" cy="437.6" r="1.8" fill="url(#gr)" opacity="0.94"/>
<circle cx="574.6" cy="444.2" r="4.2" fill="url(#gr)" opacity="0.94"/>
<circle cx="581.6" cy="499.5" r="3.1" fill="url(#gr)" opacity="0.86"/>
<circle cx="574.2" cy="498.0" r="3.5" fill="url(#gr)" opacity="0.98"/>
<circle cx="634.2" cy="450.4" r="2.7" fill="url(#gr)" opacity="0.62"/>
<circle cx="569.1" cy="433.0" r="2.5" fill="url(#gr)" opacity="0.82"/>
<circle cx="556.7" cy="478.5" r="2.6" fill="url(#gr)" opacity="0.69"/>
<circle cx="627.6" cy="463.9" r="2.6" fill="url(#gr)" opacity="0.77"/>
<circle cx="617.7" cy="432.4" r="4.1" fill="url(#gr)" opacity="0.56"/>
<circle cx="621.6" cy="490.9" r="1.8" fill="url(#gr)" opacity="0.90"/>
<circle cx="588.3" cy="471.1" r="1.8" fill="url(#gr)" opacity="0.57"/>
<circle cx="572.1" cy="499.1" r="2.3" fill="url(#gr)" opacity="0.89"/>
<circle cx="637.3" cy="498.1" r="2.6" fill="url(#gr)" opacity="0.71"/>
<circle cx="602.0" cy="485.7" r="2.1" fill="url(#gr)" opacity="0.89"/>
<circle cx="625.8" cy="492.0" r="1.9" fill="url(#gr)" opacity="0.98"/>
<circle cx="564.3" cy="453.5" r="3.3" fill="url(#gr)" opacity="0.96"/>
<circle cx="586.0" cy="496.8" r="3.1" fill="url(#gr)" opacity="0.69"/>
<circle cx="584.0" cy="441.4" r="2.0" fill="url(#gr)" opacity="0.62"/>
<circle cx="616.4" cy="502.2" r="2.2" fill="url(#gr)" opacity="0.57"/>
<circle cx="642.2" cy="467.8" r="2.8" fill="url(#gr)" opacity="0.66"/>
<circle cx="608.1" cy="489.5" r="2.9" fill="url(#gr)" opacity="0.74"/>
<circle cx="561.2" cy="496.2" r="1.9" fill="url(#gr)" opacity="0.77"/>
<circle cx="629.3" cy="437.9" r="3.6" fill="url(#gr)" opacity="0.98"/>
<circle cx="611.2" cy="486.7" r="2.1" fill="url(#gr)" opacity="0.75"/>
<circle cx="569.4" cy="490.9" r="2.5" fill="url(#gr)" opacity="0.75"/>
<circle cx="643.3" cy="491.4" r="4.1" fill="url(#gr)" opacity="0.75"/>
<circle cx="598.9" cy="482.3" r="2.9" fill="url(#gr)" opacity="0.68"/>
<circle cx="591.5" cy="439.1" r="2.7" fill="url(#gr)" opacity="0.99"/>
<circle cx="639.9" cy="474.7" r="3.0" fill="url(#gr)" opacity="0.70"/>
<circle cx="564.2" cy="448.4" r="3.7" fill="url(#gr)" opacity="0.94"/>
<circle cx="587.8" cy="486.5" r="3.7" fill="url(#gr)" opacity="0.86"/>
<circle cx="614.2" cy="484.6" r="2.7" fill="url(#gr)" opacity="0.87"/>
<circle cx="580.8" cy="464.2" r="3.6" fill="url(#gr)" opacity="0.86"/>
<circle cx="582.0" cy="498.4" r="3.4" fill="url(#gr)" opacity="0.81"/>
<circle cx="557.4" cy="468.8" r="2.4" fill="url(#gr)" opacity="0.85"/>
<circle cx="596.7" cy="488.8" r="3.4" fill="url(#gr)" opacity="0.91"/>
<circle cx="586.7" cy="476.0" r="3.6" fill="url(#gr)" opacity="0.92"/>
<circle cx="586.9" cy="490.7" r="3.9" fill="url(#gr)" opacity="0.86"/>
<circle cx="641.3" cy="499.2" r="3.0" fill="url(#gr)" opacity="0.79"/>
<circle cx="570.9" cy="490.3" r="4.0" fill="url(#gr)" opacity="0.76"/>
<circle cx="616.6" cy="481.6" r="3.6" fill="url(#gr)" opacity="0.63"/>
<circle cx="624.3" cy="471.3" r="3.4" fill="url(#gr)" opacity="0.74"/>
<circle cx="610.7" cy="485.7" r="3.3" fill="url(#gr)" opacity="0.87"/>
<circle cx="558.8" cy="440.1" r="2.9" fill="url(#gr)" opacity="0.84"/>
<circle cx="575.5" cy="479.1" r="3.3" fill="url(#gr)" opacity="0.57"/>
<circle cx="597.4" cy="445.0" r="1.9" fill="url(#gr)" opacity="0.61"/>
<circle cx="584.0" cy="441.7" r="2.3" fill="url(#gr)" opacity="0.57"/>
<circle cx="596.9" cy="456.4" r="3.3" fill="url(#gr)" opacity="0.82"/>
<circle cx="577.1" cy="495.2" r="1.8" fill="url(#gr)" opacity="0.73"/>
<circle cx="580.6" cy="458.6" r="2.1" fill="url(#gr)" opacity="0.92"/>
<circle cx="588.9" cy="430.9" r="3.3" fill="url(#gr)" opacity="0.59"/>
<circle cx="603.8" cy="453.4" r="3.2" fill="url(#gr)" opacity="0.98"/>
<circle cx="627.6" cy="459.3" r="3.8" fill="url(#gr)" opacity="0.84"/>
<circle cx="588.5" cy="438.7" r="3.2" fill="url(#gr)" opacity="0.80"/>
<circle cx="639.7" cy="500.0" r="3.3" fill="url(#gr)" opacity="0.71"/>
<circle cx="634.1" cy="428.3" r="2.1" fill="url(#gr)" opacity="0.80"/>
<circle cx="609.9" cy="438.6" r="3.3" fill="url(#gr)" opacity="0.95"/>
<circle cx="589.1" cy="460.2" r="2.3" fill="url(#gr)" opacity="0.68"/>
<circle cx="641.0" cy="456.4" r="4.1" fill="url(#gr)" opacity="0.96"/>
<circle cx="608.2" cy="447.5" r="4.2" fill="url(#gr)" opacity="0.77"/>
<circle cx="592.5" cy="451.9" r="4.2" fill="url(#gr)" opacity="0.77"/>
<circle cx="581.3" cy="463.6" r="2.1" fill="url(#gr)" opacity="0.83"/>
<circle cx="595.0" cy="449.9" r="3.7" fill="url(#gr)" opacity="0.92"/>
<circle cx="557.5" cy="467.7" r="2.5" fill="url(#gr)" opacity="0.97"/>
<circle cx="624.4" cy="446.4" r="2.4" fill="url(#gr)" opacity="0.62"/>
<circle cx="642.4" cy="450.0" r="3.3" fill="url(#gr)" opacity="0.76"/>
<circle cx="612.5" cy="473.0" r="3.6" fill="url(#gr)" opacity="0.60"/>
<circle cx="622.6" cy="450.5" r="3.1" fill="url(#gr)" opacity="0.70"/>
<circle cx="582.2" cy="467.5" r="2.9" fill="url(#gr)" opacity="0.71"/>
<circle cx="621.2" cy="472.0" r="1.9" fill="url(#gr)" opacity="0.66"/>
<circle cx="596.0" cy="496.2" r="3.9" fill="url(#gr)" opacity="0.80"/>
<circle cx="557.7" cy="486.0" r="2.8" fill="url(#gr)" opacity="0.81"/>
<circle cx="618.0" cy="475.1" r="3.0" fill="url(#gr)" opacity="0.96"/>
<circle cx="589.9" cy="457.3" r="3.8" fill="url(#gr)" opacity="0.64"/>
<circle cx="582.2" cy="489.8" r="2.0" fill="url(#gr)" opacity="0.93"/>
<circle cx="616.8" cy="460.3" r="2.5" fill="url(#gr)" opacity="0.90"/>
<circle cx="635.6" cy="438.8" r="2.9" fill="url(#gr)" opacity="0.80"/>
<circle cx="599.7" cy="452.7" r="2.2" fill="url(#gr)" opacity="0.81"/>
<circle cx="627.0" cy="433.3" r="2.4" fill="url(#gr)" opacity="0.92"/>
<circle cx="625.3" cy="477.4" r="1.9" fill="url(#gr)" opacity="0.88"/>
<circle cx="641.5" cy="502.3" r="3.5" fill="url(#gr)" opacity="0.57"/>
<circle cx="629.7" cy="444.5" r="3.3" fill="url(#gr)" opacity="0.98"/>
<circle cx="618.4" cy="438.2" r="2.5" fill="url(#gr)" opacity="0.96"/>
<circle cx="569.4" cy="473.5" r="2.8" fill="url(#gr)" opacity="0.62"/>
<circle cx="610.5" cy="431.4" r="2.1" fill="url(#gr)" opacity="0.72"/>
<circle cx="562.7" cy="432.5" r="3.2" fill="url(#gr)" opacity="0.88"/>
<circle cx="632.8" cy="438.2" r="2.8" fill="url(#gr)" opacity="0.69"/>
<circle cx="608.6" cy="464.5" r="4.1" fill="url(#gr)" opacity="0.72"/>
<circle cx="561.3" cy="479.9" r="2.2" fill="url(#gr)" opacity="0.83"/>
<circle cx="600.4" cy="495.8" r="3.1" fill="url(#gr)" opacity="0.83"/>
<circle cx="579.3" cy="469.1" r="2.4" fill="url(#gr)" opacity="0.89"/>
<circle cx="601.4" cy="438.1" r="2.4" fill="url(#gr)" opacity="0.72"/>
<circle cx="620.5" cy="441.5" r="3.5" fill="url(#gr)" opacity="0.84"/>
<circle cx="563.8" cy="477.8" r="2.0" fill="url(#gr)" opacity="0.61"/>
<circle cx="608.1" cy="445.9" r="3.9" fill="url(#gr)" opacity="0.77"/>
<circle cx="584.5" cy="487.3" r="1.9" fill="url(#gr)" opacity="0.88"/>
<circle cx="561.1" cy="439.4" r="4.1" fill="url(#gr)" opacity="0.86"/>
<circle cx="575.8" cy="436.8" r="4.1" fill="url(#gr)" opacity="0.85"/>
<circle cx="627.8" cy="438.6" r="3.3" fill="url(#gr)" opacity="0.71"/>
<circle cx="576.8" cy="452.9" r="3.3" fill="url(#gr)" opacity="0.71"/>
<circle cx="590.0" cy="438.3" r="3.8" fill="url(#gr)" opacity="0.84"/>
<circle cx="626.4" cy="460.4" r="3.8" fill="url(#gr)" opacity="0.78"/>
<circle cx="608.0" cy="470.7" r="3.6" fill="url(#gr)" opacity="0.73"/>
<circle cx="564.8" cy="430.7" r="2.3" fill="url(#gr)" opacity="0.57"/>
<circle cx="633.8" cy="463.9" r="3.6" fill="url(#gr)" opacity="0.55"/>
<circle cx="597.3" cy="494.2" r="3.3" fill="url(#gr)" opacity="0.74"/>
<circle cx="596.9" cy="435.6" r="2.2" fill="url(#gr)" opacity="0.62"/>
<circle cx="589.0" cy="456.8" r="3.9" fill="url(#gr)" opacity="0.62"/>
<circle cx="578.5" cy="448.8" r="2.2" fill="url(#gr)" opacity="0.68"/>
<circle cx="576.9" cy="464.0" r="1.9" fill="url(#gr)" opacity="0.97"/>
<circle cx="588.5" cy="497.8" r="3.5" fill="url(#gr)" opacity="0.85"/>
<circle cx="597.4" cy="498.3" r="2.1" fill="url(#gr)" opacity="0.85"/>
<circle cx="581.7" cy="478.2" r="3.6" fill="url(#gr)" opacity="0.62"/>
<circle cx="573.9" cy="430.0" r="2.4" fill="url(#gr)" opacity="0.59"/>
<circle cx="591.3" cy="500.4" r="2.7" fill="url(#gr)" opacity="0.69"/>
<circle cx="597.1" cy="449.2" r="3.6" fill="url(#gr)" opacity="0.87"/>
<circle cx="570.6" cy="446.0" r="3.4" fill="url(#gr)" opacity="0.97"/>
<circle cx="612.6" cy="460.2" r="4.1" fill="url(#gr)" opacity="0.55"/>
<circle cx="561.7" cy="486.0" r="2.8" fill="url(#gr)" opacity="0.57"/>
<circle cx="604.1" cy="501.6" r="3.0" fill="url(#gr)" opacity="0.71"/>
<circle cx="564.6" cy="433.5" r="4.0" fill="url(#gr)" opacity="0.77"/>
<circle cx="637.8" cy="432.2" r="2.4" fill="url(#gr)" opacity="0.57"/>
<circle cx="591.0" cy="432.7" r="2.4" fill="url(#gr)" opacity="0.73"/>
<circle cx="583.0" cy="432.0" r="1.9" fill="url(#gr)" opacity="0.99"/>
<circle cx="572.0" cy="465.9" r="2.8" fill="url(#gr)" opacity="0.79"/>
<circle cx="563.7" cy="451.5" r="2.1" fill="url(#gr)" opacity="0.79"/>
<circle cx="636.6" cy="472.6" r="3.9" fill="url(#gr)" opacity="0.65"/>
<circle cx="557.9" cy="468.2" r="3.0" fill="url(#gr)" opacity="0.81"/>
<circle cx="589.2" cy="474.6" r="3.5" fill="url(#gr)" opacity="0.96"/>
<circle cx="583.2" cy="461.5" r="3.8" fill="url(#gr)" opacity="0.65"/>
<circle cx="566.5" cy="451.3" r="2.0" fill="url(#gr)" opacity="0.90"/>
<circle cx="627.7" cy="451.4" r="2.1" fill="url(#gr)" opacity="0.59"/>
<circle cx="577.7" cy="434.5" r="2.8" fill="url(#gr)" opacity="0.81"/>
<circle cx="577.7" cy="432.8" r="3.5" fill="url(#gr)" opacity="0.57"/>
<circle cx="573.8" cy="449.4" r="2.7" fill="url(#gr)" opacity="0.59"/>
<circle cx="593.0" cy="451.5" r="3.6" fill="url(#gr)" opacity="0.80"/>
<circle cx="634.4" cy="476.7" r="3.6" fill="url(#gr)" opacity="0.81"/>
<circle cx="594.9" cy="488.8" r="3.4" fill="url(#gr)" opacity="0.98"/>
<circle cx="619.7" cy="480.2" r="2.4" fill="url(#gr)" opacity="0.92"/>
<circle cx="589.7" cy="437.9" r="2.0" fill="url(#gr)" opacity="0.63"/>
<circle cx="579.2" cy="478.4" r="2.5" fill="url(#gr)" opacity="0.58"/>
<circle cx="622.8" cy="469.5" r="1.9" fill="url(#gr)" opacity="0.57"/>
<circle cx="567.7" cy="454.7" r="3.9" fill="url(#gr)" opacity="0.98"/>
<circle cx="609.6" cy="445.3" r="2.8" fill="url(#gr)" opacity="0.71"/>
<circle cx="585.1" cy="429.1" r="3.2" fill="url(#gr)" opacity="0.92"/>
<circle cx="619.6" cy="435.3" r="3.1" fill="url(#gr)" opacity="0.63"/>
<circle cx="618.1" cy="461.3" r="4.1" fill="url(#gr)" opacity="0.91"/>
<circle cx="566.7" cy="451.7" r="4.0" fill="url(#gr)" opacity="0.76"/>
<circle cx="594.2" cy="461.0" r="3.6" fill="url(#gr)" opacity="0.97"/>
<circle cx="602.7" cy="500.1" r="3.2" fill="url(#gr)" opacity="0.60"/>
<circle cx="627.2" cy="459.3" r="1.9" fill="url(#gr)" opacity="0.99"/>
<circle cx="559.3" cy="471.0" r="3.0" fill="url(#gr)" opacity="0.95"/>
<circle cx="590.6" cy="444.2" r="2.5" fill="url(#gr)" opacity="0.64"/>
<circle cx="605.3" cy="454.7" r="3.6" fill="url(#gr)" opacity="0.66"/>
<circle cx="587.0" cy="446.6" r="4.2" fill="url(#gr)" opacity="0.93"/>
<circle cx="630.3" cy="474.1" r="2.8" fill="url(#gr)" opacity="0.61"/>
<circle cx="628.8" cy="464.6" r="1.9" fill="url(#gr)" opacity="0.63"/>
<circle cx="565.0" cy="481.5" r="4.0" fill="url(#gr)" opacity="0.64"/>
<circle cx="625.7" cy="452.2" r="3.4" fill="url(#gr)" opacity="0.94"/>
<circle cx="610.6" cy="487.6" r="2.7" fill="url(#gr)" opacity="0.55"/>
<circle cx="600.9" cy="471.7" r="2.2" fill="url(#gr)" opacity="0.73"/>
<circle cx="584.0" cy="430.2" r="2.5" fill="url(#gr)" opacity="0.72"/>
<circle cx="597.8" cy="480.4" r="2.8" fill="url(#gr)" opacity="0.99"/>
<circle cx="627.4" cy="496.8" r="3.5" fill="url(#gr)" opacity="0.85"/>
<circle cx="603.1" cy="487.5" r="2.7" fill="url(#gr)" opacity="0.82"/>
<circle cx="615.5" cy="466.9" r="2.5" fill="url(#gr)" opacity="0.58"/>
<circle cx="564.0" cy="454.6" r="3.2" fill="url(#gr)" opacity="0.89"/>
<circle cx="618.6" cy="451.0" r="4.0" fill="url(#gr)" opacity="0.67"/>
<circle cx="618.7" cy="433.5" r="3.6" fill="url(#gr)" opacity="0.85"/>
<circle cx="639.7" cy="494.8" r="3.5" fill="url(#gr)" opacity="0.93"/>
<circle cx="620.7" cy="473.5" r="2.3" fill="url(#gr)" opacity="0.78"/>
<circle cx="634.4" cy="445.9" r="4.1" fill="url(#gr)" opacity="0.79"/>
<circle cx="590.6" cy="428.4" r="2.7" fill="url(#gr)" opacity="0.63"/>
<circle cx="613.2" cy="494.9" r="4.0" fill="url(#gr)" opacity="0.83"/>
<circle cx="590.0" cy="436.3" r="3.5" fill="url(#gr)" opacity="0.80"/>
<circle cx="618.6" cy="456.0" r="3.9" fill="url(#gr)" opacity="0.65"/>
<circle cx="583.0" cy="448.1" r="3.3" fill="url(#gr)" opacity="0.95"/>
<circle cx="571.0" cy="475.2" r="3.6" fill="url(#gr)" opacity="0.65"/>
<circle cx="561.9" cy="470.2" r="3.8" fill="url(#gr)" opacity="0.95"/>
<circle cx="619.7" cy="459.1" r="2.8" fill="url(#gr)" opacity="0.79"/>
<circle cx="635.1" cy="450.6" r="2.5" fill="url(#gr)" opacity="0.82"/>
<circle cx="640.5" cy="442.1" r="1.9" fill="url(#gr)" opacity="0.60"/>
<circle cx="605.3" cy="473.0" r="2.2" fill="url(#gr)" opacity="0.64"/>
<circle cx="608.1" cy="476.2" r="3.5" fill="url(#gr)" opacity="0.88"/>
<circle cx="561.7" cy="464.2" r="3.8" fill="url(#gr)" opacity="0.98"/>
<circle cx="584.1" cy="491.3" r="3.3" fill="url(#gr)" opacity="0.97"/>
<circle cx="576.3" cy="479.9" r="3.8" fill="url(#gr)" opacity="0.76"/>
<circle cx="565.2" cy="442.6" r="2.2" fill="url(#gr)" opacity="0.59"/>
<circle cx="569.6" cy="473.9" r="2.1" fill="url(#gr)" opacity="0.89"/>
<circle cx="620.5" cy="488.8" r="3.7" fill="url(#gr)" opacity="0.87"/>
<circle cx="636.8" cy="499.2" r="3.3" fill="url(#gr)" opacity="0.98"/>
<circle cx="565.4" cy="435.8" r="2.0" fill="url(#gr)" opacity="0.64"/>
<circle cx="589.0" cy="462.2" r="3.4" fill="url(#gr)" opacity="0.88"/>
<circle cx="563.7" cy="458.1" r="3.1" fill="url(#gr)" opacity="0.72"/>
<circle cx="566.6" cy="472.5" r="2.7" fill="url(#gr)" opacity="0.86"/>
<circle cx="599.5" cy="499.6" r="4.1" fill="url(#gr)" opacity="0.58"/>
<circle cx="622.5" cy="481.7" r="2.5" fill="url(#gr)" opacity="0.60"/>
<circle cx="598.1" cy="454.5" r="3.6" fill="url(#gr)" opacity="0.96"/>
<circle cx="589.6" cy="449.8" r="3.0" fill="url(#gr)" opacity="0.86"/>
<circle cx="625.0" cy="470.9" r="2.5" fill="url(#gr)" opacity="0.70"/>
<circle cx="630.2" cy="466.7" r="1.9" fill="url(#gr)" opacity="0.74"/>
<circle cx="577.1" cy="477.6" r="2.0" fill="url(#gr)" opacity="0.67"/>
<circle cx="564.8" cy="463.6" r="4.2" fill="url(#gr)" opacity="0.79"/>
<circle cx="590.0" cy="497.5" r="2.0" fill="url(#gr)" opacity="0.71"/>
<circle cx="626.9" cy="428.6" r="3.6" fill="url(#gr)" opacity="0.71"/>
<circle cx="557.8" cy="446.8" r="2.9" fill="url(#gr)" opacity="0.72"/>
<circle cx="601.4" cy="432.1" r="2.3" fill="url(#gr)" opacity="0.99"/>
<circle cx="594.9" cy="463.2" r="2.0" fill="url(#gr)" opacity="0.68"/>
<circle cx="639.5" cy="479.2" r="3.0" fill="url(#gr)" opacity="0.57"/>
<circle cx="590.6" cy="486.0" r="2.8" fill="url(#gr)" opacity="0.82"/>
<circle cx="634.9" cy="476.1" r="3.3" fill="url(#gr)" opacity="0.57"/>
<circle cx="558.5" cy="485.3" r="2.8" fill="url(#gr)" opacity="0.94"/>
<circle cx="628.2" cy="496.1" r="2.7" fill="url(#gr)" opacity="1.00"/>
<circle cx="622.2" cy="494.4" r="2.2" fill="url(#gr)" opacity="0.90"/>
<circle cx="593.1" cy="500.3" r="4.2" fill="url(#gr)" opacity="0.65"/>
<circle cx="593.1" cy="448.3" r="2.9" fill="url(#gr)" opacity="0.68"/>
<circle cx="614.4" cy="437.4" r="2.2" fill="url(#gr)" opacity="0.76"/>
<circle cx="562.8" cy="456.5" r="4.0" fill="url(#gr)" opacity="0.95"/>
<circle cx="573.5" cy="429.6" r="3.8" fill="url(#gr)" opacity="0.98"/>
<circle cx="608.5" cy="438.3" r="2.4" fill="url(#gr)" opacity="0.96"/>
<circle cx="638.0" cy="430.5" r="2.2" fill="url(#gr)" opacity="0.74"/>
<circle cx="579.6" cy="484.1" r="2.7" fill="url(#gr)" opacity="0.90"/>
<circle cx="569.6" cy="466.7" r="4.1" fill="url(#gr)" opacity="0.87"/>
<circle cx="564.2" cy="436.4" r="3.3" fill="url(#gr)" opacity="0.72"/>
<circle cx="588.5" cy="463.6" r="3.2" fill="url(#gr)" opacity="0.98"/>
<circle cx="577.4" cy="470.4" r="2.4" fill="url(#gr)" opacity="0.80"/>
<circle cx="620.0" cy="438.1" r="3.0" fill="url(#gr)" opacity="0.87"/>
<circle cx="557.1" cy="485.4" r="2.8" fill="url(#gr)" opacity="0.78"/>
<circle cx="609.5" cy="487.0" r="1.9" fill="url(#gr)" opacity="0.78"/>
<circle cx="559.7" cy="456.8" r="2.6" fill="url(#gr)" opacity="0.56"/>
<circle cx="582.3" cy="461.6" r="3.4" fill="url(#gr)" opacity="0.97"/>
<circle cx="588.6" cy="467.5" r="3.5" fill="url(#gr)" opacity="0.97"/>
<circle cx="639.0" cy="501.5" r="2.5" fill="url(#gr)" opacity="0.62"/>
<circle cx="637.5" cy="433.9" r="2.9" fill="url(#gr)" opacity="0.88"/>
<circle cx="602.4" cy="457.0" r="4.0" fill="url(#gr)" opacity="0.68"/>
<circle cx="604.4" cy="489.8" r="2.1" fill="url(#gr)" opacity="0.71"/>
<circle cx="599.4" cy="470.2" r="2.3" fill="url(#gr)" opacity="0.75"/>
<circle cx="561.6" cy="434.7" r="2.6" fill="url(#gr)" opacity="0.61"/>
<circle cx="640.6" cy="447.7" r="2.5" fill="url(#gr)" opacity="0.90"/>
<circle cx="620.9" cy="447.6" r="3.8" fill="url(#gr)" opacity="0.83"/>
<circle cx="590.2" cy="474.9" r="2.4" fill="url(#gr)" opacity="0.67"/>
<circle cx="632.7" cy="460.7" r="4.0" fill="url(#gr)" opacity="0.63"/>
<circle cx="568.3" cy="432.1" r="3.6" fill="url(#gr)" opacity="0.80"/>
<circle cx="557.2" cy="431.4" r="3.8" fill="url(#gr)" opacity="0.77"/>
<circle cx="632.2" cy="431.2" r="3.2" fill="url(#gr)" opacity="0.60"/>
<circle cx="619.1" cy="473.6" r="3.3" fill="url(#gr)" opacity="0.65"/>
<circle cx="639.0" cy="436.4" r="2.0" fill="url(#gr)" opacity="0.86"/>
<circle cx="564.5" cy="433.2" r="2.9" fill="url(#gr)" opacity="0.84"/>
<circle cx="634.0" cy="481.7" r="2.0" fill="url(#gr)" opacity="0.84"/>
<circle cx="629.8" cy="437.1" r="3.6" fill="url(#gr)" opacity="0.67"/>
<circle cx="582.4" cy="428.3" r="3.6" fill="url(#gr)" opacity="0.78"/>
<circle cx="634.9" cy="462.7" r="2.2" fill="url(#gr)" opacity="0.65"/>
<circle cx="579.3" cy="498.5" r="2.3" fill="url(#gr)" opacity="0.59"/>
<circle cx="587.1" cy="434.1" r="2.8" fill="url(#gr)" opacity="0.83"/>
<circle cx="613.0" cy="441.2" r="2.1" fill="url(#gr)" opacity="0.77"/>
<circle cx="616.2" cy="461.4" r="3.2" fill="url(#gr)" opacity="0.96"/>
<circle cx="569.0" cy="448.1" r="3.0" fill="url(#gr)" opacity="0.79"/>
<circle cx="634.7" cy="469.4" r="3.4" fill="url(#gr)" opacity="0.74"/>
<circle cx="624.6" cy="490.2" r="2.5" fill="url(#gr)" opacity="0.60"/>
<circle cx="579.0" cy="454.7" r="3.9" fill="url(#gr)" opacity="0.67"/>
<circle cx="611.2" cy="475.7" r="4.1" fill="url(#gr)" opacity="0.60"/>
<circle cx="623.4" cy="453.2" r="2.0" fill="url(#gr)" opacity="0.83"/>
<circle cx="629.9" cy="471.4" r="1.9" fill="url(#gr)" opacity="0.99"/>
<circle cx="589.8" cy="475.4" r="3.5" fill="url(#gr)" opacity="0.67"/>
<circle cx="591.9" cy="452.6" r="2.0" fill="url(#gr)" opacity="0.58"/>
<circle cx="618.8" cy="458.7" r="3.9" fill="url(#gr)" opacity="0.58"/>
<circle cx="582.6" cy="441.6" r="4.1" fill="url(#gr)" opacity="0.91"/>
<circle cx="634.4" cy="465.8" r="2.1" fill="url(#gr)" opacity="0.74"/>
<circle cx="576.1" cy="430.2" r="3.2" fill="url(#gr)" opacity="0.68"/>
<circle cx="565.8" cy="466.2" r="4.0" fill="url(#gr)" opacity="0.98"/>
<circle cx="597.0" cy="435.8" r="3.6" fill="url(#gr)" opacity="0.60"/>
<circle cx="603.2" cy="434.4" r="4.2" fill="url(#gr)" opacity="0.79"/>
<circle cx="594.5" cy="448.4" r="3.1" fill="url(#gr)" opacity="0.99"/>
<circle cx="593.6" cy="443.7" r="3.0" fill="url(#gr)" opacity="0.96"/>
<circle cx="589.6" cy="475.2" r="4.0" fill="url(#gr)" opacity="0.70"/>
<circle cx="626.9" cy="467.5" r="2.1" fill="url(#gr)" opacity="0.57"/>
<circle cx="638.1" cy="462.8" r="2.9" fill="url(#gr)" opacity="0.96"/>
<circle cx="606.3" cy="465.3" r="2.5" fill="url(#gr)" opacity="0.88"/>
<circle cx="578.7" cy="463.1" r="3.6" fill="url(#gr)" opacity="0.82"/>
<circle cx="568.1" cy="443.2" r="3.5" fill="url(#gr)" opacity="0.88"/>
<circle cx="565.3" cy="502.2" r="2.1" fill="url(#gr)" opacity="0.63"/>
<circle cx="564.2" cy="461.3" r="3.3" fill="url(#gr)" opacity="0.94"/>
<circle cx="570.6" cy="480.0" r="2.1" fill="url(#gr)" opacity="0.81"/>
<circle cx="578.3" cy="454.6" r="1.9" fill="url(#gr)" opacity="0.87"/>
<circle cx="567.0" cy="484.9" r="2.6" fill="url(#gr)" opacity="0.82"/>
<circle cx="612.0" cy="464.5" r="3.9" fill="url(#gr)" opacity="0.96"/>
<circle cx="580.9" cy="453.0" r="3.9" fill="url(#gr)" opacity="0.61"/>
<circle cx="592.9" cy="459.0" r="4.1" fill="url(#gr)" opacity="0.61"/>
<circle cx="613.4" cy="484.4" r="3.5" fill="url(#gr)" opacity="0.55"/>
<circle cx="638.5" cy="451.4" r="3.8" fill="url(#gr)" opacity="0.85"/>
<circle cx="593.0" cy="490.4" r="3.4" fill="url(#gr)" opacity="0.70"/>
<circle cx="620.1" cy="465.7" r="3.5" fill="url(#gr)" opacity="0.83"/>
<circle cx="625.7" cy="440.0" r="3.0" fill="url(#gr)" opacity="0.55"/>
<circle cx="625.2" cy="485.4" r="3.8" fill="url(#gr)" opacity="0.57"/>
<circle cx="603.0" cy="463.7" r="2.1" fill="url(#gr)" opacity="0.64"/>
<circle cx="641.2" cy="491.5" r="2.4" fill="url(#gr)" opacity="0.92"/>
<circle cx="613.0" cy="456.8" r="3.3" fill="url(#gr)" opacity="0.65"/>
<circle cx="580.2" cy="428.9" r="3.4" fill="url(#gr)" opacity="0.81"/>
<circle cx="621.1" cy="465.6" r="2.8" fill="url(#gr)" opacity="0.69"/>
<circle cx="620.4" cy="455.9" r="3.2" fill="url(#gr)" opacity="0.89"/>
<circle cx="595.1" cy="479.1" r="1.9" fill="url(#gr)" opacity="0.67"/>
<circle cx="629.5" cy="439.1" r="1.9" fill="url(#gr)" opacity="0.56"/>
<circle cx="623.1" cy="436.1" r="2.9" fill="url(#gr)" opacity="0.75"/>
<circle cx="626.3" cy="463.6" r="3.1" fill="url(#gr)" opacity="0.56"/>
<circle cx="625.6" cy="485.1" r="3.3" fill="url(#gr)" opacity="0.93"/>
<circle cx="609.8" cy="481.3" r="3.8" fill="url(#gr)" opacity="0.83"/>
<circle cx="558.2" cy="493.8" r="4.2" fill="url(#gr)" opacity="0.64"/>
<circle cx="562.1" cy="453.4" r="2.0" fill="url(#gr)" opacity="0.72"/>
<circle cx="564.2" cy="444.5" r="1.8" fill="url(#gr)" opacity="0.74"/>
<circle cx="582.5" cy="482.3" r="2.7" fill="url(#gr)" opacity="0.62"/>
<circle cx="639.3" cy="494.6" r="3.5" fill="url(#gr)" opacity="0.65"/>
<circle cx="591.4" cy="461.7" r="2.8" fill="url(#gr)" opacity="0.56"/>
<circle cx="596.0" cy="485.2" r="3.5" fill="url(#gr)" opacity="0.94"/>
<circle cx="615.8" cy="484.8" r="3.9" fill="url(#gr)" opacity="0.96"/>
<circle cx="625.4" cy="459.1" r="3.4" fill="url(#gr)" opacity="0.85"/>
<circle cx="633.2" cy="481.1" r="2.9" fill="url(#gr)" opacity="0.64"/>
<circle cx="584.9" cy="446.8" r="3.4" fill="url(#gr)" opacity="0.90"/>
<circle cx="573.1" cy="467.8" r="3.8" fill="url(#gr)" opacity="0.71"/>
<circle cx="564.6" cy="473.1" r="2.7" fill="url(#gr)" opacity="0.61"/>
<circle cx="581.5" cy="428.7" r="2.2" fill="url(#gr)" opacity="0.74"/>
<circle cx="565.5" cy="428.6" r="3.1" fill="url(#gr)" opacity="0.98"/>
<circle cx="629.0" cy="452.4" r="4.0" fill="url(#gr)" opacity="0.59"/>
<circle cx="569.5" cy="428.7" r="1.9" fill="url(#gr)" opacity="0.82"/>
<circle cx="622.3" cy="463.6" r="3.7" fill="url(#gr)" opacity="0.75"/>
<circle cx="636.3" cy="473.3" r="3.1" fill="url(#gr)" opacity="0.63"/>
<circle cx="593.5" cy="460.9" r="3.8" fill="url(#gr)" opacity="0.65"/>
<circle cx="582.0" cy="488.8" r="2.0" fill="url(#gr)" opacity="0.79"/>
<circle cx="575.5" cy="477.6" r="3.2" fill="url(#gr)" opacity="0.59"/>
<circle cx="619.9" cy="458.4" r="2.6" fill="url(#gr)" opacity="0.94"/>
<circle cx="624.2" cy="451.2" r="3.4" fill="url(#gr)" opacity="0.61"/>
<circle cx="601.5" cy="434.3" r="3.3" fill="url(#gr)" opacity="0.96"/>
<circle cx="611.8" cy="431.2" r="3.0" fill="url(#gr)" opacity="0.76"/>
<circle cx="594.9" cy="439.4" r="2.5" fill="url(#gr)" opacity="0.75"/>
<circle cx="562.6" cy="478.2" r="2.4" fill="url(#gr)" opacity="0.68"/>
<circle cx="564.3" cy="450.7" r="4.0" fill="url(#gr)" opacity="0.68"/>
<circle cx="564.7" cy="453.9" r="4.1" fill="url(#gr)" opacity="0.59"/>
<circle cx="586.2" cy="443.7" r="3.4" fill="url(#gr)" opacity="0.76"/>
<circle cx="565.0" cy="492.2" r="2.6" fill="url(#gr)" opacity="0.86"/>
<circle cx="595.8" cy="492.9" r="1.9" fill="url(#gr)" opacity="0.65"/>
<circle cx="581.2" cy="447.8" r="3.8" fill="url(#gr)" opacity="0.78"/>
<circle cx="586.6" cy="465.8" r="3.8" fill="url(#gr)" opacity="0.81"/>
<circle cx="595.7" cy="476.9" r="3.3" fill="url(#gr)" opacity="0.73"/>
<circle cx="593.5" cy="438.0" r="2.9" fill="url(#gr)" opacity="0.95"/>
<circle cx="583.0" cy="455.3" r="3.2" fill="url(#gr)" opacity="0.82"/>
<circle cx="571.7" cy="461.3" r="3.6" fill="url(#gr)" opacity="0.57"/>
<circle cx="565.9" cy="484.3" r="4.0" fill="url(#gr)" opacity="0.58"/>
<circle cx="563.5" cy="474.7" r="2.5" fill="url(#gr)" opacity="0.85"/>
<circle cx="559.4" cy="462.1" r="2.2" fill="url(#gr)" opacity="0.70"/>
<circle cx="616.7" cy="466.0" r="3.8" fill="url(#gr)" opacity="0.93"/>
<circle cx="610.3" cy="491.1" r="2.2" fill="url(#gr)" opacity="0.76"/>
<circle cx="584.2" cy="474.6" r="2.1" fill="url(#gr)" opacity="0.95"/>
<circle cx="588.6" cy="486.4" r="4.1" fill="url(#gr)" opacity="0.97"/>
<circle cx="590.3" cy="491.8" r="4.2" fill="url(#gr)" opacity="0.61"/>
<circle cx="621.4" cy="482.2" r="2.9" fill="url(#gr)" opacity="0.68"/>
<circle cx="571.5" cy="458.7" r="4.0" fill="url(#gr)" opacity="0.73"/>
<circle cx="578.6" cy="474.2" r="2.8" fill="url(#gr)" opacity="0.83"/>
<circle cx="595.9" cy="449.4" r="1.9" fill="url(#gr)" opacity="0.92"/>
<circle cx="613.7" cy="446.3" r="3.0" fill="url(#gr)" opacity="0.81"/>
<circle cx="600.2" cy="495.0" r="3.7" fill="url(#gr)" opacity="0.69"/>
<circle cx="585.9" cy="473.6" r="2.2" fill="url(#gr)" opacity="0.97"/>
<circle cx="560.4" cy="465.3" r="2.5" fill="url(#gr)" opacity="0.79"/>
<circle cx="560.4" cy="444.8" r="4.2" fill="url(#gr)" opacity="0.90"/>
<circle cx="575.6" cy="462.0" r="1.9" fill="url(#gr)" opacity="0.60"/>
<circle cx="573.1" cy="501.2" r="2.5" fill="url(#gr)" opacity="0.66"/>
<circle cx="562.1" cy="436.4" r="4.2" fill="url(#gr)" opacity="0.88"/>
<circle cx="636.5" cy="490.2" r="3.7" fill="url(#gr)" opacity="0.66"/>
<circle cx="571.1" cy="448.2" r="2.0" fill="url(#gr)" opacity="0.63"/>
<circle cx="619.0" cy="464.6" r="1.8" fill="url(#gr)" opacity="0.69"/>
<circle cx="630.3" cy="491.3" r="3.6" fill="url(#gr)" opacity="0.88"/>
<circle cx="635.7" cy="469.5" r="2.7" fill="url(#gr)" opacity="0.81"/>
<circle cx="581.0" cy="430.9" r="2.4" fill="url(#gr)" opacity="0.76"/>
<circle cx="566.9" cy="434.2" r="2.4" fill="url(#gr)" opacity="0.72"/>
<circle cx="639.7" cy="464.3" r="3.8" fill="url(#gr)" opacity="0.88"/>
<circle cx="607.9" cy="452.1" r="2.7" fill="url(#gr)" opacity="0.69"/>
<circle cx="611.6" cy="491.6" r="3.7" fill="url(#gr)" opacity="0.68"/>
<circle cx="569.4" cy="428.9" r="3.2" fill="url(#gr)" opacity="0.65"/>
<circle cx="556.9" cy="450.6" r="2.3" fill="url(#gr)" opacity="0.64"/>
<circle cx="614.2" cy="471.6" r="2.5" fill="url(#gr)" opacity="0.88"/>
<circle cx="574.4" cy="496.6" r="2.1" fill="url(#gr)" opacity="0.82"/>
<circle cx="617.7" cy="482.5" r="3.0" fill="url(#gr)" opacity="0.94"/>
<circle cx="611.1" cy="479.5" r="2.0" fill="url(#gr)" opacity="0.63"/>
<circle cx="596.9" cy="468.7" r="2.0" fill="url(#gr)" opacity="0.88"/>
<circle cx="586.6" cy="463.5" r="3.1" fill="url(#gr)" opacity="0.93"/>
<circle cx="582.7" cy="469.7" r="3.3" fill="url(#gr)" opacity="0.84"/>
<circle cx="583.6" cy="448.9" r="2.9" fill="url(#gr)" opacity="0.82"/>
<circle cx="612.5" cy="438.1" r="2.9" fill="url(#gr)" opacity="0.80"/>
<circle cx="573.3" cy="435.8" r="4.0" fill="url(#gr)" opacity="0.56"/>
<circle cx="599.8" cy="450.1" r="1.9" fill="url(#gr)" opacity="0.67"/>
<circle cx="570.4" cy="457.9" r="4.0" fill="url(#gr)" opacity="0.59"/>
<circle cx="587.0" cy="479.8" r="3.3" fill="url(#gr)" opacity="0.56"/>
<circle cx="576.3" cy="449.1" r="3.9" fill="url(#gr)" opacity="0.75"/>
<circle cx="578.8" cy="463.8" r="3.0" fill="url(#gr)" opacity="0.62"/>
<circle cx="614.4" cy="481.7" r="2.9" fill="url(#gr)" opacity="0.79"/>
<circle cx="623.4" cy="499.2" r="3.3" fill="url(#gr)" opacity="0.57"/>
<circle cx="600.3" cy="477.3" r="2.6" fill="url(#gr)" opacity="0.86"/>
<circle cx="588.4" cy="473.9" r="3.3" fill="url(#gr)" opacity="0.85"/>
<circle cx="636.9" cy="480.7" r="3.5" fill="url(#gr)" opacity="0.87"/>
<circle cx="576.5" cy="473.8" r="3.3" fill="url(#gr)" opacity="0.58"/>
<circle cx="622.0" cy="445.0" r="3.0" fill="url(#gr)" opacity="0.79"/>
<circle cx="619.2" cy="485.0" r="2.9" fill="url(#gr)" opacity="0.97"/>
<circle cx="594.9" cy="470.2" r="4.2" fill="url(#gr)" opacity="0.70"/>
<circle cx="618.5" cy="499.2" r="2.0" fill="url(#gr)" opacity="0.90"/>
<circle cx="613.1" cy="468.2" r="3.7" fill="url(#gr)" opacity="0.94"/>
<circle cx="569.2" cy="464.3" r="3.3" fill="url(#gr)" opacity="0.86"/>
<circle cx="639.8" cy="487.8" r="3.8" fill="url(#gr)" opacity="0.58"/>
<circle cx="593.5" cy="496.0" r="4.1" fill="url(#gr)" opacity="0.89"/>
<circle cx="585.4" cy="485.3" r="3.1" fill="url(#gr)" opacity="0.85"/>
<circle cx="611.9" cy="492.4" r="3.5" fill="url(#gr)" opacity="0.99"/>
<circle cx="599.3" cy="464.8" r="3.4" fill="url(#gr)" opacity="0.80"/>
<circle cx="560.7" cy="499.4" r="2.6" fill="url(#gr)" opacity="0.77"/>
<circle cx="560.1" cy="442.3" r="4.0" fill="url(#gr)" opacity="0.67"/>
<circle cx="582.4" cy="488.4" r="2.4" fill="url(#gr)" opacity="0.85"/>
<circle cx="605.8" cy="494.7" r="2.9" fill="url(#gr)" opacity="0.70"/>
<circle cx="578.9" cy="455.2" r="1.8" fill="url(#gr)" opacity="0.60"/>
<circle cx="569.3" cy="451.5" r="3.6" fill="url(#gr)" opacity="0.97"/>
<circle cx="587.2" cy="446.7" r="2.5" fill="url(#gr)" opacity="0.83"/>
<circle cx="598.0" cy="436.9" r="3.1" fill="url(#gr)" opacity="0.67"/>
<circle cx="568.9" cy="486.5" r="2.1" fill="url(#gr)" opacity="0.75"/>
<circle cx="623.0" cy="468.5" r="3.9" fill="url(#gr)" opacity="0.69"/>
<circle cx="638.7" cy="431.4" r="3.9" fill="url(#gr)" opacity="0.74"/>
<circle cx="556.7" cy="447.5" r="4.2" fill="url(#gr)" opacity="0.87"/>
<circle cx="620.5" cy="488.4" r="1.8" fill="url(#gr)" opacity="0.69"/>
<circle cx="596.9" cy="495.7" r="4.0" fill="url(#gr)" opacity="0.62"/>
<circle cx="642.3" cy="469.3" r="2.5" fill="url(#gr)" opacity="0.59"/>
</g>
<rect x="556.40" y="428.20" width="14.30" height="28.60" fill="#28493a" stroke="#e8eef0" stroke-width="0.6"/>
<rect x="560.20" y="498.80" width="16" height="1.3" fill="#f4f4f4"/>
<path d="M231.4,432.5 Q237.7,444.1 241.4,443.4 L242.2,441.5 L245.3,448.0 L242.2,454.5 L241.4,452.6 Q237.7,451.9 231.4,463.5 Z" fill="url(#chev)"/>
<path d="M334.9,442.0 Q341.5,453.6 345.4,452.9 L346.3,451.0 L349.5,457.5 L346.3,464.0 L345.4,462.1 Q341.5,461.4 334.9,473.0 Z" fill="url(#chev)"/>
<path d="M437.8,446.2 Q444.6,457.8 448.6,457.1 L449.5,455.2 L452.8,461.7 L449.5,468.2 L448.6,466.3 Q444.6,465.6 437.8,477.2 Z" fill="url(#chev)"/>
<path d="M541.9,449.2 Q548.1,460.4 551.8,459.7 L552.6,457.9 L555.6,464.2 L552.6,470.5 L551.8,468.7 Q548.1,467.9 541.9,479.2 Z" fill="url(#chev)"/>
<path d="M36.90,509.80 C37.25,507.45 38.22,500.20 39.00,495.70 C39.78,491.20 40.53,487.30 41.60,482.80 C42.67,478.30 44.12,473.40 45.40,468.70 C46.68,464.00 48.02,459.32 49.30,454.60 C50.58,449.88 52.03,444.40 53.10,440.40 C54.17,436.40 54.83,433.50 55.70,430.60 C56.57,427.70 57.23,425.40 58.30,423.00 C59.37,420.60 60.60,418.38 62.10,416.20 C63.60,414.02 65.37,411.83 67.30,409.90 C69.23,407.97 71.35,406.22 73.70,404.60 C76.05,402.98 78.40,401.65 81.40,400.20 C84.40,398.75 88.27,397.12 91.70,395.90 C95.13,394.68 99.00,393.68 102.00,392.90 C105.00,392.12 106.70,391.73 109.70,391.20 C112.70,390.67 114.32,390.40 120.00,389.70 C125.68,389.00 132.53,387.82 143.80,387.00 C155.07,386.18 173.00,385.32 187.60,384.80 C202.20,384.28 213.17,384.10 231.40,383.90 C249.63,383.70 268.90,383.65 297.00,383.60 C325.10,383.55 340.53,383.58 400.00,383.60 C459.47,383.62 611.50,383.68 653.80,383.70" fill="none" stroke="#e4828a" stroke-width="1.25"/>
<circle cx="37.30" cy="397.51" r="2.25" fill="#6aa4dc"/>
<circle cx="44.49" cy="409.31" r="2.25" fill="#6aa4dc"/>
<circle cx="51.68" cy="424.13" r="2.25" fill="#6aa4dc"/>
<circle cx="58.87" cy="437.76" r="2.25" fill="#6aa4dc"/>
<circle cx="66.06" cy="447.70" r="2.25" fill="#6aa4dc"/>
<circle cx="73.25" cy="455.41" r="2.25" fill="#6aa4dc"/>
<circle cx="80.44" cy="461.71" r="2.25" fill="#6aa4dc"/>
<circle cx="87.63" cy="466.75" r="2.25" fill="#6aa4dc"/>
<circle cx="94.82" cy="470.99" r="2.25" fill="#6aa4dc"/>
<circle cx="102.01" cy="474.96" r="2.25" fill="#6aa4dc"/>
<circle cx="109.20" cy="477.71" r="2.25" fill="#6aa4dc"/>
<circle cx="116.39" cy="480.43" r="2.25" fill="#6aa4dc"/>
<circle cx="123.58" cy="482.84" r="2.25" fill="#6aa4dc"/>
<circle cx="130.77" cy="484.93" r="2.25" fill="#6aa4dc"/>
<circle cx="137.96" cy="486.86" r="2.25" fill="#6aa4dc"/>
<circle cx="145.15" cy="488.55" r="2.25" fill="#6aa4dc"/>
<circle cx="152.34" cy="490.09" r="2.25" fill="#6aa4dc"/>
<circle cx="159.53" cy="491.58" r="2.25" fill="#6aa4dc"/>
<circle cx="166.72" cy="492.86" r="2.25" fill="#6aa4dc"/>
<circle cx="173.91" cy="493.91" r="2.25" fill="#6aa4dc"/>
<circle cx="181.10" cy="494.82" r="2.25" fill="#6aa4dc"/>
<circle cx="188.29" cy="495.94" r="2.25" fill="#6aa4dc"/>
<circle cx="195.48" cy="496.83" r="2.25" fill="#6aa4dc"/>
<circle cx="202.67" cy="497.72" r="2.25" fill="#6aa4dc"/>
<circle cx="209.86" cy="498.55" r="2.25" fill="#6aa4dc"/>
<circle cx="217.05" cy="499.43" r="2.25" fill="#6aa4dc"/>
<circle cx="224.24" cy="500.13" r="2.25" fill="#6aa4dc"/>
<circle cx="231.43" cy="500.74" r="2.25" fill="#6aa4dc"/>
<circle cx="238.62" cy="501.21" r="2.25" fill="#6aa4dc"/>
<circle cx="245.81" cy="501.61" r="2.25" fill="#6aa4dc"/>
<circle cx="253.00" cy="501.90" r="2.25" fill="#6aa4dc"/>
<circle cx="260.19" cy="502.19" r="2.25" fill="#6aa4dc"/>
<circle cx="267.38" cy="502.48" r="2.25" fill="#6aa4dc"/>
<circle cx="274.57" cy="502.77" r="2.25" fill="#6aa4dc"/>
<circle cx="281.76" cy="503.06" r="2.25" fill="#6aa4dc"/>
<circle cx="288.95" cy="503.35" r="2.25" fill="#6aa4dc"/>
<circle cx="296.14" cy="503.64" r="2.25" fill="#6aa4dc"/>
<circle cx="303.33" cy="503.94" r="2.25" fill="#6aa4dc"/>
<circle cx="310.52" cy="504.24" r="2.25" fill="#6aa4dc"/>
<circle cx="317.71" cy="504.54" r="2.25" fill="#6aa4dc"/>
<circle cx="324.90" cy="504.85" r="2.25" fill="#6aa4dc"/>
<circle cx="332.09" cy="505.15" r="2.25" fill="#6aa4dc"/>
<circle cx="339.28" cy="505.45" r="2.25" fill="#6aa4dc"/>
<circle cx="346.47" cy="505.75" r="2.25" fill="#6aa4dc"/>
<circle cx="353.66" cy="506.07" r="2.25" fill="#6aa4dc"/>
<circle cx="360.85" cy="506.40" r="2.25" fill="#6aa4dc"/>
<circle cx="368.04" cy="506.73" r="2.25" fill="#6aa4dc"/>
<circle cx="375.23" cy="507.06" r="2.25" fill="#6aa4dc"/>
<circle cx="382.42" cy="507.39" r="2.25" fill="#6aa4dc"/>
<circle cx="389.61" cy="507.72" r="2.25" fill="#6aa4dc"/>
<circle cx="396.80" cy="508.05" r="2.25" fill="#6aa4dc"/>
<circle cx="403.99" cy="508.38" r="2.25" fill="#6aa4dc"/>
<circle cx="411.18" cy="508.71" r="2.25" fill="#6aa4dc"/>
<circle cx="418.37" cy="509.04" r="2.25" fill="#6aa4dc"/>
<circle cx="425.56" cy="509.37" r="2.25" fill="#6aa4dc"/>
<circle cx="432.75" cy="509.70" r="2.25" fill="#6aa4dc"/>
<circle cx="439.94" cy="510.02" r="2.25" fill="#6aa4dc"/>
<circle cx="447.13" cy="510.33" r="2.25" fill="#6aa4dc"/>
<circle cx="454.32" cy="510.50" r="2.25" fill="#6aa4dc"/>
<circle cx="461.51" cy="510.67" r="2.25" fill="#6aa4dc"/>
<circle cx="468.70" cy="510.85" r="2.25" fill="#6aa4dc"/>
<circle cx="475.89" cy="511.02" r="2.25" fill="#6aa4dc"/>
<circle cx="483.08" cy="511.19" r="2.25" fill="#6aa4dc"/>
<circle cx="490.27" cy="511.37" r="2.25" fill="#6aa4dc"/>
<circle cx="497.46" cy="511.54" r="2.25" fill="#6aa4dc"/>
<circle cx="504.65" cy="511.69" r="2.25" fill="#6aa4dc"/>
<circle cx="511.84" cy="511.84" r="2.25" fill="#6aa4dc"/>
<circle cx="519.03" cy="511.98" r="2.25" fill="#6aa4dc"/>
<circle cx="526.22" cy="512.12" r="2.25" fill="#6aa4dc"/>
<circle cx="533.41" cy="512.27" r="2.25" fill="#6aa4dc"/>
<circle cx="540.60" cy="512.41" r="2.25" fill="#6aa4dc"/>
<circle cx="547.79" cy="512.56" r="2.25" fill="#6aa4dc"/>
<circle cx="554.98" cy="512.66" r="2.25" fill="#6aa4dc"/>
<circle cx="562.17" cy="512.75" r="2.25" fill="#6aa4dc"/>
<circle cx="569.36" cy="512.83" r="2.25" fill="#6aa4dc"/>
<circle cx="576.55" cy="512.92" r="2.25" fill="#6aa4dc"/>
<circle cx="583.74" cy="513.00" r="2.25" fill="#6aa4dc"/>
<circle cx="590.93" cy="513.09" r="2.25" fill="#6aa4dc"/>
<circle cx="598.12" cy="513.18" r="2.25" fill="#6aa4dc"/>
<circle cx="605.31" cy="513.24" r="2.25" fill="#6aa4dc"/>
<circle cx="612.50" cy="513.29" r="2.25" fill="#6aa4dc"/>
<circle cx="619.69" cy="513.35" r="2.25" fill="#6aa4dc"/>
<circle cx="626.88" cy="513.40" r="2.25" fill="#6aa4dc"/>
<circle cx="634.07" cy="513.46" r="2.25" fill="#6aa4dc"/>
<circle cx="641.26" cy="513.51" r="2.25" fill="#6aa4dc"/>
<circle cx="648.45" cy="513.57" r="2.25" fill="#6aa4dc"/>
<line x1="36.90" y1="373.90" x2="653.80" y2="373.90" stroke="#4a4a4a" stroke-width="1.5" />
<line x1="36.90" y1="517.80" x2="653.80" y2="517.80" stroke="#555" stroke-width="1.7" />
<line x1="36.90" y1="373.30" x2="36.90" y2="517.80" stroke="#a2c5ea" stroke-width="1.6" />
<line x1="653.80" y1="373.30" x2="653.80" y2="517.80" stroke="#e99ca4" stroke-width="1.4" />
<line x1="36.90" y1="517.50" x2="35.70" y2="517.50" stroke="#a2c5ea" stroke-width="1.1" />
<text x="35.30" y="520.91" font-size="9.8" fill="#7da8d8" stroke="#7da8d8" stroke-width="0.1" text-anchor="end" >0</text>
<line x1="36.90" y1="485.59" x2="35.70" y2="485.59" stroke="#a2c5ea" stroke-width="1.1" />
<text x="35.30" y="489.00" font-size="9.8" fill="#7da8d8" stroke="#7da8d8" stroke-width="0.1" text-anchor="end" >20</text>
<line x1="36.90" y1="453.68" x2="35.70" y2="453.68" stroke="#a2c5ea" stroke-width="1.1" />
<text x="35.30" y="457.09" font-size="9.8" fill="#7da8d8" stroke="#7da8d8" stroke-width="0.1" text-anchor="end" >40</text>
<line x1="36.90" y1="421.77" x2="35.70" y2="421.77" stroke="#a2c5ea" stroke-width="1.1" />
<text x="35.30" y="425.18" font-size="9.8" fill="#7da8d8" stroke="#7da8d8" stroke-width="0.1" text-anchor="end" >60</text>
<line x1="36.90" y1="389.86" x2="35.70" y2="389.86" stroke="#a2c5ea" stroke-width="1.1" />
<text x="35.30" y="393.26" font-size="9.8" fill="#7da8d8" stroke="#7da8d8" stroke-width="0.1" text-anchor="end" >80</text>
<line x1="36.90" y1="501.54" x2="36.10" y2="501.54" stroke="#a2c5ea" stroke-width="1.1" />
<line x1="36.90" y1="469.63" x2="36.10" y2="469.63" stroke="#a2c5ea" stroke-width="1.1" />
<line x1="36.90" y1="437.72" x2="36.10" y2="437.72" stroke="#a2c5ea" stroke-width="1.1" />
<line x1="36.90" y1="405.81" x2="36.10" y2="405.81" stroke="#a2c5ea" stroke-width="1.1" />
<line x1="653.80" y1="379.60" x2="655.00" y2="379.60" stroke="#e99ca4" stroke-width="1.1" />
<text x="656.20" y="382.70" font-size="9.5" fill="#e2868f" stroke="#e2868f" stroke-width="0.1" text-anchor="start" >-5</text>
<line x1="653.80" y1="407.15" x2="655.00" y2="407.15" stroke="#e99ca4" stroke-width="1.1" />
<text x="656.20" y="410.25" font-size="9.5" fill="#e2868f" stroke="#e2868f" stroke-width="0.1" text-anchor="start" >-10</text>
<line x1="653.80" y1="434.70" x2="655.00" y2="434.70" stroke="#e99ca4" stroke-width="1.1" />
<text x="656.20" y="437.80" font-size="9.5" fill="#e2868f" stroke="#e2868f" stroke-width="0.1" text-anchor="start" >-15</text>
<line x1="653.80" y1="462.25" x2="655.00" y2="462.25" stroke="#e99ca4" stroke-width="1.1" />
<text x="656.20" y="465.35" font-size="9.5" fill="#e2868f" stroke="#e2868f" stroke-width="0.1" text-anchor="start" >-20</text>
<line x1="653.80" y1="489.80" x2="655.00" y2="489.80" stroke="#e99ca4" stroke-width="1.1" />
<text x="656.20" y="492.90" font-size="9.5" fill="#e2868f" stroke="#e2868f" stroke-width="0.1" text-anchor="start" >-25</text>
<line x1="36.90" y1="517.80" x2="36.90" y2="519.20" stroke="#444" stroke-width="1.1" />
<text x="36.90" y="528.41" font-size="9.8" fill="#222" stroke="#222" stroke-width="0.1" text-anchor="middle" >0</text>
<line x1="139.72" y1="517.80" x2="139.72" y2="519.20" stroke="#444" stroke-width="1.1" />
<text x="139.72" y="528.41" font-size="9.8" fill="#222" stroke="#222" stroke-width="0.1" text-anchor="middle" >20</text>
<line x1="242.53" y1="517.80" x2="242.53" y2="519.20" stroke="#444" stroke-width="1.1" />
<text x="242.53" y="528.41" font-size="9.8" fill="#222" stroke="#222" stroke-width="0.1" text-anchor="middle" >40</text>
<line x1="345.35" y1="517.80" x2="345.35" y2="519.20" stroke="#444" stroke-width="1.1" />
<text x="345.35" y="528.41" font-size="9.8" fill="#222" stroke="#222" stroke-width="0.1" text-anchor="middle" >60</text>
<line x1="448.17" y1="517.80" x2="448.17" y2="519.20" stroke="#444" stroke-width="1.1" />
<text x="448.17" y="528.41" font-size="9.8" fill="#222" stroke="#222" stroke-width="0.1" text-anchor="middle" >80</text>
<line x1="550.98" y1="517.80" x2="550.98" y2="519.20" stroke="#444" stroke-width="1.1" />
<text x="550.98" y="528.41" font-size="9.8" fill="#222" stroke="#222" stroke-width="0.1" text-anchor="middle" >100</text>
<line x1="653.80" y1="517.80" x2="653.80" y2="519.20" stroke="#444" stroke-width="1.1" />
<text x="653.80" y="528.41" font-size="9.8" fill="#222" stroke="#222" stroke-width="0.1" text-anchor="middle" >120</text>
<line x1="88.31" y1="517.80" x2="88.31" y2="518.80" stroke="#444" stroke-width="1.1" />
<line x1="191.12" y1="517.80" x2="191.12" y2="518.80" stroke="#444" stroke-width="1.1" />
<line x1="293.94" y1="517.80" x2="293.94" y2="518.80" stroke="#444" stroke-width="1.1" />
<line x1="396.76" y1="517.80" x2="396.76" y2="518.80" stroke="#444" stroke-width="1.1" />
<line x1="499.57" y1="517.80" x2="499.57" y2="518.80" stroke="#444" stroke-width="1.1" />
<line x1="602.39" y1="517.80" x2="602.39" y2="518.80" stroke="#444" stroke-width="1.1" />
<text x="345.50" y="541.20" font-size="10" fill="#222" stroke="#222" stroke-width="0.1" text-anchor="middle" >Time (s)</text>
<text transform="translate(20.60,445.50) rotate(-90)" font-size="9.5" fill="#222" stroke="#222" stroke-width="0.1" text-anchor="middle">Transmittance (%)</text>
<text transform="translate(678.60,445.70) rotate(-90)" font-size="9.8" fill="#222" stroke="#222" stroke-width="0.1" text-anchor="middle">Current (mA)</text>
<text x="2.60" y="376.70" font-size="18.5" fill="#111" stroke="#111" stroke-width="0.1" text-anchor="start" >e</text>
</svg></body></html>
